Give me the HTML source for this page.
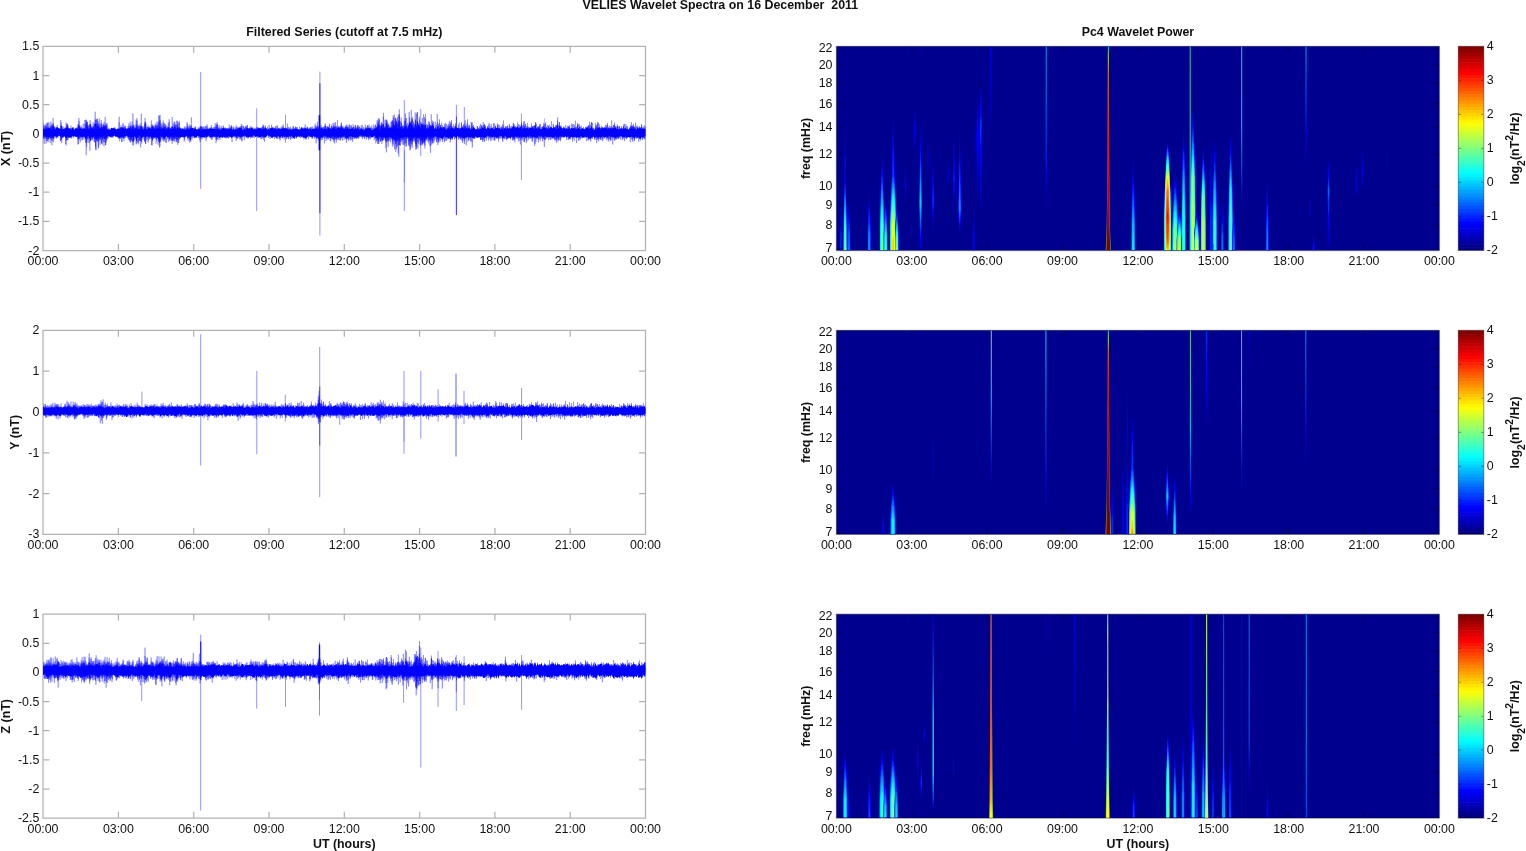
<!DOCTYPE html>
<html lang="en"><head><meta charset="utf-8"><title>VELIES Wavelet Spectra on 16 December 2011</title><style>html,body{margin:0;padding:0;background:#fff;overflow:hidden}svg{display:block}text{white-space:pre}</style></head><body>
<svg width="1526" height="851" viewBox="0 0 1526 851" font-family='"Liberation Sans", Arial, Helvetica, sans-serif' font-size="12.4" fill="#111">
<rect width="1526" height="851" fill="#fff"/>
<defs>
<filter id="bl" x="-5%" y="-5%" width="110%" height="110%"><feGaussianBlur stdDeviation="0.5"/></filter>
<filter id="bl2" x="-5%" y="-5%" width="110%" height="110%"><feGaussianBlur stdDeviation="0.3 0.6"/></filter>
<clipPath id="cs0"><rect x="836.4" y="46.3" width="603" height="204.2"/></clipPath>
<clipPath id="ct0"><rect x="43" y="46.3" width="602.5" height="204.2"/></clipPath>
<clipPath id="cs1"><rect x="836.4" y="330.3" width="603" height="204.1"/></clipPath>
<clipPath id="ct1"><rect x="43" y="330.3" width="602.5" height="204.1"/></clipPath>
<clipPath id="cs2"><rect x="836.4" y="614.2" width="603" height="203.9"/></clipPath>
<clipPath id="ct2"><rect x="43" y="614.2" width="602.5" height="203.9"/></clipPath>
</defs>
<text x="720.3" y="9.2" text-anchor="middle" font-weight="bold">VELIES Wavelet Spectra on 16 December&#160; 2011</text>
<text x="344.3" y="36.3" text-anchor="middle" font-weight="bold">Filtered Series (cutoff at 7.5 mHz)</text>
<text x="1137.9" y="36.3" text-anchor="middle" font-weight="bold">Pc4 Wavelet Power</text>
<path d="M43 46.3H645.5V250.5H43ZM118.4 250.5v-6.4M118.4 46.3v6.4M193.7 250.5v-6.4M193.7 46.3v6.4M269 250.5v-6.4M269 46.3v6.4M344.3 250.5v-6.4M344.3 46.3v6.4M419.6 250.5v-6.4M419.6 46.3v6.4M494.9 250.5v-6.4M494.9 46.3v6.4M570.2 250.5v-6.4M570.2 46.3v6.4M43 75.5h6.4M645.5 75.5h-6.4M43 104.6h6.4M645.5 104.6h-6.4M43 133.8h6.4M645.5 133.8h-6.4M43 163h6.4M645.5 163h-6.4M43 192.2h6.4M645.5 192.2h-6.4M43 221.3h6.4M645.5 221.3h-6.4" fill="none" stroke="#000" stroke-opacity="0.3" stroke-width="1.25"/>
<g clip-path="url(#ct0)">
<polyline points="43,121.7 44.3,144 45,124.3 46,143.5 47.2,123.1 48.1,142.1 49,122.4 50.2,143.1 50.9,121.5 51.9,145.3 53.3,123.1 53.9,139.1 54.8,126.9 55.9,138.1 57.3,125 57.9,137.8 59.1,129 60.2,136.5 60.8,120.1 62,138.2 63.2,126.9 64,135.6 65,128 66.1,145.6 67.2,123.4 68,140.3 68.9,127.8 69.8,138 71,125.7 72.2,136.5 73.3,127 74.1,137.3 74.9,130 76.1,135.8 76.9,127.7 77.9,144.6 78.9,118 80.3,142.1 81.1,125.4 81.8,140.4 83.3,123.4 84,139.7 84.9,120 86.2,155.3 87.1,122.2 88.2,142.9 89.1,127.6 89.9,150.7 90.8,124.3 92.2,140.3 93.1,122 94.1,142.6 95.2,111.7 96.1,150.4 97.3,118.8 98.2,148.7 99.3,118.4 100,144.8 101.2,120.1 102.3,144.9 103.2,123.7 104,146.4 105.2,116.9 106.1,142.6 107,123 108.2,138.2 108.9,127.7 109.9,135.4 111,129.3 111.9,136.8 113.3,128.2 114,136 115.3,127.7 115.9,135.3 116.9,130.2 118.1,138.7 119.2,116.7 120.2,138.6 120.9,126.8 122.1,142.1 123,122.8 124,141 125,125.5 126,136 127.3,128.9 128.3,139.7 128.9,123.4 130.2,142.7 131,124.9 131.9,141.5 132.9,113.3 134.3,140.1 135.2,127.9 136.1,144.6 136.9,118.1 138.3,144.3 139.1,124.4 140.2,141.1 141.3,113.6 142,139.7 143,126.6 143.9,139.5 145.1,118.1 146.3,140.5 147.2,126.8 148,142.7 149,128 150.2,139.2 151.3,120.4 152.1,145.5 152.9,125.9 154.4,138.3 155.3,123.4 156.2,143.6 156.9,121.4 158.1,144.9 159,116.1 159.9,146.3 161.1,122.8 162.2,140.5 163.2,120.4 164,141.9 165,123.8 166.3,143.1 167,126.4 168.2,139.2 169.2,119.2 170,140.9 170.9,127.5 172.2,143.8 173.2,127.7 174,141.5 174.9,122 176.2,142.3 176.9,120.7 178.1,142.5 179.3,121.2 180.3,137.1 181.2,127.8 182.2,137.4 183,129.1 184.2,141.5 185,126.1 186.3,135.6 187.1,122.1 188.2,140.9 189.3,124.3 190.1,140.4 191.4,117.4 192.2,139.2 193.1,127.8 194.4,137.8 195.3,126.3 195.9,135.8 197.1,130 198.3,137.5 199.3,129 200.2,142.2 201.4,126.8 202.1,139.5 203.3,126.1 204.1,137.2 205.1,127 206,141.2 207,124.4 208,137.2 209,127.8 210.1,137.4 211.4,125 212,140.1 213.2,126.9 214,138 215.2,123.1 216,143.2 217.1,122 218.1,140 219.2,125.2 220,139.8 221.2,125.9 222,137.9 223.4,126.5 224.2,137.4 225.3,128.1 226.4,138.5 227.1,128.3 228.4,138.6 229.2,124.5 230.4,136.1 231.4,125 232,142.1 233.3,126.2 234.2,138 235,127.2 236.1,140.9 237.1,126.6 238.2,137.9 239.1,127.1 240.1,137.7 241.4,123.9 242,141.6 243.3,125.8 244.3,140 245.1,126.3 246.3,137.9 247.3,124.9 248.3,138.4 249.5,128.4 250.4,138.4 251.2,126.5 252.1,138.1 253,127.6 254.1,137.9 255.3,128 256.4,136.1 257.1,126.8 258.2,137.8 259.1,128.1 260.4,137.4 261.4,129.2 262,138.3 263,124.3 264.4,141.9 265.2,126.6 266.2,136 267.5,126.7 268.4,138 269.1,125 270.1,139 271.5,124.9 272.5,136.4 273.2,127 274.2,137 275.4,126 276.1,137.9 277.1,125.3 278,139.1 279.1,128.6 280.1,140.7 281.2,129.2 282.4,138.2 283.5,126.8 284.1,139.7 285.1,127.5 286.3,139.2 287.3,123.5 288.4,139.2 289.3,127.6 290.5,139.7 291.1,128.4 292.2,138.8 293.1,126 294.5,138.9 295.5,126.5 296.3,138.6 297.4,129.8 298.3,136.3 299.5,126.4 300.4,138.1 301.3,128.5 302.2,138.1 303.4,128.3 304.1,139.4 305.2,124.4 306.1,139.8 307.2,127 308.5,139.3 309.3,128.1 310.4,137.2 311.1,126.9 312,139.1 313.1,127.8 314.4,138.8 315.1,123.6 316.1,143.4 317.4,121.7 318.3,140.5 319.1,126.3 320.3,140.6 321.1,125 322.2,139.9 323.3,127.1 324.5,143.4 325.2,123.7 326.1,141 327.4,125.8 328.5,139.1 329.4,123.6 330.2,141 331.5,126.1 332.1,138.8 333.1,122.9 334.4,143.5 335.4,122.2 336.3,142.5 337.4,120.2 338.2,140 339.5,127.2 340.2,140.5 341.4,122.4 342.5,140.6 343.3,126.4 344.1,140 345.4,126.9 346.5,142.7 347.2,127.3 348.5,139.6 349.1,125.2 350.4,139.1 351.5,126.5 352.5,141.8 353.1,124.1 354.5,138.9 355.4,124.9 356.5,139.2 357.4,125.3 358.2,138.8 359.4,126.4 360.4,137.1 361.2,125.4 362.3,139.1 363.5,127.1 364.5,139.2 365.3,124.5 366.4,139.7 367.5,125 368.5,140.1 369.1,124.7 370.2,139.4 371.2,127.7 372.3,136.4 373.2,124.2 374.2,140.4 375.5,124.8 376.3,140.6 377.2,119.9 378.2,144.1 379.3,118.6 380.5,141.5 381.4,121.9 382.5,141.1 383.5,112.9 384.6,137.8 385.1,119.7 386.4,152.3 387.2,122.8 388.2,146.8 389.1,124.6 390.5,142.4 391.1,122.1 392.4,146.6 393.2,115.5 394.5,149.4 395.3,119.5 396.1,149.2 397.6,117.1 398.2,153.5 399.3,109.3 400.2,145.9 401.2,117.4 402.3,144.5 403.1,124.7 404.1,145.4 405.4,113.4 406.3,146.3 407.6,122.9 408.6,145.7 409.1,112 410.4,149.5 411.2,109.8 412.1,147.9 413.5,121.5 414.3,141.1 415.2,112.4 416.3,149.1 417.2,112.3 418.4,143.7 419.3,116.7 420.6,145.7 421.4,122.3 422.5,144.6 423.6,114.3 424.2,142.7 425.5,114 426.3,140.1 427.4,124.9 428.4,143.4 429.4,121.7 430.5,152.8 431.2,114.2 432.4,142.7 433.5,121.6 434.3,140.4 435.2,121.6 436.6,142 437.2,113.9 438.4,142.8 439.4,119.4 440.4,141.6 441.6,122.5 442.6,142 443.2,128.8 444.5,142.3 445.5,123.1 446.4,140.4 447.5,127.8 448.1,138.5 449.4,121.1 450.3,142.4 451.5,122.8 452.3,139.7 453.6,124.2 454.5,139.3 455.5,123.3 456.6,136 457.4,128 458.4,139.9 459.2,122.7 460.2,139.5 461.5,123.5 462.5,143 463.5,125.6 464.4,144.1 465.2,120.3 466.2,145.2 467.6,119.3 468.5,139.7 469.2,125.2 470.3,141.5 471.2,121.9 472.3,147.5 473.5,125.1 474.4,138.7 475.6,129.4 476.2,136.1 477.2,126.1 478.6,136.7 479.6,126.2 480.5,139.9 481.3,124.9 482.5,141.8 483.2,122 484.4,142 485.4,126.3 486.2,140.8 487.5,126.1 488.6,140.5 489.2,122.9 490.6,140.8 491.2,123.7 492.5,137.2 493.6,123.3 494.4,140 495.6,126.1 496.6,138.5 497.5,125 498.5,141.6 499.6,127.9 500.3,138.9 501.5,127.6 502.5,140.2 503.5,120.5 504.5,139.4 505.3,126.1 506.6,140.3 507.5,125.5 508.4,137.6 509.3,123.8 510.6,139.7 511.2,129 512.5,140.6 513.3,123.2 514.6,139.2 515.6,126.2 516.4,137.8 517.5,122.5 518.4,141.4 519.2,126.7 520.4,144.5 521.5,122.1 522.5,137.6 523.7,121.4 524.4,142.1 525.5,123.9 526.4,142.9 527.6,122.9 528.7,140.1 529.4,126.9 530.3,138.9 531.4,123.3 532.6,141.6 533.4,125.8 534.7,145.9 535.6,122.1 536.3,138.5 537.5,128.7 538.6,142.3 539.7,124.1 540.3,140.8 541.3,127 542.5,141.5 543.5,126.1 544.3,147 545.7,122.3 546.3,137.4 547.6,124.9 548.6,140.3 549.2,124.8 550.2,140 551.5,121.2 552.3,139.2 553.3,123.8 554.7,139.7 555.5,125 556.4,142.9 557.7,117.4 558.4,140 559.3,122 560.4,141.4 561.5,125.6 562.6,137 563.6,126.6 564.3,137.9 565.5,125.1 566.7,139.9 567.3,125.7 568.3,139.9 569.4,124.9 570.7,139.4 571.4,123.5 572.5,141.7 573.4,128 574.3,140.6 575.4,120.7 576.5,143 577.6,122.8 578.5,140.8 579.6,126.4 580.7,138.9 581.3,125.8 582.6,138 583.4,126.8 584.4,137.4 585.3,127.8 586.6,141.3 587.7,127.2 588.4,139.7 589.6,121.5 590.7,141.6 591.5,122.2 592.4,138.9 593.3,127.9 594.7,139.5 595.4,123.1 596.6,143 597.5,122 598.7,141.4 599.4,124.4 600.7,140.1 601.7,127.3 602.7,141.2 603.4,127.4 604.4,138.4 605.5,124.7 606.7,140.3 607.6,124.8 608.4,141.5 609.5,125.6 610.4,140.5 611.7,120.4 612.7,144.5 613.4,125.2 614.8,141.1 615.5,127.7 616.5,139 617.3,124.5 618.4,138.7 619.7,125.8 620.6,139.8 621.7,126.1 622.3,140.1 623.7,124.2 624.5,141.1 625.8,124.1 626.7,139.3 627.5,126.1 628.6,137 629.8,127.1 630.3,142.4 631.4,122.3 632.5,141.6 633.4,123.9 634.6,140.6 635.6,122.7 636.6,138.8 637.3,125.4 638.7,141.7 639.4,126.1 640.3,140.7 641.7,124.4 642.4,140.1 643.4,126.4 644.5,139.4 645.4,126.6" fill="none" stroke="#00f" stroke-width="0.8" stroke-opacity="0.36" stroke-linejoin="bevel"/>
<polyline points="43,124.2 43.6,137.7 44.1,125.4 44.6,138.4 45.1,125.8 45.6,138.7 46.1,124.5 46.6,141.3 47.1,122.5 47.6,138.8 48.1,122.4 48.6,139.6 49.1,129 49.6,138.1 50.1,128.3 50.6,138 51.1,127.8 51.6,138.2 52.1,123.5 52.6,141.1 53.1,118 53.6,142.1 54.1,126.3 54.6,136.3 55.1,129.4 55.6,135 56.1,126.9 56.6,138.7 57.1,128.9 57.6,137.3 58.1,128.6 58.6,135 59.1,131.5 59.6,136.1 60.1,128.8 60.6,140.2 61.1,122.6 61.6,143.1 62.1,128.3 62.6,137.6 63.1,128.9 63.6,134.4 64.1,131.7 64.6,134.7 65.1,127.4 65.6,144 66.1,122.6 66.6,140.6 67.1,124 67.6,139.9 68.1,125 68.6,138 69.1,128.3 69.6,135.5 70.1,129.9 70.6,136.3 71.1,128 71.6,138.8 72.1,130 72.6,136.7 73.1,127.4 73.6,137.8 74.1,128.2 74.6,135.8 75.1,130.4 75.6,134 76.1,130.5 76.6,135.2 77.1,127.5 77.6,139.2 78.1,124 78.6,144 79.1,121 79.6,139.7 80.1,127 80.6,137.2 81.1,126.6 81.6,136.8 82.1,127.4 82.6,140.1 83.1,127.8 83.6,137.7 84.1,128.6 84.6,137.6 85.1,124.2 85.6,138.8 86.1,119.6 86.6,146.8 87.1,121.6 87.6,137.8 88.1,125.4 88.6,138.8 89.1,125.2 89.6,142.5 90.1,124.7 90.6,140.7 91.1,127.4 91.6,139.5 92.1,126.8 92.6,137.9 93.1,126.5 93.6,138 94.1,124 94.6,142 95.1,119.7 95.6,149.6 96.1,118.9 96.6,140.7 97.1,118.9 97.6,139.5 98.1,123.4 98.6,147.3 99.1,123.6 99.6,140 100.1,126.9 100.6,140.4 101.1,123.6 101.6,143.2 102.1,127.4 102.6,140.6 103.1,126.7 103.6,142.3 104.1,121.8 104.6,142.1 105.1,124.8 105.6,145.2 106.1,123.3 106.6,140.8 107.1,125.7 107.6,139.3 108.1,129 108.6,134.9 109.1,129.6 109.6,135.1 110.1,130.8 110.6,134.9 111.1,130.1 111.6,135.2 112.1,128.2 112.6,137.7 113.1,129.7 113.6,135.9 114.1,130.6 114.6,134.9 115.1,129.4 115.6,135.2 116.1,130.9 116.6,135.1 117.1,130.2 117.6,135 118.1,128.3 118.6,138.4 119.1,122.4 119.6,141.4 120.1,127.1 120.6,138.6 121.1,125.2 121.6,141.9 122.1,127.1 122.6,137.6 123.1,124.5 123.6,138.6 124.1,127.6 124.6,138.4 125.1,126.7 125.6,137.9 126.1,128.1 126.6,136.9 127.1,128.2 127.6,137.8 128.1,127.8 128.6,139.1 129.1,128.5 129.6,140.9 130.1,121.8 130.6,142.1 131.1,125.7 131.6,138.8 132.1,121.5 132.6,145.3 133.1,124.5 133.6,145.4 134.1,125 134.6,137.2 135.1,128.1 135.6,139.2 136.1,119.8 136.6,143.5 137.1,120.6 137.6,142.7 138.1,126.4 138.6,142.4 139.1,126.5 139.6,140.8 140.1,125.1 140.6,147.4 141.1,123.1 141.6,143.5 142.1,126 142.6,137.3 143.1,129.5 143.6,136.8 144.1,126.6 144.6,140.6 145.1,122.3 145.6,144 146.1,123.3 146.6,136.5 147.1,126.7 147.6,139.2 148.1,125.4 148.6,140.8 149.1,126.7 149.6,139.3 150.1,128.1 150.6,136.3 151.1,128.9 151.6,145 152.1,125.7 152.6,139.5 153.1,125.2 153.6,139.2 154.1,127.6 154.6,138.1 155.1,125.1 155.6,139.1 156.1,124.9 156.6,140.8 157.1,124.4 157.6,138.3 158.1,122.2 158.6,140 159.1,114.9 159.6,147.8 160.1,114.9 160.6,141.9 161.1,124.4 161.6,137.6 162.1,125.9 162.6,138.9 163.1,123.2 163.7,140.8 164.2,122.7 164.7,139 165.2,124.3 165.7,142.5 166.2,125.4 166.7,136.3 167.2,128.4 167.7,139.5 168.2,123.1 168.7,142.1 169.2,121.6 169.7,140.5 170.2,129.2 170.7,136.8 171.2,126.7 171.7,140.4 172.2,117 172.7,140.3 173.2,123.1 173.7,140 174.2,121.3 174.7,141.3 175.2,124.3 175.7,138.6 176.2,125.4 176.7,141.9 177.2,120.8 177.7,144.8 178.2,122.4 178.7,143.1 179.2,122.5 179.7,139.6 180.2,129.8 180.7,136.6 181.2,130.1 181.7,135.8 182.2,130.1 182.7,134.9 183.2,130.5 183.7,137.7 184.2,127.1 184.7,140 185.2,128.4 185.7,137.3 186.2,127.7 186.7,137 187.2,123.8 187.7,138.9 188.2,125.8 188.7,138.2 189.2,126.6 189.7,142.5 190.2,126.3 190.7,140.1 191.2,125 191.7,135.7 192.2,129.4 192.7,135.5 193.2,129 193.7,137.9 194.2,127.4 194.7,138.4 195.2,127.1 195.7,135.9 196.2,131.1 196.7,135.6 197.2,130.2 197.7,135.9 198.2,127.3 198.7,138 199.2,128.8 199.7,140.2 200.2,126 200.7,137.1 201.2,125.9 201.7,138.7 202.2,127.2 202.7,137.2 203.2,128.7 203.7,137.2 204.2,127.6 204.7,136 205.2,126 205.7,138.3 206.2,125.8 206.7,138.5 207.2,126.4 207.7,136.9 208.2,128.9 208.7,136.4 209.2,128.4 209.7,137.8 210.2,127.4 210.7,138.6 211.2,127.1 211.7,139.3 212.2,128.2 212.7,136.7 213.2,128.5 213.7,136.8 214.2,126.9 214.7,135.3 215.2,126.9 215.7,138.7 216.2,124.7 216.7,138.5 217.2,124.1 217.7,139 218.2,127.6 218.7,136.7 219.2,127.9 219.7,136.8 220.2,127.5 220.7,135.6 221.2,128 221.7,136.4 222.2,127.9 222.7,137.2 223.2,125.3 223.7,137.6 224.2,128.2 224.7,136.9 225.2,127.3 225.7,138.3 226.2,128 226.7,136.8 227.2,128.4 227.7,135.3 228.2,129.2 228.7,137.8 229.2,128 229.7,137.5 230.2,127.2 230.7,137.1 231.2,125.9 231.7,138.3 232.2,126.8 232.7,136.5 233.2,128.3 233.7,137 234.2,130.9 234.7,135.7 235.2,128.6 235.7,137.4 236.2,125.3 236.7,138.9 237.2,127.4 237.7,139.1 238.2,128.5 238.7,136.6 239.2,127.1 239.7,139.5 240.2,126 240.7,137.5 241.2,128.1 241.7,140.6 242.2,125.3 242.7,137 243.2,126.4 243.7,136.7 244.2,129.6 244.7,137.2 245.2,127.2 245.7,136.3 246.2,126 246.7,137.7 247.2,125.3 247.7,138.6 248.2,129.5 248.7,135.7 249.2,127.9 249.7,137.1 250.2,126.3 250.7,137 251.2,129.5 251.7,137.4 252.2,129.8 252.7,135.6 253.2,129.8 253.7,137.7 254.2,128.1 254.7,136 255.2,130.1 255.7,137 256.2,127.4 256.7,136.5 257.2,129.1 257.7,137.4 258.2,127.3 258.7,137.8 259.2,127.6 259.7,136.7 260.2,127.9 260.7,138.9 261.2,127.3 261.7,139.2 262.2,127.4 262.7,137.8 263.2,125.7 263.7,139.6 264.2,127.4 264.7,137.8 265.2,125.3 265.7,138.1 266.2,128.2 266.7,135.3 267.2,128.9 267.7,135 268.2,129.5 268.7,136.3 269.2,129.1 269.7,137.1 270.2,127.9 270.7,136.6 271.2,128.4 271.7,137.9 272.2,129 272.7,138.2 273.2,129.8 273.7,135.9 274.2,128.8 274.7,139.1 275.2,127.6 275.7,137 276.2,127.8 276.7,139 277.2,125.7 277.7,138.5 278.2,128.2 278.7,136.5 279.2,127.7 279.7,139.3 280.2,128.6 280.7,137.7 281.2,126.8 281.7,137.9 282.2,125.7 282.7,138 283.2,124.3 283.7,137.1 284.3,128 284.8,137.6 285.3,128.3 285.8,136.4 286.3,127.9 286.8,138.6 287.3,127.8 287.8,137.3 288.3,126.7 288.8,139.1 289.3,128.6 289.8,136.9 290.3,126.7 290.8,139.4 291.3,129 291.8,137.9 292.3,128.6 292.8,136.3 293.3,126.4 293.8,136.1 294.3,129.7 294.8,138.2 295.3,127.5 295.8,137.5 296.3,126.9 296.8,137.8 297.3,127 297.8,135.6 298.3,130.2 298.8,136.5 299.3,129.1 299.8,136.6 300.3,129.3 300.8,135.7 301.3,129 301.8,136.4 302.3,127.4 302.8,135.7 303.3,127.8 303.8,136.6 304.3,127 304.8,137.4 305.3,128 305.8,138.4 306.3,127.8 306.8,137.8 307.3,126.5 307.8,137 308.3,129 308.8,136.5 309.3,127.6 309.8,136.9 310.3,127.1 310.8,136.2 311.3,127.8 311.8,137.4 312.3,126.3 312.8,138.6 313.3,129.2 313.8,136.1 314.3,127.8 314.8,137.5 315.3,125.6 315.8,136.1 316.3,126 316.8,139.1 317.3,125 317.8,138.4 318.3,126.8 318.8,138.6 319.3,126.4 319.8,139 320.3,126.9 320.8,137.3 321.3,127.4 321.8,140.1 322.3,126.9 322.8,137.6 323.3,127 323.8,137 324.3,128.3 324.8,139 325.3,124.6 325.8,136.9 326.3,126.2 326.8,138.5 327.3,127.6 327.8,139.9 328.3,126.9 328.8,138.2 329.3,125 329.8,137.9 330.3,128.6 330.8,141.5 331.3,124.5 331.8,138.8 332.3,126.9 332.8,140.1 333.3,125.3 333.8,141.9 334.3,122.8 334.8,139.7 335.3,126.2 335.8,139.4 336.3,125.8 336.8,139.5 337.3,126.5 337.8,139.5 338.3,125.9 338.8,138.2 339.3,126.6 339.8,140.4 340.3,125.7 340.8,139.5 341.3,123.6 341.8,136.8 342.3,125.5 342.8,137.2 343.3,128.8 343.8,137.6 344.3,127.5 344.8,137.5 345.3,125.7 345.8,138.8 346.3,124.5 346.8,140 347.3,125.1 347.8,138 348.3,127.5 348.8,141 349.3,124.2 349.8,139.6 350.3,125.6 350.8,140.4 351.3,125 351.8,139.9 352.3,128.2 352.8,138.8 353.3,127 353.8,138.8 354.3,126.6 354.8,138 355.3,125.3 355.8,138.7 356.3,128.3 356.8,138 357.3,125.8 357.8,137.9 358.3,125 358.8,138.6 359.3,127 359.8,137 360.3,127.9 360.8,135.9 361.3,128.6 361.8,137.2 362.3,124.8 362.8,137.5 363.3,128.6 363.8,136.7 364.3,128.7 364.8,135.6 365.3,127.4 365.8,136.8 366.3,127.3 366.8,137 367.3,126 367.8,138 368.3,125.8 368.8,138 369.3,128.3 369.8,138.9 370.3,127.9 370.8,137 371.3,125.8 371.8,136.8 372.3,128 372.8,136.4 373.3,128.9 373.8,137.2 374.3,126.2 374.8,138.1 375.3,124.5 375.8,143.4 376.3,127.9 376.8,141.7 377.3,122.5 377.8,144 378.3,117.9 378.8,143.6 379.3,119.9 379.8,137.1 380.3,125.3 380.8,140.5 381.3,123.4 381.8,143.9 382.3,124.8 382.8,139.5 383.3,116.6 383.8,139.9 384.3,126.1 384.8,138.4 385.3,127.8 385.8,148.1 386.3,119.5 386.8,142.7 387.3,120.7 387.8,141.4 388.3,123.2 388.8,141.2 389.3,126.5 389.8,140.1 390.3,127.1 390.8,138.9 391.3,121.4 391.8,137.6 392.3,120.5 392.8,143.9 393.3,117.6 393.8,145.4 394.3,114.5 394.8,141.3 395.3,118.3 395.8,152.1 396.3,118.7 396.8,140.4 397.3,123.4 397.8,145.9 398.3,114.5 398.8,156.7 399.3,114 399.8,144.8 400.3,121 400.8,141.2 401.3,123 401.8,141.9 402.3,126.1 402.8,139.3 403.3,126.2 403.8,144.6 404.3,120.8 404.9,143.1 405.4,118.1 405.9,146.7 406.4,118 406.9,139.2 407.4,126.9 407.9,138.5 408.4,124.3 408.9,144.7 409.4,117.3 409.9,150.4 410.4,121.9 410.9,143.6 411.4,118.5 411.9,145.8 412.4,116.9 412.9,142 413.4,123.2 413.9,139.6 414.4,123.9 414.9,142.4 415.4,119.3 415.9,146.3 416.4,113.7 416.9,147.2 417.4,112.1 417.9,148.5 418.4,124.4 418.9,138.7 419.4,119.6 419.9,144.8 420.4,122.1 420.9,142.6 421.4,125.1 421.9,143.7 422.4,118 422.9,142.4 423.4,123 423.9,143.4 424.4,117 424.9,148.4 425.4,118.9 425.9,141.1 426.4,124.2 426.9,139.2 427.4,124.7 427.9,141.5 428.4,121.4 428.9,140.6 429.4,123.6 429.9,146.2 430.4,126.2 430.9,145.3 431.4,125.5 431.9,144.4 432.4,120.6 432.9,143.5 433.4,124.4 433.9,142.8 434.4,127.9 434.9,138.3 435.4,128 435.9,139.9 436.4,124.5 436.9,142.4 437.4,122.1 437.9,145.1 438.4,123.9 438.9,142.1 439.4,123 439.9,138.4 440.4,124.9 440.9,137.5 441.4,127.9 441.9,139.7 442.4,125.3 442.9,139.6 443.4,127.3 443.9,138.7 444.4,123.7 444.9,140.9 445.4,126.5 445.9,140.8 446.4,124.1 446.9,136.9 447.4,125.3 447.9,139.6 448.4,123.9 448.9,137.7 449.4,125.5 449.9,138.7 450.4,121.9 450.9,139.4 451.4,120 451.9,137.8 452.4,126.2 452.9,136.3 453.4,127.7 453.9,137 454.4,126.4 454.9,138.9 455.4,126.6 455.9,136.8 456.4,127.2 456.9,135.8 457.4,127.6 457.9,137.4 458.4,125.2 458.9,137.7 459.4,129.3 459.9,138.6 460.4,128.3 460.9,138.3 461.4,122.1 461.9,140.8 462.4,126.2 462.9,140.5 463.4,124.4 463.9,138.7 464.4,123.5 464.9,138.1 465.4,125.8 465.9,139.5 466.4,124.7 466.9,136.9 467.4,122.8 467.9,141.7 468.4,125.7 468.9,140.3 469.4,125.6 469.9,136.3 470.4,129.5 470.9,140.7 471.4,123 471.9,142.4 472.4,122.4 472.9,138.1 473.4,127 473.9,138.8 474.4,128.2 474.9,139.1 475.4,129.1 475.9,137 476.4,129.2 476.9,137.9 477.4,126 477.9,137.6 478.4,127.6 478.9,135.8 479.4,128.2 479.9,136 480.4,123.7 480.9,139.5 481.4,125.6 481.9,139.7 482.4,125.8 482.9,140 483.4,125 483.9,140.9 484.4,124 484.9,137.9 485.4,125.4 485.9,137.4 486.4,128.6 486.9,138.6 487.4,126.9 487.9,136.5 488.4,124.7 488.9,138.2 489.4,127.6 489.9,138.7 490.4,126.2 490.9,137.3 491.4,127.9 491.9,140.5 492.4,127.4 492.9,137.5 493.4,127 493.9,140.4 494.4,123.2 494.9,140.8 495.4,125.5 495.9,138.5 496.4,129.8 496.9,137.9 497.4,123.2 497.9,137 498.4,124.4 498.9,139 499.4,124.9 499.9,136.4 500.4,127.1 500.9,137.6 501.4,126.2 501.9,138.3 502.4,124.2 502.9,141.9 503.4,125.3 503.9,138 504.4,128.8 504.9,138.2 505.4,127.3 505.9,139.1 506.4,126.3 506.9,139.4 507.4,126.1 507.9,139 508.4,128.7 508.9,137.6 509.4,125.7 509.9,138.3 510.4,126.5 510.9,136.2 511.4,125.8 511.9,137.1 512.4,126.3 512.9,139.6 513.4,123.1 513.9,140.1 514.4,124.2 514.9,142.3 515.4,126.6 515.9,137.1 516.4,127.9 516.9,138.7 517.4,126.1 517.9,138.4 518.4,124 518.9,136.4 519.4,124.6 519.9,140.9 520.4,125.8 520.9,139.8 521.4,124.1 521.9,139.5 522.4,125.4 522.9,140.4 523.4,124.5 523.9,142 524.4,121.2 524.9,140.3 525.5,124.2 526,138.7 526.5,126 527,140.8 527.5,126.5 528,137.4 528.5,126.8 529,138.5 529.5,127.9 530,137.8 530.5,128.3 531,138.6 531.5,125.8 532,141.5 532.5,126 533,137.1 533.5,126 534,138.9 534.5,125.8 535,144 535.5,122.7 536,141.9 536.5,123.8 537,137 537.5,126.8 538,139.9 538.5,126.3 539,136.8 539.5,125.8 540,139.2 540.5,123.9 541,135.8 541.5,129.6 542,138.8 542.5,126.2 543,139.2 543.5,123.3 544,138.8 544.5,123.8 545,140 545.5,124.4 546,139.2 546.5,127.9 547,138.7 547.5,127.8 548,136.2 548.5,125.8 549,136.7 549.5,127.7 550,138.4 550.5,126.4 551,137.4 551.5,127 552,136.5 552.5,128 553,138 553.5,125.3 554,139.1 554.5,127.7 555,140.7 555.5,127.2 556,140.5 556.5,124.9 557,139.6 557.5,121 558,141.6 558.5,125.4 559,140.3 559.5,122.3 560,139.8 560.5,125.6 561,138.8 561.5,127.5 562,136.9 562.5,129.1 563,136.1 563.5,127.1 564,137.1 564.5,127.3 565,136.4 565.5,128.8 566,136.4 566.5,127.7 567,136.7 567.5,127.8 568,136.3 568.5,126.3 569,139.8 569.5,126.6 570,138.3 570.5,128.4 571,137.4 571.5,128 572,136.8 572.5,124.3 573,138.3 573.5,124 574,135.9 574.5,125.2 575,136 575.5,127 576,137.5 576.5,126.8 577,137.8 577.5,124.5 578,136.4 578.5,124.4 579,139.4 579.5,124 580,140.5 580.5,126.9 581,137.7 581.5,129 582,138.1 582.5,129.5 583,135.6 583.5,128.7 584,136.4 584.5,129.3 585,137.7 585.5,128.5 586,137.1 586.5,126.5 587,136.7 587.5,126.4 588,140.6 588.5,125.5 589,138.4 589.5,125.4 590,139.4 590.5,124.5 591,137.9 591.5,122.3 592,137.8 592.5,122.8 593,137.1 593.5,128.2 594,137.2 594.5,129.8 595,139.9 595.5,126.1 596,137.4 596.5,124.6 597,137.7 597.5,123.9 598,140.2 598.5,122.2 599,138.7 599.5,127.1 600,137.9 600.5,127.5 601,139.9 601.5,126.2 602,138.7 602.5,127.4 603,139.5 603.5,128.9 604,137.6 604.5,126.9 605,138.4 605.5,127.2 606,137 606.5,124.9 607,138.6 607.5,123 608,139.5 608.5,127 609,138.6 609.5,129.5 610,140.5 610.5,126.5 611,140.5 611.5,126.3 612,138.3 612.5,127.3 613,137.2 613.5,125.1 614,139.8 614.5,122.6 615,139.4 615.5,126.1 616,139.7 616.5,126.7 617,138.7 617.5,126.8 618,139.2 618.5,126.2 619,138.3 619.5,126.6 620,137.2 620.5,128.4 621,136.3 621.5,127.7 622,136.4 622.5,128.3 623,138.9 623.5,126.2 624,138.7 624.5,123.8 625,137.8 625.5,127.5 626,138.6 626.5,126.1 627,136.5 627.5,128.1 628,136.2 628.5,129.1 629,136.7 629.5,128 630,137.8 630.5,125.3 631,136.8 631.5,126.4 632,139.7 632.5,125.5 633,136.9 633.5,125.8 634,141.6 634.5,126.7 635,136.5 635.5,126.6 636,137.9 636.5,126.5 637,138.1 637.5,128 638,138.1 638.5,127.2 639,138 639.5,127.3 640,138.7 640.5,127.1 641,137.1 641.5,124.7 642,139.2 642.5,127.7 643,136.6 643.5,127.8 644,138.7 644.5,125.4 645,138.3 645.5,127.1" fill="none" stroke="#00f" stroke-width="0.8" stroke-opacity="0.34" stroke-linejoin="bevel"/>
<polyline points="43,125.9 43.6,139 44.1,128.2 44.6,136.8 45.1,129.1 45.6,136.7 46.1,125.8 46.6,139 47.1,127.8 47.6,141 48.1,127.4 48.6,139.1 49.1,127.8 49.6,137.5 50.1,126.2 50.6,139.1 51.1,125.1 51.6,140.6 52.1,126.3 52.6,138.4 53.1,126.8 53.6,137.2 54.1,126.6 54.6,134.6 55.1,131.2 55.6,135.2 56.1,129.5 56.6,136.5 57.1,130.5 57.6,135.5 58.1,130.9 58.6,135.1 59.1,131.1 59.6,135 60.1,128.6 60.6,141.3 61.1,125.4 61.6,139.9 62.1,126 62.6,136.8 63.1,130.1 63.6,135 64.1,131 64.6,134.8 65.1,129.6 65.6,136.1 66.1,127.5 66.6,140.1 67.1,124.7 67.6,136.9 68.1,127.4 68.6,137.5 69.1,128.9 69.6,134.6 70.1,130.7 70.6,135.7 71.1,130 71.6,137.5 72.1,131.3 72.6,135 73.1,129.4 73.6,136.4 74.1,129.3 74.6,133.9 75.1,131.3 75.6,134.3 76.1,130.6 76.6,134.6 77.1,129.1 77.6,136.3 78.1,124.7 78.6,138.4 79.1,125.7 79.6,138 80.1,128.1 80.6,137.6 81.1,128.6 81.6,135.8 82.1,128.9 82.6,137 83.1,129.9 83.6,136.1 84.1,129.4 84.6,136 85.1,128.3 85.6,142.8 86.1,119.9 86.6,142.4 87.1,121.9 87.6,139.4 88.1,125.3 88.6,136.6 89.1,127.9 89.6,138.6 90.1,120.3 90.6,140.2 91.1,126.5 91.6,136.8 92.1,129.2 92.6,139.3 93.1,126.5 93.6,136.7 94.1,126 94.6,139.4 95.1,123 95.6,146.6 96.1,120.1 96.6,140.8 97.1,124.1 97.6,141.8 98.1,121.5 98.6,141.1 99.1,125.7 99.6,138.8 100.1,128.9 100.6,138.8 101.1,123.3 101.6,143.5 102.1,125.3 102.6,137.8 103.1,124.6 103.6,138.6 104.1,126.2 104.6,138.4 105.1,127.7 105.6,144.9 106.1,124.6 106.6,135.9 107.1,129.2 107.6,135 108.1,128.7 108.6,135.2 109.1,130.8 109.6,134.9 110.1,130.3 110.6,134.2 111.1,130.9 111.6,134.7 112.1,129 112.6,136.1 113.1,130.2 113.6,134.3 114.1,130.4 114.6,134.6 115.1,129.8 115.6,135.4 116.1,131.2 116.6,134.3 117.1,130.9 117.6,134.1 118.1,129.9 118.6,137.8 119.1,128.7 119.6,138.1 120.1,127.8 120.6,137.6 121.1,127.4 121.6,136.7 122.1,127.4 122.6,137.7 123.1,127.5 123.6,138.6 124.1,127.6 124.6,137.1 125.1,126.4 125.6,136.8 126.1,129.5 126.6,136 127.1,130.2 127.6,135.8 128.1,126 128.6,135.6 129.1,128.4 129.6,140.3 130.1,127.3 130.6,139.9 131.1,128.5 131.6,140.5 132.1,126.9 132.6,141.7 133.1,126.4 133.6,141.8 134.1,126.8 134.6,135.7 135.1,128.8 135.6,137.5 136.1,124.2 136.6,140.4 137.1,125 137.6,137.9 138.1,125.9 138.6,137.6 139.1,128.7 139.6,140.3 140.1,126.3 140.6,140.9 141.1,126 141.6,141.6 142.1,127.1 142.6,136.3 143.1,129.6 143.6,136.8 144.1,127.9 144.6,141.9 145.1,121.8 145.6,143.7 146.1,128 146.6,136.8 147.1,129.2 147.6,136.7 148.1,127.2 148.6,137.5 149.1,126.8 149.6,135.6 150.1,128.8 150.6,137.2 151.1,126.7 151.6,139.1 152.1,124.2 152.6,140.9 153.1,126.3 153.6,136.7 154.1,128.6 154.6,137.7 155.1,125.9 155.6,137.2 156.1,126.2 156.6,138.4 157.1,126.2 157.6,137.8 158.1,125.5 158.6,141.6 159.1,121.8 159.6,142.6 160.1,120.1 160.6,139.7 161.1,127.1 161.6,137.4 162.1,128.2 162.6,136.3 163.1,125.3 163.7,138.9 164.2,126.9 164.7,139.9 165.2,126.2 165.7,136.3 166.2,128 166.7,135.8 167.2,128.3 167.7,136.2 168.2,127.5 168.7,136.9 169.2,127.9 169.7,138.8 170.2,128.6 170.7,138.1 171.2,128.3 171.7,140.4 172.2,126.7 172.7,141.1 173.2,127.5 173.7,136.6 174.2,125.5 174.7,138.4 175.2,124.9 175.7,138.8 176.2,128.4 176.7,140.2 177.2,124.1 177.7,140 178.2,126.3 178.7,138.4 179.2,127.8 179.7,138.7 180.2,129.3 180.7,135.6 181.2,130.5 181.7,135.1 182.2,129.7 182.7,134.5 183.2,130.7 183.7,136.5 184.2,128.2 184.7,136.6 185.2,130.5 185.7,134.6 186.2,129.5 186.7,135.4 187.2,129.8 187.7,137.7 188.2,128.5 188.7,137.4 189.2,129.9 189.7,139.2 190.2,128 190.7,141.6 191.2,126.1 191.7,135.9 192.2,128.6 192.7,135.2 193.2,130 193.7,135.7 194.2,128 194.7,137.5 195.2,129.5 195.7,135.4 196.2,130.9 196.7,134.7 197.2,130.7 197.7,135.4 198.2,129.2 198.7,135.7 199.2,128.5 199.7,137.4 200.2,126.8 200.7,138.2 201.2,127.4 201.7,136.1 202.2,126.9 202.7,137.1 203.2,129.6 203.7,135.8 204.2,129.3 204.7,135.5 205.2,129.8 205.7,136.5 206.2,128.9 206.7,134.9 207.2,128.5 207.7,134.7 208.2,129.2 208.7,135.6 209.2,129.9 209.7,136.4 210.2,129.9 210.7,135.3 211.2,128.6 211.7,136.8 212.2,129.1 212.7,135.6 213.2,130.1 213.7,135.7 214.2,129.3 214.7,136.8 215.2,128.4 215.7,136.5 216.2,126.4 216.7,140.5 217.2,124.2 217.7,136.7 218.2,127.7 218.7,135.9 219.2,129.7 219.7,135.6 220.2,130.1 220.7,134.9 221.2,128.8 221.7,135.8 222.2,128.9 222.7,136.7 223.2,128.4 223.7,136 224.2,129.3 224.7,135.9 225.2,128.8 225.7,136.4 226.2,128.3 226.7,135.9 227.2,130 227.7,136.4 228.2,127.8 228.7,136.4 229.2,129.3 229.7,134.7 230.2,128.1 230.7,136.7 231.2,126.9 231.7,135.8 232.2,130.2 232.7,136.9 233.2,130.1 233.7,135.3 234.2,130.9 234.7,135.5 235.2,129.9 235.7,136.1 236.2,128.2 236.7,136.3 237.2,128.9 237.7,137.6 238.2,129.3 238.7,136.1 239.2,129.1 239.7,136.5 240.2,127.9 240.7,139.3 241.2,126.3 241.7,136.2 242.2,130.3 242.7,135.8 243.2,130.8 243.7,134.6 244.2,130 244.7,135.4 245.2,128.8 245.7,136.6 246.2,126.8 246.7,136.2 247.2,128.7 247.7,136.9 248.2,128.4 248.7,135.6 249.2,130 249.7,134.7 250.2,128.3 250.7,135.7 251.2,128.7 251.7,136.1 252.2,129 252.7,135.7 253.2,129 253.7,134.8 254.2,129.6 254.7,135.3 255.2,129.3 255.7,135.3 256.2,129.9 256.7,135.3 257.2,127.9 257.7,136.5 258.2,129.7 258.7,136.2 259.2,130.1 259.7,137.1 260.2,127.9 260.7,136.5 261.2,128.8 261.7,135.1 262.2,127.5 262.7,136.8 263.2,126 263.7,136.2 264.2,128.4 264.7,137 265.2,127.7 265.7,136.4 266.2,128.4 266.7,135.6 267.2,130 267.7,134.8 268.2,128.7 268.7,135.9 269.2,128.5 269.7,136.5 270.2,128.5 270.7,135.7 271.2,127.9 271.7,137.4 272.2,128.5 272.7,136.1 273.2,129.1 273.7,135.5 274.2,128 274.7,136.8 275.2,128.9 275.7,135.8 276.2,129.5 276.7,136.9 277.2,128.6 277.7,135.9 278.2,128.8 278.7,136.2 279.2,129.1 279.7,137.8 280.2,128.8 280.7,135.3 281.2,128.9 281.7,135.6 282.2,127.7 282.7,137.4 283.2,128.7 283.7,137 284.3,129.5 284.8,135.6 285.3,130.8 285.8,134.6 286.3,129.7 286.8,137.3 287.3,130 287.8,136.4 288.3,129.5 288.8,136.4 289.3,130 289.8,136.2 290.3,128.6 290.8,135.8 291.3,129.3 291.8,136 292.3,128.6 292.8,136.4 293.3,128.9 293.8,136.1 294.3,130.2 294.8,135.6 295.3,129 295.8,136.5 296.3,127.9 296.8,135.3 297.3,130.4 297.8,134.7 298.3,130.1 298.8,135.1 299.3,129.9 299.8,136.2 300.3,130 300.8,134.8 301.3,129.9 301.8,135.6 302.3,129.1 302.8,136.6 303.3,129.7 303.8,136 304.3,128.8 304.8,137.7 305.3,128.2 305.8,137.4 306.3,129.4 306.8,136.4 307.3,127.8 307.8,135.1 308.3,130.5 308.8,135.9 309.3,129.1 309.8,136.6 310.3,128.3 310.8,136.8 311.3,129.8 311.8,135.7 312.3,129 312.8,135.2 313.3,130.4 313.8,135.2 314.3,129.3 314.8,136.5 315.3,129.8 315.8,136.6 316.3,128.2 316.8,137.8 317.3,127 317.8,137.6 318.3,128.6 318.8,138.6 319.3,125.8 319.8,136.9 320.3,127.8 320.8,137.9 321.3,128 321.8,137.6 322.3,128.2 322.8,137.9 323.3,129.6 323.8,137.3 324.3,126.2 324.8,136.7 325.3,126.1 325.8,138.1 326.3,128.6 326.8,137.2 327.3,127 327.8,136.6 328.3,128.6 328.8,135.2 329.3,130.1 329.8,136.4 330.3,128.3 330.8,137.9 331.3,127.4 331.8,138 332.3,128.1 332.8,139.1 333.3,126.1 333.8,140 334.3,127.9 334.8,138.1 335.3,126.5 335.8,139.1 336.3,127.3 336.8,138.2 337.3,128.9 337.8,138 338.3,128.9 338.8,138 339.3,128.3 339.8,137.3 340.3,127.2 340.8,138.4 341.3,125.8 341.8,137.6 342.3,129.9 342.8,136.8 343.3,130.1 343.8,136.4 344.3,128.3 344.8,137.5 345.3,127.1 345.8,138.6 346.3,126.5 346.8,138.5 347.3,127.2 347.8,138.4 348.3,127.1 348.8,136.9 349.3,128.1 349.8,135.8 350.3,129.2 350.8,135.5 351.3,128.5 351.8,137.4 352.3,127.3 352.8,135.9 353.3,127.5 353.8,135.8 354.3,129 354.8,136.2 355.3,127.7 355.8,136.4 356.3,127.4 356.8,137.4 357.3,128.9 357.8,137.1 358.3,127.1 358.8,136 359.3,129.3 359.8,135.8 360.3,129.9 360.8,135.5 361.3,127.9 361.8,136.9 362.3,128.7 362.8,136.2 363.3,130.4 363.8,136.3 364.3,129.8 364.8,137.9 365.3,128.4 365.8,136.1 366.3,129.8 366.8,136.2 367.3,128.3 367.8,136.2 368.3,128 368.8,137.4 369.3,127.6 369.8,137.3 370.3,128.4 370.8,135.9 371.3,130.1 371.8,134.5 372.3,130.2 372.8,136.1 373.3,128.9 373.8,135.5 374.3,128.7 374.8,135.9 375.3,128.5 375.8,137.6 376.3,127.2 376.8,138 377.3,127.8 377.8,138.3 378.3,121.4 378.8,141.6 379.3,124.5 379.8,139.4 380.3,126.2 380.8,141.5 381.3,125.1 381.8,139.7 382.3,123.3 382.8,140.6 383.3,124.3 383.8,139.6 384.3,128.6 384.8,137.5 385.3,126.8 385.8,141.5 386.3,119.9 386.8,141.2 387.3,125.1 387.8,139.4 388.3,125.4 388.8,140.5 389.3,129.1 389.8,137.4 390.3,127.8 390.8,138.5 391.3,126.6 391.8,139.3 392.3,120.5 392.8,141.5 393.3,121.6 393.8,140 394.3,124.7 394.8,140.3 395.3,117.7 395.8,141.9 396.3,122.2 396.8,147.3 397.3,123.3 397.8,141.8 398.3,120.3 398.8,144.9 399.3,116.2 399.8,145 400.3,126.5 400.8,138.7 401.3,122.8 401.8,139.7 402.3,125.8 402.8,140 403.3,128.4 403.8,139.4 404.3,126.1 404.9,137.2 405.4,120.8 405.9,143.2 406.4,124.6 406.9,138.9 407.4,128.3 407.9,136.3 408.4,125.6 408.9,141.5 409.4,121.8 409.9,146.8 410.4,123.6 410.9,140.1 411.4,120.8 411.9,143.9 412.4,119.3 412.9,140.7 413.4,127.4 413.9,137.3 414.4,126 414.9,138.8 415.4,120.6 415.9,149.8 416.4,124.7 416.9,139.4 417.4,121.7 417.9,142 418.4,123.4 418.9,136.8 419.4,124.6 419.9,140.5 420.4,127.4 420.9,140.2 421.4,123.9 421.9,145.2 422.4,124.5 422.9,143.3 423.4,126.6 423.9,142.2 424.4,124.2 424.9,145.5 425.4,125.1 425.9,138.5 426.4,129 426.9,139.2 427.4,127.5 427.9,136.6 428.4,127.2 428.9,139.7 429.4,125.4 429.9,140.7 430.4,126.5 430.9,141.4 431.4,127.2 431.9,138.5 432.4,123.1 432.9,141.1 433.4,125.9 433.9,136.1 434.4,128.8 434.9,136.4 435.4,126.5 435.9,136.8 436.4,128.7 436.9,137.7 437.4,126.1 437.9,139.8 438.4,125.9 438.9,140.6 439.4,127.9 439.9,135.7 440.4,125.3 440.9,137.7 441.4,127.4 441.9,138 442.4,127.1 442.9,137 443.4,128.3 443.9,137 444.4,127.3 444.9,136.6 445.4,129.3 445.9,136.4 446.4,128.5 446.9,135.8 447.4,129 447.9,138.5 448.4,126.6 448.9,139 449.4,126.2 449.9,138.7 450.4,124.2 450.9,139.9 451.4,126.6 451.9,137.4 452.4,127.7 452.9,136.9 453.4,129 453.9,135.8 454.4,128.9 454.9,136.2 455.4,125.5 455.9,137.3 456.4,130.8 456.9,136.4 457.4,129.9 457.9,136.3 458.4,128.5 458.9,137.5 459.4,128.4 459.9,137.3 460.4,128.1 460.9,139.3 461.4,127.4 461.9,137.2 462.4,128.5 462.9,137.7 463.4,128.3 463.9,137.6 464.4,126.4 464.9,137.2 465.4,126.4 465.9,137.2 466.4,127.9 466.9,137.1 467.4,127.2 467.9,137.2 468.4,128 468.9,137.4 469.4,129.3 469.9,137.8 470.4,128.3 470.9,136.5 471.4,127.2 471.9,137.6 472.4,125.9 472.9,136.6 473.4,127.5 473.9,137.7 474.4,128.2 474.9,137.7 475.4,129.9 475.9,135.8 476.4,129.3 476.9,136.7 477.4,128.8 477.9,137.7 478.4,128.6 478.9,136.5 479.4,129.7 479.9,136.7 480.4,128.6 480.9,139.8 481.4,127.4 481.9,136.4 482.4,127.2 482.9,138.9 483.4,127.8 483.9,138.5 484.4,124.5 484.9,137.8 485.4,128.3 485.9,137.7 486.4,129.3 486.9,135.5 487.4,129.6 487.9,136.7 488.4,127.9 488.9,136.2 489.4,130.1 489.9,137.6 490.4,128.5 490.9,136.4 491.4,129.1 491.9,138.6 492.4,128.3 492.9,135.6 493.4,129.7 493.9,136.4 494.4,129.4 494.9,137 495.4,127 495.9,137.3 496.4,128 496.9,138.1 497.4,127 497.9,138.7 498.4,129.5 498.9,138 499.4,128 499.9,136.6 500.4,128.9 500.9,135.6 501.4,128.9 501.9,135.8 502.4,127.4 502.9,138.5 503.4,127.7 503.9,138.3 504.4,129.6 504.9,136.3 505.4,128.9 505.9,136.6 506.4,127.5 506.9,137.7 507.4,128.3 507.9,138.2 508.4,128.3 508.9,138 509.4,128.5 509.9,136.6 510.4,128.4 510.9,137.7 511.4,129.9 511.9,136.1 512.4,127.8 512.9,138.1 513.4,126.1 513.9,140.1 514.4,126.7 514.9,138.7 515.4,128 515.9,136.2 516.4,129.3 516.9,137.3 517.4,127.7 517.9,138.5 518.4,127.9 518.9,137 519.4,129 519.9,136.8 520.4,126.7 520.9,138.2 521.4,125.6 521.9,136.6 522.4,127.2 522.9,137.6 523.4,129.4 523.9,137 524.4,126.4 524.9,137.3 525.5,128.6 526,138 526.5,128.2 527,137.3 527.5,127.7 528,136 528.5,128.6 529,135.6 529.5,129.9 530,137.4 530.5,127.5 531,137.7 531.5,128.3 532,137.8 532.5,128.4 533,136.3 533.5,128.2 534,136.8 534.5,125.2 535,137.5 535.5,125.5 536,137.7 536.5,128.6 537,138.4 537.5,127.2 538,137.5 538.5,126.6 539,138.8 539.5,127.5 540,135.3 540.5,130.3 541,137.2 541.5,130.4 542,137.9 542.5,127.1 543,137.8 543.5,126.7 544,139.1 544.5,127.4 545,140.2 545.5,128 546,136.1 546.5,126.9 547,136.7 547.5,128.3 548,137.5 548.5,126.7 549,136.6 549.5,128 550,136 550.5,127.3 551,139.3 551.5,128.3 552,136.4 552.5,130 553,135.5 553.5,129.7 554,137.3 554.5,127.2 555,135.6 555.5,127.1 556,139.2 556.5,125.8 557,138.1 557.5,123.9 558,138.5 558.5,127.9 559,136.8 559.5,128.4 560,137.8 560.5,126.7 561,135.3 561.5,130.4 562,137.3 562.5,129.9 563,137.4 563.5,128.9 564,135.1 564.5,128.6 565,136.7 565.5,130.7 566,135.7 566.5,128.8 567,134.8 567.5,129 568,136.7 568.5,126.6 569,138.4 569.5,128.6 570,135.5 570.5,129.1 571,136.3 571.5,129.1 572,136.1 572.5,129.2 573,138.6 573.5,128.4 574,136.2 574.5,127.9 575,137.2 575.5,128 576,137.8 576.5,129 577,137.8 577.5,126.1 578,136.7 578.5,128 579,137.8 579.5,127.5 580,136.9 580.5,130.1 581,135.4 581.5,129.5 582,135.6 582.5,130.1 583,135.1 583.5,130.9 584,136.3 584.5,129.9 585,137.6 585.5,127.2 586,137.1 586.5,127.8 587,137 587.5,128.2 588,137.7 588.5,125.6 589,138.7 589.5,128.5 590,139.5 590.5,127.9 591,138.7 591.5,126.5 592,137.6 592.5,127.9 593,136.7 593.5,130 594,136.4 594.5,129.5 595,138 595.5,129.2 596,136.3 596.5,126.6 597,139.5 597.5,127.4 598,138.8 598.5,128.4 599,136.4 599.5,128.1 600,138.8 600.5,128.3 601,135.9 601.5,129.8 602,137.5 602.5,127.4 603,136.4 603.5,128.7 604,135.8 604.5,127.8 605,136.9 605.5,130 606,136.2 606.5,127 607,137.7 607.5,129.5 608,137.8 608.5,128.3 609,135.2 609.5,128.1 610,138.8 610.5,128 611,136.8 611.5,128.1 612,136.7 612.5,127.8 613,137.9 613.5,129.5 614,137 614.5,124.8 615,137.8 615.5,127.5 616,137.2 616.5,129.2 617,135.7 617.5,126 618,137 618.5,129.1 619,137.9 619.5,128.8 620,135.3 620.5,130.1 621,134.6 621.5,130.4 622,136.6 622.5,128.5 623,136.5 623.5,127.1 624,137.4 624.5,128.7 625,135.7 625.5,128.6 626,137.9 626.5,129.3 627,138 627.5,129.3 628,134.7 628.5,129.9 629,136.8 629.5,129.2 630,136.9 630.5,127.1 631,136.7 631.5,125.9 632,139.1 632.5,126.2 633,136.1 633.5,126.6 634,138.4 634.5,127.5 635,138.3 635.5,128.4 636,136.5 636.5,130.6 637,135.4 637.5,127.7 638,135.7 638.5,128.8 639,135.3 639.5,129 640,135.6 640.5,127.9 641,137.3 641.5,127.1 642,135.7 642.5,128.8 643,137 643.5,130.6 644,136.2 644.5,128.5 645,137.6 645.5,127.8" fill="none" stroke="#00f" stroke-width="0.9" stroke-opacity="0.4" stroke-linejoin="bevel"/>
<polyline points="43,128 43.6,136.5 44.1,129.6 44.6,134.6 45.1,129.2 45.6,136.1 46.1,127.4 46.6,136.2 47.1,128.7 47.6,136.6 48.1,127.9 48.6,135.3 49.1,127.9 49.6,135.4 50.1,128.3 50.6,137.4 51.1,129.9 51.6,137.8 52.1,125.7 52.6,137.1 53.1,124.8 53.6,138.4 54.1,127.8 54.6,134.4 55.1,130.8 55.6,134.2 56.1,130.2 56.6,136.2 57.1,129.9 57.6,135.6 58.1,131.1 58.6,134.7 59.1,131.7 59.6,134.2 60.1,130.3 60.6,136.7 61.1,125.8 61.6,136.1 62.1,128.9 62.6,135.1 63.1,130 63.6,134 64.1,131.8 64.6,134.7 65.1,129.5 65.6,136.5 66.1,127.9 66.6,138 67.1,126.7 67.6,135.9 68.1,128.9 68.6,135.7 69.1,131.3 69.6,134.4 70.1,130.4 70.6,135.4 71.1,130.2 71.6,136.2 72.1,130.7 72.6,134.8 73.1,131.7 73.6,134.8 74.1,131 74.6,134.5 75.1,131.7 75.6,133.7 76.1,131.5 76.6,134.2 77.1,130.5 77.6,135.2 78.1,127.7 78.6,139 79.1,125.6 79.6,136.2 80.1,129.8 80.6,135.9 81.1,129.5 81.6,134.6 82.1,130.2 82.6,136.8 83.1,130.6 83.6,135.2 84.1,131.1 84.6,135.9 85.1,128.8 85.6,138.9 86.1,123.5 86.6,138.5 87.1,126.6 87.6,136.3 88.1,129.4 88.6,136 89.1,129.3 89.6,137.6 90.1,123.9 90.6,140.5 91.1,127.6 91.6,135.1 92.1,129.1 92.6,136.1 93.1,129.9 93.6,135.7 94.1,129.8 94.6,137.2 95.1,124.1 95.6,138.9 96.1,124.3 96.6,138.9 97.1,126.3 97.6,138.3 98.1,126 98.6,138.6 99.1,129.9 99.6,136.3 100.1,128.5 100.6,137.4 101.1,127.4 101.6,136.9 102.1,127 102.6,138.5 103.1,127.8 103.6,135.8 104.1,125.4 104.6,138.5 105.1,126.8 105.6,138.7 106.1,126.2 106.6,138.3 107.1,129.2 107.6,135.8 108.1,130.7 108.6,135.1 109.1,130.8 109.6,134.4 110.1,131.1 110.6,133.9 111.1,131.5 111.6,134.3 112.1,130.1 112.6,135.5 113.1,130.2 113.6,134.4 114.1,131.7 114.6,134 115.1,131.3 115.6,133.7 116.1,131.5 116.6,134.4 117.1,131.7 117.6,134 118.1,130.9 118.6,136.2 119.1,129.1 119.6,138.2 120.1,130.7 120.6,136.7 121.1,128 121.6,136.9 122.1,127.9 122.6,135.4 123.1,127.9 123.6,135.4 124.1,128.9 124.6,136 125.1,129.5 125.6,135.7 126.1,130.9 126.6,134.6 127.1,130.7 127.6,135.2 128.1,129.1 128.6,135.6 129.1,130.2 129.6,135.8 130.1,126.3 130.6,136 131.1,129.5 131.6,135.7 132.1,128.4 132.6,137 133.1,125.6 133.6,140.8 134.1,130.5 134.6,135.9 135.1,130.4 135.6,136.8 136.1,127.2 136.6,140.9 137.1,128.2 137.6,137.7 138.1,129.4 138.6,134.8 139.1,130.9 139.6,135.7 140.1,128.4 140.6,137.7 141.1,126.3 141.6,137.8 142.1,128.3 142.6,135.6 143.1,131.1 143.6,134.7 144.1,129.1 144.6,136.7 145.1,124.2 145.6,138 146.1,130.3 146.6,135.8 147.1,129.7 147.6,135.6 148.1,129.4 148.6,136.9 149.1,128.5 149.6,135.9 150.1,130.8 150.6,134.7 151.1,128.3 151.6,137.6 152.1,126.4 152.6,137.9 153.1,127.1 153.6,136.2 154.1,129.4 154.6,135.6 155.1,130.6 155.6,136.2 156.1,128.8 156.6,136.1 157.1,129.1 157.6,136.5 158.1,128.1 158.6,138.9 159.1,127.1 159.6,141.8 160.1,127.2 160.6,136 161.1,128.8 161.6,136.8 162.1,129.1 162.6,135.5 163.1,128.6 163.7,138 164.2,127.7 164.7,138.1 165.2,127.3 165.7,136.9 166.2,130 166.7,134.7 167.2,129.6 167.7,136.7 168.2,126.8 168.7,136.1 169.2,127.6 169.7,138.9 170.2,129.5 170.7,135.1 171.2,129 171.7,136.5 172.2,126.5 172.7,136.9 173.2,129.1 173.7,138.4 174.2,127.9 174.7,138.3 175.2,127.1 175.7,134.8 176.2,128.9 176.7,136.5 177.2,127.9 177.7,136.9 178.2,128.4 178.7,137.5 179.2,127.4 179.7,136.4 180.2,130 180.7,135.8 181.2,131 181.7,135 182.2,131.5 182.7,133.8 183.2,132 183.7,135 184.2,129.6 184.7,136.8 185.2,130.5 185.7,135.1 186.2,130.9 186.7,135 187.2,127.2 187.7,136.4 188.2,129 188.7,135.1 189.2,130 189.7,136.8 190.2,127.9 190.7,138.6 191.2,127.9 191.7,136.2 192.2,129.6 192.7,135.2 193.2,131 193.7,135.8 194.2,128.9 194.7,136 195.2,130.5 195.7,135.8 196.2,131.2 196.7,134.3 197.2,131.6 197.7,134.8 198.2,129.4 198.7,135.5 199.2,129.3 199.7,134.4 200.2,129.3 200.7,136.1 201.2,130.1 201.7,135.7 202.2,130.3 202.7,135.6 203.2,131.2 203.7,134.9 204.2,130.8 204.7,135.4 205.2,129.9 205.7,136.1 206.2,129.5 206.7,134.9 207.2,130 207.7,134.3 208.2,130.2 208.7,135 209.2,130 209.7,135.2 210.2,129.7 210.7,135.6 211.2,129.2 211.7,135.3 212.2,128.9 212.7,135.4 213.2,130.9 213.7,134.9 214.2,130.5 214.7,134.7 215.2,130.6 215.7,135.7 216.2,130.2 216.7,135.4 217.2,129.1 217.7,136.8 218.2,129.2 218.7,134.9 219.2,130.4 219.7,135.2 220.2,131.4 220.7,135.4 221.2,130.4 221.7,136 222.2,128.8 222.7,135 223.2,129.2 223.7,135.6 224.2,129.4 224.7,136.3 225.2,128.9 225.7,135.1 226.2,130.8 226.7,134.8 227.2,130.6 227.7,135 228.2,128.8 228.7,136.1 229.2,129.3 229.7,134.1 230.2,130.1 230.7,135.7 231.2,128.6 231.7,136 232.2,130.2 232.7,135.4 233.2,130.2 233.7,134.9 234.2,131.4 234.7,134.6 235.2,130.2 235.7,134.6 236.2,129.6 236.7,135.3 237.2,130.7 237.7,135.2 238.2,130.4 238.7,134.6 239.2,130.6 239.7,136 240.2,129.7 240.7,136.3 241.2,127.7 241.7,134.8 242.2,129.9 242.7,136 243.2,130.3 243.7,135.4 244.2,130.9 244.7,135.3 245.2,130.5 245.7,135.7 246.2,129.3 246.7,134.7 247.2,128 247.7,135.1 248.2,130.6 248.7,134.5 249.2,131.3 249.7,135.3 250.2,130.1 250.7,134.8 251.2,130 251.7,133.9 252.2,130.7 252.7,134.8 253.2,130.5 253.7,135.2 254.2,130.5 254.7,134.6 255.2,130.8 255.7,134.9 256.2,130.9 256.7,135.2 257.2,130 257.7,136.2 258.2,130.1 258.7,136 259.2,129.7 259.7,135.1 260.2,129.5 260.7,134.3 261.2,130.5 261.7,135.3 262.2,130 262.7,134.9 263.2,129.4 263.7,136.8 264.2,129.8 264.7,135.1 265.2,129.5 265.7,135.1 266.2,130.5 266.7,134.7 267.2,130.5 267.7,134.9 268.2,129.8 268.7,134.8 269.2,131.2 269.7,135.3 270.2,128.7 270.7,134.8 271.2,130.1 271.7,135 272.2,129.8 272.7,135.1 273.2,131.1 273.7,135.3 274.2,129.9 274.7,136 275.2,129.7 275.7,136.5 276.2,131.2 276.7,135.8 277.2,129.7 277.7,136 278.2,130.5 278.7,135.9 279.2,130.1 279.7,134.7 280.2,130.6 280.7,135.6 281.2,130.1 281.7,134.9 282.2,129.3 282.7,135.8 283.2,128.6 283.7,135.7 284.3,130.7 284.8,134.6 285.3,130.5 285.8,135.3 286.3,130.3 286.8,134.3 287.3,130.8 287.8,135.2 288.3,130.9 288.8,135 289.3,130.8 289.8,135.8 290.3,130.2 290.8,134.7 291.3,130.7 291.8,135 292.3,130.2 292.8,135.8 293.3,130.4 293.8,134.9 294.3,129.9 294.8,135.1 295.3,129.3 295.8,135.2 296.3,129 296.8,135 297.3,130.5 297.8,134.4 298.3,131.3 298.8,135.6 299.3,130.1 299.8,135.5 300.3,130 300.8,135.3 301.3,131.7 301.8,135.3 302.3,129.3 302.8,135.4 303.3,129.5 303.8,134.4 304.3,130.7 304.8,136.2 305.3,129.4 305.8,134.7 306.3,130 306.8,136.3 307.3,129.5 307.8,134.5 308.3,131.2 308.8,134.7 309.3,131.1 309.8,135.4 310.3,130.4 310.8,135.5 311.3,130.5 311.8,134.9 312.3,130.4 312.8,135.2 313.3,131 313.8,134 314.3,131.5 314.8,134.4 315.3,129 315.8,137.1 316.3,127.7 316.8,138 317.3,129.3 317.8,137.7 318.3,128.9 318.8,136.3 319.3,127.1 319.8,136.8 320.3,129.3 320.8,135.7 321.3,130.3 321.8,135.9 322.3,129.5 322.8,136.4 323.3,129.4 323.8,135 324.3,128.9 324.8,135.8 325.3,129 325.8,135.4 326.3,129.1 326.8,135.8 327.3,130 327.8,136.4 328.3,129.8 328.8,135.1 329.3,129.5 329.8,136.5 330.3,129.5 330.8,134.6 331.3,129.7 331.8,134.9 332.3,128.7 332.8,136.2 333.3,128 333.8,136.9 334.3,126.9 334.8,134.9 335.3,129.5 335.8,135.2 336.3,128.9 336.8,136.5 337.3,128.2 337.8,137.3 338.3,127.6 338.8,136.4 339.3,129.3 339.8,135.3 340.3,130.1 340.8,135.5 341.3,130 341.8,137.2 342.3,129.5 342.8,135.7 343.3,130.5 343.8,135.3 344.3,129.9 344.8,135.7 345.3,129 345.8,138.1 346.3,129.5 346.8,137.6 347.3,128.1 347.8,138.2 348.3,129.3 348.8,136.8 349.3,130.1 349.8,136.3 350.3,129.1 350.8,136.2 351.3,129.4 351.8,136 352.3,128.3 352.8,135.8 353.3,129.4 353.8,136.8 354.3,129.1 354.8,136.3 355.3,129.2 355.8,135.3 356.3,130.5 356.8,135.8 357.3,128.7 357.8,135.7 358.3,130.1 358.8,136.5 359.3,130.7 359.8,135 360.3,130.9 360.8,134 361.3,130.5 361.8,134.5 362.3,129.3 362.8,135.4 363.3,130.2 363.8,134.3 364.3,131.1 364.8,135.6 365.3,130.1 365.8,135.4 366.3,128.9 366.8,135.5 367.3,129 367.8,134.7 368.3,130.5 368.8,136.1 369.3,129.3 369.8,135.3 370.3,129.2 370.8,135.3 371.3,130.7 371.8,134.7 372.3,130.9 372.8,135.2 373.3,131.2 373.8,134.9 374.3,129.8 374.8,134.9 375.3,130 375.8,138.3 376.3,128.9 376.8,135.8 377.3,126.2 377.8,140.1 378.3,124.6 378.8,138.3 379.3,127.3 379.8,136.6 380.3,130.1 380.8,136.6 381.3,126.3 381.8,138.2 382.3,127.7 382.8,136.8 383.3,124.5 383.8,137.3 384.3,127.8 384.8,136.5 385.3,127.4 385.8,140.5 386.3,123.3 386.8,137.7 387.3,126 387.8,137.9 388.3,128.6 388.8,137.7 389.3,128.9 389.8,136.2 390.3,127.7 390.8,136 391.3,128.9 391.8,137.5 392.3,126.3 392.8,139.3 393.3,123.8 393.8,138.3 394.3,125.9 394.8,140.2 395.3,125.1 395.8,143.8 396.3,121 396.8,140.4 397.3,128.1 397.8,139.4 398.3,125 398.8,139.6 399.3,121.5 399.8,140.8 400.3,127.1 400.8,137.9 401.3,127.1 401.8,138 402.3,129.5 402.8,137.6 403.3,128.7 403.8,136.7 404.3,127.6 404.9,138.5 405.4,126.3 405.9,136.6 406.4,126.6 406.9,137.4 407.4,130.7 407.9,136.8 408.4,126.5 408.9,137 409.4,124.5 409.9,140.3 410.4,122.7 410.9,141.6 411.4,125 411.9,139.6 412.4,125.5 412.9,138.3 413.4,127.6 413.9,136.9 414.4,129.9 414.9,136.1 415.4,124.6 415.9,143.9 416.4,126.5 416.9,137.6 417.4,121.5 417.9,137.9 418.4,125.4 418.9,137.7 419.4,126.2 419.9,138.3 420.4,127.3 420.9,136 421.4,124.4 421.9,140.7 422.4,124.3 422.9,139.9 423.4,125 423.9,138.6 424.4,126 424.9,140.7 425.4,125.2 425.9,138.5 426.4,128.4 426.9,136.1 427.4,128.4 427.9,136.7 428.4,128.6 428.9,135.5 429.4,126 429.9,138.9 430.4,125 430.9,139.7 431.4,126.1 431.9,137.2 432.4,125.3 432.9,137.8 433.4,126 433.9,135 434.4,129.5 434.9,136.2 435.4,128.8 435.9,135.4 436.4,129.6 436.9,136.8 437.4,127.3 437.9,138.2 438.4,128 438.9,138.3 439.4,129.6 439.9,136.6 440.4,127.3 440.9,137.9 441.4,127.5 441.9,138.1 442.4,129.3 442.9,136.1 443.4,129.9 443.9,135.5 444.4,128.1 444.9,135.4 445.4,129.6 445.9,135.5 446.4,129.8 446.9,136.4 447.4,128.9 447.9,135.7 448.4,128.6 448.9,135.4 449.4,129.8 449.9,136.9 450.4,128.4 450.9,136.5 451.4,127.8 451.9,137.2 452.4,130.3 452.9,135 453.4,129 453.9,136.1 454.4,128.7 454.9,136.2 455.4,127.5 455.9,136.2 456.4,130 456.9,135.2 457.4,131 457.9,135.1 458.4,129.7 458.9,135.8 459.4,131 459.9,136.6 460.4,128.8 460.9,135.7 461.4,129.1 461.9,137.6 462.4,129.5 462.9,135.8 463.4,129.3 463.9,137.5 464.4,128.7 464.9,138 465.4,129.6 465.9,136.5 466.4,129.3 466.9,135.4 467.4,128.9 467.9,137.3 468.4,128.7 468.9,136.1 469.4,129.2 469.9,135.4 470.4,130.3 470.9,135.3 471.4,129.4 471.9,137.6 472.4,129.1 472.9,138 473.4,128.8 473.9,135.9 474.4,127.6 474.9,137.2 475.4,130 475.9,135 476.4,130.1 476.9,134.5 477.4,129.5 477.9,135.3 478.4,130 478.9,134.9 479.4,130.1 479.9,134.6 480.4,129 480.9,137.5 481.4,128.9 481.9,135.5 482.4,130.4 482.9,136.2 483.4,129.4 483.9,136.1 484.4,127.6 484.9,137 485.4,130.1 485.9,135.5 486.4,130.4 486.9,134.6 487.4,130.7 487.9,135.2 488.4,129.5 488.9,136.2 489.4,128.8 489.9,135.5 490.4,129.2 490.9,134.9 491.4,128.3 491.9,136.8 492.4,129.5 492.9,135.3 493.4,129.8 493.9,136.4 494.4,128.7 494.9,137.3 495.4,129.8 495.9,135.2 496.4,130.5 496.9,135.7 497.4,129.5 497.9,136.3 498.4,128.5 498.9,136.5 499.4,129.7 499.9,135.3 500.4,130.5 500.9,135.5 501.4,129.5 501.9,134.7 502.4,129.1 502.9,137.6 503.4,129.9 503.9,136.9 504.4,130.4 504.9,135.7 505.4,129.2 505.9,134.9 506.4,129 506.9,137.5 507.4,129.6 507.9,136.8 508.4,129.6 508.9,136.6 509.4,128.1 509.9,136 510.4,129.5 510.9,134.5 511.4,130.3 511.9,136.4 512.4,127.1 512.9,137.3 513.4,126.2 513.9,137 514.4,127.6 514.9,135.7 515.4,130.1 515.9,136.3 516.4,129.2 516.9,135.7 517.4,130.8 517.9,136.8 518.4,130.2 518.9,137.3 519.4,128.8 519.9,136.2 520.4,127.6 520.9,136.7 521.4,130.4 521.9,136.5 522.4,130.2 522.9,135.5 523.4,129.2 523.9,137.3 524.4,127.7 524.9,136.5 525.5,128.7 526,135.9 526.5,129.1 527,136.2 527.5,130.1 528,134.6 528.5,130.9 529,134.3 529.5,129.5 530,134.5 530.5,130 531,136 531.5,128.5 532,137.6 532.5,127.2 533,136.6 533.5,130.9 534,136.7 534.5,128.8 535,136.9 535.5,126.2 536,138.1 536.5,128.3 537,135.5 537.5,130.6 538,135.6 538.5,128.5 539,135.6 539.5,128.2 540,136.7 540.5,129.1 541,135.9 541.5,129.5 542,135.7 542.5,130.8 543,136.9 543.5,127.9 544,137 544.5,127.6 545,136 545.5,128.3 546,135.7 546.5,129.5 547,135.6 547.5,129.8 548,134.3 548.5,129.7 549,136 549.5,129.3 550,136.5 550.5,128.4 551,135.1 551.5,130 552,137.1 552.5,129.2 553,134.4 553.5,129.7 554,137.4 554.5,127.8 555,136.8 555.5,128.9 556,136.2 556.5,129.4 557,137.2 557.5,126 558,137.3 558.5,128.9 559,136 559.5,126 560,136.9 560.5,127.2 561,136.2 561.5,129.5 562,135 562.5,129.7 563,134.1 563.5,129.9 564,135.5 564.5,130.3 565,135.5 565.5,130.9 566,134.8 566.5,130.2 567,135.3 567.5,129.9 568,135.5 568.5,130 569,135.2 569.5,130.2 570,134.9 570.5,130.6 571,135.8 571.5,131.3 572,135.2 572.5,129.7 573,137 573.5,128.1 574,136.4 574.5,128.7 575,135.9 575.5,129.8 576,136.5 576.5,130.6 577,136.9 577.5,128.6 578,136.4 578.5,130.1 579,134.6 579.5,128.8 580,135.1 580.5,129.5 581,135.4 581.5,130.8 582,134.2 582.5,131.6 583,134.1 583.5,131.4 584,134.6 584.5,130.5 585,136.1 585.5,129.3 586,135.1 586.5,129.4 587,137 587.5,128.5 588,137.1 588.5,128.9 589,138.4 589.5,128.5 590,137.9 590.5,128 591,137.1 591.5,126.7 592,136.7 592.5,129.4 593,135.1 593.5,130.5 594,135.7 594.5,130.5 595,135.8 595.5,128 596,136.8 596.5,129.2 597,137.2 597.5,129.6 598,137.3 598.5,128.6 599,135.7 599.5,129.5 600,136.6 600.5,129.7 601,136.2 601.5,128.7 602,136.1 602.5,130.5 603,135.7 603.5,129 604,135.3 604.5,129.3 605,136.2 605.5,129.1 606,135.5 606.5,129.4 607,135.7 607.5,129.8 608,136.9 608.5,128 609,135.3 609.5,130 610,136.1 610.5,129.5 611,136.2 611.5,130 612,134.9 612.5,128.8 613,136.4 613.5,129.4 614,136.3 614.5,127.7 615,135.8 615.5,127.9 616,135.7 616.5,129.5 617,136.5 617.5,129.4 618,134.5 618.5,129.7 619,134.9 619.5,131 620,135.6 620.5,130.2 621,135.5 621.5,131.1 622,135.6 622.5,129.5 623,135.9 623.5,128.6 624,135.8 624.5,130.1 625,136.9 625.5,128.4 626,136.8 626.5,129.4 627,134.3 627.5,129.8 628,135 628.5,129.8 629,136 629.5,130.4 630,134.4 630.5,128.9 631,136.1 631.5,129.5 632,136.7 632.5,129.5 633,135.4 633.5,128.2 634,136.6 634.5,130.1 635,135.3 635.5,129.3 636,135.7 636.5,130.2 637,134.6 637.5,130.3 638,135.5 638.5,130.2 639,135.2 639.5,129.1 640,136.4 640.5,129 641,135.2 641.5,129.3 642,135.4 642.5,129 643,134.6 643.5,130.4 644,135.6 644.5,129 645,135.8 645.5,129.3" fill="none" stroke="#00f" stroke-width="1.0" stroke-opacity="0.55" stroke-linejoin="bevel"/>
<path d="M43,129 44.1,129.7 45.1,129.7 46.1,127.9 47.1,129 48.1,129.9 49.1,127.7 50.1,128.7 51.1,130.3 52.1,130.2 53.1,128.8 54.1,129.7 55.1,129.5 56.1,127.5 57.1,127.3 58.1,127.5 59.1,128.6 60.1,128.8 61.1,130.1 62.1,130.1 63.1,129 64.1,128.9 65.1,128.2 66.1,128.3 67.1,128.6 68.1,128.5 69.1,128.8 70.1,127.9 71.1,130 72.1,127.3 73.1,128.5 74.1,130.2 75.1,128.8 76.1,127.5 77.1,129.6 78.1,128.6 79.1,129.1 80.1,127.7 81.1,128.8 82.1,129.6 83.1,128.6 84.1,128.6 85.1,128.9 86.1,129.5 87.1,130.3 88.1,129.1 89.1,130.5 90.1,129.8 91.1,129 92.1,128.1 93.1,128.2 94.1,130.5 95.1,128.2 96.1,130.5 97.1,128.9 98.1,129 99.1,128.3 100.1,128.9 101.1,128.1 102.1,129.6 103.1,129.1 104.1,128.3 105.1,129.5 106.1,129.5 107.1,129 108.1,130.4 109.1,129.3 110.1,130 111.1,127.7 112.1,127.9 113.1,128.4 114.1,127.1 115.1,128.9 116.1,129.4 117.1,128.7 118.1,128.8 119.1,129.3 120.1,128.7 121.1,130.1 122.1,129.9 123.1,128.8 124.1,130.1 125.1,128 126.1,128.7 127.1,129.6 128.1,128 129.1,128.8 130.1,127.6 131.1,129.2 132.1,129.5 133.1,128.6 134.1,130 135.1,128.1 136.1,128.7 137.1,130.5 138.1,129.1 139.1,128.9 140.1,130.2 141.1,129.3 142.1,129.4 143.1,130.5 144.1,128.8 145.1,129.1 146.1,129.7 147.1,129.4 148.1,129 149.1,128.1 150.1,128.7 151.1,129.3 152.1,129.4 153.1,129.5 154.1,128.2 155.1,128.7 156.1,129.5 157.1,127.9 158.1,128.3 159.1,129.8 160.1,128.6 161.1,128.9 162.1,128.7 163.1,128.4 164.2,129.4 165.2,129.5 166.2,130 167.2,128.8 168.2,129.1 169.2,130.5 170.2,129 171.2,128.7 172.2,128.9 173.2,129.3 174.2,128.4 175.2,129.6 176.2,130.4 177.2,127.7 178.2,130.3 179.2,128.8 180.2,127.5 181.2,129.5 182.2,128 183.2,129.2 184.2,129.3 185.2,130.5 186.2,128.5 187.2,129.6 188.2,128.4 189.2,129.8 190.2,128.9 191.2,128.9 192.2,127.8 193.2,128.3 194.2,130.1 195.2,128.2 196.2,129.1 197.2,129.6 198.2,129.4 199.2,128.1 200.2,130.4 201.2,129.4 202.2,130 203.2,129 204.2,129.3 205.2,130.1 206.2,129.2 207.2,129.2 208.2,129.3 209.2,128.9 210.2,127.9 211.2,129 212.2,128.9 213.2,128.4 214.2,129.2 215.2,129.2 216.2,129.5 217.2,129.6 218.2,129.6 219.2,128.8 220.2,130.4 221.2,129.4 222.2,128.8 223.2,128 224.2,127.7 225.2,130.4 226.2,129.6 227.2,129.1 228.2,130.4 229.2,129.6 230.2,128.9 231.2,129.2 232.2,130.4 233.2,128.3 234.2,129.8 235.2,129 236.2,130.4 237.2,129.1 238.2,128.2 239.2,128.1 240.2,128.2 241.2,128.5 242.2,129.8 243.2,130.3 244.2,127.7 245.2,130.1 246.2,129.8 247.2,128.3 248.2,128.9 249.2,127.8 250.2,129.4 251.2,128 252.2,126.9 253.2,129.5 254.2,129 255.2,129.5 256.2,129.1 257.2,129.4 258.2,128.3 259.2,128.1 260.2,128.8 261.2,128.2 262.2,129.9 263.2,128.6 264.2,129.5 265.2,128 266.2,128.6 267.2,130.4 268.2,129 269.2,130.2 270.2,129.2 271.2,128 272.2,127.1 273.2,128.5 274.2,128.5 275.2,128.5 276.2,129.2 277.2,130.4 278.2,128.2 279.2,128.7 280.2,128.9 281.2,128.7 282.2,128.5 283.2,128.8 284.3,128 285.3,129 286.3,127.9 287.3,129.2 288.3,129.3 289.3,129.9 290.3,129.7 291.3,130.4 292.3,130.1 293.3,129.2 294.3,128.1 295.3,129.8 296.3,129.3 297.3,129.1 298.3,129 299.3,130.4 300.3,129.4 301.3,127 302.3,128.1 303.3,129.6 304.3,128.8 305.3,128.1 306.3,129.2 307.3,128.4 308.3,128.8 309.3,129.7 310.3,128.9 311.3,130 312.3,129 313.3,128.7 314.3,129.4 315.3,128.5 316.3,128.7 317.3,128.9 318.3,129.4 319.3,129.7 320.3,128.8 321.3,128.8 322.3,128.1 323.3,130.4 324.3,128.7 325.3,129.2 326.3,129.4 327.3,130.1 328.3,126.9 329.3,128.3 330.3,128.9 331.3,128.5 332.3,130.4 333.3,129.1 334.3,128.8 335.3,129 336.3,130.2 337.3,129.3 338.3,127.4 339.3,128.1 340.3,128.6 341.3,128.4 342.3,126.9 343.3,128.5 344.3,129.5 345.3,130.4 346.3,128.8 347.3,129 348.3,130.4 349.3,129.4 350.3,129 351.3,129.3 352.3,130.4 353.3,130.1 354.3,130.1 355.3,127.9 356.3,129.2 357.3,130 358.3,128.4 359.3,130.4 360.3,129.4 361.3,128.5 362.3,129.9 363.3,129.9 364.3,130.4 365.3,129.8 366.3,128.3 367.3,128.7 368.3,128.1 369.3,129.6 370.3,126.9 371.3,130.4 372.3,129.9 373.3,130.4 374.3,128.6 375.3,128.8 376.3,127 377.3,129.4 378.3,129.3 379.3,130.3 380.3,130.3 381.3,128.8 382.3,129.5 383.3,128.3 384.3,129.8 385.3,128.5 386.3,128.7 387.3,130.3 388.3,128.2 389.3,127.7 390.3,128.7 391.3,128.1 392.3,128.2 393.3,129.1 394.3,128.2 395.3,127 396.3,129.8 397.3,128.4 398.3,129.2 399.3,128.8 400.3,129.2 401.3,129.2 402.3,128.7 403.3,129.3 404.3,128.5 405.4,130.3 406.4,128 407.4,129.4 408.4,129.4 409.4,127.7 410.4,128 411.4,128.2 412.4,128.2 413.4,128.6 414.4,129.7 415.4,128.2 416.4,128.4 417.4,128.2 418.4,129 419.4,129 420.4,129.5 421.4,127.4 422.4,129.5 423.4,128.3 424.4,129.2 425.4,129.9 426.4,129 427.4,130.2 428.4,129.1 429.4,128.8 430.4,129.6 431.4,129.1 432.4,128.7 433.4,128.8 434.4,129.9 435.4,128.7 436.4,129.5 437.4,129.7 438.4,129 439.4,129.2 440.4,128 441.4,128.6 442.4,129.3 443.4,126.7 444.4,127.6 445.4,130.3 446.4,130.2 447.4,129.8 448.4,127.7 449.4,129.9 450.4,128.9 451.4,129.1 452.4,127.7 453.4,129.2 454.4,128.4 455.4,128.9 456.4,127.5 457.4,128.3 458.4,128 459.4,129.1 460.4,128.9 461.4,127.8 462.4,126.9 463.4,128.9 464.4,128.3 465.4,129.7 466.4,127.3 467.4,129.8 468.4,128.3 469.4,128.3 470.4,129.5 471.4,129.9 472.4,128.9 473.4,127.8 474.4,130.1 475.4,129.2 476.4,130.3 477.4,128.9 478.4,129.9 479.4,129.3 480.4,128.8 481.4,129.5 482.4,128.1 483.4,127.7 484.4,127.6 485.4,128.9 486.4,129.2 487.4,128.1 488.4,127.8 489.4,129.3 490.4,128.8 491.4,129 492.4,128 493.4,129.3 494.4,130.3 495.4,128.2 496.4,127.9 497.4,128.6 498.4,128 499.4,128.8 500.4,130 501.4,128.4 502.4,129.2 503.4,130 504.4,127.7 505.4,128.8 506.4,130.3 507.4,128.2 508.4,128.7 509.4,129.3 510.4,129.2 511.4,128.3 512.4,128.2 513.4,128.1 514.4,127.7 515.4,129.4 516.4,127.2 517.4,126.6 518.4,128.6 519.4,128.3 520.4,128.3 521.4,127.5 522.4,130 523.4,127.7 524.4,129.3 525.5,128.7 526.5,128.4 527.5,128.1 528.5,128.9 529.5,128.3 530.5,127.7 531.5,128.5 532.5,127.5 533.5,129 534.5,130.3 535.5,128.9 536.5,128.8 537.5,128.8 538.5,130.3 539.5,130.1 540.5,129.2 541.5,128.8 542.5,129 543.5,127.7 544.5,128.3 545.5,128.6 546.5,129.1 547.5,130.3 548.5,128.5 549.5,129.1 550.5,128.5 551.5,127 552.5,128.8 553.5,126.9 554.5,129.4 555.5,129.4 556.5,129.8 557.5,128.7 558.5,130.3 559.5,128.6 560.5,128.4 561.5,128.1 562.5,128.5 563.5,128.1 564.5,128.2 565.5,128.8 566.5,128.5 567.5,129.3 568.5,129 569.5,127.4 570.5,129.9 571.5,127.7 572.5,128.1 573.5,130.3 574.5,130.3 575.5,129.4 576.5,128.5 577.5,129.2 578.5,128.1 579.5,129 580.5,130.1 581.5,128.4 582.5,128.1 583.5,129.1 584.5,129.1 585.5,130.2 586.5,128.1 587.5,127.2 588.5,128.8 589.5,130.2 590.5,130.1 591.5,128.9 592.5,130.1 593.5,129.4 594.5,130 595.5,128.7 596.5,130 597.5,128 598.5,127.4 599.5,127.4 600.5,130.3 601.5,127.7 602.5,128.5 603.5,128.2 604.5,128.3 605.5,128.1 606.5,128.4 607.5,128.6 608.5,128.9 609.5,129.4 610.5,127.8 611.5,128.9 612.5,129.2 613.5,128 614.5,128.4 615.5,128.9 616.5,128.8 617.5,130.4 618.5,129.9 619.5,129.2 620.5,128.6 621.5,128.5 622.5,130 623.5,129.3 624.5,128.7 625.5,128 626.5,129.6 627.5,129.7 628.5,130.1 629.5,128.9 630.5,128.6 631.5,127.9 632.5,129.1 633.5,128 634.5,128.8 635.5,128.7 636.5,130 637.5,127.2 638.5,129.1 639.5,127.7 640.5,128.2 641.5,129.2 642.5,129.4 643.5,128.2 644.5,129.4 645.5,129.6 L645.5,136 644.5,136.2 643.5,137.7 642.5,137.5 641.5,136.9 640.5,138.9 639.5,138.9 638.5,136.7 637.5,138.1 636.5,136.9 635.5,136.4 634.5,138.4 633.5,137.2 632.5,137.2 631.5,136.2 630.5,136.8 629.5,137.8 628.5,137.1 627.5,137.3 626.5,137.3 625.5,135.6 624.5,137.1 623.5,136.7 622.5,138 621.5,136.3 620.5,136 619.5,136.7 618.5,136.6 617.5,137.4 616.5,136.4 615.5,138.6 614.5,137.3 613.5,137 612.5,136.6 611.5,136.8 610.5,136.5 609.5,136.3 608.5,135.4 607.5,137.7 606.5,135.9 605.5,137.2 604.5,137.1 603.5,137 602.5,135.5 601.5,137.2 600.5,137.5 599.5,136.6 598.5,137.1 597.5,137.3 596.5,136.2 595.5,137.1 594.5,137.9 593.5,135.9 592.5,136.7 591.5,137.7 590.5,135.8 589.5,135.3 588.5,137.8 587.5,135.3 586.5,137.6 585.5,136.2 584.5,136.6 583.5,137.7 582.5,137.4 581.5,136.8 580.5,135.7 579.5,137.7 578.5,136.9 577.5,136.9 576.5,137.6 575.5,136.3 574.5,137.3 573.5,136.7 572.5,137.1 571.5,136.8 570.5,136.7 569.5,138.9 568.5,136.1 567.5,136.7 566.5,137.7 565.5,135.9 564.5,136.7 563.5,137.6 562.5,135.3 561.5,136.9 560.5,135.6 559.5,135.6 558.5,137.2 557.5,137 556.5,136 555.5,136 554.5,135.8 553.5,137.7 552.5,137.8 551.5,137 550.5,136.1 549.5,137.3 548.5,136.5 547.5,137.2 546.5,137 545.5,136 544.5,135.9 543.5,136.9 542.5,136.9 541.5,135.3 540.5,136.5 539.5,135.3 538.5,135.3 537.5,138 536.5,136.6 535.5,137.1 534.5,136.1 533.5,137.4 532.5,136.5 531.5,135.5 530.5,136 529.5,135.3 528.5,137.4 527.5,135.8 526.5,137.4 525.5,137 524.4,136.2 523.4,136.8 522.4,136.6 521.4,137.8 520.4,135.4 519.4,138.3 518.4,136.1 517.4,136.3 516.4,137 515.4,136.1 514.4,137 513.4,136.8 512.4,136.7 511.4,136.4 510.4,138.3 509.4,137.4 508.4,136.2 507.4,139 506.4,136.2 505.4,136.1 504.4,135.3 503.4,137.8 502.4,137 501.4,136 500.4,136 499.4,135.3 498.4,136.6 497.4,137.5 496.4,136.8 495.4,136.3 494.4,136.4 493.4,136.6 492.4,136.9 491.4,136.5 490.4,136.8 489.4,136.3 488.4,135.3 487.4,135.4 486.4,136.8 485.4,136.8 484.4,137.6 483.4,137.1 482.4,136.6 481.4,137.1 480.4,136.4 479.4,137.5 478.4,136.9 477.4,137.9 476.4,137.2 475.4,135.4 474.4,136.3 473.4,138.3 472.4,137.5 471.4,135.8 470.4,137.6 469.4,137.6 468.4,135.9 467.4,136 466.4,137.8 465.4,136.5 464.4,138.9 463.4,138.1 462.4,136 461.4,137.3 460.4,136.8 459.4,135.8 458.4,136.7 457.4,135.3 456.4,139 455.4,136.7 454.4,136 453.4,136.3 452.4,139 451.4,137.6 450.4,137.8 449.4,137.1 448.4,137.8 447.4,137.6 446.4,137.2 445.4,137.6 444.4,135.3 443.4,137.7 442.4,139.1 441.4,138.2 440.4,137.4 439.4,137.3 438.4,135.8 437.4,135.7 436.4,136.3 435.4,135.8 434.4,136.7 433.4,138 432.4,135.6 431.4,137.1 430.4,136.7 429.4,136.3 428.4,137.9 427.4,135.6 426.4,137.7 425.4,137.9 424.4,137.8 423.4,136.8 422.4,136.6 421.4,137.9 420.4,135.6 419.4,139.1 418.4,136.5 417.4,137.8 416.4,138 415.4,135.6 414.4,137.4 413.4,137.7 412.4,137.2 411.4,137.8 410.4,136.8 409.4,137.3 408.4,138.3 407.4,136.3 406.4,137.1 405.4,136.4 404.3,136.7 403.3,136.5 402.3,137.3 401.3,136.9 400.3,137 399.3,137.5 398.3,136.4 397.3,136.4 396.3,138 395.3,135.3 394.3,135.6 393.3,138 392.3,138 391.3,137.1 390.3,137.2 389.3,136.2 388.3,136.5 387.3,137.8 386.3,137.3 385.3,138 384.3,136.2 383.3,137.2 382.3,136.9 381.3,137.8 380.3,135.8 379.3,136.6 378.3,136.1 377.3,138.3 376.3,137.3 375.3,135.9 374.3,135.7 373.3,136.5 372.3,137.5 371.3,137.6 370.3,135.8 369.3,135.5 368.3,137.4 367.3,136.4 366.3,136.7 365.3,136.3 364.3,135.2 363.3,136.9 362.3,135.2 361.3,135.2 360.3,135.4 359.3,135.4 358.3,136.5 357.3,137.8 356.3,136.1 355.3,138.2 354.3,136.8 353.3,137.2 352.3,137 351.3,135.6 350.3,136.5 349.3,136.5 348.3,135.2 347.3,135.7 346.3,137.4 345.3,135.8 344.3,135.3 343.3,137.1 342.3,135.7 341.3,137.7 340.3,135.5 339.3,136.8 338.3,137.2 337.3,137.1 336.3,135.7 335.3,137.4 334.3,137.3 333.3,135.2 332.3,135.2 331.3,136.9 330.3,138.1 329.3,137.5 328.3,136.8 327.3,138.2 326.3,135.6 325.3,135.9 324.3,135.2 323.3,135.9 322.3,137.8 321.3,137 320.3,137.7 319.3,136.7 318.3,135.3 317.3,137 316.3,137 315.3,136 314.3,136.7 313.3,135.9 312.3,137.6 311.3,136.4 310.3,136.9 309.3,135.2 308.3,135.5 307.3,136.9 306.3,137.8 305.3,138.7 304.3,136.9 303.3,137.9 302.3,135.9 301.3,137.2 300.3,135.5 299.3,137.4 298.3,136.3 297.3,136.7 296.3,137.1 295.3,135.7 294.3,138.7 293.3,138 292.3,136.8 291.3,135.6 290.3,137.1 289.3,136.1 288.3,136.8 287.3,136.8 286.3,137.2 285.3,136 284.3,137.1 283.2,135.3 282.2,136.2 281.2,136.3 280.2,137.2 279.2,136.7 278.2,135.9 277.2,136.6 276.2,138 275.2,136 274.2,136.5 273.2,136.9 272.2,137.7 271.2,137.2 270.2,135.7 269.2,135.3 268.2,135.4 267.2,135.2 266.2,137.1 265.2,137.2 264.2,136 263.2,137.5 262.2,135.2 261.2,136.8 260.2,137 259.2,137.4 258.2,136.2 257.2,135.9 256.2,136.5 255.2,137.1 254.2,135.2 253.2,135.2 252.2,137.5 251.2,136.4 250.2,136.6 249.2,136.9 248.2,137.2 247.2,136.4 246.2,136.8 245.2,135.2 244.2,135.3 243.2,136.2 242.2,136.8 241.2,136.9 240.2,136.3 239.2,137.1 238.2,136 237.2,136 236.2,137.7 235.2,136.1 234.2,136.6 233.2,136 232.2,137 231.2,138 230.2,136.2 229.2,136.7 228.2,135.7 227.2,138.2 226.2,136.5 225.2,137.7 224.2,137.6 223.2,136.2 222.2,138.2 221.2,136.7 220.2,137.7 219.2,137.9 218.2,136.3 217.2,136.4 216.2,136.9 215.2,136.5 214.2,136.5 213.2,136.6 212.2,137.4 211.2,136.8 210.2,137.4 209.2,135.2 208.2,135.7 207.2,137.1 206.2,136.9 205.2,136.3 204.2,138.2 203.2,137 202.2,137.1 201.2,137 200.2,137.6 199.2,135.6 198.2,136.6 197.2,135.9 196.2,138.2 195.2,136.9 194.2,136.8 193.2,136 192.2,136.6 191.2,136.6 190.2,136.1 189.2,135.1 188.2,137.5 187.2,136.6 186.2,135.4 185.2,136.9 184.2,137.6 183.2,136.7 182.2,137.1 181.2,137.1 180.2,138 179.2,135.4 178.2,135.8 177.2,136.8 176.2,136.5 175.2,135.7 174.2,135.1 173.2,137.1 172.2,135.9 171.2,136.4 170.2,136.7 169.2,136.1 168.2,137.8 167.2,136.8 166.2,136.1 165.2,137.8 164.2,135.9 163.1,137.2 162.1,136.5 161.1,135.7 160.1,136.4 159.1,136.4 158.1,138.5 157.1,136.9 156.1,137.5 155.1,136.3 154.1,137.7 153.1,137.1 152.1,135.2 151.1,137.3 150.1,136.1 149.1,137.8 148.1,135.6 147.1,135.6 146.1,136.1 145.1,136.5 144.1,136.3 143.1,136.4 142.1,137.9 141.1,137.3 140.1,135.4 139.1,135.1 138.1,137.2 137.1,136.7 136.1,137.5 135.1,135.8 134.1,136.8 133.1,136.7 132.1,136.7 131.1,138.4 130.1,136 129.1,137.6 128.1,137.1 127.1,135.7 126.1,135.3 125.1,135.2 124.1,136.3 123.1,136.6 122.1,137.7 121.1,136.1 120.1,136 119.1,136.7 118.1,137.4 117.1,136.4 116.1,137 115.1,136.5 114.1,135.3 113.1,137.6 112.1,136.1 111.1,138 110.1,136.6 109.1,136.8 108.1,136 107.1,136.8 106.1,138.1 105.1,135.1 104.1,135.9 103.1,135.6 102.1,136.6 101.1,136.5 100.1,136.6 99.1,135.3 98.1,137.3 97.1,135.9 96.1,137.3 95.1,137.4 94.1,137.5 93.1,135.8 92.1,138.5 91.1,135.8 90.1,138.2 89.1,137.2 88.1,135.1 87.1,136.6 86.1,137.7 85.1,137.6 84.1,136.2 83.1,136.4 82.1,137.7 81.1,136.5 80.1,135.1 79.1,137 78.1,136.1 77.1,137.1 76.1,137.1 75.1,136.4 74.1,135.7 73.1,136 72.1,135.9 71.1,136.9 70.1,137.9 69.1,137.2 68.1,137 67.1,136.3 66.1,138.3 65.1,137.4 64.1,136.1 63.1,137.9 62.1,136.7 61.1,135.1 60.1,136 59.1,135.4 58.1,136 57.1,137 56.1,136.4 55.1,136.5 54.1,136.5 53.1,136.8 52.1,135.6 51.1,136.2 50.1,136.4 49.1,136.9 48.1,137.5 47.1,136.6 46.1,137.8 45.1,135.9 44.1,135.8 43,135.8Z" fill="#00f"/>
<path d="M200.7 72.1V188.8" stroke="#00f" stroke-width="1.0" stroke-opacity="0.42"/>
<path d="M256.7 108.3V211" stroke="#00f" stroke-width="1.0" stroke-opacity="0.42"/>
<path d="M285.5 114.7V142.7" stroke="#00f" stroke-width="1.0" stroke-opacity="0.42"/>
<path d="M319.9 71.6V235.5" stroke="#00f" stroke-width="1.0" stroke-opacity="0.42"/>
<path d="M319.9 83.2V213.3" stroke="#00f" stroke-width="1.0" stroke-opacity="0.75"/>
<path d="M319.4 115.3V150.3" stroke="#00f" stroke-width="1.6" stroke-opacity="1"/>
<path d="M404.3 100.1V211" stroke="#00f" stroke-width="1.0" stroke-opacity="0.42"/>
<path d="M404.3 150.3V182.4" stroke="#00f" stroke-width="1.0" stroke-opacity="0.3"/>
<path d="M420.7 108.9V156.2" stroke="#00f" stroke-width="1.0" stroke-opacity="0.42"/>
<path d="M456.4 104.8V215.1" stroke="#00f" stroke-width="1.0" stroke-opacity="0.42"/>
<path d="M456.4 116.5V215.1" stroke="#00f" stroke-width="1.0" stroke-opacity="0.6"/>
<path d="M464.3 107.1V141.6" stroke="#00f" stroke-width="1.0" stroke-opacity="0.42"/>
<path d="M521.4 113.6V180.1" stroke="#00f" stroke-width="1.0" stroke-opacity="0.42"/>
<path d="M544.4 118.2V132.8" stroke="#00f" stroke-width="1.0" stroke-opacity="0.3"/>
</g>
<text x="43" y="265.3" text-anchor="middle">00:00</text>
<text x="118.4" y="265.3" text-anchor="middle">03:00</text>
<text x="193.7" y="265.3" text-anchor="middle">06:00</text>
<text x="269" y="265.3" text-anchor="middle">09:00</text>
<text x="344.3" y="265.3" text-anchor="middle">12:00</text>
<text x="419.6" y="265.3" text-anchor="middle">15:00</text>
<text x="494.9" y="265.3" text-anchor="middle">18:00</text>
<text x="570.2" y="265.3" text-anchor="middle">21:00</text>
<text x="645.5" y="265.3" text-anchor="middle">00:00</text>
<text x="39.3" y="50.3" text-anchor="end">1.5</text>
<text x="39.3" y="79.5" text-anchor="end">1</text>
<text x="39.3" y="108.6" text-anchor="end">0.5</text>
<text x="39.3" y="137.8" text-anchor="end">0</text>
<text x="39.3" y="167" text-anchor="end">-0.5</text>
<text x="39.3" y="196.1" text-anchor="end">-1</text>
<text x="39.3" y="225.3" text-anchor="end">-1.5</text>
<text x="39.3" y="254.5" text-anchor="end">-2</text>
<text x="9.8" y="148.4" text-anchor="middle" font-weight="bold" transform="rotate(-90 9.8 148.4)">X (nT)</text>
<path d="M43 330.3H645.5V534.4H43ZM118.4 534.4v-6.4M118.4 330.3v6.4M193.7 534.4v-6.4M193.7 330.3v6.4M269 534.4v-6.4M269 330.3v6.4M344.3 534.4v-6.4M344.3 330.3v6.4M419.6 534.4v-6.4M419.6 330.3v6.4M494.9 534.4v-6.4M494.9 330.3v6.4M570.2 534.4v-6.4M570.2 330.3v6.4M43 371.1h6.4M645.5 371.1h-6.4M43 411.9h6.4M645.5 411.9h-6.4M43 452.8h6.4M645.5 452.8h-6.4M43 493.6h6.4M645.5 493.6h-6.4" fill="none" stroke="#000" stroke-opacity="0.3" stroke-width="1.25"/>
<g clip-path="url(#ct1)">
<polyline points="42.9,403 44.1,415.6 45.1,404.1 46.2,417.8 47.2,405.1 47.9,416.9 49,406.8 50.1,416.6 51.2,404.1 52.1,415.9 52.9,402.9 54.1,416.5 55,402.7 56.2,418.8 57.2,404.5 58.1,419.5 58.9,405.4 60.1,418.4 61.1,403.4 62.2,414.2 63.2,407.2 64.3,416.1 65.2,403.9 66,417.5 67,400.8 68.1,418.4 68.8,403.5 69.9,417.3 70.9,401.5 72.2,416.8 73.2,401.7 74.3,419.1 75.2,401.9 76,419.2 77,403.4 77.9,415.8 79,405.4 79.9,414.9 81.3,405.2 82.2,415.2 83.2,404.3 84.2,419 85,405.2 85.9,417.7 86.9,404 88,417.6 89.2,406.9 90,415.6 91.3,403.7 92.2,415.6 92.9,405.4 94.3,416 95,405 96,416.2 96.9,406.3 98.3,417.3 98.9,404.2 100.3,423.4 100.9,400.3 102.3,423.8 103.1,399.3 104.3,414.5 105.3,402.7 106.3,419.9 107.3,403.6 108,415.4 109,406.1 109.9,415.8 110.9,402.6 112,420.1 112.9,405.8 113.9,414.2 115.2,405.3 116.2,414.9 117.2,405.6 118.2,417.2 119.2,404.6 120,414.4 120.9,405.5 121.9,416.5 123.4,404 124.3,417.2 125.3,403.8 126,415.7 127,404.5 127.9,416.7 129.3,404.7 130.3,417.8 131.1,403.2 132.1,418.3 133,406.9 133.9,417.4 135.1,406.7 136.4,417.4 137.2,402.8 138.3,414.6 138.9,405.4 140.1,415.6 141.3,407.4 142.1,415 143,407.9 144,416 145.1,403.9 146.4,416 147,404.3 147.9,416.3 149.3,404.9 150.2,413.8 151,404.4 152.1,416.8 153.1,405.3 154.2,418.3 155,403.9 156.3,415.8 157.1,404.6 157.9,415.6 159.1,406 160.1,417.5 161.1,403.5 162.1,418.6 163.1,402.8 164.1,417 165,405.7 166.3,416.3 167.2,405.8 168.3,417.8 169.4,403.9 170.2,416.3 171.3,402.6 172,415.9 173,406.2 174.4,417.7 174.9,407.3 175.9,418.1 177.2,404.3 178.2,416.4 179.2,405.2 180.4,416.8 181.4,405.6 182,418.9 183,406.6 183.9,415.4 185.3,405.6 186.2,417 187.3,403.3 188.4,413.9 189.1,405.3 190.4,416.6 191.2,405 192.3,414.9 193.3,406.9 194.2,418 195,403.9 196.1,413.8 197.3,406.1 198.3,416.9 199.1,402.8 200.3,415.1 201,405.9 202.2,416.4 203.4,406 204.1,418.2 205.4,403.7 206.1,416.8 207.4,404.1 207.9,420.3 209.2,404.1 210.4,415.5 211.4,406 211.9,415.6 213.2,406.2 214.4,417.6 215.3,404.4 216.2,418.1 217.2,403.9 218.2,417.2 219,404.4 220.1,414.5 221,407 222.4,417.9 223.4,404.6 224.4,416.3 225.1,404.7 226.2,416.9 227,405.6 228.3,415.1 229.2,407.2 230,416.7 231.1,405.3 232,414.4 233.4,407 234.1,416.3 235.3,406.5 236.1,416 237.1,402.4 238.1,420.7 239.2,404.1 240.1,418.8 241.2,406 242.3,416.4 243.1,402.8 244.1,417.4 245.1,405.5 246.2,413.6 247.2,404.3 248.3,415 249.3,405.9 250,415.7 251.1,404.8 252.1,416.1 253.1,401 254.1,418.4 255,403.8 256.4,419.4 257,404.4 258.3,416.5 259.5,402.6 260.1,418 261.4,402.7 262.2,416.5 263.1,403.5 264.5,415.7 265.3,403 266.2,416.9 267.3,403.7 268.1,417.6 269.1,404.4 270.3,414.9 271.2,404.3 272.1,414.7 273.2,404.5 274.1,417.4 275.2,401.8 276.4,418.7 277,406.6 278.4,414 279.5,407.4 280.3,418.2 281.3,404.3 282.3,417.8 283.2,406.1 284.3,414.1 285.4,402.9 286.2,417.8 287.4,404.7 288.4,415.4 289.1,403 290.4,417.6 291.1,402.3 292.1,415.5 293.5,407.2 294.3,418.1 295.3,405.3 296.4,416.2 297.5,402.8 298.2,417 299.4,402.9 300.1,416 301.2,401.1 302,418.6 303.4,402.6 304.1,415.5 305.2,406.2 306.1,415.7 307.5,405.1 308.3,417.4 309.5,406.7 310.1,416.8 311.4,401.6 312.2,418 313.5,404.8 314.1,417.8 315.4,402.5 316.4,417.5 317.4,403.7 318.4,424.2 319.1,391.1 320.3,422.4 321.4,399.6 322.2,415.6 323.4,401.5 324.3,416.1 325.2,403.6 326.5,416.6 327.3,405.7 328.3,416.9 329.4,401.2 330.4,418 331.1,403.4 332.2,414.7 333.2,406.2 334.2,414.8 335.1,405.5 336.5,418.4 337.2,402.6 338.2,418.2 339.3,404.1 340.5,415.9 341.1,402.9 342.2,419.1 343.5,401.2 344.2,419.6 345.5,405 346.1,415.9 347.2,401.6 348.5,418 349.2,403.1 350.1,418.1 351.2,402.9 352.5,414.2 353.5,405.1 354.3,418.6 355.2,403.4 356.5,415.6 357.4,407.9 358.4,415.1 359.5,403.8 360.5,420 361.2,407.2 362.5,418.9 363.4,405.7 364.5,418.8 365.2,404.1 366.1,414.6 367.2,406.3 368.5,418.4 369.4,404.9 370.4,415.8 371.1,402.4 372.1,415.4 373.3,402.8 374.1,415.8 375.3,404 376.2,418.4 377.3,403.6 378.3,421 379.4,403.7 380.3,423.6 381.6,401.9 382.3,417.5 383.4,400.6 384.3,419.4 385.2,402.8 386.6,417.5 387.2,406 388.5,417.1 389.4,403.7 390.1,417.1 391.3,405.6 392.2,419.3 393.2,404.5 394.4,415.9 395.4,405.7 396.4,418.2 397.6,402.4 398.4,415.9 399.1,405.3 400.5,417 401.4,406.3 402.5,416.8 403.2,401.5 404.3,415.7 405.5,402.9 406.3,416.5 407.1,402.9 408.6,416.5 409.2,404 410.5,416.2 411.3,404.2 412.5,417.1 413.1,402.8 414.3,419.4 415.4,405.1 416.2,416.4 417.3,402.8 418.6,416.9 419.3,407.1 420.4,415.1 421.2,405.4 422.5,415.1 423.2,404.5 424.6,416 425.1,405.4 426.5,418.5 427.4,406.3 428.6,419.6 429.6,404.5 430.5,416.3 431.6,405.2 432.6,416.9 433.2,405.6 434.5,415.6 435.6,405.2 436.5,416.8 437.1,405.2 438.3,417.1 439.3,404.1 440.4,415.7 441.3,406.1 442.3,415.1 443.6,406.1 444.6,415.6 445.6,405.2 446.3,418.6 447.6,405.4 448.2,416.5 449.2,402.8 450.4,414.7 451.4,405.7 452.1,414.7 453.5,404.3 454.2,419 455.4,402.4 456.2,418.2 457.4,403.9 458.4,419 459.6,406.8 460.4,418.2 461.2,405.6 462.2,417.8 463.2,406.8 464.5,415.8 465.2,405.4 466.4,416.1 467.3,403.4 468.4,418.8 469.2,406.8 470.2,417.8 471.5,404.8 472.2,416.9 473.3,401.7 474.2,419.9 475.5,405.3 476.2,416 477.4,404.6 478.4,414.9 479.4,405 480.2,419.8 481.2,402.5 482.2,417.3 483.6,404.9 484.6,414.2 485.6,404.6 486.6,417.9 487.2,403.2 488.3,418.2 489.6,401.9 490.2,418.5 491.2,405.9 492.3,415.6 493.3,404.7 494.5,416.7 495.7,401.1 496.5,418.2 497.3,405.3 498.5,416.4 499.6,402.1 500.3,416.8 501.2,402.5 502.5,418.5 503.2,403.3 504.6,416.8 505.5,403.4 506.7,416.2 507.3,403.1 508.3,416 509.4,405 510.3,415.5 511.5,406.4 512.5,418.5 513.3,403.3 514.6,416.9 515.4,402.5 516.3,415.3 517.3,405.6 518.5,418.2 519.4,404.3 520.3,417.5 521.7,404.6 522.6,417.6 523.6,404.1 524.6,417.2 525.3,406.7 526.6,414.3 527.4,405 528.6,418 529.3,403.7 530.4,415.8 531.4,402.1 532.5,418.7 533.6,405 534.3,418.4 535.6,402.2 536.6,421.9 537.5,401.3 538.3,415.2 539.4,404.8 540.4,415.6 541.5,402.6 542.6,417.6 543.6,406.6 544.6,416.9 545.4,405.2 546.7,417.2 547.2,402.8 548.4,414.7 549.6,405.6 550.6,419.1 551.7,404.4 552.6,415.8 553.4,404.1 554.6,417.7 555.4,402.8 556.5,416.5 557.3,404.7 558.6,417.9 559.7,404.2 560.4,419.2 561.6,406.4 562.6,417.3 563.6,404.9 564.6,419.5 565.5,401.2 566.7,416.8 567.5,404.4 568.6,416.2 569.6,402.3 570.3,416.3 571.5,403.2 572.3,416.6 573.6,401.7 574.5,416.7 575.5,406.2 576.5,415 577.6,402.1 578.4,417.5 579.6,403.5 580.5,418 581.3,404.5 582.7,416.8 583.7,403.1 584.6,415.5 585.5,404.4 586.7,418 587.5,406 588.5,417.7 589.6,405.4 590.6,419.2 591.4,402.9 592.7,418 593.6,404.7 594.4,414.7 595.4,405.2 596.7,415.8 597.7,404.1 598.3,415.5 599.4,406.9 600.3,417.2 601.5,405.2 602.7,415.9 603.6,405.4 604.6,417.8 605.6,404.8 606.4,416.5 607.4,404.2 608.5,417.1 609.6,405.1 610.7,414.5 611.3,404.1 612.7,414.8 613.3,404.9 614.7,416 615.6,406.2 616.3,416.5 617.7,408.3 618.3,416.1 619.5,404.3 620.6,414.6 621.4,405.1 622.4,416.4 623.8,404.1 624.3,416.5 625.7,405.6 626.6,417.6 627.7,403 628.3,416.9 629.4,404.2 630.4,418.9 631.3,403 632.7,415.9 633.4,405.9 634.4,417 635.8,405.9 636.3,416.6 637.6,405.4 638.6,415.2 639.5,405 640.5,417.8 641.4,404.9 642.3,416.4 643.3,403.2 644.6,416.3 645.3,404.3" fill="none" stroke="#00f" stroke-width="0.8" stroke-opacity="0.36" stroke-linejoin="bevel"/>
<polyline points="43,405.2 43.6,415.5 44.1,407.3 44.6,415.2 45.1,403.8 45.6,417.6 46.1,408.1 46.6,416.6 47.1,407.1 47.6,414.2 48.1,405.6 48.6,416.1 49.1,406.2 49.6,413.9 50.1,405 50.6,416 51.1,406.9 51.6,416.3 52.1,405.2 52.6,415.1 53.1,407.4 53.6,415.3 54.1,406.5 54.6,414.4 55.1,405.2 55.6,415.4 56.1,404 56.6,416.6 57.1,404.7 57.6,415 58.1,403.9 58.6,414 59.1,406.6 59.6,415.2 60.1,406.6 60.6,415.6 61.1,406.6 61.6,415.7 62.1,407.2 62.6,415.2 63.1,407.2 63.6,415.2 64.1,408 64.6,414.6 65.1,403.7 65.6,416.6 66.1,405.7 66.6,414.6 67.1,406 67.6,417.3 68.1,402 68.6,415.4 69.1,404.5 69.6,416.1 70.1,406.5 70.6,415.3 71.1,405.9 71.6,414.5 72.1,406.7 72.6,414.4 73.1,405 73.6,416.4 74.1,404.4 74.6,419.4 75.1,403.7 75.6,418 76.1,404.7 76.6,416.5 77.1,405.7 77.6,415.1 78.1,405.5 78.6,414.7 79.1,406.1 79.6,413.3 80.1,405.7 80.6,414.3 81.1,406.9 81.6,414 82.1,405.8 82.6,415.4 83.1,407 83.6,416.6 84.1,404.6 84.6,416.8 85.1,405.1 85.6,415.3 86.1,406.6 86.6,414.6 87.1,406.3 87.6,417.4 88.1,403.9 88.6,416.6 89.1,405.8 89.6,416.1 90.1,404.7 90.6,415.7 91.1,406 91.6,415.7 92.1,407.3 92.6,416.2 93.1,406 93.6,414.5 94.1,408 94.6,416.3 95.1,407.1 95.6,415.9 96.1,404.3 96.6,415.1 97.1,406.2 97.6,414.4 98.1,404.6 98.6,417.7 99.1,403.5 99.6,417.9 100.1,404.7 100.6,415.9 101.1,403.7 101.6,420.5 102.1,401.6 102.6,418.2 103.1,405.7 103.6,418 104.1,404.8 104.6,416.2 105.1,404.9 105.6,414 106.1,405 106.6,418 107.1,405.1 107.6,416.5 108.1,406.7 108.6,415 109.1,405.9 109.6,416.1 110.1,406.6 110.6,414.4 111.1,405.5 111.6,415.3 112.1,407.3 112.6,417.3 113.1,406.2 113.6,417.3 114.1,407.3 114.6,415 115.1,405.7 115.6,416 116.1,406.6 116.6,414.1 117.1,403.5 117.6,414.6 118.1,405.7 118.6,415.2 119.1,405.2 119.6,414.5 120.1,407 120.6,415.8 121.1,408.1 121.6,414.8 122.1,406.8 122.6,417 123.1,405.9 123.6,415 124.1,405.5 124.6,415.5 125.1,408 125.6,415.2 126.1,405.1 126.6,414.9 127.1,406.3 127.6,416.1 128.1,407.3 128.6,415.7 129.1,406.7 129.6,415.4 130.1,406 130.6,416.9 131.1,407.4 131.6,414.9 132.1,406.1 132.6,416.3 133.1,407.5 133.6,415.8 134.1,405.4 134.6,416.1 135.1,404.6 135.6,415.2 136.1,407.9 136.6,416.1 137.1,405.3 137.6,414.3 138.1,405 138.6,413.2 139.1,405.8 139.6,416.6 140.1,406.8 140.6,414 141.1,406.8 141.6,413.4 142.1,407.3 142.6,415.6 143.1,407.4 143.6,414.7 144.1,407.2 144.6,414.5 145.1,406.6 145.6,415.5 146.1,406.1 146.6,415.4 147.1,405.4 147.6,413.8 148.1,406.5 148.6,414.9 149.1,406.5 149.6,415.2 150.1,407.2 150.6,415.3 151.1,406.4 151.6,413.8 152.1,405.6 152.6,413.9 153.1,405.4 153.6,416.8 154.1,404 154.6,413.9 155.1,406.2 155.6,414.9 156.1,406.5 156.6,414.7 157.1,406.1 157.6,415.6 158.1,406.6 158.6,415.3 159.1,406.2 159.6,413.5 160.1,406.4 160.6,414.3 161.1,406.5 161.6,413.8 162.1,404.8 162.6,414.8 163.1,405.3 163.7,413.5 164.2,407.6 164.7,415.7 165.2,405.1 165.7,413.7 166.2,406.2 166.7,416.2 167.2,406.1 167.7,414.3 168.2,404.9 168.7,416.5 169.2,405.2 169.7,415 170.2,405.7 170.7,416 171.2,406.5 171.7,415.5 172.2,408.1 172.7,414.2 173.2,406.5 173.7,415.9 174.2,406.5 174.7,415.3 175.2,406.2 175.7,415 176.2,406 176.7,417.3 177.2,404.4 177.7,416.2 178.2,406.5 178.7,416.3 179.2,406.1 179.7,417.4 180.2,408 180.7,416.3 181.2,404.4 181.7,415.4 182.2,406.4 182.7,414.7 183.2,407.1 183.7,414.3 184.2,406.5 184.7,415.2 185.2,405.8 185.7,416 186.2,405.6 186.7,413.8 187.2,405.3 187.7,416.1 188.2,407.5 188.7,416.3 189.2,405.3 189.7,416.8 190.2,404.9 190.7,416.6 191.2,405.7 191.7,417.3 192.2,405 192.7,413.1 193.2,406.6 193.7,415.9 194.2,405.1 194.7,415 195.2,403.9 195.7,416.2 196.2,406.2 196.7,414.5 197.2,405.6 197.7,413.9 198.2,406.1 198.7,414.8 199.2,404.2 199.7,416.7 200.2,406.6 200.7,414.4 201.2,405.5 201.7,415 202.2,407.5 202.7,415.8 203.2,408.2 203.7,415.7 204.2,404.1 204.7,415.3 205.2,404.6 205.7,415.7 206.2,406.2 206.7,414.7 207.2,404.6 207.7,416.8 208.2,406.5 208.7,416 209.2,403.5 209.7,417.1 210.2,405.3 210.7,415.4 211.2,407.7 211.7,414.7 212.2,407.9 212.7,415.5 213.2,407.7 213.7,415.2 214.2,406.4 214.7,415.3 215.2,408 215.7,416.3 216.2,403.8 216.7,416.7 217.2,406.8 217.7,415 218.2,407.5 218.7,414.4 219.2,405.6 219.7,415.3 220.2,406.4 220.7,413.8 221.2,408.3 221.7,414.3 222.2,406.3 222.7,415.2 223.2,405.4 223.7,414.6 224.2,404.8 224.7,416.3 225.2,404.4 225.7,417.6 226.2,404.8 226.7,414.8 227.2,406.4 227.7,415.7 228.2,406 228.7,415.8 229.2,406.7 229.7,414.7 230.2,408.5 230.7,415.6 231.2,406.4 231.7,414.7 232.2,407.6 232.7,415.5 233.2,403 233.7,415 234.2,405.3 234.7,415.6 235.2,406.6 235.7,415.1 236.2,408.1 236.7,416.9 237.2,404.4 237.7,417.1 238.2,405.1 238.7,415 239.2,407.4 239.7,414.4 240.2,406.3 240.7,417 241.2,405 241.7,414.7 242.2,406.7 242.7,415.3 243.2,404.1 243.7,415.3 244.2,406.8 244.7,416.1 245.2,408.7 245.7,414.8 246.2,405.6 246.7,415.7 247.2,404.6 247.7,416 248.2,405.4 248.7,415.9 249.2,406.7 249.7,413.9 250.2,407.5 250.7,415 251.2,405.4 251.7,415.7 252.2,405.1 252.7,416.4 253.2,403.6 253.7,415.8 254.2,405.1 254.7,415.5 255.2,405.8 255.7,418 256.2,405.2 256.7,416.8 257.2,403.6 257.7,413.6 258.2,406.1 258.7,416.4 259.2,405.9 259.7,415.7 260.2,407.3 260.7,416.2 261.2,405.1 261.7,416.5 262.2,406.4 262.7,416.8 263.2,406.9 263.7,414.4 264.2,405.8 264.7,416.1 265.2,403.3 265.7,415.9 266.2,404.1 266.7,415.9 267.2,405.9 267.7,415 268.2,405.6 268.7,416.6 269.2,405.3 269.7,415.1 270.2,406 270.7,413.9 271.2,406.5 271.7,416.1 272.2,405.7 272.7,415.8 273.2,407.3 273.7,414.4 274.2,406.8 274.7,415.5 275.2,405.1 275.7,415.5 276.2,405.8 276.7,414.8 277.2,406.7 277.7,415.6 278.2,406.7 278.7,414.9 279.2,407.1 279.7,415 280.2,406.6 280.7,415.1 281.2,406.8 281.7,415.1 282.2,404.7 282.7,415 283.2,404.5 283.7,414.5 284.3,406.4 284.8,413.5 285.3,404.4 285.8,417.8 286.3,404.7 286.8,413.8 287.3,405.8 287.8,415.8 288.3,405.1 288.8,416.3 289.3,407.8 289.8,416.1 290.3,404.8 290.8,417.3 291.3,405.4 291.8,416.4 292.3,406.7 292.8,416.3 293.3,406.5 293.8,416.5 294.3,407.2 294.8,414.3 295.3,406.4 295.8,415.2 296.3,406.8 296.8,417.4 297.3,405.8 297.8,416.3 298.3,403.4 298.8,417 299.3,407.3 299.8,414.1 300.3,408 300.8,414.9 301.3,406.8 301.8,416.9 302.3,405.1 302.8,418.5 303.3,406.9 303.8,414.3 304.3,405.1 304.8,416.6 305.3,406.9 305.8,415.6 306.3,406.7 306.8,414.5 307.3,405.9 307.8,415.7 308.3,408 308.8,415.1 309.3,406.1 309.8,415.7 310.3,405.3 310.8,414.8 311.3,404 311.8,415.7 312.3,407.6 312.8,414.6 313.3,407.4 313.8,417.2 314.3,406.6 314.8,415.1 315.3,405.4 315.8,413.5 316.3,405.8 316.8,417.3 317.3,405.1 317.8,419 318.3,395.5 318.8,421.7 319.3,396.8 319.8,421.6 320.3,403.1 320.8,416.8 321.3,402.5 321.8,413.9 322.3,404 322.8,418.6 323.3,402 323.8,416.1 324.3,406.1 324.8,416.6 325.3,405.3 325.8,415.6 326.3,407.8 326.8,415.4 327.3,406.2 327.8,414.1 328.3,405.4 328.8,414.1 329.3,405.9 329.8,417.3 330.3,403.4 330.8,415.8 331.3,405.1 331.8,416.1 332.3,407.3 332.8,416.5 333.3,406 333.8,414.6 334.3,407.9 334.8,416.1 335.3,405 335.8,416.4 336.3,404.7 336.8,416.4 337.3,404.6 337.8,415.8 338.3,404 338.8,413.6 339.3,406.8 339.8,415.2 340.3,402.3 340.8,414.9 341.3,404.9 341.8,415.1 342.3,403.5 342.8,417.1 343.3,402.4 343.8,419.2 344.3,401.9 344.8,415.1 345.3,404.3 345.8,417.3 346.3,402.5 346.8,418.2 347.3,403.8 347.8,416.2 348.3,406 348.8,416.1 349.3,403.6 349.8,416.2 350.3,405.3 350.8,415.9 351.3,404.6 351.8,413.9 352.3,407.5 352.8,416.8 353.3,405.9 353.8,418.1 354.3,405.7 354.8,415.9 355.3,405.1 355.8,415.5 356.3,405.3 356.8,413.9 357.3,406.2 357.8,414.5 358.3,407.9 358.8,415 359.3,407.9 359.8,415.1 360.3,405.1 360.8,416 361.3,405.3 361.8,415.8 362.3,404.1 362.8,415 363.3,406 363.8,415.1 364.3,405 364.8,416.2 365.3,403 365.8,415.7 366.3,407.2 366.8,415 367.3,404.9 367.8,414.6 368.3,405.4 368.8,415.2 369.3,405.5 369.8,415.3 370.3,405.9 370.8,416.2 371.3,407.3 371.8,414.2 372.3,404.1 372.8,415.6 373.3,406.3 373.8,414.9 374.3,405.2 374.8,414.5 375.3,405.5 375.8,414.9 376.3,406 376.8,417.8 377.3,402.4 377.8,419.8 378.3,402.3 378.8,416.2 379.3,404.4 379.8,420 380.3,399.7 380.8,419.4 381.3,405.1 381.8,417.9 382.3,403.2 382.8,418.3 383.3,405.9 383.8,416.1 384.3,404.2 384.8,415.4 385.3,405 385.8,417.8 386.3,406 386.8,415.9 387.3,407.5 387.8,413.2 388.3,407.6 388.8,415.9 389.3,405.4 389.8,415.6 390.3,406.6 390.8,414.7 391.3,407.1 391.8,415.8 392.3,403.2 392.8,415.2 393.3,406 393.8,414.8 394.3,408 394.8,413.5 395.3,406.9 395.8,415.1 396.3,405.7 396.8,417.9 397.3,405.6 397.8,417.7 398.3,407.1 398.8,414.4 399.3,406.7 399.8,415.5 400.3,405.8 400.8,414.8 401.3,406.8 401.8,417 402.3,405.8 402.8,417.3 403.3,405.2 403.8,416.6 404.3,404.2 404.9,415.1 405.4,406.5 405.9,415.3 406.4,407.4 406.9,414.7 407.4,405.8 407.9,416.5 408.4,405 408.9,416.9 409.4,406 409.9,414.5 410.4,406.5 410.9,413.5 411.4,404 411.9,414.1 412.4,406.1 412.9,416.9 413.4,405.1 413.9,416.9 414.4,404.2 414.9,415.1 415.4,407.9 415.9,416.8 416.4,406.1 416.9,415.1 417.4,406.6 417.9,416.5 418.4,403.5 418.9,413.6 419.4,406.8 419.9,416.3 420.4,406.3 420.9,414.3 421.4,405.5 421.9,416 422.4,407.3 422.9,416.8 423.4,404.8 423.9,416.1 424.4,403.1 424.9,414.9 425.4,406.1 425.9,416.9 426.4,406.1 426.9,413.5 427.4,405.3 427.9,416.1 428.4,405.2 428.9,416.6 429.4,406.9 429.9,416.7 430.4,406.2 430.9,415.5 431.4,405.3 431.9,417 432.4,404.9 432.9,415.9 433.4,405.4 433.9,416.5 434.4,406.1 434.9,416.2 435.4,404.6 435.9,415.4 436.4,405.9 436.9,414.9 437.4,406.6 437.9,415.1 438.4,406.5 438.9,414.2 439.4,406.2 439.9,414.8 440.4,405.5 440.9,415.5 441.4,406.3 441.9,416.7 442.4,407.1 442.9,414.8 443.4,407.2 443.9,415.3 444.4,408.4 444.9,414.8 445.4,406.6 445.9,414.2 446.4,406.8 446.9,417.1 447.4,404.8 447.9,417.3 448.4,405.2 448.9,416.7 449.4,407.7 449.9,413.5 450.4,406.5 450.9,414.8 451.4,406.7 451.9,415.1 452.4,404.9 452.9,415.5 453.4,407.5 453.9,416.4 454.4,405 454.9,415.1 455.4,405.2 455.9,415.6 456.4,407.1 456.9,414.7 457.4,405.3 457.9,416.9 458.4,404.8 458.9,415.4 459.4,405.7 459.9,416.1 460.4,405.1 460.9,415.4 461.4,405.9 461.9,416.7 462.4,406.3 462.9,414.7 463.4,406.2 463.9,414.1 464.4,404.3 464.9,415.5 465.4,402.7 465.9,415.5 466.4,405.7 466.9,416 467.4,404.5 467.9,415.7 468.4,405.3 468.9,415.4 469.4,407.3 469.9,415 470.4,404 470.9,414.3 471.4,406.4 471.9,413.6 472.4,406.7 472.9,418.1 473.4,405.8 473.9,417.8 474.4,406.9 474.9,416.3 475.4,406.8 475.9,414.2 476.4,405.4 476.9,416.7 477.4,404.2 477.9,415.4 478.4,405.1 478.9,417.1 479.4,404 479.9,417.8 480.4,405.4 480.9,415.4 481.4,405.5 481.9,416.3 482.4,406.7 482.9,415.1 483.4,405.8 483.9,417.2 484.4,406.8 484.9,415.9 485.4,404.6 485.9,417 486.4,402.4 486.9,417.4 487.4,404.4 487.9,416.3 488.4,406.3 488.9,417 489.4,407.7 489.9,414.5 490.4,406.4 490.9,414.2 491.4,407.9 491.9,414.6 492.4,406.9 492.9,416.2 493.4,406.1 493.9,415.5 494.4,405.8 494.9,415.1 495.4,404.6 495.9,415.6 496.4,402.6 496.9,415.7 497.4,406.5 497.9,414.5 498.4,406.3 498.9,414.5 499.4,405.3 499.9,415.8 500.4,406.1 500.9,416.2 501.4,405.5 501.9,414 502.4,406.2 502.9,414.9 503.4,406.9 503.9,414.3 504.4,407.4 504.9,417.6 505.4,405 505.9,417.2 506.4,403 506.9,416.2 507.4,403.3 507.9,416.4 508.4,406.7 508.9,414.9 509.4,406.3 509.9,415.6 510.4,407.6 510.9,414.8 511.4,403.8 511.9,417.1 512.4,404.1 512.9,417.2 513.4,406.9 513.9,415.9 514.4,405.3 514.9,415.2 515.4,406.7 515.9,416.5 516.4,405.8 516.9,416.7 517.4,406.4 517.9,416.8 518.4,404.4 518.9,416 519.4,404.3 519.9,414.8 520.4,405.1 520.9,416.2 521.4,404.9 521.9,413.7 522.4,405.8 522.9,416.2 523.4,406.3 523.9,415.1 524.4,405.9 524.9,414.5 525.5,407.3 526,414.7 526.5,406.6 527,415.1 527.5,406.9 528,414.6 528.5,407 529,415.1 529.5,405 530,416.1 530.5,404.5 531,416.7 531.5,405.3 532,417 532.5,404.7 533,416.6 533.5,406.4 534,415.8 534.5,407.8 535,415.8 535.5,404.6 536,416.8 536.5,402.9 537,417.1 537.5,405.2 538,415.5 538.5,406 539,415.2 539.5,404.3 540,414 540.5,405.5 541,416.3 541.5,404.2 542,417.6 542.5,404 543,416.2 543.5,403.3 544,415.6 544.5,405.9 545,415.8 545.5,405.9 546,416.1 546.5,405.3 547,416.8 547.5,403.8 548,415.1 548.5,407 549,414.4 549.5,405.7 550,415.4 550.5,403.2 551,416.7 551.5,406.4 552,413.5 552.5,406.2 553,417 553.5,403.2 554,414.7 554.5,405.8 555,414.2 555.5,407.9 556,416.3 556.5,405.7 557,414.6 557.5,408.3 558,416.2 558.5,407.8 559,415.6 559.5,407.4 560,414.4 560.5,406.6 561,415.7 561.5,404.6 562,415.9 562.5,406.4 563,416.3 563.5,408.1 564,415.6 564.5,404.3 565,416.3 565.5,405.7 566,414.8 566.5,407.4 567,416 567.5,404.9 568,415 568.5,406.2 569,413.6 569.5,407.3 570,416.1 570.5,406.6 571,417.2 571.5,406.1 572,416.5 572.5,406.9 573,415.4 573.5,407 574,415.8 574.5,406.8 575,415.8 575.5,406.3 576,415.8 576.5,406.1 577,415 577.5,406 578,416.9 578.5,407.6 579,417.1 579.5,407.4 580,416.1 580.5,405.7 581,417.8 581.5,405.8 582,415.8 582.5,404.3 583,416.3 583.5,404 584,416.3 584.5,404.9 585,414.3 585.5,407.5 586,416.3 586.5,405.7 587,414.3 587.5,407.2 588,414.5 588.5,408.1 589,415.6 589.5,406.7 590,413.9 590.5,403.8 591,415.6 591.5,406.1 592,416.5 592.5,405.9 593,414.6 593.5,406.9 594,414 594.5,406.8 595,414.3 595.5,403.3 596,415.4 596.5,403.5 597,415.2 597.5,404.9 598,414.7 598.5,405.7 599,415.3 599.5,404.1 600,413.4 600.5,406.4 601,416.5 601.5,408.2 602,413.4 602.5,403.6 603,415.5 603.5,405.3 604,413.9 604.5,405.2 605,415.5 605.5,406 606,415.4 606.5,406.7 607,414 607.5,405.7 608,415.6 608.5,407.3 609,416.3 609.5,405 610,416.2 610.5,406.4 611,413.5 611.5,408 612,414.8 612.5,405.8 613,416.2 613.5,405.1 614,414.4 614.5,406.4 615,415 615.5,407.2 616,414.8 616.5,407 617,414.6 617.5,408.5 618,414.9 618.5,407.5 619,413.8 619.5,407.2 620,414.3 620.5,406.4 621,414.7 621.5,406 622,413.2 622.5,406.4 623,416 623.5,403.3 624,416 624.5,404.4 625,415.7 625.5,405.2 626,414 626.5,406 627,413.9 627.5,405.8 628,417 628.5,407 629,416.2 629.5,406.3 630,414.5 630.5,406.3 631,416.9 631.5,404.4 632,416.4 632.5,406.2 633,414.9 633.5,406.1 634,414.9 634.5,405.7 635,414.8 635.5,404 636,414.4 636.5,405.1 637,416.2 637.5,406.8 638,415.4 638.5,405.5 639,414.4 639.5,406.4 640,416.1 640.5,405 641,415 641.5,407.1 642,416.4 642.5,405.8 643,413.8 643.5,406.4 644,415.9 644.5,406.8 645,415.9 645.5,408.1" fill="none" stroke="#00f" stroke-width="0.8" stroke-opacity="0.34" stroke-linejoin="bevel"/>
<polyline points="43,408.2 43.6,413.9 44.1,407.6 44.6,412.6 45.1,406.7 45.6,414.8 46.1,406 46.6,413.8 47.1,407.9 47.6,414.3 48.1,408.5 48.6,414.1 49.1,409 49.6,413.3 50.1,407.6 50.6,413.9 51.1,408.6 51.6,414.2 52.1,407.6 52.6,414.8 53.1,407.7 53.6,414.2 54.1,406.9 54.6,413.4 55.1,406.8 55.6,413.8 56.1,405.5 56.6,413.9 57.1,406.5 57.6,413 58.1,407.4 58.6,414.4 59.1,407.5 59.6,414 60.1,408 60.6,414.7 61.1,407.4 61.6,414 62.1,408.5 62.6,412.8 63.1,407.3 63.6,415.2 64.1,406.1 64.6,414.9 65.1,406.7 65.6,414.3 66.1,407.2 66.6,414.4 67.1,407.7 67.6,413.9 68.1,405.8 68.6,414.2 69.1,404.7 69.6,414.8 70.1,406 70.6,414.7 71.1,407.4 71.6,414.5 72.1,407.1 72.6,414.8 73.1,406.8 73.6,415.8 74.1,406.6 74.6,415.8 75.1,407 75.6,416.5 76.1,406.7 76.6,415 77.1,407.8 77.6,413.1 78.1,409.3 78.6,414.5 79.1,407.4 79.6,413 80.1,408.2 80.6,412.7 81.1,407.3 81.6,414.2 82.1,407 82.6,413.7 83.1,406.9 83.6,414.4 84.1,408.2 84.6,415.5 85.1,407.7 85.6,414.5 86.1,407 86.6,414.9 87.1,406.2 87.6,414.8 88.1,408.4 88.6,414.9 89.1,405.4 89.6,414.2 90.1,406.6 90.6,414.3 91.1,407.5 91.6,414.5 92.1,406 92.6,414.9 93.1,407.5 93.6,414.2 94.1,409.1 94.6,412.8 95.1,409.2 95.6,413.8 96.1,406.4 96.6,415 97.1,408 97.6,414.8 98.1,406.3 98.6,417.1 99.1,407.4 99.6,414.5 100.1,405.2 100.6,415.7 101.1,407 101.6,416.4 102.1,402.3 102.6,416.4 103.1,407.1 103.6,415.7 104.1,408 104.6,414.7 105.1,407.1 105.6,414.9 106.1,406.9 106.6,415 107.1,407.5 107.6,414.6 108.1,406.4 108.6,413.4 109.1,406.8 109.6,414.1 110.1,408.7 110.6,414.4 111.1,407.5 111.6,413.5 112.1,406.5 112.6,413.6 113.1,407.8 113.6,413.6 114.1,406.9 114.6,415.7 115.1,407.3 115.6,414.4 116.1,407.4 116.6,414.4 117.1,406.3 117.6,414.5 118.1,406.5 118.6,414.8 119.1,408.1 119.6,414.2 120.1,406.8 120.6,412.6 121.1,408 121.6,415.1 122.1,406.6 122.6,414.7 123.1,406.7 123.6,413.8 124.1,407.2 124.6,414.2 125.1,407.2 125.6,413.7 126.1,407.2 126.6,413.2 127.1,406.2 127.6,415.7 128.1,408.4 128.6,413.8 129.1,408.9 129.6,414.7 130.1,407.7 130.6,414.3 131.1,407.5 131.6,413.9 132.1,406.5 132.6,414.1 133.1,407.3 133.6,414.2 134.1,408.1 134.6,416 135.1,408.6 135.6,415 136.1,406.8 136.6,415.3 137.1,408.4 137.6,414.5 138.1,408.4 138.6,415.2 139.1,409.1 139.6,414.1 140.1,407.5 140.6,413.1 141.1,408.8 141.6,414.7 142.1,408.3 142.6,413.5 143.1,407.6 143.6,413.7 144.1,409 144.6,412.9 145.1,408.5 145.6,413.4 146.1,407.5 146.6,413.9 147.1,407.5 147.6,414.7 148.1,407.6 148.6,414.4 149.1,407.2 149.6,413.8 150.1,407.9 150.6,414.6 151.1,407 151.6,415.6 152.1,406.8 152.6,414.6 153.1,406.3 153.6,415.2 154.1,405.8 154.6,414.7 155.1,407.5 155.6,413.1 156.1,406.3 156.6,413.2 157.1,406.6 157.6,413.5 158.1,408.3 158.6,413.6 159.1,408 159.6,414.2 160.1,407.9 160.6,413.4 161.1,406 161.6,412.9 162.1,406.5 162.6,415.1 163.1,406.6 163.7,415.7 164.2,407.3 164.7,412.9 165.2,406.6 165.7,413.4 166.2,408.4 166.7,414.3 167.2,408.1 167.7,414.2 168.2,406.7 168.7,413.5 169.2,406.9 169.7,413.2 170.2,407.9 170.7,413.1 171.2,406.4 171.7,415.4 172.2,407.1 172.7,414 173.2,408.4 173.7,415 174.2,408 174.7,413.6 175.2,407.3 175.7,413.8 176.2,407.9 176.7,416.7 177.2,406.7 177.7,414.2 178.2,406.5 178.7,413.7 179.2,408.4 179.7,412.9 180.2,406.8 180.7,415.9 181.2,408.5 181.7,414.4 182.2,408.6 182.7,415 183.2,407.6 183.7,414.7 184.2,407.7 184.7,413.7 185.2,407.6 185.7,414.6 186.2,407.5 186.7,413.2 187.2,406.7 187.7,414 188.2,407.4 188.7,414.1 189.2,407.4 189.7,414.6 190.2,407.7 190.7,416.6 191.2,406.7 191.7,413.7 192.2,406.7 192.7,413.6 193.2,408.3 193.7,412.9 194.2,407.9 194.7,414.2 195.2,408.6 195.7,414 196.2,406.6 196.7,414 197.2,408 197.7,413.1 198.2,406.5 198.7,414.4 199.2,405.1 199.7,413.2 200.2,407.3 200.7,414.4 201.2,407.4 201.7,414.2 202.2,407.3 202.7,412.6 203.2,406.2 203.7,414.7 204.2,405.9 204.7,414.5 205.2,407 205.7,412.9 206.2,406.8 206.7,413.4 207.2,405.8 207.7,413.9 208.2,406.3 208.7,415.5 209.2,406.5 209.7,414.3 210.2,405.2 210.7,413.2 211.2,407.8 211.7,413.5 212.2,406.4 212.7,414.4 213.2,407.8 213.7,413.6 214.2,407.4 214.7,414.9 215.2,405.8 215.7,414.2 216.2,406.7 216.7,416.4 217.2,405.7 217.7,414.4 218.2,407.6 218.7,414.6 219.2,407.7 219.7,414.3 220.2,407.4 220.7,414.3 221.2,407.2 221.7,415 222.2,406.4 222.7,414.2 223.2,407.9 223.7,413.8 224.2,406 224.7,414.6 225.2,405.7 225.7,414 226.2,406.1 226.7,415.5 227.2,408.5 227.7,414.7 228.2,408.1 228.7,413.9 229.2,408.3 229.7,413.4 230.2,408.1 230.7,413 231.2,407.3 231.7,413.8 232.2,407.9 232.7,416.1 233.2,406.2 233.7,413.8 234.2,407.5 234.7,413.6 235.2,408.9 235.7,414.7 236.2,408.5 236.7,414.3 237.2,408.4 237.7,415.9 238.2,406.6 238.7,414.9 239.2,407.2 239.7,414.3 240.2,407.5 240.7,413.6 241.2,409.1 241.7,415.2 242.2,408 242.7,415.3 243.2,406.6 243.7,414.1 244.2,407.9 244.7,414.3 245.2,407.6 245.7,413.6 246.2,408 246.7,414.3 247.2,407.5 247.7,413.7 248.2,406.5 248.7,413.7 249.2,407.3 249.7,413.6 250.2,408.7 250.7,412.9 251.2,408.5 251.7,413.8 252.2,407.2 252.7,415.6 253.2,406.8 253.7,414.6 254.2,407.6 254.7,415.3 255.2,407.4 255.7,415 256.2,405.4 256.7,416.1 257.2,405.9 257.7,415 258.2,406.9 258.7,414.4 259.2,406.1 259.7,414.2 260.2,408.5 260.7,414.7 261.2,407.2 261.7,415.5 262.2,406.8 262.7,413.9 263.2,407 263.7,414.1 264.2,407.9 264.7,413.5 265.2,407.5 265.7,416 266.2,404.9 266.7,415.4 267.2,407.9 267.7,414.1 268.2,406.9 268.7,415.1 269.2,407.8 269.7,414.7 270.2,407 270.7,413.5 271.2,408.1 271.7,414.5 272.2,406.9 272.7,414.3 273.2,408.3 273.7,413.1 274.2,406.7 274.7,415.6 275.2,405.9 275.7,413.8 276.2,406.9 276.7,414.4 277.2,408.2 277.7,413 278.2,406.6 278.7,413.7 279.2,407.9 279.7,414.6 280.2,407.3 280.7,413.6 281.2,407.7 281.7,415.1 282.2,407.1 282.7,414 283.2,405.9 283.7,414.2 284.3,407.2 284.8,415.1 285.3,408.2 285.8,414.5 286.3,406.7 286.8,414 287.3,406.9 287.8,413.4 288.3,408 288.8,414.6 289.3,406.8 289.8,413.7 290.3,406.5 290.8,415.9 291.3,407.3 291.8,413.7 292.3,405.7 292.8,416 293.3,407.2 293.8,415.3 294.3,407.8 294.8,413.9 295.3,408.7 295.8,414 296.3,405.9 296.8,414.6 297.3,406.3 297.8,413.3 298.3,406.1 298.8,415 299.3,405.9 299.8,413.9 300.3,407.2 300.8,413.1 301.3,407.5 301.8,416.2 302.3,406.2 302.8,414.1 303.3,405.7 303.8,414.8 304.3,407.3 304.8,414.6 305.3,407.4 305.8,414.6 306.3,406.2 306.8,412.7 307.3,407.4 307.8,412.6 308.3,407.5 308.8,413.5 309.3,406.9 309.8,414.4 310.3,406.2 310.8,415.1 311.3,405.3 311.8,413.6 312.3,408.2 312.8,412.8 313.3,407.7 313.8,413.8 314.3,405.8 314.8,415.4 315.3,407 315.8,414.3 316.3,406.4 316.8,414.5 317.3,403.9 317.8,416.7 318.3,399.9 318.8,418.8 319.3,401.8 319.8,416.6 320.3,403.9 320.8,416.8 321.3,404.4 321.8,414.6 322.3,406.6 322.8,414.6 323.3,405.5 323.8,415.8 324.3,406.6 324.8,414.6 325.3,405.2 325.8,415.4 326.3,407.3 326.8,414 327.3,407.1 327.8,413.4 328.3,407.4 328.8,414.1 329.3,407.4 329.8,413.1 330.3,405.2 330.8,415.9 331.3,408.2 331.8,415.4 332.3,407.5 332.8,414.7 333.3,405.7 333.8,415.9 334.3,406.2 334.8,415.4 335.3,407.2 335.8,415.1 336.3,406.5 336.8,415.3 337.3,407 337.8,414.2 338.3,405.9 338.8,415.2 339.3,407.3 339.8,414.3 340.3,408.4 340.8,414.1 341.3,405.5 341.8,416.3 342.3,407.2 342.8,415.5 343.3,406.1 343.8,415.5 344.3,403.5 344.8,417.1 345.3,408.1 345.8,416.3 346.3,405.3 346.8,415.9 347.3,403.9 347.8,415.8 348.3,405.7 348.8,414.6 349.3,407.6 349.8,414.2 350.3,405 350.8,413.3 351.3,406.2 351.8,416.3 352.3,406.6 352.8,414.6 353.3,407.6 353.8,413.3 354.3,406.8 354.8,416.2 355.3,408.3 355.8,414 356.3,407.3 356.8,413.9 357.3,408.8 357.8,414.2 358.3,408.8 358.8,413.8 359.3,408.8 359.8,414.6 360.3,407.4 360.8,413.2 361.3,407.3 361.8,415.1 362.3,406.6 362.8,414.8 363.3,408.1 363.8,415.5 364.3,406.7 364.8,415.2 365.3,406 365.8,413.2 366.3,406.8 366.8,413.1 367.3,406.9 367.8,414.1 368.3,406.4 368.8,414 369.3,407.8 369.8,414.7 370.3,407.4 370.8,415.5 371.3,407.5 371.8,415.4 372.3,408.1 372.8,415.9 373.3,406.2 373.8,415.8 374.3,407.5 374.8,414.4 375.3,406.8 375.8,413.9 376.3,406.3 376.8,415.1 377.3,406.9 377.8,417.2 378.3,405.5 378.8,414.1 379.3,404.8 379.8,415.9 380.3,404.5 380.8,416.7 381.3,404.5 381.8,415 382.3,406.7 382.8,416.3 383.3,406.9 383.8,415 384.3,408.4 384.8,415.4 385.3,406.7 385.8,414.9 386.3,406.5 386.8,414 387.3,408 387.8,414.7 388.3,406.7 388.8,414.9 389.3,407 389.8,414.6 390.3,406.1 390.8,413.7 391.3,407.8 391.8,414.2 392.3,407.8 392.8,414.1 393.3,406.7 393.8,415.5 394.3,406.8 394.8,414.7 395.3,406.9 395.8,415.6 396.3,407.3 396.8,414.6 397.3,407.1 397.8,414.5 398.3,408.8 398.8,414.7 399.3,406.1 399.8,413.2 400.3,407.5 400.8,415 401.3,406.7 401.8,415.4 402.3,407.6 402.8,415 403.3,406.9 403.8,414.3 404.3,407.9 404.9,413.5 405.4,408.5 405.9,413.4 406.4,407.6 406.9,413.9 407.4,407.8 407.9,414.4 408.4,406.2 408.9,413.3 409.4,406.8 409.9,413.6 410.4,405.7 410.9,414.3 411.4,407.1 411.9,414.5 412.4,406.1 412.9,413.4 413.4,406.9 413.9,413.8 414.4,405.3 414.9,413.7 415.4,406.3 415.9,414.2 416.4,405.7 416.9,414.5 417.4,407.2 417.9,415.9 418.4,407.5 418.9,414 419.4,405.9 419.9,415.5 420.4,408 420.9,414 421.4,406 421.9,414.5 422.4,407.5 422.9,414.3 423.4,406.8 423.9,414.6 424.4,407.2 424.9,414.4 425.4,405.9 425.9,415.1 426.4,407 426.9,414.9 427.4,406.2 427.9,414.4 428.4,408.5 428.9,414.9 429.4,405.5 429.9,413.2 430.4,406.8 430.9,413.8 431.4,405.9 431.9,413.1 432.4,407.7 432.9,414.4 433.4,407.6 433.9,414.8 434.4,406.1 434.9,413.8 435.4,408.1 435.9,415.6 436.4,406.9 436.9,413.3 437.4,408.9 437.9,414.4 438.4,407.9 438.9,414.7 439.4,407.7 439.9,414.8 440.4,406.5 440.9,413.3 441.4,407.9 441.9,414.1 442.4,407.5 442.9,414 443.4,406.4 443.9,414.7 444.4,406.7 444.9,413.3 445.4,409.2 445.9,413.6 446.4,407.8 446.9,414.7 447.4,407.1 447.9,414.2 448.4,406.3 448.9,414.7 449.4,407.4 449.9,414.4 450.4,408.4 450.9,414.7 451.4,407.1 451.9,413.2 452.4,408.7 452.9,414.5 453.4,407.5 453.9,413.8 454.4,408.2 454.9,413.6 455.4,405.4 455.9,414.9 456.4,407.4 456.9,413.5 457.4,407.8 457.9,414.2 458.4,406.5 458.9,413.5 459.4,407.4 459.9,414.9 460.4,407.6 460.9,413.2 461.4,406.4 461.9,413.4 462.4,407.8 462.9,414.5 463.4,407.5 463.9,413.7 464.4,407.6 464.9,413.5 465.4,406.9 465.9,415.2 466.4,405.6 466.9,413.8 467.4,406.8 467.9,415.1 468.4,406.8 468.9,415.3 469.4,407.5 469.9,414.2 470.4,405.7 470.9,415.1 471.4,407.7 471.9,413.4 472.4,406.8 472.9,414 473.4,406.6 473.9,417.1 474.4,405.2 474.9,415.7 475.4,406.9 475.9,412.9 476.4,406.6 476.9,414.2 477.4,406.6 477.9,413.4 478.4,406.6 478.9,415.7 479.4,405.3 479.9,414.4 480.4,408.1 480.9,414.7 481.4,407.1 481.9,414.5 482.4,407.4 482.9,414.8 483.4,407 483.9,413.7 484.4,406.8 484.9,414 485.4,407.1 485.9,415.8 486.4,405.3 486.9,415.4 487.4,405.5 487.9,416 488.4,406.9 488.9,413.3 489.4,406.9 489.9,414.4 490.4,407.3 490.9,412.5 491.4,409.3 491.9,412.9 492.4,408.1 492.9,413.6 493.4,407.9 493.9,413.8 494.4,407.7 494.9,413.6 495.4,407.9 495.9,414.8 496.4,406.4 496.9,414 497.4,408.4 497.9,413.5 498.4,406.4 498.9,414.1 499.4,408 499.9,414.5 500.4,408 500.9,413.9 501.4,406.2 501.9,415.1 502.4,407.8 502.9,413.3 503.4,407 503.9,413.9 504.4,406.5 504.9,413.4 505.4,407.5 505.9,414.1 506.4,408.2 506.9,413.5 507.4,405.4 507.9,414.8 508.4,406.9 508.9,414.5 509.4,407.3 509.9,414.2 510.4,408.2 510.9,415.1 511.4,407.2 511.9,414 512.4,408 512.9,414.8 513.4,406.1 513.9,414.1 514.4,407 514.9,413.7 515.4,408.3 515.9,415.9 516.4,407.7 516.9,414.3 517.4,406.2 517.9,414.7 518.4,405.8 518.9,413.5 519.4,404.9 519.9,414.8 520.4,406.1 520.9,414 521.4,407.3 521.9,415.1 522.4,406.6 522.9,414.7 523.4,406.4 523.9,414.1 524.4,407.4 524.9,414.2 525.5,408.1 526,413.5 526.5,407.2 527,413.3 527.5,407.9 528,413.8 528.5,407.8 529,413.8 529.5,406.2 530,415.3 530.5,408 531,415.2 531.5,406 532,415.8 532.5,406.5 533,415.7 533.5,405.9 534,412.7 534.5,406 535,414.7 535.5,406 536,417 536.5,404.8 537,414.9 537.5,405.2 538,415.7 538.5,407.2 539,414.5 539.5,408.7 540,414.7 540.5,406.8 541,413.8 541.5,407.3 542,415 542.5,407.7 543,415.6 543.5,407.7 544,415.5 544.5,407.7 545,414.9 545.5,407.8 546,415 546.5,406.2 547,413.7 547.5,406.6 548,414.2 548.5,408 549,413.3 549.5,407.2 550,414 550.5,406.6 551,414.5 551.5,407.6 552,413.8 552.5,406.9 553,414.4 553.5,407.1 554,414.3 554.5,407.1 555,412.7 555.5,408.3 556,413.8 556.5,407.2 557,413.7 557.5,408.2 558,414.3 558.5,407 559,416.4 559.5,406.7 560,415.7 560.5,406.9 561,412.8 561.5,407.4 562,414.4 562.5,407.1 563,415.4 563.5,407.6 564,414.4 564.5,407.4 565,415.4 565.5,407.3 566,414.1 566.5,407.7 567,414.4 567.5,408.2 568,415.4 568.5,408.1 569,413.3 569.5,407 570,415.6 570.5,408 571,415 571.5,407.1 572,413 572.5,408.4 573,414.9 573.5,407.4 574,414.2 574.5,407.9 575,413.9 575.5,408.4 576,414.5 576.5,407.5 577,414.5 577.5,407.3 578,413.3 578.5,405.4 579,413.8 579.5,407.4 580,413.4 580.5,407.3 581,413.7 581.5,406.5 582,415.5 582.5,407.7 583,414.2 583.5,406.6 584,414.5 584.5,406.4 585,415.5 585.5,408.5 586,415.9 586.5,407.5 587,413.9 587.5,408.5 588,415.3 588.5,407.3 589,414.9 589.5,407.2 590,414.8 590.5,405.8 591,416.9 591.5,403.7 592,414.9 592.5,407.7 593,415.2 593.5,407 594,413.9 594.5,406.3 595,413.5 595.5,408.5 596,415.1 596.5,407 597,413.4 597.5,408.6 598,413.5 598.5,407 599,414.2 599.5,407.3 600,413.8 600.5,406.7 601,414.1 601.5,407.7 602,413.2 602.5,406.3 603,414 603.5,408.2 604,415.4 604.5,408 605,414.6 605.5,407.6 606,413.3 606.5,407.4 607,413.6 607.5,405.6 608,413.4 608.5,407.5 609,413.1 609.5,406.2 610,413.6 610.5,407.4 611,414.6 611.5,409 612,413.7 612.5,407.5 613,414.5 613.5,407.4 614,414.3 614.5,408.9 615,413.5 615.5,407.9 616,414.5 616.5,408.8 617,413.3 617.5,409.3 618,413.5 618.5,407.2 619,414 619.5,407.7 620,412.8 620.5,408.7 621,414 621.5,407.8 622,415.3 622.5,406.4 623,415 623.5,406.4 624,415.1 624.5,406.7 625,413.6 625.5,406.9 626,414.4 626.5,408.3 627,413.9 627.5,407.7 628,414.3 628.5,406.9 629,413.6 629.5,407.1 630,413.1 630.5,406.6 631,414.3 631.5,406.8 632,414.1 632.5,407 633,412.6 633.5,408 634,413.8 634.5,407.7 635,413.6 635.5,405.7 636,414.5 636.5,407.5 637,413.7 637.5,405.5 638,414.7 638.5,408.1 639,414.7 639.5,406.6 640,413.2 640.5,405.9 641,414.5 641.5,406.1 642,413.8 642.5,406.4 643,413.2 643.5,408.4 644,413.6 644.5,408.2 645,413.1 645.5,407.8" fill="none" stroke="#00f" stroke-width="0.9" stroke-opacity="0.4" stroke-linejoin="bevel"/>
<polyline points="43,408.8 43.6,412.6 44.1,408.4 44.6,412.8 45.1,407.8 45.6,413.2 46.1,408.5 46.6,413 47.1,408.1 47.6,413.1 48.1,408.5 48.6,413.2 49.1,407.6 49.6,412.9 50.1,409 50.6,413.2 51.1,408.8 51.6,413.4 52.1,409.4 52.6,414 53.1,408.2 53.6,412.9 54.1,408.3 54.6,413.5 55.1,409 55.6,412.9 56.1,409 56.6,413.8 57.1,406.8 57.6,413.3 58.1,408.4 58.6,412.3 59.1,408.1 59.6,414.2 60.1,407.7 60.6,413.2 61.1,408.5 61.6,413.6 62.1,408.9 62.6,412.9 63.1,408.3 63.6,412.3 64.1,408 64.6,414.1 65.1,407.8 65.6,413.2 66.1,408.4 66.6,414.1 67.1,408.6 67.6,413.7 68.1,407.3 68.6,413.7 69.1,407.6 69.6,412.8 70.1,407.6 70.6,413.7 71.1,407.6 71.6,413.7 72.1,407 72.6,413 73.1,408 73.6,412.9 74.1,408.8 74.6,414.1 75.1,408 75.6,413 76.1,408.3 76.6,414.4 77.1,409 77.6,414 78.1,409.2 78.6,412.2 79.1,409 79.6,412.8 80.1,408.4 80.6,412.6 81.1,408.3 81.6,413.2 82.1,408 82.6,413.4 83.1,409 83.6,414.6 84.1,408.1 84.6,413 85.1,408.4 85.6,413.5 86.1,408.3 86.6,413.2 87.1,408.3 87.6,414 88.1,408.1 88.6,413.7 89.1,408.2 89.6,413.4 90.1,408.6 90.6,414.1 91.1,408.2 91.6,414.1 92.1,409 92.6,414.2 93.1,407.9 93.6,413.2 94.1,408.5 94.6,412.7 95.1,409.1 95.6,413.2 96.1,408.6 96.6,413 97.1,408.2 97.6,413 98.1,408.9 98.6,414.2 99.1,406.7 99.6,414.9 100.1,406.4 100.6,413.4 101.1,406.2 101.6,416.4 102.1,406.9 102.6,414.8 103.1,407.7 103.6,414.1 104.1,408.1 104.6,414.1 105.1,408.4 105.6,413.1 106.1,409.3 106.6,413.3 107.1,408 107.6,413.7 108.1,407.8 108.6,413.1 109.1,408.8 109.6,413.4 110.1,408.5 110.6,414 111.1,409.6 111.6,413.7 112.1,407.6 112.6,414.2 113.1,407.7 113.6,414.4 114.1,408.6 114.6,414.2 115.1,408.2 115.6,413.4 116.1,408.5 116.6,413.8 117.1,408.4 117.6,413.2 118.1,408.6 118.6,413.7 119.1,409.4 119.6,412.8 120.1,407.9 120.6,413.4 121.1,408.9 121.6,413 122.1,408.6 122.6,413.1 123.1,408.3 123.6,413.3 124.1,408.7 124.6,412.4 125.1,408.6 125.6,414.1 126.1,408.5 126.6,413.8 127.1,408.1 127.6,413.7 128.1,409 128.6,412.8 129.1,407.7 129.6,414.1 130.1,408.1 130.6,412.7 131.1,408.7 131.6,413.9 132.1,407.8 132.6,412.8 133.1,409.3 133.6,412.8 134.1,409 134.6,414.2 135.1,408 135.6,412.6 136.1,408.1 136.6,412.9 137.1,407.9 137.6,413.3 138.1,407.4 138.6,412.7 139.1,408.7 139.6,412.9 140.1,408.4 140.6,413.6 141.1,408.3 141.6,412.1 142.1,408.6 142.6,413.2 143.1,408.9 143.6,412.7 144.1,408.7 144.6,413.4 145.1,408.5 145.6,413.7 146.1,408.8 146.6,413.5 147.1,408.1 147.6,414.3 148.1,407.9 148.6,412.8 149.1,408 149.6,413 150.1,408.8 150.6,413.8 151.1,408.4 151.6,413.8 152.1,408.8 152.6,414.5 153.1,407.2 153.6,413.9 154.1,407.3 154.6,415 155.1,408.6 155.6,414.1 156.1,408 156.6,412.8 157.1,407.7 157.6,412.9 158.1,407.8 158.6,413.8 159.1,408.5 159.6,413.2 160.1,408.4 160.6,413.1 161.1,408.3 161.6,414 162.1,406.6 162.6,414.5 163.1,408 163.7,413.1 164.2,408.4 164.7,413.6 165.2,408.4 165.7,413 166.2,407.9 166.7,413.7 167.2,407.8 167.7,413.8 168.2,407.7 168.7,413.4 169.2,409.5 169.7,413.7 170.2,407.3 170.7,414.3 171.2,407.5 171.7,413.6 172.2,408.9 172.7,413.8 173.2,408.5 173.7,413.9 174.2,409 174.7,413.2 175.2,408.8 175.7,413 176.2,409.2 176.7,414.2 177.2,408.9 177.7,414.8 178.2,407.4 178.7,413.8 179.2,407.2 179.7,414.1 180.2,408.1 180.7,412.7 181.2,408.1 181.7,414.3 182.2,408.7 182.7,413.3 183.2,407.7 183.7,413.4 184.2,408.4 184.7,412.7 185.2,408.3 185.7,413.4 186.2,408.3 186.7,412.9 187.2,408.2 187.7,412.6 188.2,408.8 188.7,414.2 189.2,409.1 189.7,413.3 190.2,408.7 190.7,413.8 191.2,407.9 191.7,413.3 192.2,407.7 192.7,412.3 193.2,408.3 193.7,413.2 194.2,408.6 194.7,413.1 195.2,408.6 195.7,412.6 196.2,408.4 196.7,412.8 197.2,407.7 197.7,413.2 198.2,408.2 198.7,413.2 199.2,407.9 199.7,413.5 200.2,408 200.7,414.1 201.2,408.7 201.7,412.4 202.2,408.8 202.7,413.6 203.2,408 203.7,412.8 204.2,409.4 204.7,413.1 205.2,407 205.7,413.4 206.2,408.2 206.7,413.6 207.2,408.1 207.7,413.9 208.2,408.5 208.7,413.8 209.2,407 209.7,413.8 210.2,408.1 210.7,413.1 211.2,408 211.7,413.4 212.2,408.6 212.7,412.5 213.2,408 213.7,413.2 214.2,407.8 214.7,413.7 215.2,407.7 215.7,413.8 216.2,407.1 216.7,413.6 217.2,408.5 217.7,413 218.2,408.8 218.7,413.2 219.2,407.7 219.7,412.3 220.2,408.9 220.7,412.9 221.2,408.6 221.7,412.9 222.2,408.2 222.7,413.4 223.2,409.5 223.7,413.6 224.2,408.8 224.7,413.4 225.2,408.2 225.7,413.3 226.2,408.5 226.7,412.7 227.2,409.1 227.7,412.5 228.2,407.7 228.7,413.4 229.2,408.4 229.7,413.6 230.2,409 230.7,412.5 231.2,409 231.7,413.6 232.2,407.7 232.7,414.1 233.2,407.8 233.7,413.7 234.2,408.8 234.7,413 235.2,408.5 235.7,414.2 236.2,408.7 236.7,413.3 237.2,407.8 237.7,414.8 238.2,407.5 238.7,413.2 239.2,408.6 239.7,413.6 240.2,408.8 240.7,413.4 241.2,408.5 241.7,413.1 242.2,408.2 242.7,413.5 243.2,408.8 243.7,412.9 244.2,408.3 244.7,413.2 245.2,409 245.7,413 246.2,409 246.7,413.1 247.2,409 247.7,413.2 248.2,407.3 248.7,414.2 249.2,409 249.7,412.1 250.2,408.4 250.7,412.4 251.2,408.3 251.7,412.2 252.2,407.5 252.7,413.6 253.2,408 253.7,415 254.2,408.6 254.7,414.1 255.2,406.6 255.7,415.2 256.2,408.9 256.7,414.5 257.2,407.6 257.7,412.7 258.2,408.1 258.7,413.4 259.2,408.6 259.7,413.6 260.2,407.6 260.7,413.7 261.2,407.5 261.7,414.1 262.2,409.2 262.7,412.4 263.2,409.3 263.7,413.6 264.2,408.4 264.7,413.2 265.2,406.5 265.7,414.9 266.2,406.7 266.7,414.5 267.2,408.4 267.7,413.9 268.2,407.5 268.7,413.5 269.2,409.1 269.7,413.3 270.2,408.2 270.7,413.1 271.2,407.5 271.7,412.7 272.2,408.8 272.7,413.3 273.2,408.7 273.7,412.5 274.2,408.4 274.7,413.5 275.2,407.9 275.7,412.9 276.2,408.5 276.7,413.7 277.2,408.8 277.7,413.4 278.2,408.9 278.7,413.3 279.2,408.6 279.7,412.4 280.2,408.8 280.7,413 281.2,408.9 281.7,413 282.2,407.6 282.7,413.5 283.2,408.9 283.7,413.6 284.3,407.4 284.8,413.3 285.3,407.9 285.8,413.1 286.3,407 286.8,412.8 287.3,407.8 287.8,412.6 288.3,407.6 288.8,413.2 289.3,408 289.8,414.1 290.3,408.7 290.8,413.9 291.3,407.5 291.8,412.6 292.3,408.9 292.8,413 293.3,407.9 293.8,413.9 294.3,408.6 294.8,413.7 295.3,408.7 295.8,413.7 296.3,408.8 296.8,412.9 297.3,407.1 297.8,413.1 298.3,407.2 298.8,412.6 299.3,407.5 299.8,412.8 300.3,407.8 300.8,412.5 301.3,407.7 301.8,414.5 302.3,407.6 302.8,414.4 303.3,407.4 303.8,413.7 304.3,408.4 304.8,414 305.3,407.7 305.8,414 306.3,409.3 306.8,412.5 307.3,408.8 307.8,413.9 308.3,407.7 308.8,413.6 309.3,407.8 309.8,413.1 310.3,408.6 310.8,413.1 311.3,408.3 311.8,414.3 312.3,408.7 312.8,413.4 313.3,409.1 313.8,414 314.3,408.3 314.8,413.9 315.3,407.8 315.8,413.6 316.3,408.6 316.8,413.4 317.3,406.9 317.8,416.7 318.3,403.4 318.8,418.1 319.3,403.2 319.8,415.7 320.3,408.2 320.8,414.8 321.3,406.4 321.8,414.5 322.3,407.8 322.8,413.6 323.3,407.3 323.8,414.1 324.3,406 324.8,414.2 325.3,407.1 325.8,413.3 326.3,408.2 326.8,413.5 327.3,408.7 327.8,412.7 328.3,408.8 328.8,413.7 329.3,407.9 329.8,414.2 330.3,407.2 330.8,414.1 331.3,408 331.8,413.8 332.3,408.3 332.8,413.7 333.3,408.5 333.8,413.7 334.3,407.9 334.8,414.4 335.3,408.5 335.8,413.6 336.3,407.8 336.8,413.1 337.3,407.5 337.8,414.2 338.3,408.1 338.8,413.6 339.3,407.8 339.8,414.2 340.3,408 340.8,413.5 341.3,406.4 341.8,414.1 342.3,406.1 342.8,414.4 343.3,407.5 343.8,413.6 344.3,406.9 344.8,415.2 345.3,407.7 345.8,413.7 346.3,407.6 346.8,415 347.3,405.8 347.8,414.1 348.3,407.9 348.8,413.1 349.3,408.6 349.8,414.1 350.3,407.7 350.8,413.6 351.3,408.4 351.8,413.8 352.3,408 352.8,413.3 353.3,408.3 353.8,412.7 354.3,407.5 354.8,412.6 355.3,407.3 355.8,414.3 356.3,407.5 356.8,413.2 357.3,409.4 357.8,412.9 358.3,408.6 358.8,413.3 359.3,408.3 359.8,413.7 360.3,407.9 360.8,414.7 361.3,408.7 361.8,412.9 362.3,408.2 362.8,413.9 363.3,408.7 363.8,413.8 364.3,408.4 364.8,413.6 365.3,408.8 365.8,413.6 366.3,408.8 366.8,413.6 367.3,407.8 367.8,413.6 368.3,408.7 368.8,413.1 369.3,408.8 369.8,413.6 370.3,408.7 370.8,413.5 371.3,408.4 371.8,414 372.3,408.7 372.8,413.2 373.3,407.7 373.8,413 374.3,408.3 374.8,413.1 375.3,407.6 375.8,413.7 376.3,407 376.8,414 377.3,406.9 377.8,415.1 378.3,406.5 378.8,416 379.3,407.8 379.8,414.5 380.3,407.9 380.8,414.8 381.3,405.8 381.8,414.4 382.3,407.9 382.8,414 383.3,407.8 383.8,414.8 384.3,407.7 384.8,413.1 385.3,407.2 385.8,413.3 386.3,409.4 386.8,412.1 387.3,408.9 387.8,413.8 388.3,407.6 388.8,412.7 389.3,409.2 389.8,414.5 390.3,407.9 390.8,414.2 391.3,408.4 391.8,414.1 392.3,407.8 392.8,412.4 393.3,408.5 393.8,414 394.3,409.2 394.8,413.7 395.3,408.3 395.8,412.7 396.3,408.8 396.8,413.3 397.3,408.3 397.8,413 398.3,409.1 398.8,413.9 399.3,408.1 399.8,412.6 400.3,408.4 400.8,413.2 401.3,408.8 401.8,413.2 402.3,407.7 402.8,414.5 403.3,409.1 403.8,414.4 404.3,407.9 404.9,413.8 405.4,407.4 405.9,413 406.4,408.5 406.9,413.7 407.4,408.1 407.9,413.5 408.4,406.9 408.9,413.3 409.4,408.4 409.9,413.3 410.4,408.6 410.9,413.8 411.4,407.6 411.9,413.6 412.4,407.8 412.9,414.2 413.4,407.6 413.9,413 414.4,408 414.9,413.7 415.4,408.5 415.9,413.7 416.4,408.3 416.9,414.1 417.4,407.3 417.9,414.2 418.4,408.4 418.9,413.3 419.4,408.6 419.9,412.2 420.4,407.5 420.9,413.6 421.4,409 421.9,412.2 422.4,408.3 422.9,414.3 423.4,407.2 423.9,413.8 424.4,406.9 424.9,412.7 425.4,406.4 425.9,414.4 426.4,407.3 426.9,413.1 427.4,407.1 427.9,413.9 428.4,409 428.9,413.8 429.4,407.8 429.9,412.8 430.4,407.7 430.9,413.7 431.4,408.3 431.9,414.2 432.4,407.8 432.9,412.6 433.4,408.7 433.9,413.9 434.4,409.5 434.9,412.3 435.4,408.2 435.9,412.9 436.4,408.6 436.9,413.3 437.4,407.5 437.9,413.1 438.4,408.4 438.9,413.5 439.4,408 439.9,413 440.4,408.9 440.9,414.2 441.4,408.7 441.9,412.4 442.4,408.2 442.9,413.3 443.4,409.5 443.9,413.7 444.4,409.6 444.9,412.9 445.4,408.2 445.9,412.9 446.4,407.3 446.9,414.4 447.4,407.4 447.9,414.2 448.4,407.1 448.9,413.1 449.4,407.9 449.9,412.9 450.4,409.3 450.9,412.1 451.4,408.5 451.9,413.8 452.4,407.7 452.9,413.9 453.4,408.1 453.9,413.9 454.4,408.6 454.9,412.7 455.4,407.5 455.9,412.4 456.4,408 456.9,413.1 457.4,408.2 457.9,414.5 458.4,407.7 458.9,413.6 459.4,408.5 459.9,412.6 460.4,407.7 460.9,413.6 461.4,409.4 461.9,413.5 462.4,408.7 462.9,412.7 463.4,409.2 463.9,413.3 464.4,408.3 464.9,412.4 465.4,406.6 465.9,414.4 466.4,407.3 466.9,413.5 467.4,408.3 467.9,413.2 468.4,408.3 468.9,413.9 469.4,407.4 469.9,413.2 470.4,407.9 470.9,413.1 471.4,408.2 471.9,412.9 472.4,408.3 472.9,413.5 473.4,407.3 473.9,412.7 474.4,407.1 474.9,412.7 475.4,407.8 475.9,413.7 476.4,408.1 476.9,413.3 477.4,407.7 477.9,413.3 478.4,406.6 478.9,415.3 479.4,407.4 479.9,412.6 480.4,408.5 480.9,414.4 481.4,408.1 481.9,413.8 482.4,408.1 482.9,413.3 483.4,406.8 483.9,414.6 484.4,408.1 484.9,413.4 485.4,408 485.9,413.1 486.4,407.7 486.9,415.3 487.4,408 487.9,414.9 488.4,407.5 488.9,413.4 489.4,408.4 489.9,413.2 490.4,407.8 490.9,413.5 491.4,408.9 491.9,412.8 492.4,408.7 492.9,413.6 493.4,409.3 493.9,412.7 494.4,408.1 494.9,413.6 495.4,407.5 495.9,414 496.4,406.4 496.9,414.1 497.4,409.2 497.9,413.5 498.4,408.6 498.9,412.8 499.4,407.3 499.9,413.4 500.4,408.5 500.9,413.8 501.4,409.4 501.9,412.9 502.4,408.4 502.9,412.9 503.4,408.8 503.9,413.5 504.4,409.1 504.9,412.4 505.4,407.5 505.9,413.4 506.4,408 506.9,414.5 507.4,407.7 507.9,413.1 508.4,408.5 508.9,413.2 509.4,407.6 509.9,413 510.4,408.2 510.9,413.5 511.4,408.7 511.9,414.5 512.4,409.2 512.9,413 513.4,408.7 513.9,414.3 514.4,407.6 514.9,414.4 515.4,408.4 515.9,413.3 516.4,408.7 516.9,413.7 517.4,409.1 517.9,414.7 518.4,408.6 518.9,413 519.4,408.2 519.9,413.9 520.4,408.7 520.9,413.2 521.4,407.9 521.9,414.3 522.4,408.4 522.9,414 523.4,408.4 523.9,413.5 524.4,409.6 524.9,412.2 525.5,408.8 526,412.7 526.5,408.4 527,413.1 527.5,409.7 528,413.1 528.5,408.4 529,412.4 529.5,407.4 530,413.2 530.5,408.3 531,414.8 531.5,408.2 532,414.5 532.5,407.8 533,413.4 533.5,408.2 534,413.8 534.5,408.4 535,413.6 535.5,407.8 536,414.2 536.5,406.8 537,414.1 537.5,407.5 538,413.3 538.5,407.3 539,413.9 539.5,407.7 540,413.9 540.5,409.2 541,414.3 541.5,408.5 542,413.8 542.5,407.2 543,414.4 543.5,409.1 544,413.1 544.5,408.7 545,413.5 545.5,408.2 546,413.1 546.5,407.3 547,413.8 547.5,408.3 548,414 548.5,409.1 549,412.3 549.5,408.5 550,412.8 550.5,408.3 551,413.8 551.5,407.7 552,412.3 552.5,407.7 553,412.7 553.5,408.5 554,413 554.5,409.1 555,413.2 555.5,408.4 556,413.3 556.5,407.9 557,413.4 557.5,409.3 558,413.7 558.5,408.2 559,414 559.5,407.2 560,413.6 560.5,408.9 561,413.2 561.5,408.7 562,413.3 562.5,407.6 563,414.3 563.5,408.4 564,413.5 564.5,408.3 565,413.2 565.5,407.6 566,414.8 566.5,407.9 567,414.5 567.5,408 568,412.8 568.5,409.2 569,413.6 569.5,407.8 570,413.9 570.5,408.1 571,413.5 571.5,407.2 572,413.2 572.5,408.3 573,414.1 573.5,407.8 574,413.5 574.5,407.9 575,412.9 575.5,409.4 576,413.4 576.5,408.2 577,413.3 577.5,409.4 578,413.4 578.5,407.9 579,413.4 579.5,408.2 580,413.8 580.5,409.4 581,413.5 581.5,407.7 582,414 582.5,407.7 583,413.8 583.5,407.4 584,414.8 584.5,407.1 585,413 585.5,408.4 586,413 586.5,408 587,413.9 587.5,409.2 588,412.9 588.5,408 589,413.6 589.5,408.2 590,412.8 590.5,408.1 591,414.3 591.5,406.9 592,413.8 592.5,409.1 593,413 593.5,409.1 594,413.8 594.5,408.3 595,414.3 595.5,409.1 596,412.7 596.5,408.4 597,414.1 597.5,409 598,413.6 598.5,408 599,413.8 599.5,408.7 600,413.5 600.5,407.5 601,412.9 601.5,408.1 602,412.7 602.5,407.6 603,413.4 603.5,406.4 604,412.9 604.5,409 605,412.9 605.5,408.4 606,413.3 606.5,409.5 607,412.5 607.5,408.7 608,414.4 608.5,408 609,412.6 609.5,408 610,413.3 610.5,408.6 611,414.2 611.5,408.4 612,413 612.5,409.3 613,412.3 613.5,408.4 614,413.6 614.5,408.7 615,413.4 615.5,409 616,412.6 616.5,407.7 617,412.8 617.5,409 618,413.3 618.5,408.8 619,412.9 619.5,408.9 620,413 620.5,408.5 621,412.2 621.5,408.6 622,413.6 622.5,408.7 623,413.3 623.5,409.2 624,413.6 624.5,407.8 625,414.3 625.5,409.2 626,412.8 626.5,408.6 627,413.2 627.5,407.9 628,414.4 628.5,408.2 629,414 629.5,408.6 630,413.7 630.5,407.3 631,413.4 631.5,408.5 632,413.9 632.5,408.9 633,414.1 633.5,408.7 634,412.6 634.5,407.9 635,412.9 635.5,408.4 636,413.9 636.5,408.9 637,413.9 637.5,409.2 638,413.1 638.5,408.9 639,413.5 639.5,408.1 640,413.3 640.5,407.3 641,412.9 641.5,408.1 642,413 642.5,409.2 643,412.7 643.5,407.9 644,413.5 644.5,408.7 645,413.5 645.5,407.7" fill="none" stroke="#00f" stroke-width="1.0" stroke-opacity="0.55" stroke-linejoin="bevel"/>
<path d="M43,406.5 44.1,407.5 45.1,408.6 46.1,407.1 47.1,408.4 48.1,407.2 49.1,408.6 50.1,408.1 51.1,407 52.1,406.7 53.1,408.4 54.1,407 55.1,408.4 56.1,406.8 57.1,407 58.1,406.9 59.1,407.9 60.1,406.7 61.1,407.2 62.1,408.2 63.1,407.2 64.1,407.5 65.1,406.2 66.1,408 67.1,406.9 68.1,406.3 69.1,407.3 70.1,407.8 71.1,408 72.1,408.6 73.1,406.5 74.1,405 75.1,406.8 76.1,407.3 77.1,407 78.1,408.5 79.1,407.9 80.1,406.5 81.1,407 82.1,406.4 83.1,408.1 84.1,405.9 85.1,407.5 86.1,406.9 87.1,407.7 88.1,406.2 89.1,407 90.1,407.3 91.1,408 92.1,407.9 93.1,407.4 94.1,405.2 95.1,408.1 96.1,406.1 97.1,408.5 98.1,405 99.1,408 100.1,406.3 101.1,407.8 102.1,407.5 103.1,407.2 104.1,408 105.1,408.2 106.1,407.8 107.1,406.8 108.1,408.1 109.1,406.2 110.1,407.3 111.1,408.6 112.1,405.6 113.1,406.8 114.1,407.1 115.1,408.6 116.1,408.1 117.1,408.6 118.1,408.3 119.1,407.1 120.1,406.7 121.1,405.8 122.1,407.2 123.1,407.3 124.1,407.3 125.1,406.5 126.1,405.9 127.1,408.3 128.1,408.4 129.1,408.5 130.1,407.1 131.1,405.7 132.1,406.8 133.1,406.5 134.1,407.7 135.1,406.8 136.1,407.6 137.1,406.8 138.1,407.4 139.1,407 140.1,405.9 141.1,408.1 142.1,406.8 143.1,407.3 144.1,408.3 145.1,406.2 146.1,406 147.1,406.7 148.1,407.1 149.1,406.9 150.1,406.4 151.1,405.6 152.1,407.5 153.1,406.3 154.1,406.9 155.1,407.9 156.1,406.7 157.1,407.4 158.1,406.6 159.1,407.4 160.1,407.7 161.1,407.7 162.1,407.3 163.1,406.4 164.2,406.8 165.2,406.9 166.2,407.7 167.2,408 168.2,406.4 169.2,407.1 170.2,407.3 171.2,408.1 172.2,405.4 173.2,407.1 174.2,407.3 175.2,406.1 176.2,407.4 177.2,406.7 178.2,406.2 179.2,407 180.2,406.6 181.2,407 182.2,407.5 183.2,406.5 184.2,406.2 185.2,406.2 186.2,407.6 187.2,406.1 188.2,408 189.2,407.9 190.2,408.4 191.2,407.1 192.2,407.1 193.2,408.1 194.2,407.4 195.2,407.4 196.2,406.1 197.2,406.7 198.2,407.6 199.2,408.3 200.2,408.3 201.2,405.3 202.2,407.1 203.2,406.2 204.2,406.6 205.2,406.5 206.2,407.2 207.2,407.9 208.2,408.2 209.2,406.2 210.2,408.6 211.2,408.2 212.2,406.4 213.2,407.5 214.2,406.6 215.2,407.1 216.2,406.4 217.2,406.9 218.2,408.4 219.2,405.9 220.2,407.7 221.2,406.6 222.2,407 223.2,406.8 224.2,408.6 225.2,407.4 226.2,405.3 227.2,406.1 228.2,407.8 229.2,405.7 230.2,406 231.2,406.6 232.2,407.2 233.2,406.7 234.2,407.2 235.2,405.8 236.2,407 237.2,406.5 238.2,407.7 239.2,405.3 240.2,405.9 241.2,407.6 242.2,405 243.2,407.4 244.2,408.5 245.2,408.1 246.2,406.8 247.2,406.8 248.2,407.4 249.2,406.9 250.2,407.9 251.2,407.2 252.2,407.2 253.2,407.2 254.2,408.1 255.2,407.9 256.2,407.4 257.2,408.3 258.2,407.5 259.2,406 260.2,405.8 261.2,407.4 262.2,407 263.2,405.9 264.2,406.3 265.2,407 266.2,407.4 267.2,405 268.2,406.4 269.2,408.3 270.2,408.6 271.2,406.5 272.2,407.4 273.2,405.7 274.2,408.6 275.2,408.3 276.2,406.9 277.2,408.1 278.2,405.9 279.2,406.5 280.2,405.8 281.2,408.6 282.2,408.6 283.2,406.3 284.3,408.3 285.3,406.1 286.3,408.1 287.3,405 288.3,407.3 289.3,407.1 290.3,406.2 291.3,406.6 292.3,407.2 293.3,405 294.3,407.5 295.3,408.3 296.3,406 297.3,406.8 298.3,407.6 299.3,407.5 300.3,406.8 301.3,406 302.3,406.2 303.3,408.6 304.3,407.1 305.3,407.4 306.3,406.4 307.3,408.1 308.3,407.2 309.3,406.6 310.3,407.1 311.3,406.8 312.3,405.4 313.3,406.1 314.3,408.5 315.3,405.8 316.3,406.1 317.3,408 318.3,407.1 319.3,407.4 320.3,406.2 321.3,407.8 322.3,407.2 323.3,406.2 324.3,407.6 325.3,407.5 326.3,406 327.3,407.6 328.3,405 329.3,407.4 330.3,408.6 331.3,406.1 332.3,406.9 333.3,406.6 334.3,406.3 335.3,405.2 336.3,405.9 337.3,407.7 338.3,406 339.3,406.8 340.3,408.1 341.3,407.6 342.3,405.3 343.3,407.7 344.3,406.2 345.3,407.2 346.3,406.5 347.3,408 348.3,407.3 349.3,408.6 350.3,405.3 351.3,406.7 352.3,408.2 353.3,407.3 354.3,406.4 355.3,407.3 356.3,408.2 357.3,408.4 358.3,406.6 359.3,406.4 360.3,408.6 361.3,407.8 362.3,407.7 363.3,407.1 364.3,406.5 365.3,406 366.3,407.6 367.3,408 368.3,407.8 369.3,405.8 370.3,407.2 371.3,406.3 372.3,406.7 373.3,405 374.3,408.5 375.3,407.5 376.3,407.5 377.3,405.8 378.3,407.3 379.3,406.5 380.3,408.6 381.3,407.4 382.3,406.2 383.3,406.1 384.3,407.5 385.3,408 386.3,407.5 387.3,407.2 388.3,405.5 389.3,407.6 390.3,406.6 391.3,405.9 392.3,407.3 393.3,408.1 394.3,407.6 395.3,406.9 396.3,406.9 397.3,407.4 398.3,406.2 399.3,408.3 400.3,407.5 401.3,407.2 402.3,407.1 403.3,408 404.3,407 405.4,407.2 406.4,407.5 407.4,407 408.4,406.5 409.4,406.4 410.4,407.4 411.4,406.7 412.4,405 413.4,406.3 414.4,405.6 415.4,407.5 416.4,406.1 417.4,406.3 418.4,407.9 419.4,407.1 420.4,407.3 421.4,407.4 422.4,407.8 423.4,406.5 424.4,407 425.4,406.2 426.4,408.6 427.4,406.4 428.4,407.6 429.4,406.1 430.4,406.9 431.4,407.1 432.4,408.1 433.4,407.2 434.4,408.6 435.4,407.3 436.4,407.2 437.4,407.5 438.4,407 439.4,407.1 440.4,406.4 441.4,406.9 442.4,405.7 443.4,407.6 444.4,406.7 445.4,406.3 446.4,407 447.4,406.8 448.4,405.7 449.4,406.6 450.4,407 451.4,406.4 452.4,408.1 453.4,407.1 454.4,407.7 455.4,406.4 456.4,407.4 457.4,406.5 458.4,407.2 459.4,406.6 460.4,406.1 461.4,408.6 462.4,406 463.4,408.1 464.4,406.9 465.4,406.3 466.4,406.5 467.4,405 468.4,407.6 469.4,406.9 470.4,407.3 471.4,408.3 472.4,406.7 473.4,408.6 474.4,406.4 475.4,407.9 476.4,406.1 477.4,408.1 478.4,406.7 479.4,406.3 480.4,405.2 481.4,407 482.4,408.6 483.4,405.8 484.4,405.4 485.4,408 486.4,406.2 487.4,407.3 488.4,408.2 489.4,406.2 490.4,406.4 491.4,405.5 492.4,407.3 493.4,408 494.4,407.5 495.4,408.6 496.4,407.1 497.4,407.5 498.4,406.6 499.4,406 500.4,406.4 501.4,406.4 502.4,406 503.4,405 504.4,406.4 505.4,408.1 506.4,407.3 507.4,406.8 508.4,407.8 509.4,408.6 510.4,408.4 511.4,406.6 512.4,406.8 513.4,407.6 514.4,405.9 515.4,408.6 516.4,406.9 517.4,406.6 518.4,405.9 519.4,406 520.4,407.2 521.4,408.5 522.4,408.2 523.4,406.5 524.4,407.1 525.5,407.1 526.5,405.7 527.5,407.8 528.5,406.5 529.5,408 530.5,406.1 531.5,405 532.5,405 533.5,405.8 534.5,406.6 535.5,407 536.5,407 537.5,406.6 538.5,405 539.5,408.2 540.5,407.4 541.5,408.3 542.5,407.2 543.5,407.6 544.5,407 545.5,408 546.5,407.3 547.5,407.6 548.5,408.2 549.5,407 550.5,405.6 551.5,408.5 552.5,408.6 553.5,406.8 554.5,407.4 555.5,407.2 556.5,407 557.5,407.9 558.5,407.8 559.5,407 560.5,408.5 561.5,407.9 562.5,407.6 563.5,406.7 564.5,405.7 565.5,407.3 566.5,407.7 567.5,406.7 568.5,408.3 569.5,408 570.5,407.4 571.5,407.1 572.5,407.2 573.5,408.6 574.5,406.9 575.5,406.8 576.5,407.8 577.5,405.8 578.5,407.6 579.5,407.1 580.5,407.1 581.5,406.8 582.5,408 583.5,407 584.5,407.8 585.5,408 586.5,406 587.5,408.4 588.5,407.4 589.5,408.6 590.5,407.8 591.5,407.9 592.5,405.7 593.5,407.8 594.5,408.3 595.5,408.6 596.5,407.3 597.5,407.5 598.5,407 599.5,407.7 600.5,407.7 601.5,407.8 602.5,408.6 603.5,405.4 604.5,407.4 605.5,406.9 606.5,406.5 607.5,405.7 608.5,407.2 609.5,408.6 610.5,405.9 611.5,407.4 612.5,408 613.5,406.5 614.5,408.6 615.5,407.3 616.5,407.2 617.5,406.6 618.5,407.7 619.5,408.2 620.5,408.1 621.5,407 622.5,408.2 623.5,407 624.5,406 625.5,407.3 626.5,407.7 627.5,408.3 628.5,405.7 629.5,405 630.5,406.2 631.5,405.2 632.5,408 633.5,407.2 634.5,407.7 635.5,405.8 636.5,408.6 637.5,406.5 638.5,408.4 639.5,407.5 640.5,406.9 641.5,407.3 642.5,407.1 643.5,406.8 644.5,406.1 645.5,407.4 L645.5,414.2 644.5,413.9 643.5,415 642.5,414.8 641.5,414.5 640.5,415.7 639.5,414.7 638.5,415.7 637.5,413.7 636.5,414.4 635.5,414.2 634.5,415.6 633.5,415.8 632.5,415.2 631.5,414.5 630.5,414.4 629.5,414.8 628.5,415 627.5,414.4 626.5,415 625.5,415.8 624.5,414.9 623.5,414.9 622.5,414.6 621.5,415.4 620.5,413.4 619.5,414.1 618.5,415.2 617.5,415.8 616.5,415 615.5,416.2 614.5,414.8 613.5,415.7 612.5,416.1 611.5,414.1 610.5,415.7 609.5,416.5 608.5,413.5 607.5,414.8 606.5,414 605.5,414.9 604.5,415.5 603.5,415.2 602.5,415.6 601.5,415.8 600.5,414.9 599.5,413.4 598.5,415.8 597.5,413.5 596.5,414.5 595.5,414.5 594.5,415.6 593.5,414.2 592.5,413.7 591.5,414.7 590.5,413.3 589.5,413.8 588.5,415.3 587.5,413.7 586.5,414.4 585.5,415.2 584.5,415.7 583.5,415.4 582.5,414.7 581.5,413.7 580.5,415.6 579.5,416.1 578.5,415.1 577.5,414.2 576.5,414.7 575.5,415.4 574.5,414.3 573.5,413.3 572.5,416.3 571.5,415.6 570.5,415.7 569.5,414.8 568.5,415 567.5,415.8 566.5,413.3 565.5,416.3 564.5,415.3 563.5,414.9 562.5,414.6 561.5,413.6 560.5,413.6 559.5,414.2 558.5,413.3 557.5,413.3 556.5,414.6 555.5,413.7 554.5,415.3 553.5,414.6 552.5,414 551.5,414.9 550.5,414.9 549.5,415.2 548.5,416.3 547.5,413.6 546.5,413.3 545.5,414.6 544.5,413.3 543.5,416.8 542.5,414.3 541.5,415.6 540.5,413.8 539.5,413.3 538.5,415.3 537.5,414.4 536.5,414.4 535.5,415.2 534.5,414.3 533.5,415.3 532.5,416.3 531.5,414.5 530.5,416.6 529.5,415.1 528.5,414.4 527.5,415.9 526.5,414.6 525.5,414.7 524.4,415.8 523.4,414.2 522.4,414.9 521.4,415.9 520.4,414 519.4,416.3 518.4,414.1 517.4,415.4 516.4,416 515.4,415 514.4,414.4 513.4,414.7 512.4,416 511.4,414.6 510.4,413.3 509.4,413.3 508.4,415.7 507.4,413.8 506.4,415.7 505.4,415.2 504.4,413.3 503.4,414.5 502.4,413.3 501.4,416.9 500.4,413.3 499.4,413.3 498.4,415.7 497.4,416 496.4,413.3 495.4,415.1 494.4,415.8 493.4,416 492.4,413.8 491.4,414.9 490.4,413.3 489.4,415.6 488.4,415.6 487.4,415.3 486.4,415.8 485.4,413.5 484.4,415 483.4,414.7 482.4,415.6 481.4,415.2 480.4,413.3 479.4,416 478.4,414.1 477.4,415.7 476.4,414.5 475.4,415.2 474.4,415.3 473.4,414.2 472.4,416.4 471.4,415.3 470.4,413.5 469.4,414.7 468.4,415.4 467.4,414.1 466.4,414.6 465.4,414.8 464.4,414.8 463.4,415.3 462.4,413.3 461.4,413.3 460.4,414.6 459.4,414.4 458.4,415.1 457.4,414.8 456.4,414.9 455.4,414.8 454.4,414.6 453.4,415.5 452.4,413.3 451.4,414.7 450.4,414 449.4,413.8 448.4,413.9 447.4,415.1 446.4,413.3 445.4,415.2 444.4,415 443.4,415.1 442.4,413.5 441.4,414.2 440.4,414.5 439.4,414.5 438.4,415.1 437.4,414.6 436.4,415.6 435.4,414.7 434.4,415.5 433.4,414.7 432.4,415.1 431.4,413.5 430.4,413.8 429.4,414.9 428.4,416.1 427.4,415.6 426.4,415.4 425.4,413.3 424.4,415.6 423.4,416.6 422.4,414.4 421.4,414.3 420.4,415.2 419.4,415.2 418.4,414.9 417.4,414.8 416.4,415.9 415.4,415.4 414.4,415.8 413.4,416.1 412.4,414 411.4,414.8 410.4,414.7 409.4,413.4 408.4,415.4 407.4,413.4 406.4,414 405.4,416 404.3,415.6 403.3,415.3 402.3,413.8 401.3,416.1 400.3,415.2 399.3,414 398.3,414.9 397.3,414.3 396.3,415.4 395.3,413.4 394.3,413.7 393.3,416 392.3,414.8 391.3,414.2 390.3,415.1 389.3,414.7 388.3,415.5 387.3,413.3 386.3,414 385.3,414.1 384.3,413.6 383.3,415.6 382.3,414 381.3,413.6 380.3,414.5 379.3,416 378.3,415.3 377.3,414.7 376.3,415.6 375.3,414.3 374.3,415.6 373.3,415.8 372.3,415.3 371.3,413.8 370.3,415.2 369.3,415.2 368.3,414.6 367.3,416.2 366.3,415.1 365.3,413.6 364.3,414.8 363.3,413.8 362.3,415.2 361.3,416.1 360.3,413.6 359.3,413.9 358.3,414.8 357.3,415.9 356.3,414.9 355.3,415 354.3,416.8 353.3,413.8 352.3,414.5 351.3,415 350.3,414.8 349.3,413.8 348.3,416.3 347.3,414.9 346.3,413.3 345.3,415.3 344.3,414.7 343.3,415.5 342.3,414.5 341.3,415.2 340.3,414.6 339.3,413.8 338.3,413.4 337.3,415.3 336.3,415.2 335.3,414.2 334.3,415.2 333.3,415.2 332.3,415.1 331.3,413.4 330.3,415.3 329.3,415.1 328.3,415.7 327.3,413.3 326.3,415.6 325.3,413.8 324.3,415.2 323.3,416.9 322.3,414.5 321.3,414.9 320.3,414 319.3,413.6 318.3,414.6 317.3,416.6 316.3,415.4 315.3,414.5 314.3,413.7 313.3,413.3 312.3,413.3 311.3,415.1 310.3,414.9 309.3,414.2 308.3,414.6 307.3,416.1 306.3,413.7 305.3,414 304.3,415.6 303.3,416.7 302.3,414 301.3,414.8 300.3,415.8 299.3,415.5 298.3,416 297.3,415.1 296.3,413.8 295.3,415.7 294.3,416 293.3,414.2 292.3,415.8 291.3,413.5 290.3,415.1 289.3,415.4 288.3,415 287.3,414.7 286.3,415.2 285.3,415.7 284.3,414.6 283.2,413.8 282.2,415 281.2,415.4 280.2,415.2 279.2,415.3 278.2,415.1 277.2,413.3 276.2,414.1 275.2,413.7 274.2,414.2 273.2,415.3 272.2,415.6 271.2,415.8 270.2,415.4 269.2,414.7 268.2,413.4 267.2,416.4 266.2,415.3 265.2,414.3 264.2,415.2 263.2,414.3 262.2,413.3 261.2,414 260.2,414.9 259.2,414 258.2,414.7 257.2,413.3 256.2,415.5 255.2,414.4 254.2,414.1 253.2,415.1 252.2,413.9 251.2,415.2 250.2,415.3 249.2,415.6 248.2,414.6 247.2,413.8 246.2,414.2 245.2,415.8 244.2,415.4 243.2,414.2 242.2,414.7 241.2,414.2 240.2,413.6 239.2,416.6 238.2,415 237.2,416.9 236.2,413.3 235.2,414.7 234.2,415.1 233.2,413.6 232.2,416.6 231.2,413.3 230.2,416.4 229.2,415 228.2,414.4 227.2,415.4 226.2,415.8 225.2,415.1 224.2,414.2 223.2,413.8 222.2,415.4 221.2,415.6 220.2,414.4 219.2,415.2 218.2,416.3 217.2,414.3 216.2,415.3 215.2,415.1 214.2,415 213.2,415.7 212.2,415.7 211.2,414.4 210.2,413.7 209.2,416.4 208.2,415.4 207.2,414.7 206.2,413.7 205.2,413.9 204.2,414.9 203.2,414.6 202.2,416.7 201.2,414.9 200.2,415.8 199.2,415.6 198.2,415.1 197.2,414.8 196.2,416.8 195.2,415.3 194.2,414.9 193.2,414.4 192.2,415.6 191.2,415.7 190.2,414.5 189.2,414.5 188.2,416 187.2,415.1 186.2,414.3 185.2,414.9 184.2,414.6 183.2,413.3 182.2,414.2 181.2,415.9 180.2,413.3 179.2,413.8 178.2,414.5 177.2,414.6 176.2,416.5 175.2,415.8 174.2,416.1 173.2,414.6 172.2,415.6 171.2,415.7 170.2,413.7 169.2,414.6 168.2,415.5 167.2,416.1 166.2,414.8 165.2,415.1 164.2,415.5 163.1,415.2 162.1,414.5 161.1,416 160.1,416.4 159.1,413.7 158.1,416.1 157.1,413.3 156.1,414.5 155.1,415.3 154.1,413.3 153.1,416.1 152.1,415.5 151.1,414.6 150.1,414.3 149.1,415.9 148.1,415.4 147.1,414.2 146.1,414.3 145.1,414.3 144.1,415.2 143.1,415.1 142.1,414.8 141.1,414.6 140.1,416.9 139.1,415.7 138.1,413.4 137.1,414.7 136.1,414.6 135.1,413.7 134.1,415.3 133.1,413.5 132.1,414.8 131.1,414.9 130.1,415.1 129.1,414.6 128.1,413.9 127.1,416.9 126.1,416.9 125.1,414.9 124.1,416 123.1,414.4 122.1,414.3 121.1,414.6 120.1,414.8 119.1,414 118.1,415.2 117.1,414 116.1,413.7 115.1,414.4 114.1,414.1 113.1,415.1 112.1,413.5 111.1,415.4 110.1,415.2 109.1,413.5 108.1,415 107.1,414.5 106.1,415.4 105.1,413.3 104.1,415.6 103.1,415.2 102.1,414.2 101.1,415 100.1,414.6 99.1,414 98.1,415.6 97.1,415.6 96.1,416.6 95.1,414.6 94.1,414 93.1,414.1 92.1,413.6 91.1,415.1 90.1,414.3 89.1,413.7 88.1,414.5 87.1,413.9 86.1,414.8 85.1,415.5 84.1,413.7 83.1,413.8 82.1,413.4 81.1,414 80.1,414.3 79.1,415.2 78.1,413.4 77.1,416.9 76.1,413.7 75.1,415.4 74.1,413.9 73.1,413.3 72.1,415 71.1,414.4 70.1,415.9 69.1,414.6 68.1,416 67.1,414.2 66.1,414.5 65.1,413.3 64.1,414.7 63.1,414.9 62.1,413.7 61.1,414.8 60.1,416.4 59.1,415.8 58.1,414.3 57.1,416.1 56.1,414.9 55.1,416.3 54.1,414.8 53.1,414 52.1,414.9 51.1,415.2 50.1,415.7 49.1,415.2 48.1,414.7 47.1,414.7 46.1,414.6 45.1,416.3 44.1,414.5 43,415.3Z" fill="#00f"/>
<path d="M141.9 391.6V410.9" stroke="#00f" stroke-width="1.0" stroke-opacity="0.42"/>
<path d="M200.7 334.2V465.6" stroke="#00f" stroke-width="1.0" stroke-opacity="0.42"/>
<path d="M256.8 370.9V454.2" stroke="#00f" stroke-width="1.0" stroke-opacity="0.42"/>
<path d="M285.3 394.6V421.6" stroke="#00f" stroke-width="1.0" stroke-opacity="0.42"/>
<path d="M319.7 346.9V497.1" stroke="#00f" stroke-width="1.0" stroke-opacity="0.42"/>
<path d="M319.7 386.4V445.6" stroke="#00f" stroke-width="1.3" stroke-opacity="0.45"/>
<path d="M339.7 410.9V424.8" stroke="#00f" stroke-width="1.0" stroke-opacity="0.42"/>
<path d="M404 370.9V453.8" stroke="#00f" stroke-width="1.0" stroke-opacity="0.42"/>
<path d="M404 415V441.6" stroke="#00f" stroke-width="1.0" stroke-opacity="0.25"/>
<path d="M420.8 370.9V438.7" stroke="#00f" stroke-width="1.0" stroke-opacity="0.42"/>
<path d="M438.1 389.3V421.6" stroke="#00f" stroke-width="1.0" stroke-opacity="0.42"/>
<path d="M456 373.4V456.7" stroke="#00f" stroke-width="1.0" stroke-opacity="0.42"/>
<path d="M456 374.2V455.8" stroke="#00f" stroke-width="1.0" stroke-opacity="0.25"/>
<path d="M464 390.9V424" stroke="#00f" stroke-width="1.0" stroke-opacity="0.42"/>
<path d="M521.6 388.1V439.9" stroke="#00f" stroke-width="1.0" stroke-opacity="0.42"/>
</g>
<text x="43" y="549.2" text-anchor="middle">00:00</text>
<text x="118.4" y="549.2" text-anchor="middle">03:00</text>
<text x="193.7" y="549.2" text-anchor="middle">06:00</text>
<text x="269" y="549.2" text-anchor="middle">09:00</text>
<text x="344.3" y="549.2" text-anchor="middle">12:00</text>
<text x="419.6" y="549.2" text-anchor="middle">15:00</text>
<text x="494.9" y="549.2" text-anchor="middle">18:00</text>
<text x="570.2" y="549.2" text-anchor="middle">21:00</text>
<text x="645.5" y="549.2" text-anchor="middle">00:00</text>
<text x="39.3" y="334.3" text-anchor="end">2</text>
<text x="39.3" y="375.1" text-anchor="end">1</text>
<text x="39.3" y="415.9" text-anchor="end">0</text>
<text x="39.3" y="456.7" text-anchor="end">-1</text>
<text x="39.3" y="497.6" text-anchor="end">-2</text>
<text x="39.3" y="538.4" text-anchor="end">-3</text>
<text x="19.4" y="432.4" text-anchor="middle" font-weight="bold" transform="rotate(-90 19.4 432.4)">Y (nT)</text>
<path d="M43 614.2H645.5V818.1H43ZM118.4 818.1v-6.4M118.4 614.2v6.4M193.7 818.1v-6.4M193.7 614.2v6.4M269 818.1v-6.4M269 614.2v6.4M344.3 818.1v-6.4M344.3 614.2v6.4M419.6 818.1v-6.4M419.6 614.2v6.4M494.9 818.1v-6.4M494.9 614.2v6.4M570.2 818.1v-6.4M570.2 614.2v6.4M43 643.3h6.4M645.5 643.3h-6.4M43 672.5h6.4M645.5 672.5h-6.4M43 701.6h6.4M645.5 701.6h-6.4M43 730.7h6.4M645.5 730.7h-6.4M43 759.8h6.4M645.5 759.8h-6.4M43 789h6.4M645.5 789h-6.4" fill="none" stroke="#000" stroke-opacity="0.3" stroke-width="1.25"/>
<g clip-path="url(#ct2)">
<polyline points="43.2,662.5 44.2,678.3 45.1,664.9 45.8,678.4 46.9,659.8 48.2,679 49,660.6 50,679.5 50.9,657.1 52,681.6 53.2,658.3 54.3,682.8 55.3,656.5 56.2,678.3 56.9,659 58.2,687.6 58.9,662.6 60.1,679.6 61.1,660 62.2,675.8 63.1,660.8 64.2,678.8 64.8,661.5 66.1,681 67,662.4 67.9,675.5 69,662.4 70.2,679.5 71,659.9 72.2,682.4 72.9,661.9 74.3,682 75.1,662.4 76,677.2 76.9,657.5 78.2,681.1 78.9,663.2 80.3,677.1 81.2,660 82.1,679.3 83.3,660.6 84,682.6 85.2,657 85.9,680.5 87.1,663.8 87.9,679.1 89.3,653.3 89.8,681.5 91.1,657.1 92,677.8 93,660.9 94.2,675.6 95.3,658.2 95.9,684.9 97.2,658.4 98.2,681 99,659.4 99.9,682.5 101,659.6 102.2,681.7 103.1,660.8 104.2,683.5 105,656.9 106.1,687.7 107.1,657.4 107.9,679.3 109.2,657.8 110.2,681.1 111.3,660.1 112,682.1 113,663.1 114.3,675.8 114.9,662.5 116.2,680.4 117.2,657.9 118.1,677 119,661.8 120.1,676.3 121.3,664.2 122.3,677.1 123.1,659.6 124.3,677.5 125.1,664.2 126.2,678.4 127.2,660.9 128.1,679.1 129.1,659.8 130.2,679.3 130.9,665.6 132.3,681.1 132.9,659.8 134.3,677.4 135.4,664.1 136,677 136.9,660.9 138,678.1 139.3,658.6 140.4,685.4 141.3,660.8 142.1,682.1 143.2,665.9 143.9,682.3 145,647.6 145.9,682.4 147.2,657.4 148.3,681.7 149.3,665.5 150.3,677.3 151.1,657.5 152.4,679.9 152.9,661.8 154.3,679.7 155.4,662.5 156.1,684.9 157.2,656.1 158,678.6 159,656.4 160.2,681.7 161.1,661.4 161.9,686.4 163.1,658.6 164,679.7 165.4,661.2 166.2,679 167.2,659.8 168.3,679.9 169.1,662.7 170,681.3 171,662.9 172.2,681.4 173.4,660.4 174.2,680.9 175.2,661.4 176.1,685.4 177.2,658 178.3,678.3 179,663.7 180.4,680.4 181.3,658.3 182.3,681 183.4,661.2 184.2,676.7 185,663.8 186.3,678.2 187.3,662.2 188.1,676.3 189.3,662.6 190,679.3 191,663.9 192.2,679.5 193.3,652.9 194,680.6 195.2,664.8 196.1,680.7 197.4,662.9 198,675.6 199.4,653.7 200,683.5 201.3,661.8 202,675.2 203.3,663.9 204,677.1 205,665.3 206.3,680.7 207,662.3 208.4,679.4 209.3,662.3 210.1,678.5 211,665.2 212.2,682.6 213.1,660.8 214.3,675.8 215.3,663 216.2,677.9 217.1,661.2 218,674.8 219.3,665 220.3,676 221.1,665.2 222.1,680.1 223.3,664.7 224,679.5 225,662.5 226,679.6 227.4,662.7 228.3,675.5 229.2,663.4 230.2,677.1 231.2,662.8 232,677.8 233.4,662.3 234.3,675.3 235.3,663.9 236.2,680.7 237,659.4 238.1,677.7 239.3,662 240.3,679.4 241.3,664.4 242.2,677.6 243.3,664.6 244.1,677.5 245,664 246.2,680.2 247,662.5 248.3,676.1 249.1,664.6 250.3,675.7 251.1,659.6 252,676 253,661.5 254.2,677.7 255,662.4 256.4,680.6 257.4,661.7 258.2,676.5 259.1,661.5 260.2,678.3 261.2,664 262.3,679.5 263.3,662.9 264,677.4 265.1,660.2 266.1,680.5 267,663.6 268,678.7 269.4,664.1 270.2,676.6 271.2,664.6 272.4,680.1 273.4,663.7 274,678.2 275.4,663.2 276.2,679.1 277.5,662.8 278,677.7 279.1,662.7 280.1,679.8 281.3,663.6 282.1,678.6 283.1,659.6 284.2,678.4 285.4,664.7 286.3,679.7 287.1,661.5 288.3,676.2 289.1,662.8 290,679.4 291.2,661.5 292.2,676.2 293.4,658.9 294.1,682.8 295.4,662.5 296,677.5 297.3,662.8 298.2,678.4 299.5,660.9 300.4,678 301,661.9 302.4,676.7 303.4,665 304.3,679.5 305.3,661.3 306.5,680.6 307.4,664.1 308,674.9 309.4,664.5 310.4,679.5 311.5,664.5 312.4,678.3 313.1,658.7 314.5,675.9 315.1,664.1 316.2,678.8 317.5,663.3 318.2,683.6 319.5,645.7 320.2,679.5 321.2,662.3 322.4,678.8 323.5,660.3 324.5,678 325.1,665 326.2,676.9 327.1,663.3 328.2,680 329.3,664 330.5,679.9 331.3,665.7 332.5,678.6 333.1,664.1 334.2,679.3 335.2,660.8 336.4,676.1 337.5,663.4 338.4,681 339.4,660.2 340.1,678 341.3,663.4 342.2,676.4 343.3,658.6 344.5,679.4 345.5,665 346.3,681 347.4,657.2 348.2,684.1 349.2,665.6 350.2,679.2 351.2,663.4 352.4,677.1 353.5,662.7 354.5,677 355.2,659.3 356.3,677.6 357.4,662.9 358.5,677.7 359.5,660.8 360.5,682.5 361.5,660 362.3,680.2 363.5,661.3 364.2,680.2 365.5,661.5 366.3,677.9 367.3,663.5 368.2,680.5 369.1,663.8 370.3,676.3 371.5,663.4 372.3,679.9 373.3,664.5 374.4,677.2 375.5,664.3 376.1,678.4 377.2,660.3 378.5,680 379.2,660.9 380.2,683.4 381.6,659.3 382.3,683 383.5,658.3 384.6,676.2 385.4,664.9 386.1,689.3 387.2,661.8 388.2,677.9 389.5,661.1 390.3,678 391.2,655.1 392.2,685 393.4,659.2 394.5,680.1 395.5,662.3 396.3,681.3 397.6,661.9 398.4,684.5 399.6,663.4 400.2,682.3 401.5,658.4 402.4,679.6 403.3,653.9 404.4,680.4 405.4,649.6 406.5,689.3 407.2,660.8 408.6,686.5 409.3,656.7 410.2,680.1 411.2,660.4 412.2,679.6 413.4,661.9 414.2,682.3 415.6,654.2 416.2,695.3 417.1,656.5 418.3,684.5 419.6,641 420.3,684.4 421.6,657 422.3,683 423.4,655 424.5,681.8 425.3,657.8 426.1,682.1 427.4,660.5 428.4,675.6 429.4,665.1 430.3,683.2 431.4,655.6 432.1,689.2 433.6,660.6 434.5,675.9 435.2,661.3 436.4,677.3 437.6,658.6 438.1,688.3 439.2,658.9 440.5,679.1 441.5,657.4 442.3,688.6 443.5,660.9 444.5,680.5 445.2,662.4 446.2,680.6 447.3,660.4 448.6,681.5 449.1,663.2 450.3,679.5 451.4,661.9 452.6,680.2 453.6,660.5 454.6,675.1 455.5,657.4 456.5,680.3 457.2,661 458.6,678.6 459.4,660.4 460.2,678.6 461.5,662.1 462.6,676.9 463.3,665.2 464.3,680.8 465.5,665.4 466.6,676.8 467.5,664.8 468.4,678.7 469.4,665.1 470.3,679.6 471.6,664.2 472.5,678.5 473.5,662.5 474.5,678.4 475.5,663.6 476.4,678.7 477.6,664.8 478.3,675.8 479.6,665.2 480.3,675.5 481.2,664.1 482.4,676.5 483.4,665.2 484.4,675.3 485.2,661.1 486.2,681.1 487.5,664.2 488.6,677.8 489.3,664.5 490.6,679.6 491.6,663.7 492.3,677.1 493.2,662.2 494.6,678.4 495.5,663.1 496.5,677.1 497.2,664.5 498.2,676 499.2,664.1 500.4,676.3 501.4,663.2 502.3,675.9 503.4,664 504.2,676.7 505.4,656.8 506.6,678.3 507.6,666.3 508.5,675.9 509.2,664.4 510.3,674.9 511.3,663.6 512.5,677.4 513.6,663.4 514.5,675.6 515.6,659.8 516.6,681.5 517.7,663.3 518.4,676 519.2,664.4 520.4,676.2 521.4,661.9 522.5,675.9 523.2,661.3 524.5,675.4 525.5,663.6 526.4,679 527.3,662.7 528.7,679.3 529.5,662.4 530.4,677.9 531.3,659.5 532.5,678 533.4,664.3 534.2,678.5 535.2,663.7 536.4,678.3 537.7,667.1 538.3,676.1 539.7,664.4 540.4,675.7 541.7,664.9 542.4,677.6 543.4,665.4 544.2,682 545.3,665.4 546.5,676.7 547.5,664.6 548.3,676.4 549.4,660.1 550.6,678.4 551.6,662.2 552.5,676.1 553.6,663.8 554.7,678.4 555.4,662.3 556.7,680.1 557.6,662.4 558.4,676.1 559.2,664.6 560.3,675.1 561.3,665.6 562.5,677.1 563.6,664 564.7,678.1 565.5,662.8 566.7,680 567.6,664 568.6,678.4 569.6,666.1 570.3,675.7 571.7,663.8 572.7,677.6 573.3,663.4 574.6,680.3 575.4,660.4 576.5,677.6 577.3,664.2 578.7,679.6 579.3,663.5 580.5,677 581.3,662.8 582.5,676.9 583.3,664 584.7,677.3 585.5,660.3 586.5,680.6 587.5,661.3 588.6,678.3 589.6,664.1 590.6,676.3 591.3,662.1 592.3,678 593.4,662.8 594.6,677.1 595.5,663.3 596.6,680.1 597.7,666.2 598.7,675.7 599.3,666.7 600.4,679 601.5,662.2 602.5,682.3 603.5,662.6 604.7,678 605.8,663.8 606.3,677 607.5,663.9 608.3,674.8 609.6,664 610.6,677.9 611.5,664.3 612.6,676.5 613.6,660 614.7,679.1 615.5,662.8 616.6,677.2 617.5,664.6 618.5,676.5 619.3,666.6 620.7,677.5 621.8,666.7 622.5,680.6 623.5,663.2 624.3,676.5 625.4,663.5 626.7,678.1 627.3,660 628.4,677.4 629.8,662.1 630.4,676.6 631.5,662.9 632.8,677 633.7,662.2 634.6,676.7 635.7,664.8 636.5,677 637.5,665.2 638.5,676.7 639.4,660.4 640.4,676.5 641.7,662.1 642.5,677.7 643.5,666.5 644.5,676.9 645.6,662.7" fill="none" stroke="#00f" stroke-width="0.8" stroke-opacity="0.36" stroke-linejoin="bevel"/>
<polyline points="43,662.2 43.6,675 44.1,662.1 44.6,678.9 45.1,664 45.6,678.8 46.1,662.4 46.6,678.7 47.1,663.1 47.6,679.1 48.1,660.3 48.6,682.9 49.1,659.3 49.6,679.7 50.1,664.7 50.6,682.6 51.1,658.4 51.6,678.2 52.1,662.5 52.6,675.6 53.1,663.7 53.6,675.2 54.1,662.3 54.6,678.1 55.1,661.3 55.6,678.2 56.1,664.3 56.6,677.5 57.1,657.5 57.6,678 58.1,660.9 58.6,680.3 59.1,662 59.6,677.3 60.1,663.9 60.6,676.8 61.1,663.7 61.6,678.3 62.1,662.6 62.6,676 63.1,662.6 63.6,678.7 64.1,664.6 64.6,676 65.1,662.3 65.6,677.8 66.1,662.1 66.6,676.4 67.1,663.9 67.6,678.2 68.1,665.2 68.6,676 69.1,666.6 69.6,676.5 70.1,662.9 70.6,679.9 71.1,663.3 71.6,680.1 72.1,659.1 72.6,679.9 73.1,663.5 73.6,679.6 74.1,662.4 74.6,675.9 75.1,664 75.6,678 76.1,663.8 76.6,677.7 77.1,661.9 77.6,678.7 78.1,661.7 78.6,678.8 79.1,662.4 79.6,676.4 80.1,666.6 80.6,677.7 81.1,663.7 81.6,682.5 82.1,657.1 82.6,680.1 83.1,661.3 83.6,681.1 84.1,656.5 84.6,682.4 85.1,660.8 85.6,678.7 86.1,661.7 86.6,679.2 87.1,664.6 87.6,678 88.1,664.6 88.6,678.8 89.1,657.7 89.6,683.8 90.1,660.6 90.6,679 91.1,659.1 91.6,678.3 92.1,665.4 92.6,680.2 93.1,662.6 93.6,680.3 94.1,664.1 94.6,679.8 95.1,660.7 95.6,681 96.1,655.3 96.6,677.9 97.1,660.7 97.6,679.1 98.1,663.6 98.6,678.4 99.1,660.1 99.6,681.7 100.1,662.5 100.6,676.1 101.1,662.6 101.6,678.7 102.1,665.2 102.6,678.6 103.1,665 103.6,677.1 104.1,659.8 104.6,681 105.1,661.9 105.6,680.9 106.1,663.3 106.6,682.3 107.1,664.2 107.6,682.9 108.1,662.6 108.6,679.9 109.1,661.4 109.6,679 110.1,664.5 110.6,679.7 111.1,663.5 111.6,678 112.1,664.2 112.6,679.3 113.1,665 113.6,674.3 114.1,667.3 114.6,674.7 115.1,664.5 115.6,677.5 116.1,661.3 116.6,680.5 117.1,662 117.6,678.7 118.1,662.5 118.6,677.4 119.1,663.6 119.6,678.3 120.1,664.7 120.6,675.5 121.1,664.7 121.6,675.9 122.1,663 122.6,676.9 123.1,660.8 123.6,678.8 124.1,664.8 124.6,674.8 125.1,665.9 125.6,677.7 126.1,665.1 126.6,677.3 127.1,663.4 127.6,676.6 128.1,661.5 128.6,678.5 129.1,661.8 129.6,675.4 130.1,662.2 130.6,678.4 131.1,665.5 131.6,675.7 132.1,662.2 132.6,677.2 133.1,661.3 133.6,678.9 134.1,666.8 134.6,675.5 135.1,666 135.6,675.7 136.1,665 136.6,676.6 137.1,663.2 137.6,679.7 138.1,660.3 138.6,681.8 139.1,657.1 139.6,679.8 140.1,661.5 140.6,677.8 141.1,662.5 141.6,677.2 142.1,662.7 142.6,674.9 143.1,663.2 143.6,678.5 144.1,663.8 144.6,683.7 145.1,656 145.6,680.1 146.1,660.5 146.6,681.5 147.1,658.1 147.6,679.5 148.1,663.5 148.6,675.4 149.1,664.7 149.6,675.8 150.1,664.2 150.6,679.1 151.1,661.4 151.6,676.8 152.1,661.8 152.6,677.8 153.1,664.6 153.6,679.3 154.1,663.6 154.6,677.2 155.1,666.5 155.6,684.5 156.1,659.4 156.6,680.1 157.1,663.7 157.6,678.8 158.1,663.7 158.6,675.9 159.1,662.7 159.6,678.8 160.1,661.4 160.6,679.8 161.1,656.5 161.6,681.3 162.1,659.1 162.6,678.4 163.1,661.4 163.7,676 164.2,656.5 164.7,681.9 165.2,666.6 165.7,677.3 166.2,661.5 166.7,679.1 167.2,663.6 167.7,677.8 168.2,665.5 168.7,677.8 169.2,664.2 169.7,685.3 170.2,661.5 170.7,681.7 171.2,663.3 171.7,676.8 172.2,662.7 172.7,679.9 173.2,663.3 173.7,677.6 174.2,663.5 174.7,676.8 175.2,661.9 175.7,682.9 176.2,661.7 176.7,681.7 177.2,658.3 177.7,681.3 178.2,661.7 178.7,677.6 179.2,663.6 179.7,677.8 180.2,662.3 180.7,679.6 181.2,658.4 181.7,677.7 182.2,663.4 182.7,674.7 183.2,664 183.7,674.5 184.2,664.1 184.7,675.7 185.2,662.4 185.7,675.8 186.2,666.5 186.7,677.1 187.2,663.3 187.7,675.2 188.2,663.9 188.7,675.6 189.2,661 189.7,676.9 190.2,666.2 190.7,676.2 191.2,662 191.7,675.8 192.2,660.6 192.7,679.7 193.2,661.6 193.7,679 194.2,663.7 194.7,677.6 195.2,663.7 195.7,679.1 196.2,664.1 196.7,679 197.2,666 197.7,676.5 198.2,664 198.7,679.2 199.2,661.1 199.7,679.2 200.2,660.7 200.7,674.7 201.2,664.4 201.7,675.7 202.2,665.6 202.7,673.4 203.2,665.5 203.7,674.8 204.2,664.6 204.7,676.3 205.2,665.4 205.7,680 206.2,665.3 206.7,676.6 207.2,661.9 207.7,679.5 208.2,661.5 208.7,677.7 209.2,662.8 209.7,678.5 210.2,663.5 210.7,678.9 211.2,662.1 211.7,677.2 212.2,662.1 212.7,674.9 213.2,661.8 213.7,678.4 214.2,662.7 214.7,675.1 215.2,663.5 215.7,677.1 216.2,665.9 216.7,675.6 217.2,664.9 217.7,675.7 218.2,665.6 218.7,676.8 219.2,666.3 219.7,674 220.2,665.6 220.7,677.4 221.2,665.3 221.7,676.3 222.2,666.6 222.7,675.3 223.2,662.4 223.7,676.3 224.2,663.6 224.7,676.3 225.2,664 225.7,675 226.2,664.8 226.7,674.5 227.2,665.9 227.7,678.7 228.2,662.6 228.7,676.9 229.2,664.3 229.7,677.4 230.2,661.9 230.7,676.8 231.2,665.4 231.7,676.2 232.2,666.4 232.7,674.2 233.2,667.1 233.7,675.2 234.2,663.8 234.7,678.7 235.2,664.7 235.7,675.3 236.2,664.4 236.7,676.4 237.2,663.3 237.7,678.8 238.2,663.5 238.7,677.3 239.2,664.8 239.7,676.6 240.2,667.5 240.7,675.7 241.2,662 241.7,677.1 242.2,664.1 242.7,677.6 243.2,666.8 243.7,674.3 244.2,666.5 244.7,673.8 245.2,665 245.7,677.4 246.2,662.7 246.7,676.8 247.2,666.3 247.7,677 248.2,665.6 248.7,676.5 249.2,665.9 249.7,676 250.2,661.6 250.7,680 251.2,665.2 251.7,676 252.2,663.6 252.7,679 253.2,661.7 253.7,676.5 254.2,665.8 254.7,676.7 255.2,660.9 255.7,680.2 256.2,663.7 256.7,680.8 257.2,663.9 257.7,675.3 258.2,665.2 258.7,677.4 259.2,662.4 259.7,674.4 260.2,664.5 260.7,676.5 261.2,665.4 261.7,676.2 262.2,662 262.7,674.2 263.2,664.8 263.7,676.1 264.2,662.4 264.7,677.8 265.2,660.4 265.7,677.3 266.2,658.8 266.7,680.1 267.2,664.2 267.7,677.6 268.2,663.9 268.7,677.1 269.2,667.5 269.7,675.2 270.2,666.8 270.7,675.5 271.2,665.9 271.7,675.9 272.2,665.5 272.7,678.3 273.2,665.5 273.7,675.4 274.2,665.2 274.7,677.1 275.2,666.4 275.7,679.1 276.2,664.5 276.7,677.5 277.2,665.6 277.7,674.8 278.2,664.9 278.7,675.4 279.2,666.5 279.7,674 280.2,663.5 280.7,678.2 281.2,666.2 281.7,676.2 282.2,666.2 282.7,678.9 283.2,665.3 283.7,677.3 284.3,665.3 284.8,675.9 285.3,664 285.8,673.7 286.3,664.1 286.8,676.5 287.3,662.7 287.8,674.5 288.3,665.2 288.8,676.4 289.3,665.3 289.8,676.4 290.3,666 290.8,676.7 291.3,665.8 291.8,674.7 292.3,665.8 292.8,676.3 293.3,660.3 293.8,678.2 294.3,662.2 294.8,679.4 295.3,666.6 295.8,676.8 296.3,663.8 296.8,676.3 297.3,664.2 297.8,677.5 298.3,664.4 298.8,675.9 299.3,663.6 299.8,677.6 300.3,666.6 300.8,678 301.3,665.4 301.8,675.7 302.3,663.9 302.8,675.7 303.3,663.3 303.8,675.8 304.3,664.5 304.8,679.7 305.3,666.2 305.8,678.6 306.3,663.5 306.8,675.8 307.3,666.1 307.8,673.9 308.3,665.8 308.8,675.6 309.3,664.6 309.8,681.5 310.3,662.9 310.8,676.8 311.3,666 311.8,674.8 312.3,666.8 312.8,678.2 313.3,663.2 313.8,676.6 314.3,665.3 314.8,675.6 315.3,665.9 315.8,674.5 316.3,665.5 316.8,677.6 317.3,662.2 317.8,678.5 318.3,660.3 318.8,684.7 319.3,657.2 319.8,679.5 320.3,658.8 320.8,680.8 321.3,665.8 321.8,677.6 322.3,666.7 322.8,676.5 323.3,666 323.8,677.7 324.3,663.8 324.8,677.1 325.3,665.9 325.8,675.4 326.3,666.4 326.8,679.1 327.3,663.4 327.8,676.4 328.3,665.2 328.8,678.7 329.3,666.5 329.8,677.5 330.3,664.5 330.8,675.3 331.3,664.6 331.8,676.8 332.3,665.2 332.8,674.5 333.3,663.2 333.8,676.3 334.3,666.4 334.8,673.9 335.3,665.8 335.8,677.4 336.3,664 336.8,679.5 337.3,661.4 337.8,678.3 338.3,662.5 338.8,678.4 339.3,662.7 339.8,675.4 340.3,665.7 340.8,675.3 341.3,665.2 341.8,677.7 342.3,661.2 342.8,675.9 343.3,661.8 343.8,677.3 344.3,664.6 344.8,675.4 345.3,667 345.8,677.7 346.3,663.6 346.8,679.5 347.3,661.2 347.8,680.1 348.3,661.6 348.8,678.5 349.3,662.4 349.8,675.6 350.3,666 350.8,675.8 351.3,662.9 351.8,676.5 352.3,664 352.8,674.1 353.3,667 353.8,676.6 354.3,665.4 354.8,676.2 355.3,665.8 355.8,675.1 356.3,666.3 356.8,677.8 357.3,663.6 357.8,677.1 358.3,661.5 358.8,679.8 359.3,660.9 359.8,677.5 360.3,664.5 360.8,675.8 361.3,665.2 361.8,677.6 362.3,661.2 362.8,680.1 363.3,664.2 363.8,677.3 364.3,666.3 364.8,676.7 365.3,665.3 365.8,678.1 366.3,662.3 366.8,676.4 367.3,659.5 367.8,675.9 368.3,664.9 368.8,677.8 369.3,664.8 369.8,675.8 370.3,664.9 370.8,676.7 371.3,662.9 371.8,676.4 372.3,663.4 372.8,679.3 373.3,666.3 373.8,673.9 374.3,664.4 374.8,676.3 375.3,662.5 375.8,680.4 376.3,663.5 376.8,677.5 377.3,662.6 377.8,680.2 378.3,662.5 378.8,677.3 379.3,659.1 379.8,680 380.3,658.8 380.8,679.4 381.3,663.6 381.8,678.8 382.3,660 382.8,677.8 383.3,659.7 383.8,680.4 384.3,666.2 384.8,677.5 385.3,661.3 385.8,683 386.3,657.2 386.8,688.1 387.3,658.3 387.8,682.6 388.3,663.6 388.8,676.6 389.3,664.7 389.8,677.4 390.3,664.2 390.8,681.1 391.3,657.7 391.8,683 392.3,663 392.8,680.8 393.3,662.5 393.8,676.4 394.3,665.4 394.8,674.4 395.3,665.4 395.8,679.1 396.3,663.7 396.8,677.9 397.3,662.5 397.8,679.3 398.3,654.6 398.8,675.8 399.3,665.6 399.8,677.3 400.3,661.7 400.8,676 401.3,661.9 401.8,678.4 402.3,660 402.8,685.5 403.3,661.3 403.8,680.8 404.3,664.8 404.9,677.3 405.4,658.4 405.9,681.1 406.4,651.3 406.9,680.5 407.4,662.2 407.9,683.2 408.4,661.1 408.9,678.8 409.4,662.6 409.9,677.5 410.4,661.9 410.9,677.2 411.4,663.7 411.9,676.9 412.4,665.8 412.9,677.9 413.4,663 413.9,681.3 414.4,654 414.9,680.3 415.4,656.3 415.9,687.5 416.4,651 416.9,689.7 417.4,655.8 417.9,685.4 418.4,656.9 418.9,685.9 419.4,646 419.9,684.2 420.4,658.2 420.9,675.6 421.4,660 421.9,679.1 422.4,659.2 422.9,679.3 423.4,663.2 423.9,680.3 424.4,662.1 424.9,680.6 425.4,658.2 425.9,680.4 426.4,660.5 426.9,677 427.4,664.1 427.9,675 428.4,664.8 428.9,676.9 429.4,666.1 429.9,674.9 430.4,663.8 430.9,675.9 431.4,658.5 431.9,680.4 432.4,660 432.9,679.6 433.4,664.4 433.9,678.4 434.4,662.9 434.9,677.9 435.4,664.3 435.9,677.4 436.4,664.1 436.9,679.3 437.4,658.7 437.9,681.6 438.4,660.6 438.9,680.4 439.4,662.3 439.9,679 440.4,666.3 440.9,679.4 441.4,660.5 441.9,676.6 442.4,659.3 442.9,678.8 443.4,662.1 443.9,675.8 444.4,662.9 444.9,678.2 445.4,661.4 445.9,680 446.4,662.2 446.9,678.1 447.4,664.4 447.9,678.3 448.4,661.8 448.9,675.4 449.4,662.5 449.9,678.5 450.4,663.7 450.9,675.8 451.4,664.9 451.9,676.3 452.4,660.9 452.9,678.5 453.4,664.4 453.9,677.5 454.4,663.9 454.9,678.2 455.4,663.2 455.9,676.9 456.4,664.7 456.9,675.5 457.4,664.1 457.9,676.9 458.4,666 458.9,676.4 459.4,664.2 459.9,677.7 460.4,663.3 460.9,677.9 461.4,665.6 461.9,676.5 462.4,665 462.9,677.3 463.4,663.2 463.9,676.8 464.4,662.9 464.9,678.2 465.4,665.6 465.9,673.9 466.4,665.1 466.9,673.4 467.4,665.6 467.9,676.1 468.4,665.9 468.9,674.2 469.4,663.4 469.9,675.6 470.4,665.4 470.9,676.8 471.4,666.6 471.9,675.9 472.4,664.7 472.9,676.3 473.4,666.5 473.9,676.7 474.4,666.5 474.9,678.5 475.4,664 475.9,676.5 476.4,664.6 476.9,677.2 477.4,663.1 477.9,674.9 478.4,665.1 478.9,675.5 479.4,665.5 479.9,677.3 480.4,666.9 480.9,674.8 481.4,664.3 481.9,675.7 482.4,665.6 482.9,677.5 483.4,666 483.9,677.7 484.4,664.2 484.9,676.4 485.4,662.5 485.9,677.2 486.4,666.5 486.9,676.1 487.4,665.5 487.9,678 488.4,664.6 488.9,675.3 489.4,664 489.9,676.6 490.4,664.7 490.9,677.2 491.4,664.8 491.9,677.2 492.4,664.3 492.9,675.7 493.4,665.8 493.9,676.2 494.4,664.1 494.9,677.9 495.4,663.7 495.9,675.5 496.4,665.4 496.9,676.6 497.4,666.6 497.9,675.9 498.4,664.7 498.9,675.2 499.4,665.9 499.9,673.8 500.4,663.8 500.9,675.9 501.4,664.2 501.9,677.2 502.4,663.7 502.9,674.6 503.4,664.5 503.9,675.5 504.4,664.9 504.9,676 505.4,659.9 505.9,681.4 506.4,662.6 506.9,675.5 507.4,666.6 507.9,674.9 508.4,666.1 508.9,674.8 509.4,664.8 509.9,675.6 510.4,666.2 510.9,675.7 511.4,664.7 511.9,673.8 512.4,663.4 512.9,676.7 513.4,663.3 513.9,677.1 514.4,665.2 514.9,674.8 515.4,664.7 515.9,676 516.4,664.7 516.9,675.5 517.4,662.3 517.9,676.4 518.4,665.7 518.9,674.3 519.4,666 519.9,677.5 520.4,666.8 520.9,677.2 521.4,665 521.9,675.6 522.4,660.5 522.9,674.2 523.4,664.1 523.9,674.3 524.4,665.2 524.9,675.7 525.5,666.9 526,676.5 526.5,663.6 527,676.8 527.5,665.1 528,676.6 528.5,666.5 529,675.1 529.5,664.9 530,677.8 530.5,662.9 531,676.7 531.5,665.6 532,677 532.5,665.8 533,674.7 533.5,665.9 534,679.5 534.5,664.2 535,678.5 535.5,666.4 536,674.5 536.5,665.1 537,674.4 537.5,666.5 538,674.9 538.5,665.4 539,677 539.5,664.7 540,677.4 540.5,664 541,678.2 541.5,665.1 542,673.5 542.5,665.8 543,675.5 543.5,665.5 544,676.4 544.5,663.1 545,680 545.5,664.2 546,675.4 546.5,666.9 547,675.2 547.5,665.9 548,674.1 548.5,665.7 549,676.8 549.5,665.3 550,679.1 550.5,664.9 551,676.3 551.5,663.9 552,678.6 552.5,661.6 553,674.2 553.5,663.1 554,679 554.5,664 555,674.4 555.5,664.5 556,674.4 556.5,664.9 557,675.3 557.5,665 558,677.3 558.5,665.7 559,677.6 559.5,665.5 560,675.4 560.5,665 561,675.3 561.5,665.3 562,676.3 562.5,666.7 563,677.1 563.5,665.5 564,677 564.5,664.6 565,675.3 565.5,667.1 566,677.4 566.5,665.3 567,674.2 567.5,663.2 568,675.7 568.5,663.8 569,676.3 569.5,663.6 570,674.7 570.5,666.1 571,675.9 571.5,664.7 572,678.7 572.5,666.2 573,675.3 573.5,664.4 574,677.6 574.5,664.6 575,677.4 575.5,663.2 576,675.9 576.5,665.1 577,675.9 577.5,664.5 578,675.9 578.5,667.4 579,676.2 579.5,665.4 580,678 580.5,661.8 581,676.4 581.5,666.3 582,675 582.5,666.2 583,675.6 583.5,665.9 584,674.7 584.5,664.6 585,679 585.5,661.2 586,679 586.5,662.1 587,674 587.5,664.7 588,674.7 588.5,663.5 589,678.6 589.5,664.1 590,674.3 590.5,666.2 591,673.2 591.5,664.1 592,676.1 592.5,665 593,677.9 593.5,664.8 594,675.8 594.5,662.1 595,678.4 595.5,664 596,678.8 596.5,665.2 597,677.8 597.5,664.2 598,675.3 598.5,664.4 599,674.5 599.5,664.4 600,674 600.5,666.6 601,675.9 601.5,663.8 602,678.1 602.5,663.6 603,675.2 603.5,664.4 604,677.1 604.5,664.3 605,677.7 605.5,663.9 606,676.9 606.5,664.4 607,675.6 607.5,663 608,676.8 608.5,666.8 609,675.1 609.5,665.4 610,675.9 610.5,664.4 611,673.7 611.5,664.6 612,675.9 612.5,664.4 613,675.7 613.5,666.2 614,678 614.5,667.2 615,676.2 615.5,664.7 616,677 616.5,665.3 617,674.3 617.5,663.3 618,678.4 618.5,664.3 619,676.2 619.5,665 620,678.6 620.5,662.8 621,674.4 621.5,663.9 622,678.9 622.5,662.1 623,675.2 623.5,665.1 624,675.8 624.5,663.9 625,675 625.5,667.8 626,674.8 626.5,665.8 627,677.5 627.5,664.6 628,677.1 628.5,663.3 629,675.2 629.5,663.7 630,675.1 630.5,666.7 631,677.4 631.5,666.7 632,674.2 632.5,664 633,677.2 633.5,662.4 634,676.8 634.5,665.3 635,675.3 635.5,666.4 636,676.6 636.5,664.3 637,676.1 637.5,666.3 638,675.3 638.5,662.6 639,674.4 639.5,664.1 640,676.5 640.5,666.6 641,675.5 641.5,666 642,676.4 642.5,663.8 643,676.3 643.5,667 644,675.4 644.5,663.5 645,676.4 645.5,665.2" fill="none" stroke="#00f" stroke-width="0.8" stroke-opacity="0.34" stroke-linejoin="bevel"/>
<polyline points="43,665.8 43.6,674.1 44.1,668.2 44.6,673.8 45.1,664.5 45.6,675.2 46.1,666.8 46.6,677.2 47.1,663.9 47.6,678.9 48.1,665.2 48.6,677.8 49.1,663.4 49.6,676.5 50.1,662.3 50.6,676.7 51.1,664.3 51.6,674.8 52.1,665.2 52.6,674.4 53.1,664.3 53.6,677.4 54.1,664.9 54.6,678.5 55.1,665.4 55.6,677.2 56.1,666.3 56.6,676 57.1,663.4 57.6,680.8 58.1,661 58.6,679.3 59.1,663.6 59.6,675.9 60.1,666.6 60.6,674.4 61.1,666.5 61.6,675.7 62.1,666 62.6,677.6 63.1,664.6 63.6,676.9 64.1,666.1 64.6,675.7 65.1,663 65.6,675.8 66.1,665.4 66.6,673.5 67.1,664.9 67.6,674.5 68.1,665.9 68.6,675.5 69.1,664.7 69.6,674.4 70.1,664.1 70.6,677.1 71.1,664.9 71.6,676.5 72.1,665.2 72.6,679.2 73.1,664.4 73.6,675.4 74.1,666.9 74.6,675.6 75.1,667.3 75.6,676.5 76.1,664.5 76.6,676.3 77.1,664.9 77.6,677.3 78.1,666.4 78.6,675.6 79.1,666 79.6,673.2 80.1,668.5 80.6,675.6 81.1,662.8 81.6,677.7 82.1,662.5 82.6,677.9 83.1,663.2 83.6,677.4 84.1,663.1 84.6,679.5 85.1,664.8 85.6,677 86.1,664.8 86.6,676.5 87.1,665 87.6,677.8 88.1,666.1 88.6,676.2 89.1,662.1 89.6,677.3 90.1,663.5 90.6,679.7 91.1,663.7 91.6,674.7 92.1,662.3 92.6,677.7 93.1,661 93.6,673.8 94.1,665.4 94.6,675.2 95.1,663.5 95.6,679.4 96.1,665 96.6,675.8 97.1,663.9 97.6,675.5 98.1,663.6 98.6,676.8 99.1,661.8 99.6,678 100.1,665.9 100.6,676.5 101.1,665 101.6,675.3 102.1,662.7 102.6,677.2 103.1,665.9 103.6,675.3 104.1,662.2 104.6,676.9 105.1,664.7 105.6,674.5 106.1,663.5 106.6,678.4 107.1,661.5 107.6,677 108.1,662.2 108.6,676.6 109.1,662.6 109.6,678 110.1,665.3 110.6,677.4 111.1,662.8 111.6,676.1 112.1,666.7 112.6,674.1 113.1,667.2 113.6,673.2 114.1,668 114.6,675.1 115.1,665.6 115.6,676.6 116.1,664.9 116.6,676.1 117.1,663.3 117.6,675.6 118.1,667.2 118.6,674.7 119.1,666.7 119.6,674.5 120.1,666.1 120.6,675.8 121.1,665.2 121.6,676.2 122.1,664.9 122.6,675.8 123.1,664 123.6,676.7 124.1,666.6 124.6,673.7 125.1,668.1 125.6,673.6 126.1,666.4 126.6,675.9 127.1,667.1 127.6,675.7 128.1,665.8 128.6,677.8 129.1,663.9 129.6,675.9 130.1,665.2 130.6,676.1 131.1,667.7 131.6,675 132.1,663.9 132.6,675.7 133.1,666 133.6,675.6 134.1,667.6 134.6,676.3 135.1,666.8 135.6,676.9 136.1,666.5 136.6,675 137.1,663.7 137.6,677.3 138.1,664 138.6,675.6 139.1,663.1 139.6,679 140.1,664.5 140.6,676 141.1,663.4 141.6,678.7 142.1,666.3 142.6,674.7 143.1,665.5 143.6,675.8 144.1,664.1 144.6,679.1 145.1,662.3 145.6,680.1 146.1,664.7 146.6,678.1 147.1,662.1 147.6,675.9 148.1,665.2 148.6,673.6 149.1,665.4 149.6,675.2 150.1,663.9 150.6,677.3 151.1,665.5 151.6,677.1 152.1,662.6 152.6,675.9 153.1,662.9 153.6,676.8 154.1,665.2 154.6,673.1 155.1,667.4 155.6,677.5 156.1,665.6 156.6,678.3 157.1,661 157.6,675.9 158.1,665.5 158.6,673.7 159.1,663.4 159.6,675.7 160.1,662.4 160.6,678.7 161.1,663.1 161.6,679.7 162.1,660.6 162.6,676.2 163.1,663.7 163.7,676.1 164.2,664.2 164.7,680.6 165.2,665.1 165.7,674.7 166.2,666.4 166.7,677.3 167.2,663.9 167.7,677.7 168.2,665.4 168.7,676.6 169.2,662.4 169.7,676.6 170.2,662.3 170.7,677.6 171.2,667.4 171.7,676.1 172.2,666.8 172.7,674.2 173.2,666 173.7,675.5 174.2,664.3 174.7,675.2 175.2,663.6 175.7,678.3 176.2,661.4 176.7,680.3 177.2,662.9 177.7,679.7 178.2,662.4 178.7,675.3 179.2,663.5 179.7,674 180.2,664.6 180.7,677.9 181.2,663.8 181.7,675.8 182.2,667.4 182.7,675.7 183.2,665.3 183.7,676 184.2,667.3 184.7,675.8 185.2,667.2 185.7,674.8 186.2,666 186.7,675.4 187.2,664.5 187.7,675 188.2,665.8 188.7,674.2 189.2,665.9 189.7,675.7 190.2,666.7 190.7,675.5 191.2,666 191.7,676.5 192.2,664.1 192.7,675.1 193.2,663.3 193.7,674.9 194.2,663.4 194.7,676.4 195.2,666.1 195.7,674 196.2,661.9 196.7,677.1 197.2,667.6 197.7,673.6 198.2,668 198.7,677.4 199.2,663 199.7,676.5 200.2,667 200.7,676.2 201.2,666.7 201.7,673.6 202.2,667.3 202.7,674 203.2,667.3 203.7,673.8 204.2,665.8 204.7,675.6 205.2,665.4 205.7,677.6 206.2,665.5 206.7,677.8 207.2,665.8 207.7,674.5 208.2,665.7 208.7,674.2 209.2,666.1 209.7,674.8 210.2,664.9 210.7,675.2 211.2,664.6 211.7,677.3 212.2,667 212.7,677.4 213.2,665.4 213.7,674.6 214.2,664.5 214.7,675.2 215.2,667.4 215.7,675.2 216.2,668.2 216.7,676.1 217.2,665.2 217.7,673.4 218.2,666.3 218.7,674.4 219.2,664.3 219.7,676.4 220.2,666.3 220.7,676.5 221.2,667.7 221.7,673.8 222.2,667.1 222.7,673.2 223.2,664.6 223.7,673.9 224.2,667.2 224.7,675.5 225.2,666.7 225.7,675.5 226.2,665.4 226.7,676.1 227.2,667.5 227.7,674.4 228.2,666.7 228.7,674.4 229.2,667.2 229.7,675.6 230.2,665.8 230.7,676.9 231.2,667.8 231.7,674.9 232.2,668.3 232.7,675.1 233.2,665.2 233.7,673.3 234.2,666.3 234.7,673.9 235.2,664.6 235.7,675.5 236.2,664.9 236.7,675.7 237.2,665 237.7,675.8 238.2,667.1 238.7,674.7 239.2,664.7 239.7,676.1 240.2,667.1 240.7,675 241.2,665.4 241.7,673.5 242.2,667 242.7,673.9 243.2,665.3 243.7,674.4 244.2,667.8 244.7,674.2 245.2,665.8 245.7,676.4 246.2,665.2 246.7,678.2 247.2,665.8 247.7,675.7 248.2,667.1 248.7,673.7 249.2,666.5 249.7,675.5 250.2,664.6 250.7,676.4 251.2,662.2 251.7,675.5 252.2,664.3 252.7,675.3 253.2,666.2 253.7,675.6 254.2,666.3 254.7,674.4 255.2,664.7 255.7,674.8 256.2,661.5 256.7,677.6 257.2,665.4 257.7,674.3 258.2,666.7 258.7,674.8 259.2,665.5 259.7,675.5 260.2,664.9 260.7,674.8 261.2,665.7 261.7,674.2 262.2,666.5 262.7,676.8 263.2,666.4 263.7,676.1 264.2,663.9 264.7,673.9 265.2,664.1 265.7,678.5 266.2,661.4 266.7,676 267.2,665.4 267.7,675.2 268.2,666.9 268.7,675.7 269.2,666.7 269.7,673 270.2,666 270.7,674.1 271.2,666.3 271.7,674.8 272.2,664.7 272.7,674.9 273.2,668.4 273.7,675 274.2,668.4 274.7,675.4 275.2,665.4 275.7,674.7 276.2,664.3 276.7,674.6 277.2,666.8 277.7,675.9 278.2,666.4 278.7,675.3 279.2,667.7 279.7,673.4 280.2,665.5 280.7,676.1 281.2,665.6 281.7,675.8 282.2,664.6 282.7,675.1 283.2,665.6 283.7,673.4 284.3,666 284.8,674.3 285.3,666.8 285.8,674.5 286.3,664 286.8,674.3 287.3,665.7 287.8,675.5 288.3,667.6 288.8,674.2 289.3,668.5 289.8,675.4 290.3,665.4 290.8,677.3 291.3,667.7 291.8,674.6 292.3,666.4 292.8,677.3 293.3,665.6 293.8,677.8 294.3,666.8 294.8,678.1 295.3,666.1 295.8,674.4 296.3,665.7 296.8,674.5 297.3,666.3 297.8,675.5 298.3,664.5 298.8,676.9 299.3,666 299.8,674.2 300.3,667.2 300.8,675 301.3,665.8 301.8,675.7 302.3,666.2 302.8,672.9 303.3,665.8 303.8,673.2 304.3,664.8 304.8,677.3 305.3,664.7 305.8,675.1 306.3,666 306.8,674.9 307.3,667.4 307.8,673.6 308.3,667.7 308.8,673.9 309.3,666.2 309.8,679.2 310.3,665.1 310.8,676.1 311.3,665.8 311.8,675.1 312.3,666.4 312.8,676.7 313.3,664.7 313.8,674.9 314.3,665.2 314.8,675.5 315.3,667 315.8,675.6 316.3,664.8 316.8,677.4 317.3,665 317.8,674.6 318.3,659.4 318.8,680.9 319.3,661.3 319.8,676.7 320.3,662.9 320.8,674.1 321.3,665.8 321.8,676 322.3,666.5 322.8,675.1 323.3,666.7 323.8,674.3 324.3,665.7 324.8,675.2 325.3,667.2 325.8,674.5 326.3,665.6 326.8,675.4 327.3,665.1 327.8,674 328.3,665.9 328.8,675.4 329.3,665.9 329.8,673.2 330.3,666.4 330.8,673.8 331.3,666.3 331.8,675.3 332.3,667.6 332.8,676.2 333.3,665.9 333.8,675.8 334.3,665.7 334.8,675.4 335.3,665.5 335.8,674.8 336.3,664.2 336.8,677 337.3,665.4 337.8,677.5 338.3,663.4 338.8,676.5 339.3,665.5 339.8,676 340.3,664.8 340.8,675.4 341.3,667.8 341.8,674.2 342.3,665.9 342.8,677.3 343.3,664 343.8,674.5 344.3,666.4 344.8,673.9 345.3,667.6 345.8,675.3 346.3,665.4 346.8,676.9 347.3,659.6 347.8,674.6 348.3,663 348.8,676.3 349.3,664.9 349.8,676.1 350.3,665 350.8,674.6 351.3,665.3 351.8,674.6 352.3,665.8 352.8,674.1 353.3,666.1 353.8,674.7 354.3,667.1 354.8,675.8 355.3,664.9 355.8,675.6 356.3,667.1 356.8,676.3 357.3,664.3 357.8,677.3 358.3,664.2 358.8,677.2 359.3,665.8 359.8,677.3 360.3,665.8 360.8,676.5 361.3,667.1 361.8,676.8 362.3,667.6 362.8,677.2 363.3,665.9 363.8,676.2 364.3,665.1 364.8,674.6 365.3,666.5 365.8,675.2 366.3,666.2 366.8,677.1 367.3,665.3 367.8,675.7 368.3,666.7 368.8,675 369.3,666.5 369.8,675.3 370.3,664.7 370.8,674.9 371.3,664.5 371.8,675.8 372.3,665.7 372.8,675.9 373.3,666 373.8,674 374.3,668.3 374.8,674.6 375.3,662.7 375.8,676.6 376.3,664.4 376.8,674.3 377.3,666.2 377.8,673.5 378.3,665.3 378.8,677 379.3,661.9 379.8,678.7 380.3,662.3 380.8,678.2 381.3,664 381.8,677.8 382.3,665.3 382.8,677 383.3,662.1 383.8,675.8 384.3,667 384.8,676 385.3,666.3 385.8,678.7 386.3,657 386.8,679 387.3,662.6 387.8,675.3 388.3,661.9 388.8,675.9 389.3,667.4 389.8,673.9 390.3,666.2 390.8,678.9 391.3,662 391.8,677.1 392.3,665.5 392.8,677.9 393.3,666.3 393.8,674.3 394.3,666.3 394.8,674.8 395.3,664.5 395.8,675.9 396.3,665.7 396.8,676.8 397.3,663.4 397.8,676.1 398.3,661.7 398.8,678 399.3,662.5 399.8,673.9 400.3,664.4 400.8,675.6 401.3,666.8 401.8,677.3 402.3,660.9 402.8,679.4 403.3,662.2 403.8,675.9 404.3,665.8 404.9,677.7 405.4,661.3 405.9,676.4 406.4,661.7 406.9,680 407.4,662.8 407.9,678.9 408.4,663.9 408.9,678.3 409.4,662.6 409.9,677.1 410.4,666.5 410.9,678 411.4,666.1 411.9,676.4 412.4,664.7 412.9,676.4 413.4,665.4 413.9,675.4 414.4,662 414.9,676.9 415.4,659.7 415.9,687.2 416.4,656.9 416.9,687.9 417.4,655.9 417.9,676.9 418.4,658.9 418.9,677.6 419.4,653.9 419.9,678.9 420.4,661.6 420.9,677 421.4,664.2 421.9,676.7 422.4,664 422.9,675.9 423.4,665.7 423.9,676.3 424.4,666.1 424.9,679.3 425.4,664.6 425.9,675.9 426.4,665.8 426.9,676.3 427.4,666.7 427.9,675.4 428.4,668.9 428.9,673.9 429.4,667.1 429.9,675.7 430.4,666 430.9,675.7 431.4,658.6 431.9,679.4 432.4,665.1 432.9,675.9 433.4,665.4 433.9,674.2 434.4,665.7 434.9,674.4 435.4,663.3 435.9,674.7 436.4,665.7 436.9,675.7 437.4,663.3 437.9,678.9 438.4,663.7 438.9,677.8 439.4,663.2 439.9,675.3 440.4,664.1 440.9,675.1 441.4,663.6 441.9,680.2 442.4,665 442.9,678.9 443.4,666 443.9,676.7 444.4,664.6 444.9,675.9 445.4,667 445.9,673.4 446.4,663.9 446.9,675.6 447.4,663.1 447.9,676.3 448.4,665.1 448.9,675.4 449.4,662.9 449.9,676.4 450.4,666.3 450.9,674.6 451.4,666 451.9,673.1 452.4,663.2 452.9,676 453.4,663.7 453.9,674.5 454.4,667.7 454.9,673.4 455.4,666.1 455.9,676 456.4,664.9 456.9,676.2 457.4,665.5 457.9,677.5 458.4,663.5 458.9,675.1 459.4,662.8 459.9,675.6 460.4,664.9 460.9,676.2 461.4,666.2 461.9,674.3 462.4,667.7 462.9,676.1 463.4,666.8 463.9,675.8 464.4,666.5 464.9,676.2 465.4,665.8 465.9,673.9 466.4,666.6 466.9,672.7 467.4,666.3 467.9,675.9 468.4,666 468.9,675.1 469.4,664.5 469.9,674 470.4,666.8 470.9,675.7 471.4,666.9 471.9,673.1 472.4,665.2 472.9,674.5 473.4,667 473.9,676.8 474.4,665.7 474.9,676.6 475.4,665.9 475.9,674.4 476.4,664.4 476.9,673.3 477.4,664.9 477.9,674.7 478.4,665.8 478.9,673.7 479.4,667.6 479.9,674.2 480.4,665.4 480.9,675.2 481.4,667.2 481.9,673.9 482.4,665.1 482.9,675.3 483.4,667.1 483.9,674.6 484.4,664.3 484.9,673.4 485.4,664.4 485.9,674.2 486.4,665.9 486.9,675.5 487.4,668.3 487.9,675.9 488.4,664.3 488.9,674.2 489.4,666.2 489.9,675.4 490.4,664.9 490.9,676 491.4,666.6 491.9,674.9 492.4,667.1 492.9,674.8 493.4,667.9 493.9,675.1 494.4,664.4 494.9,675.9 495.4,664.7 495.9,674.7 496.4,666.6 496.9,675.2 497.4,666.9 497.9,673.4 498.4,665.8 498.9,674.5 499.4,667.5 499.9,674.7 500.4,664.9 500.9,674.6 501.4,666.3 501.9,676.1 502.4,668 502.9,674.5 503.4,667.3 503.9,672.8 504.4,665.4 504.9,675.5 505.4,663 505.9,677.9 506.4,664.4 506.9,674.7 507.4,666.3 507.9,674.6 508.4,666.4 508.9,674.3 509.4,666.3 509.9,674.2 510.4,665.7 510.9,674.3 511.4,668 511.9,674.5 512.4,666.1 512.9,675.2 513.4,667.9 513.9,674.8 514.4,666.8 514.9,674.3 515.4,665.6 515.9,675.2 516.4,667.2 516.9,673.8 517.4,665.5 517.9,672.8 518.4,665.7 518.9,673.6 519.4,667.4 519.9,674.9 520.4,667.5 520.9,673.4 521.4,666.6 521.9,674.6 522.4,665 522.9,674.1 523.4,666.6 523.9,673.9 524.4,667.8 524.9,674 525.5,665.2 526,674.5 526.5,667.8 527,673.8 527.5,666.1 528,675.2 528.5,666.1 529,674.5 529.5,665.8 530,674.6 530.5,664.6 531,675.5 531.5,665.8 532,675.6 532.5,666.8 533,675.2 533.5,666.7 534,677.4 534.5,665.6 535,674.7 535.5,665.3 536,674.3 536.5,666.2 537,674.3 537.5,667.3 538,674.5 538.5,667.1 539,673.1 539.5,666.6 540,674.3 540.5,666 541,675 541.5,666.5 542,675.9 542.5,667.4 543,674.5 543.5,667.3 544,675.1 544.5,666.4 545,675.4 545.5,667 546,673.9 546.5,665.4 547,674.1 547.5,665.7 548,674 548.5,667.7 549,674.4 549.5,663.7 550,674.7 550.5,663.9 551,674 551.5,666.3 552,673.9 552.5,665.8 553,675.8 553.5,663.5 554,677.2 554.5,665.4 555,674.3 555.5,665.5 556,675.3 556.5,665.2 557,674.8 557.5,668.4 558,674.6 558.5,667.7 559,674.3 559.5,667 560,674.4 560.5,666.7 561,674 561.5,666.9 562,675.5 562.5,666.7 563,675.6 563.5,665.7 564,676 564.5,664.8 565,675.3 565.5,666.8 566,675 566.5,667 567,675.1 567.5,664.9 568,676.7 568.5,665.1 569,675.1 569.5,665.6 570,673.4 570.5,665.8 571,673.9 571.5,666.7 572,674.6 572.5,666.8 573,676.2 573.5,665.3 574,674.5 574.5,664.8 575,677.7 575.5,668.1 576,673 576.5,666.3 577,674.5 577.5,665.5 578,675.9 578.5,667.4 579,674.6 579.5,665.8 580,674.2 580.5,665.3 581,674.8 581.5,667.1 582,674.1 582.5,667.8 583,675.1 583.5,665.9 584,676.2 584.5,665.8 585,675.4 585.5,663.7 586,677.2 586.5,664.9 587,673.2 587.5,665.7 588,675.6 588.5,664.4 589,673.2 589.5,665 590,673.4 590.5,666.9 591,674.2 591.5,666.6 592,674.1 592.5,666.7 593,674.7 593.5,664.1 594,674.5 594.5,665.7 595,675.2 595.5,664.2 596,675.6 596.5,666.9 597,673.7 597.5,666.9 598,673 598.5,666.8 599,674.5 599.5,666.5 600,676.1 600.5,666.9 601,675.4 601.5,664.3 602,675.2 602.5,666 603,675.3 603.5,665.4 604,677 604.5,666.3 605,674 605.5,666.9 606,674.5 606.5,667.3 607,676.1 607.5,665.5 608,675.6 608.5,667.1 609,674.5 609.5,666.6 610,674.2 610.5,666 611,673.7 611.5,665.9 612,674.7 612.5,666.4 613,676.5 613.5,667.5 614,674.3 614.5,665.1 615,673.6 615.5,665.1 616,675.4 616.5,664.8 617,675.5 617.5,666.5 618,675.9 618.5,667.5 619,674.4 619.5,665.4 620,674.9 620.5,668.4 621,675.5 621.5,666.8 622,675.7 622.5,663.3 623,675.6 623.5,665.6 624,674.3 624.5,668.3 625,675.1 625.5,666.5 626,675.6 626.5,666.6 627,674.7 627.5,664.7 628,673.5 628.5,663.5 629,673.9 629.5,665.6 630,675.1 630.5,666.2 631,675.8 631.5,667.1 632,675.7 632.5,665.7 633,675.9 633.5,663.9 634,674.8 634.5,667.3 635,673.6 635.5,667 636,673.6 636.5,667.6 637,674.7 637.5,666.6 638,674.2 638.5,666.7 639,673.8 639.5,666.3 640,674.3 640.5,665.6 641,675.2 641.5,667.1 642,673.8 642.5,667.1 643,674.6 643.5,668.1 644,674.7 644.5,668.2 645,672.9 645.5,667" fill="none" stroke="#00f" stroke-width="0.9" stroke-opacity="0.4" stroke-linejoin="bevel"/>
<polyline points="43,668 43.6,673.9 44.1,668.2 44.6,673.5 45.1,667.4 45.6,674.3 46.1,664.9 46.6,676.4 47.1,665.6 47.6,675.9 48.1,667.3 48.6,677.4 49.1,664.9 49.6,675.5 50.1,665.8 50.6,674.3 51.1,666.6 51.6,675.2 52.1,665.9 52.6,674.1 53.1,665.8 53.6,675.1 54.1,664.6 54.6,676.5 55.1,667 55.6,673.5 56.1,666.4 56.6,675 57.1,664.6 57.6,678 58.1,662 58.6,675.4 59.1,667.4 59.6,674 60.1,667.4 60.6,672.7 61.1,666.1 61.6,673.7 62.1,667.4 62.6,674.7 63.1,667 63.6,675 64.1,666.6 64.6,673.6 65.1,665.3 65.6,674.4 66.1,666.4 66.6,674.8 67.1,666.1 67.6,675 68.1,667.1 68.6,673.5 69.1,665.7 69.6,673.4 70.1,668.1 70.6,675.5 71.1,667.1 71.6,673.9 72.1,664.8 72.6,674.6 73.1,665.6 73.6,675.5 74.1,666.5 74.6,674.2 75.1,666.9 75.6,674.1 76.1,666.6 76.6,675 77.1,666 77.6,675.5 78.1,665.4 78.6,675.2 79.1,667.6 79.6,673.4 80.1,667 80.6,674.3 81.1,664.6 81.6,674.2 82.1,664.4 82.6,677 83.1,666.7 83.6,676.5 84.1,663.1 84.6,675.6 85.1,665.1 85.6,676.8 86.1,666.4 86.6,675.3 87.1,666.7 87.6,674.8 88.1,666.4 88.6,674.9 89.1,663 89.6,678.2 90.1,665 90.6,674.5 91.1,664.7 91.6,674.6 92.1,665.6 92.6,674.5 93.1,667.2 93.6,673.3 94.1,666 94.6,675.6 95.1,665.6 95.6,675.4 96.1,664 96.6,676 97.1,665.2 97.6,675.9 98.1,666 98.6,676.1 99.1,663.2 99.6,674.2 100.1,666 100.6,674.2 101.1,668.5 101.6,675.4 102.1,664.9 102.6,674.2 103.1,666.5 103.6,674 104.1,666.2 104.6,673.4 105.1,665.2 105.6,675.6 106.1,663.9 106.6,675.7 107.1,664.9 107.6,673.7 108.1,665.6 108.6,674.1 109.1,666.1 109.6,675.6 110.1,667.3 110.6,675 111.1,667.1 111.6,674.3 112.1,667.2 112.6,673.8 113.1,668.1 113.6,673.9 114.1,669.1 114.6,673.9 115.1,666.6 115.6,674.6 116.1,665.7 116.6,676.6 117.1,665 117.6,674.3 118.1,666.5 118.6,674.1 119.1,666.1 119.6,675 120.1,667.6 120.6,673.5 121.1,666.5 121.6,673.1 122.1,665.7 122.6,673.2 123.1,666.3 123.6,673.7 124.1,666.8 124.6,673.2 125.1,668.4 125.6,673.4 126.1,665.1 126.6,674.6 127.1,667.2 127.6,673.8 128.1,668 128.6,673.7 129.1,667.3 129.6,675.1 130.1,666.3 130.6,672.7 131.1,665.2 131.6,674 132.1,667.1 132.6,674 133.1,666.6 133.6,674 134.1,666.7 134.6,674 135.1,666.6 135.6,674.3 136.1,667.6 136.6,674.6 137.1,667.6 137.6,674.7 138.1,664.9 138.6,676.1 139.1,665.2 139.6,675.7 140.1,666.7 140.6,673.5 141.1,665.7 141.6,673.7 142.1,666.5 142.6,674.4 143.1,666.5 143.6,675.7 144.1,665 144.6,676.4 145.1,665 145.6,676.9 146.1,662.5 146.6,678.3 147.1,665.9 147.6,674.4 148.1,666.3 148.6,672.9 149.1,668.1 149.6,672.9 150.1,666.7 150.6,674.6 151.1,666.5 151.6,675.5 152.1,665.9 152.6,674.9 153.1,666.7 153.6,676.1 154.1,668.1 154.6,673.7 155.1,666.5 155.6,677.7 156.1,664 156.6,677.9 157.1,666.1 157.6,674.2 158.1,665.6 158.6,674.3 159.1,668.4 159.6,674.8 160.1,662.8 160.6,676.1 161.1,664.4 161.6,678.1 162.1,663.9 162.6,676.5 163.1,663.5 163.7,676.2 164.2,665.4 164.7,677.1 165.2,667.1 165.7,674.6 166.2,666.5 166.7,674.9 167.2,667.5 167.7,674.2 168.2,666.1 168.7,674.8 169.2,667 169.7,677.6 170.2,662.6 170.7,676 171.2,668 171.7,673.1 172.2,667.1 172.7,673.8 173.2,666.6 173.7,673.6 174.2,667.5 174.7,674.4 175.2,666 175.7,674.6 176.2,663.8 176.7,679 177.2,663.9 177.7,677.4 178.2,665.2 178.7,675.3 179.2,667.8 179.7,673.8 180.2,666.4 180.7,674.2 181.2,665.6 181.7,674.5 182.2,667.6 182.7,674.3 183.2,666.7 183.7,672.8 184.2,668.6 184.7,674.1 185.2,668.3 185.7,673.3 186.2,667.1 186.7,673.5 187.2,668.1 187.7,673.8 188.2,667.6 188.7,673.5 189.2,666.4 189.7,673.9 190.2,668.5 190.7,675.2 191.2,667 191.7,674.4 192.2,665.7 192.7,676 193.2,666.7 193.7,675.2 194.2,667.9 194.7,674.6 195.2,667.1 195.7,675 196.2,666.5 196.7,675 197.2,668.1 197.7,673.6 198.2,667.3 198.7,675 199.2,665.9 199.7,673.3 200.2,666.9 200.7,675 201.2,667.2 201.7,675 202.2,667.7 202.7,673 203.2,668.7 203.7,672.5 204.2,667.9 204.7,672.8 205.2,666.5 205.7,674.7 206.2,667.6 206.7,675.3 207.2,666.2 207.7,674.2 208.2,666.3 208.7,673.9 209.2,667.3 209.7,674.8 210.2,665.5 210.7,675.3 211.2,666.7 211.7,675 212.2,668.4 212.7,674.7 213.2,666.5 213.7,672.8 214.2,667.3 214.7,672.9 215.2,667.8 215.7,673.8 216.2,668.7 216.7,673.5 217.2,667.6 217.7,674.7 218.2,669 218.7,673.8 219.2,667.7 219.7,673.4 220.2,667.8 220.7,672.6 221.2,666 221.7,672.7 222.2,666.8 222.7,674.6 223.2,667.5 223.7,673.4 224.2,667.8 224.7,672.6 225.2,667 225.7,673.2 226.2,667.2 226.7,673.6 227.2,667.9 227.7,672.4 228.2,667.2 228.7,674 229.2,666.6 229.7,674.2 230.2,667.4 230.7,673.5 231.2,667.8 231.7,672.2 232.2,667.6 232.7,673.9 233.2,667.5 233.7,674.4 234.2,667.2 234.7,674.7 235.2,666.8 235.7,673.7 236.2,667.3 236.7,673.2 237.2,666.1 237.7,675.4 238.2,666.9 238.7,673.4 239.2,667.3 239.7,673.3 240.2,667.5 240.7,674.1 241.2,667.7 241.7,673.7 242.2,667.2 242.7,674.3 243.2,668.4 243.7,673.2 244.2,668.2 244.7,673.6 245.2,666 245.7,675 246.2,666.8 246.7,675.4 247.2,667.9 247.7,674.6 248.2,666.8 248.7,672.3 249.2,667.5 249.7,674.1 250.2,666 250.7,675.5 251.2,666.7 251.7,674.6 252.2,667.4 252.7,675.5 253.2,666.6 253.7,674.7 254.2,668 254.7,673.4 255.2,666 255.7,675.1 256.2,667.2 256.7,674.5 257.2,666.8 257.7,674.8 258.2,667.3 258.7,673.8 259.2,668 259.7,673.1 260.2,667.1 260.7,674.6 261.2,667 261.7,674.1 262.2,666.3 262.7,674.3 263.2,666.5 263.7,674.3 264.2,665.8 264.7,674.1 265.2,666.1 265.7,677.2 266.2,664.2 266.7,675.7 267.2,668.2 267.7,673.3 268.2,667.6 268.7,673.7 269.2,667.8 269.7,672.6 270.2,668.1 270.7,673.5 271.2,668.7 271.7,674.5 272.2,667.7 272.7,674.1 273.2,667.1 273.7,673.8 274.2,667.7 274.7,673.5 275.2,665.7 275.7,674.3 276.2,666.8 276.7,674.7 277.2,667 277.7,673.2 278.2,667.2 278.7,674.3 279.2,667.5 279.7,674.5 280.2,667.5 280.7,674.2 281.2,667.3 281.7,673.4 282.2,666.9 282.7,673.8 283.2,666.9 283.7,673.7 284.3,667.4 284.8,672.7 285.3,667.4 285.8,674.4 286.3,667.3 286.8,674.2 287.3,666.1 287.8,675 288.3,667.7 288.8,673.5 289.3,667.6 289.8,673.8 290.3,665.8 290.8,674.9 291.3,667.2 291.8,674.6 292.3,668 292.8,674.4 293.3,666.5 293.8,675.2 294.3,665.7 294.8,675.3 295.3,666.4 295.8,673.8 296.3,667.9 296.8,673.4 297.3,666.6 297.8,675.4 298.3,665.2 298.8,673.8 299.3,667.3 299.8,673.7 300.3,666.5 300.8,673.6 301.3,667 301.8,673.4 302.3,668.5 302.8,674.2 303.3,669 303.8,674 304.3,665.5 304.8,673.3 305.3,667.9 305.8,674.1 306.3,667.5 306.8,673.7 307.3,667.8 307.8,673.4 308.3,667.7 308.8,674.3 309.3,665.6 309.8,673.6 310.3,664.8 310.8,673.8 311.3,666.9 311.8,674.4 312.3,665.7 312.8,673.9 313.3,667.1 313.8,675.2 314.3,667.4 314.8,674.5 315.3,666.7 315.8,674 316.3,666.1 316.8,673.2 317.3,666.5 317.8,675.5 318.3,664.3 318.8,677.8 319.3,661.5 319.8,679.2 320.3,666.2 320.8,676.6 321.3,667.6 321.8,674.2 322.3,667.2 322.8,672.5 323.3,668.5 323.8,675.2 324.3,666.5 324.8,673.3 325.3,668.2 325.8,674.5 326.3,668.1 326.8,674.3 327.3,667.3 327.8,673.8 328.3,667.2 328.8,674.4 329.3,666.3 329.8,674.2 330.3,667.7 330.8,674.8 331.3,666.9 331.8,674.1 332.3,668.6 332.8,673.4 333.3,669 333.8,674.4 334.3,667.3 334.8,673 335.3,668.1 335.8,674.9 336.3,666.7 336.8,674.4 337.3,667.8 337.8,673.8 338.3,665.8 338.8,674.8 339.3,666.2 339.8,673.6 340.3,669.1 340.8,672.9 341.3,668.4 341.8,673.6 342.3,665.4 342.8,676.3 343.3,665.7 343.8,674.1 344.3,668.1 344.8,673.6 345.3,668.8 345.8,674.8 346.3,666 346.8,674.1 347.3,665.5 347.8,674.3 348.3,665.5 348.8,673 349.3,666.1 349.8,673.6 350.3,666.8 350.8,674 351.3,667.6 351.8,673.8 352.3,666.7 352.8,674.2 353.3,666.9 353.8,672.6 354.3,666.1 354.8,674.8 355.3,667 355.8,675.3 356.3,666.7 356.8,673.3 357.3,666.7 357.8,672.9 358.3,667.2 358.8,673.7 359.3,666 359.8,675.1 360.3,666.8 360.8,674.1 361.3,666.7 361.8,674 362.3,665.9 362.8,674.7 363.3,665.9 363.8,675.2 364.3,666.3 364.8,673.6 365.3,666.9 365.8,675.1 366.3,666.5 366.8,674.2 367.3,665.7 367.8,673.6 368.3,665.7 368.8,674.2 369.3,668.2 369.8,673.3 370.3,668 370.8,672.7 371.3,666.8 371.8,672.9 372.3,666.6 372.8,673.7 373.3,667.1 373.8,672.7 374.3,668.7 374.8,673.6 375.3,666.3 375.8,675.4 376.3,665.2 376.8,675 377.3,666.2 377.8,672.8 378.3,664.8 378.8,675.6 379.3,667.1 379.8,675.4 380.3,667 380.8,675.3 381.3,666.8 381.8,674 382.3,664.3 382.8,673.8 383.3,666.2 383.8,674.3 384.3,667.2 384.8,673.4 385.3,666.7 385.8,675.3 386.3,664.2 386.8,678.1 387.3,665.3 387.8,675.8 388.3,666.8 388.8,673.8 389.3,666.7 389.8,673 390.3,665.8 390.8,674.9 391.3,665 391.8,677.8 392.3,665.3 392.8,674.6 393.3,668 393.8,673.6 394.3,666.4 394.8,674.9 395.3,668.2 395.8,676.4 396.3,668 396.8,673.5 397.3,666.9 397.8,675.4 398.3,664.9 398.8,674.8 399.3,665.2 399.8,674.8 400.3,666.7 400.8,673.2 401.3,665.5 401.8,674.2 402.3,663.2 402.8,678.5 403.3,666 403.8,675.5 404.3,665.9 404.9,674.1 405.4,664.9 405.9,675.4 406.4,660.8 406.9,676.7 407.4,664.4 407.9,676.2 408.4,666.6 408.9,676.9 409.4,666.4 409.9,676.6 410.4,666.8 410.9,674.3 411.4,667.3 411.9,673.2 412.4,668.1 412.9,674.9 413.4,664.3 413.9,676.5 414.4,663.5 414.9,676.3 415.4,661.9 415.9,678.9 416.4,657.9 416.9,681.6 417.4,665.4 417.9,677.4 418.4,663.2 418.9,675.7 419.4,658 419.9,681 420.4,663.1 420.9,674 421.4,667.2 421.9,673 422.4,666.1 422.9,674.7 423.4,667 423.9,675.2 424.4,664.4 424.9,675.9 425.4,664.2 425.9,674.9 426.4,665.9 426.9,674.5 427.4,666.1 427.9,673 428.4,668.7 428.9,673.1 429.4,668 429.9,675.6 430.4,667.3 430.9,675.2 431.4,663.9 431.9,677.5 432.4,664.2 432.9,675.5 433.4,666.8 433.9,672.6 434.4,667.7 434.9,674.4 435.4,666.5 435.9,673.8 436.4,667.6 436.9,675.2 437.4,662.4 437.9,676.6 438.4,663.4 438.9,675.7 439.4,664.7 439.9,675.3 440.4,665.6 440.9,675.6 441.4,665.9 441.9,676.8 442.4,663.8 442.9,676.1 443.4,668.5 443.9,673.2 444.4,666.4 444.9,673.3 445.4,666.7 445.9,674.5 446.4,667.2 446.9,674.3 447.4,666.7 447.9,675.4 448.4,664.5 448.9,676.1 449.4,666.3 449.9,674.9 450.4,667.1 450.9,672.8 451.4,668.1 451.9,672.8 452.4,666.6 452.9,674.8 453.4,667.1 453.9,674.6 454.4,668.7 454.9,673 455.4,665.1 455.9,675 456.4,666.5 456.9,674.3 457.4,667.5 457.9,673.3 458.4,667.8 458.9,674.8 459.4,666.2 459.9,674.5 460.4,666.9 460.9,674.6 461.4,666.1 461.9,674.7 462.4,667.3 462.9,674.3 463.4,667.6 463.9,674.3 464.4,668.4 464.9,673.2 465.4,668.1 465.9,674.6 466.4,668.5 466.9,673.4 467.4,668.4 467.9,673.4 468.4,668.2 468.9,673.5 469.4,667.5 469.9,674.7 470.4,667.4 470.9,674.3 471.4,665.5 471.9,672.7 472.4,667.4 472.9,673.5 473.4,666.9 473.9,674.1 474.4,666.6 474.9,673.4 475.4,668 475.9,672.9 476.4,667.4 476.9,673.7 477.4,667.6 477.9,674.2 478.4,667.2 478.9,673.1 479.4,667.9 479.9,673.5 480.4,668.7 480.9,673.1 481.4,667.7 481.9,674.7 482.4,668.2 482.9,673.6 483.4,668.1 483.9,673.8 484.4,667.3 484.9,674.4 485.4,667.4 485.9,674.9 486.4,668.2 486.9,674 487.4,667.3 487.9,674.1 488.4,667.6 488.9,673.9 489.4,667.6 489.9,673.1 490.4,667.3 490.9,674 491.4,666.8 491.9,673.5 492.4,667.8 492.9,672.2 493.4,668.1 493.9,672.4 494.4,668 494.9,673.2 495.4,666.4 495.9,675.4 496.4,666.2 496.9,674.4 497.4,667.7 497.9,673.8 498.4,667.5 498.9,674.2 499.4,668.1 499.9,674 500.4,666.7 500.9,673.8 501.4,667.4 501.9,673.3 502.4,668.2 502.9,673.1 503.4,667.6 503.9,673.3 504.4,667 504.9,674.9 505.4,663.7 505.9,676.3 506.4,667.4 506.9,673.2 507.4,667.6 507.9,673.3 508.4,667.5 508.9,673.5 509.4,667.6 509.9,673.4 510.4,666.8 510.9,674.6 511.4,668.3 511.9,674.1 512.4,666.9 512.9,672.5 513.4,666.9 513.9,672.7 514.4,668.6 514.9,673.4 515.4,666.2 515.9,673.8 516.4,667.2 516.9,674.6 517.4,667.8 517.9,673.8 518.4,667.6 518.9,673.5 519.4,667.8 519.9,672.3 520.4,667.8 520.9,673.1 521.4,667.5 521.9,674.8 522.4,666.6 522.9,674.8 523.4,666.1 523.9,673.8 524.4,667.4 524.9,672.4 525.5,667.1 526,673.5 526.5,668.6 527,672.9 527.5,667.6 528,673 528.5,666.9 529,673.6 529.5,667.1 530,673.9 530.5,666.9 531,674.3 531.5,668.2 532,674.1 532.5,667.2 533,673.7 533.5,667.6 534,673.9 534.5,667.3 535,672.7 535.5,667.9 536,672.8 536.5,667.4 537,673 537.5,668 538,673.5 538.5,668.8 539,673.2 539.5,667.2 540,675.3 540.5,666.9 541,674.1 541.5,667.7 542,673.2 542.5,667.5 543,672.9 543.5,668.2 544,673.8 544.5,668.4 545,674.2 545.5,666.5 546,674.7 546.5,667.9 547,674.4 547.5,667.1 548,673.3 548.5,667.5 549,675 549.5,667.5 550,673.3 550.5,667.3 551,674.4 551.5,668 552,673.3 552.5,666.9 553,672.9 553.5,667 554,673.4 554.5,666.6 555,673.7 555.5,666.8 556,674.7 556.5,668.5 557,673.8 557.5,667.4 558,673.8 558.5,667.5 559,674.1 559.5,668.2 560,673.8 560.5,667.6 561,673.5 561.5,667.3 562,674 562.5,669 563,672.6 563.5,667.4 564,674.2 564.5,666.6 565,674.5 565.5,667.5 566,674.2 566.5,666.2 567,673.9 567.5,667.4 568,674.1 568.5,667.2 569,673.9 569.5,667.8 570,674.1 570.5,667.6 571,673 571.5,668.1 572,674.3 572.5,667.7 573,672.7 573.5,668.1 574,673.5 574.5,667.1 575,675.2 575.5,666.2 576,673.5 576.5,668.3 577,673.2 577.5,667.4 578,672.3 578.5,667.9 579,673.4 579.5,666.2 580,674.3 580.5,665.9 581,673.8 581.5,668.6 582,673.7 582.5,668.7 583,673 583.5,667.3 584,674.3 584.5,667.2 585,672.9 585.5,667 586,674.4 586.5,666.1 587,674.3 587.5,667.3 588,673.2 588.5,668.7 589,674.1 589.5,668.5 590,673.4 590.5,667.7 591,672.3 591.5,667.9 592,673.3 592.5,667.5 593,674.6 593.5,666.5 594,675.1 594.5,667.5 595,675.5 595.5,667 596,674 596.5,666.6 597,672.7 597.5,666.7 598,674.3 598.5,668.3 599,673.8 599.5,668.7 600,674.3 600.5,667.7 601,675.5 601.5,667.2 602,674.1 602.5,666.6 603,674 603.5,668.8 604,672.9 604.5,667.6 605,673 605.5,668.2 606,673.7 606.5,667.8 607,673 607.5,668.8 608,673.5 608.5,667.4 609,673.7 609.5,667.7 610,673.3 610.5,666.4 611,672.3 611.5,667.6 612,672.7 612.5,668.7 613,674.6 613.5,667.5 614,673.3 614.5,667.1 615,673.3 615.5,668 616,673.7 616.5,667.9 617,674.4 617.5,668.5 618,673.4 618.5,666.8 619,673.5 619.5,667.6 620,673.7 620.5,668.3 621,673.3 621.5,667.4 622,673.1 622.5,665.7 623,673.6 623.5,668.3 624,673.1 624.5,667.6 625,672.9 625.5,668 626,673.3 626.5,667.4 627,673.5 627.5,668.4 628,672.7 628.5,668 629,674.5 629.5,668.5 630,673.8 630.5,667.3 631,673.1 631.5,667.1 632,674.7 632.5,667.8 633,673.3 633.5,667.6 634,673.9 634.5,668.5 635,672.3 635.5,668.3 636,674 636.5,668.9 637,673.5 637.5,669 638,673.3 638.5,667 639,672.4 639.5,667.7 640,673 640.5,667.3 641,673.2 641.5,668.7 642,674 642.5,667.8 643,673.5 643.5,668.6 644,673.6 644.5,667.7 645,673.3 645.5,666.5" fill="none" stroke="#00f" stroke-width="1.0" stroke-opacity="0.55" stroke-linejoin="bevel"/>
<path d="M43,665.4 44.1,666.3 45.1,666.3 46.1,666.3 47.1,665.7 48.1,666.1 49.1,667 50.1,666.4 51.1,666.5 52.1,665.8 53.1,666.8 54.1,664.4 55.1,664.5 56.1,664.9 57.1,665.1 58.1,666.8 59.1,666.7 60.1,667.3 61.1,667 62.1,665.6 63.1,666.2 64.1,667.1 65.1,665.4 66.1,665.7 67.1,666.4 68.1,665.7 69.1,665.6 70.1,667.7 71.1,667 72.1,666.3 73.1,666.2 74.1,666.6 75.1,663.8 76.1,666.3 77.1,667.2 78.1,664.6 79.1,666 80.1,667.9 81.1,665.6 82.1,666.8 83.1,666.6 84.1,664.6 85.1,666.7 86.1,666.7 87.1,666.6 88.1,664.8 89.1,666.1 90.1,666.5 91.1,665 92.1,665.6 93.1,665.8 94.1,665.7 95.1,667.3 96.1,664.2 97.1,664.2 98.1,666.8 99.1,665.5 100.1,665.2 101.1,668 102.1,667.4 103.1,663.8 104.1,666.1 105.1,666.5 106.1,667.9 107.1,666.5 108.1,666.4 109.1,665.7 110.1,665 111.1,666.3 112.1,666.9 113.1,667 114.1,665.6 115.1,667.3 116.1,665.9 117.1,664.4 118.1,666.9 119.1,667.4 120.1,666.3 121.1,667.6 122.1,665.9 123.1,666.9 124.1,664.8 125.1,665.3 126.1,667.7 127.1,666.1 128.1,665.9 129.1,666.4 130.1,666.8 131.1,667.1 132.1,665.4 133.1,666.8 134.1,667.7 135.1,667 136.1,667.4 137.1,668 138.1,665.4 139.1,666.6 140.1,667.6 141.1,667.3 142.1,667.5 143.1,667.6 144.1,665.3 145.1,664.2 146.1,667.1 147.1,665 148.1,665.4 149.1,664.8 150.1,666.5 151.1,665.6 152.1,666.7 153.1,665.7 154.1,666.4 155.1,666.8 156.1,666.3 157.1,665.7 158.1,665 159.1,663.9 160.1,664.9 161.1,666.5 162.1,666.4 163.1,667.7 164.2,667.5 165.2,666.5 166.2,665.5 167.2,666.3 168.2,666.7 169.2,667.5 170.2,667.8 171.2,664.3 172.2,668 173.2,667 174.2,667.1 175.2,668 176.2,665.2 177.2,667.1 178.2,666 179.2,666.1 180.2,665.4 181.2,666.1 182.2,666 183.2,666.5 184.2,666 185.2,664.9 186.2,668 187.2,666.4 188.2,666.5 189.2,667.3 190.2,667 191.2,665.4 192.2,667 193.2,667.6 194.2,664.4 195.2,667.9 196.2,665.4 197.2,665.4 198.2,666.2 199.2,667.5 200.2,666.4 201.2,666.5 202.2,663.9 203.2,666.9 204.2,666.1 205.2,665.3 206.2,665.3 207.2,666.9 208.2,664.3 209.2,665.7 210.2,666.8 211.2,664.5 212.2,664.2 213.2,664.8 214.2,663.3 215.2,665.2 216.2,665.1 217.2,666.4 218.2,665.2 219.2,663.8 220.2,666.9 221.2,665 222.2,665.3 223.2,666 224.2,665.2 225.2,666.2 226.2,665 227.2,664.7 228.2,665.9 229.2,663.8 230.2,666.6 231.2,665.2 232.2,666.8 233.2,666.1 234.2,664.8 235.2,667 236.2,663.6 237.2,667 238.2,667 239.2,667.3 240.2,666 241.2,666.6 242.2,663.7 243.2,664.3 244.2,667.7 245.2,665.1 246.2,665.4 247.2,665 248.2,665.2 249.2,664.7 250.2,665.1 251.2,665.7 252.2,664.2 253.2,664.4 254.2,666.8 255.2,665.5 256.2,665.4 257.2,665.2 258.2,666.9 259.2,666.3 260.2,667.1 261.2,666.3 262.2,664.9 263.2,665.7 264.2,667.1 265.2,664.3 266.2,664.4 267.2,666.3 268.2,666.8 269.2,665.3 270.2,663.8 271.2,666.9 272.2,665.6 273.2,665.4 274.2,665.5 275.2,666.8 276.2,663.3 277.2,667.1 278.2,664 279.2,665.6 280.2,665.9 281.2,666.8 282.2,667.4 283.2,666.4 284.3,663.1 285.3,664.3 286.3,665.4 287.3,666.6 288.3,665.6 289.3,665.9 290.3,666.3 291.3,663.5 292.3,665.4 293.3,665 294.3,665 295.3,666.6 296.3,666.4 297.3,665 298.3,667.7 299.3,664.4 300.3,665.5 301.3,664.1 302.3,666.5 303.3,666.3 304.3,666.8 305.3,665.9 306.3,666.3 307.3,663.7 308.3,666.1 309.3,664.7 310.3,663.9 311.3,666.2 312.3,665.1 313.3,666.1 314.3,665.3 315.3,665.8 316.3,665.7 317.3,667.2 318.3,665.2 319.3,667.7 320.3,667.1 321.3,666.8 322.3,665.9 323.3,664.6 324.3,664.9 325.3,666 326.3,665.9 327.3,667.4 328.3,665.3 329.3,665.8 330.3,665.4 331.3,664.2 332.3,665.6 333.3,667.7 334.3,664.7 335.3,665.6 336.3,664.3 337.3,667.4 338.3,666.1 339.3,665.5 340.3,665.1 341.3,664.4 342.3,667.7 343.3,664.1 344.3,665.7 345.3,663.8 346.3,664.7 347.3,666.4 348.3,664.5 349.3,667 350.3,665.7 351.3,666.2 352.3,665.2 353.3,666.6 354.3,665.8 355.3,666.6 356.3,665.9 357.3,664.2 358.3,665.3 359.3,663.6 360.3,664.9 361.3,667.4 362.3,665 363.3,665.3 364.3,666.4 365.3,665.6 366.3,667.4 367.3,666.8 368.3,665.2 369.3,666 370.3,665.3 371.3,663.9 372.3,665.8 373.3,665.8 374.3,666.4 375.3,665 376.3,667.8 377.3,667.8 378.3,666.4 379.3,665.1 380.3,666.5 381.3,666.8 382.3,666.8 383.3,666.1 384.3,664.4 385.3,666.3 386.3,665.8 387.3,667.4 388.3,665.6 389.3,667.9 390.3,665.7 391.3,666.6 392.3,665.8 393.3,665.4 394.3,667.9 395.3,664.6 396.3,666.4 397.3,667.7 398.3,665.4 399.3,667.7 400.3,665.1 401.3,666.1 402.3,666.2 403.3,665.2 404.3,664.5 405.4,667.9 406.4,663.7 407.4,667.6 408.4,667.6 409.4,667.9 410.4,667.5 411.4,666.5 412.4,666.6 413.4,666.7 414.4,667.1 415.4,665.7 416.4,665.1 417.4,665.5 418.4,665.7 419.4,666.2 420.4,665.2 421.4,664.4 422.4,667.7 423.4,666.4 424.4,666.6 425.4,666 426.4,667.7 427.4,666.1 428.4,667 429.4,665 430.4,665.4 431.4,667.9 432.4,667.3 433.4,663.6 434.4,666.2 435.4,666.7 436.4,666.7 437.4,664.5 438.4,664.9 439.4,666.3 440.4,664.8 441.4,667.4 442.4,665.9 443.4,667.7 444.4,664.9 445.4,665.6 446.4,667.8 447.4,665.7 448.4,664.9 449.4,664.8 450.4,665.8 451.4,665 452.4,663 453.4,665.1 454.4,664.6 455.4,665.5 456.4,663.3 457.4,665.1 458.4,667.4 459.4,665.2 460.4,663.7 461.4,664.8 462.4,666.2 463.4,665.3 464.4,665.9 465.4,665.2 466.4,667.2 467.4,665 468.4,664 469.4,664.9 470.4,667.4 471.4,667.4 472.4,666.1 473.4,664.4 474.4,666.2 475.4,666.2 476.4,664 477.4,666.2 478.4,666.1 479.4,665.2 480.4,666.1 481.4,663.2 482.4,664.5 483.4,665.2 484.4,667.4 485.4,663.3 486.4,662.4 487.4,665.8 488.4,665.6 489.4,664.6 490.4,664 491.4,665.5 492.4,664.6 493.4,665.3 494.4,665.5 495.4,666.3 496.4,665.3 497.4,666.9 498.4,665.2 499.4,667 500.4,663.4 501.4,664.8 502.4,665.9 503.4,664.4 504.4,665.6 505.4,666 506.4,664.1 507.4,665.3 508.4,665.5 509.4,665 510.4,665 511.4,665.9 512.4,665.1 513.4,667.2 514.4,664.4 515.4,663.2 516.4,664.4 517.4,663.4 518.4,667.4 519.4,662.7 520.4,666.5 521.4,664.2 522.4,664.4 523.4,667.4 524.4,665.7 525.5,664.3 526.5,666.8 527.5,664.2 528.5,664.6 529.5,665 530.5,663 531.5,664.1 532.5,663.1 533.5,667.4 534.5,662.3 535.5,663.1 536.5,667.4 537.5,662.3 538.5,665.4 539.5,664.2 540.5,665.5 541.5,662.5 542.5,666.1 543.5,666.5 544.5,664.3 545.5,664.4 546.5,665.7 547.5,666.2 548.5,664.6 549.5,666.9 550.5,665.2 551.5,664 552.5,663.8 553.5,663.5 554.5,665.5 555.5,663.7 556.5,666.6 557.5,663.6 558.5,664.4 559.5,664.3 560.5,666.2 561.5,664.6 562.5,665.6 563.5,664.1 564.5,664.6 565.5,665 566.5,663.9 567.5,663.9 568.5,665.7 569.5,665.6 570.5,665.7 571.5,663.9 572.5,665.3 573.5,666.5 574.5,664.5 575.5,664 576.5,665.9 577.5,664.4 578.5,664.1 579.5,665 580.5,667 581.5,663.4 582.5,664.1 583.5,667.3 584.5,666.5 585.5,664.2 586.5,665.3 587.5,663 588.5,666.1 589.5,665 590.5,665.4 591.5,666.8 592.5,667.1 593.5,666.2 594.5,666.9 595.5,663.5 596.5,665.9 597.5,666.8 598.5,664.5 599.5,664.7 600.5,663.5 601.5,664.5 602.5,666.5 603.5,665.2 604.5,665 605.5,664.7 606.5,662.5 607.5,665.2 608.5,662.5 609.5,666 610.5,665.2 611.5,666.4 612.5,665.6 613.5,665.5 614.5,663.1 615.5,665.8 616.5,664.5 617.5,667.3 618.5,664.7 619.5,667.3 620.5,666.6 621.5,663.2 622.5,666.2 623.5,663.5 624.5,665.7 625.5,664 626.5,666.4 627.5,666.3 628.5,664.5 629.5,665.5 630.5,667.3 631.5,664.8 632.5,665.4 633.5,663.5 634.5,664.2 635.5,664.5 636.5,666.4 637.5,666.1 638.5,665.2 639.5,663.3 640.5,666 641.5,665.3 642.5,665.5 643.5,664.3 644.5,662.2 645.5,662.2 L645.5,675.9 644.5,675.7 643.5,674.2 642.5,675.7 641.5,678.9 640.5,676.2 639.5,677.5 638.5,677.9 637.5,674.2 636.5,677.2 635.5,676.1 634.5,676.3 633.5,679.3 632.5,675.5 631.5,676.6 630.5,676.5 629.5,676.8 628.5,675.3 627.5,677.4 626.5,676 625.5,675.9 624.5,676.9 623.5,676.2 622.5,674.2 621.5,676.9 620.5,675.4 619.5,678 618.5,676.4 617.5,677.7 616.5,677.4 615.5,677.1 614.5,675.7 613.5,679 612.5,676 611.5,674.4 610.5,676.2 609.5,675.4 608.5,677.1 607.5,675.5 606.5,676 605.5,674.6 604.5,676.8 603.5,676.1 602.5,674.2 601.5,676.3 600.5,674.5 599.5,677.3 598.5,674.5 597.5,675.2 596.5,677.8 595.5,678.2 594.5,676.4 593.5,678.2 592.5,675 591.5,676.9 590.5,674.2 589.5,675.1 588.5,677.6 587.5,674.8 586.5,677.8 585.5,674.4 584.5,676.4 583.5,674.7 582.5,677.1 581.5,674.8 580.5,675.8 579.5,675 578.5,676.3 577.5,676.8 576.5,678.6 575.5,675.2 574.5,676.8 573.5,674.2 572.5,675.7 571.5,674.5 570.5,674.2 569.5,677.2 568.5,674.6 567.5,674.2 566.5,675.5 565.5,677.5 564.5,675.5 563.5,674.2 562.5,674.2 561.5,677.1 560.5,675.1 559.5,675.2 558.5,676.5 557.5,676.4 556.5,676.4 555.5,676 554.5,676.1 553.5,674.2 552.5,677.6 551.5,678 550.5,675.4 549.5,677.8 548.5,676.7 547.5,677.6 546.5,676.6 545.5,675.7 544.5,677.2 543.5,674.7 542.5,677.6 541.5,674.9 540.5,678.1 539.5,677.5 538.5,674.4 537.5,674.2 536.5,674.7 535.5,675.1 534.5,676 533.5,675.2 532.5,674.2 531.5,676.8 530.5,676.8 529.5,675.5 528.5,675.4 527.5,676.8 526.5,678.1 525.5,676 524.4,675.3 523.4,676.5 522.4,674.5 521.4,675.6 520.4,676 519.4,678.1 518.4,677.6 517.4,676.2 516.4,676.7 515.4,675.7 514.4,677.7 513.4,675.4 512.4,677.1 511.4,677.5 510.4,676.8 509.4,675 508.4,677.4 507.4,676 506.4,677.2 505.4,676.8 504.4,674.9 503.4,675.9 502.4,675 501.4,676.3 500.4,674.7 499.4,675.5 498.4,678.8 497.4,674.6 496.4,678.9 495.4,675 494.4,676.5 493.4,677.4 492.4,676 491.4,677.5 490.4,678.5 489.4,676 488.4,674.1 487.4,674.1 486.4,675.6 485.4,677 484.4,677.8 483.4,678.2 482.4,675.4 481.4,676.7 480.4,676.5 479.4,675.8 478.4,676.8 477.4,675.6 476.4,676.8 475.4,675.4 474.4,676.2 473.4,675.2 472.4,676.1 471.4,675.4 470.4,675.5 469.4,677.4 468.4,676.1 467.4,678.1 466.4,675.1 465.4,675 464.4,677.6 463.4,675.4 462.4,675.8 461.4,674.2 460.4,677.2 459.4,678.1 458.4,677.5 457.4,677.3 456.4,674 455.4,675.9 454.4,676.3 453.4,676.8 452.4,675.3 451.4,676.1 450.4,674.1 449.4,676.8 448.4,675.2 447.4,676 446.4,675.2 445.4,677.6 444.4,675 443.4,673.6 442.4,676.6 441.4,674.6 440.4,675.6 439.4,675.7 438.4,673.9 437.4,673.6 436.4,674.9 435.4,677.5 434.4,674.8 433.4,675.5 432.4,675.1 431.4,676.3 430.4,674.8 429.4,675.3 428.4,675.7 427.4,673.6 426.4,675.4 425.4,675.5 424.4,674.5 423.4,676.8 422.4,675.4 421.4,676.6 420.4,675.1 419.4,675.2 418.4,676 417.4,675.5 416.4,676.3 415.4,673.6 414.4,676.5 413.4,676.9 412.4,674.7 411.4,676 410.4,675.6 409.4,676.4 408.4,675.4 407.4,676 406.4,676.4 405.4,675.3 404.3,676.9 403.3,676.2 402.3,676.7 401.3,674.2 400.3,675 399.3,677.3 398.3,674.2 397.3,675.9 396.3,676.9 395.3,676.7 394.3,677.5 393.3,676 392.3,675.9 391.3,675.2 390.3,675.7 389.3,675.5 388.3,673.6 387.3,677.9 386.3,673.6 385.3,676.5 384.3,676.4 383.3,674.9 382.3,673.6 381.3,675.6 380.3,674.2 379.3,675.3 378.3,678 377.3,676 376.3,674.9 375.3,676.6 374.3,676.2 373.3,675 372.3,676.4 371.3,675.5 370.3,674.1 369.3,676.8 368.3,674.9 367.3,675.6 366.3,676 365.3,675.8 364.3,675.2 363.3,676 362.3,675.7 361.3,673.8 360.3,676.9 359.3,676.2 358.3,674.6 357.3,674.4 356.3,675.6 355.3,673.8 354.3,677.2 353.3,675 352.3,674.4 351.3,675.1 350.3,677.7 349.3,673.8 348.3,673.8 347.3,676 346.3,676.5 345.3,674.7 344.3,676.6 343.3,675.4 342.3,675.6 341.3,678 340.3,675.5 339.3,677.6 338.3,678.3 337.3,674.6 336.3,675.4 335.3,675.8 334.3,676 333.3,676.2 332.3,676.6 331.3,675.9 330.3,673.8 329.3,675.4 328.3,674.8 327.3,675.5 326.3,675.4 325.3,673.8 324.3,676.7 323.3,676.3 322.3,678.3 321.3,676.5 320.3,676.4 319.3,675.1 318.3,675.1 317.3,674.5 316.3,673.9 315.3,678 314.3,677.6 313.3,677.3 312.3,673.8 311.3,676.7 310.3,675.4 309.3,674.9 308.3,676 307.3,675.6 306.3,675.8 305.3,674.4 304.3,675.6 303.3,676.1 302.3,675.4 301.3,677.9 300.3,675.6 299.3,675.3 298.3,676.7 297.3,674.9 296.3,675.9 295.3,676.2 294.3,675.6 293.3,675.8 292.3,677.8 291.3,676.3 290.3,676 289.3,677.1 288.3,675.2 287.3,675.6 286.3,677.5 285.3,677.3 284.3,674.5 283.2,676.5 282.2,677.9 281.2,675.9 280.2,675.4 279.2,674.4 278.2,673.8 277.2,676.3 276.2,675.2 275.2,675.9 274.2,676.6 273.2,675.8 272.2,676.6 271.2,676.6 270.2,675.9 269.2,677.8 268.2,675.2 267.2,676.2 266.2,673.8 265.2,675.5 264.2,674.3 263.2,674.5 262.2,675.4 261.2,677.4 260.2,677.3 259.2,675.8 258.2,677.3 257.2,675.8 256.2,676.8 255.2,675.2 254.2,678.4 253.2,676.9 252.2,677 251.2,675.4 250.2,675.4 249.2,675.2 248.2,676 247.2,674.8 246.2,675.5 245.2,673.8 244.2,677 243.2,676.3 242.2,677.1 241.2,677.2 240.2,675.1 239.2,674.2 238.2,675.6 237.2,674.4 236.2,675.7 235.2,675.9 234.2,675.6 233.2,676.6 232.2,676.2 231.2,675.6 230.2,675.7 229.2,675 228.2,674.3 227.2,674.1 226.2,676.7 225.2,676.3 224.2,675.7 223.2,673.8 222.2,675.3 221.2,676.8 220.2,674.2 219.2,675.1 218.2,676 217.2,675.2 216.2,673.8 215.2,675.1 214.2,676.1 213.2,677.5 212.2,677.7 211.2,676.3 210.2,676 209.2,674.1 208.2,676.2 207.2,676.2 206.2,675.3 205.2,678 204.2,676.3 203.2,677 202.2,675.4 201.2,677.9 200.2,676.7 199.2,674.6 198.2,675.4 197.2,676.4 196.2,674.6 195.2,675 194.2,675.8 193.2,676.7 192.2,673.9 191.2,675.6 190.2,675.2 189.2,675.5 188.2,676.4 187.2,674.8 186.2,676.9 185.2,675.6 184.2,675.6 183.2,677.3 182.2,676.8 181.2,674.4 180.2,675.5 179.2,675.1 178.2,673.6 177.2,675.7 176.2,673.9 175.2,674.1 174.2,674.7 173.2,674.2 172.2,674.6 171.2,676.4 170.2,677.7 169.2,677.7 168.2,675.4 167.2,675.2 166.2,677 165.2,674.9 164.2,677 163.1,674.1 162.1,674 161.1,675.4 160.1,673.7 159.1,674.9 158.1,675.1 157.1,673.9 156.1,675.9 155.1,674.9 154.1,673.6 153.1,675.1 152.1,677.6 151.1,674.3 150.1,675 149.1,675.4 148.1,675.4 147.1,677.4 146.1,674.1 145.1,676.1 144.1,675.7 143.1,675.6 142.1,675 141.1,674.2 140.1,675.1 139.1,676.2 138.1,675.4 137.1,676.1 136.1,675.2 135.1,676 134.1,674.6 133.1,674.9 132.1,673.6 131.1,674.3 130.1,675.2 129.1,677 128.1,676.1 127.1,674.3 126.1,676.6 125.1,675.3 124.1,676 123.1,676.2 122.1,675.6 121.1,674.8 120.1,675.2 119.1,675 118.1,677.5 117.1,677.3 116.1,675.1 115.1,676.4 114.1,674.9 113.1,675 112.1,674.7 111.1,675.7 110.1,675.3 109.1,674.8 108.1,675.3 107.1,676.5 106.1,674.4 105.1,674.9 104.1,673.9 103.1,675 102.1,673.8 101.1,674.3 100.1,675.2 99.1,675.5 98.1,677.7 97.1,676.8 96.1,675.1 95.1,675.7 94.1,673.6 93.1,675.9 92.1,675.1 91.1,674.3 90.1,673.6 89.1,676.1 88.1,673.9 87.1,676 86.1,674.8 85.1,676.6 84.1,676.1 83.1,674.7 82.1,675.3 81.1,677.4 80.1,677.4 79.1,676 78.1,675.9 77.1,675.8 76.1,673.6 75.1,674.1 74.1,674.1 73.1,676.6 72.1,674.6 71.1,676.4 70.1,675.9 69.1,675.7 68.1,675.5 67.1,675.2 66.1,677.2 65.1,676.5 64.1,674.5 63.1,675.6 62.1,674.2 61.1,674.7 60.1,675.1 59.1,675.3 58.1,675 57.1,674.8 56.1,674.9 55.1,674.4 54.1,675.1 53.1,674.3 52.1,674.6 51.1,675.8 50.1,674.3 49.1,674.2 48.1,676.2 47.1,676.8 46.1,674.8 45.1,674 44.1,674.8 43,674.7Z" fill="#00f"/>
<path d="M141.7 670.8V701.1" stroke="#00f" stroke-width="1.0" stroke-opacity="0.42"/>
<path d="M200.7 634.6V810.6" stroke="#00f" stroke-width="1.0" stroke-opacity="0.42"/>
<path d="M200.7 641.6V680.1" stroke="#00f" stroke-width="1.3" stroke-opacity="0.8"/>
<path d="M256.7 670.8V708.6" stroke="#00f" stroke-width="1.0" stroke-opacity="0.42"/>
<path d="M285.5 670.8V706.9" stroke="#00f" stroke-width="1.0" stroke-opacity="0.42"/>
<path d="M319.5 642.2V715.6" stroke="#00f" stroke-width="1.0" stroke-opacity="0.42"/>
<path d="M319.5 644.5V683" stroke="#00f" stroke-width="1.4" stroke-opacity="0.9"/>
<path d="M319.5 682.4V699.9" stroke="#00f" stroke-width="1.0" stroke-opacity="0.3"/>
<path d="M403.6 670.8V702.8" stroke="#00f" stroke-width="1.0" stroke-opacity="0.42"/>
<path d="M420.8 647.5V767.5" stroke="#00f" stroke-width="1.0" stroke-opacity="0.42"/>
<path d="M438 650.9V706.9" stroke="#00f" stroke-width="1.0" stroke-opacity="0.42"/>
<path d="M456.3 655V711" stroke="#00f" stroke-width="1.0" stroke-opacity="0.42"/>
<path d="M456.3 670.8V692.3" stroke="#00f" stroke-width="1.0" stroke-opacity="0.4"/>
<path d="M464.1 656.2V705.1" stroke="#00f" stroke-width="1.0" stroke-opacity="0.42"/>
<path d="M521.6 655V709.8" stroke="#00f" stroke-width="1.0" stroke-opacity="0.42"/>
</g>
<text x="43" y="832.9" text-anchor="middle">00:00</text>
<text x="118.4" y="832.9" text-anchor="middle">03:00</text>
<text x="193.7" y="832.9" text-anchor="middle">06:00</text>
<text x="269" y="832.9" text-anchor="middle">09:00</text>
<text x="344.3" y="832.9" text-anchor="middle">12:00</text>
<text x="419.6" y="832.9" text-anchor="middle">15:00</text>
<text x="494.9" y="832.9" text-anchor="middle">18:00</text>
<text x="570.2" y="832.9" text-anchor="middle">21:00</text>
<text x="645.5" y="832.9" text-anchor="middle">00:00</text>
<text x="39.3" y="618.2" text-anchor="end">1</text>
<text x="39.3" y="647.3" text-anchor="end">0.5</text>
<text x="39.3" y="676.4" text-anchor="end">0</text>
<text x="39.3" y="705.6" text-anchor="end">-0.5</text>
<text x="39.3" y="734.7" text-anchor="end">-1</text>
<text x="39.3" y="763.8" text-anchor="end">-1.5</text>
<text x="39.3" y="793" text-anchor="end">-2</text>
<text x="39.3" y="822.1" text-anchor="end">-2.5</text>
<text x="9.7" y="716.2" text-anchor="middle" font-weight="bold" transform="rotate(-90 9.7 716.2)">Z (nT)</text>
<text x="344.3" y="847.6" text-anchor="middle" font-weight="bold">UT (hours)</text>
<rect x="836.4" y="46.3" width="603" height="204.2" fill="#00008f"/>
<g clip-path="url(#cs0)">
<g filter="url(#bl)">
<path d="M840.9,203.3 840.3,219.3 840,250.3 842,250.3 841.7,219.3 841.1,203.3Z" fill="#0000cc"/>
<path d="M840.8,217.3 840.2,234.3 840.2,250.3 841.8,250.3 841.8,234.3 841.2,217.3Z" fill="#0000ff"/>
<path d="M840.9,231.3 840.6,235.3 840.5,250.3 841.5,250.3 841.4,235.3 841.1,231.3Z" fill="#0033ff"/>
<path d="M845.1,116.3 844.4,182.3 843.5,227.3 843.5,250.3 846.7,250.3 846.7,227.3 845.8,182.3 845.1,116.3Z" fill="#0000cc"/>
<path d="M845,137.3 844.6,182.3 843.9,205.3 843.5,227.3 843.5,250.3 846.7,250.3 846.7,227.3 846.3,205.3 845.6,182.3 845.2,137.3Z" fill="#0000ff"/>
<path d="M845,157.3 845,169.3 845.2,169.3 845.2,157.3ZM845,184.3 844.5,190.3 844,205.3 843.6,228.3 843.6,250.3 846.6,250.3 846.6,228.3 846.2,205.3 845.7,190.3 845.2,184.3Z" fill="#0033ff"/>
<path d="M845,191.3 844.4,198.3 844,212.3 843.7,228.3 843.6,250.3 846.6,250.3 846.5,228.3 846.2,212.3 845.8,198.3 845.2,191.3Z" fill="#0066ff"/>
<path d="M844.9,198.3 844.4,205.3 843.9,221.3 843.7,250.3 846.5,250.3 846.3,221.3 845.8,205.3 845.3,198.3Z" fill="#0099ff"/>
<path d="M844.9,205.3 844.4,212.3 844,227.3 843.8,250.3 846.4,250.3 846.2,227.3 845.8,212.3 845.3,205.3Z" fill="#00ccff"/>
<path d="M845,212.3 844.5,217.3 844.1,227.3 844,250.3 846.2,250.3 846.1,227.3 845.7,217.3 845.2,212.3Z" fill="#00ffff"/>
<path d="M844.9,220.3 844.4,228.3 844.1,250.3 846.1,250.3 845.8,228.3 845.3,220.3Z" fill="#33ffcc"/>
<path d="M844.9,227.3 844.4,250.3 845.8,250.3 845.3,227.3Z" fill="#66ff99"/>
<path d="M845,244.3 844.7,250.3 845.5,250.3 845.2,244.3Z" fill="#99ff66"/>
<path d="M848.9,202.3 848.5,208.3 848,221.3 847.7,236.3 847.7,250.3 850.3,250.3 850.3,236.3 850,221.3 849.5,208.3 849.1,202.3Z" fill="#0000cc"/>
<path d="M848.8,212.3 848.3,219.3 848,229.3 847.8,250.3 850.2,250.3 850,229.3 849.7,219.3 849.2,212.3Z" fill="#0000ff"/>
<path d="M848.8,220.3 848.4,225.3 848,235.3 847.9,250.3 850.1,250.3 850,235.3 849.6,225.3 849.2,220.3Z" fill="#0033ff"/>
<path d="M848.9,229.3 848.4,235.3 848.2,250.3 849.8,250.3 849.6,235.3 849.1,229.3Z" fill="#0066ff"/>
<path d="M848.9,243.3 848.6,250.3 849.4,250.3 849.1,243.3Z" fill="#0099ff"/>
<path d="M869,193.3 868.6,200.3 868,216.3 867.7,233.3 867.7,250.3 870.7,250.3 870.7,233.3 870.4,216.3 869.8,200.3 869.4,193.3Z" fill="#0000cc"/>
<path d="M868.9,203.3 868.5,210.3 868,222.3 867.8,233.3 867.8,250.3 870.6,250.3 870.6,233.3 870.4,222.3 869.9,210.3 869.5,203.3Z" fill="#0000ff"/>
<path d="M868.9,212.3 868.5,218.3 868,233.3 867.9,250.3 870.5,250.3 870.4,233.3 869.9,218.3 869.5,212.3Z" fill="#0033ff"/>
<path d="M869,221.3 868.2,233.3 868.1,250.3 870.3,250.3 870.2,233.3 869.4,221.3Z" fill="#0066ff"/>
<path d="M869.1,230.3 868.7,233.3 868.4,250.3 870,250.3 869.7,233.3 869.3,230.3Z" fill="#0099ff"/>
<path d="M881.8,158.3 881,173.3 880.3,199.3 879.8,225.3 879.8,250.3 884.2,250.3 884.2,225.3 883.7,199.3 883,173.3 882.2,158.3Z" fill="#0000cc"/>
<path d="M881.8,167.3 881.1,177.3 880.3,200.3 879.8,225.3 879.8,250.3 884.2,250.3 884.2,225.3 883.7,200.3 882.9,177.3 882.2,167.3Z" fill="#0000ff"/>
<path d="M881.9,175.3 881.5,177.3 881.2,182.3 880.5,200.3 879.9,225.3 879.9,250.3 884.1,250.3 884.1,225.3 883.5,200.3 882.8,182.3 882.5,177.3 882.1,175.3Z" fill="#0033ff"/>
<path d="M881.7,183.3 881,192.3 880.4,209.3 880,225.3 880,250.3 884,250.3 884,225.3 883.6,209.3 883,192.3 882.3,183.3Z" fill="#0066ff"/>
<path d="M881.8,190.3 881.4,193.3 881.1,198.3 880.5,214.3 880.2,225.3 880.1,250.3 883.9,250.3 883.8,225.3 883.5,214.3 882.9,198.3 882.6,193.3 882.2,190.3Z" fill="#0099ff"/>
<path d="M881.7,198.3 881,206.3 880.4,224.3 880.2,250.3 883.8,250.3 883.6,224.3 883,206.3 882.3,198.3Z" fill="#00ccff"/>
<path d="M881.7,206.3 881.1,212.3 880.6,225.3 880.4,250.3 883.6,250.3 883.4,225.3 882.9,212.3 882.3,206.3Z" fill="#00ffff"/>
<path d="M881.7,214.3 881.3,218.3 880.9,225.3 880.6,250.3 883.4,250.3 883.1,225.3 882.7,218.3 882.3,214.3Z" fill="#33ffcc"/>
<path d="M881.7,222.3 881.3,226.3 880.9,250.3 883.1,250.3 882.7,226.3 882.3,222.3Z" fill="#66ff99"/>
<path d="M881.8,237.3 881.3,250.3 882.7,250.3 882.2,237.3Z" fill="#99ff66"/>
<path d="M885.4,197.3 884.8,205.3 884.2,220.3 883.8,235.3 883.8,250.3 887.4,250.3 887.4,235.3 887,220.3 886.4,205.3 885.8,197.3Z" fill="#0000cc"/>
<path d="M885.4,203.3 884.9,208.3 884.3,220.3 883.9,235.3 883.9,250.3 887.3,250.3 887.3,235.3 886.9,220.3 886.3,208.3 885.8,203.3Z" fill="#0000ff"/>
<path d="M885.5,208.3 884.9,212.3 884.4,221.3 884,235.3 884,250.3 887.2,250.3 887.2,235.3 886.8,221.3 886.3,212.3 885.7,208.3Z" fill="#0033ff"/>
<path d="M885.3,214.3 884.7,220.3 884.2,232.3 884.1,250.3 887.1,250.3 887,232.3 886.5,220.3 885.9,214.3Z" fill="#0066ff"/>
<path d="M885.3,219.3 884.8,224.3 884.3,235.3 884.2,250.3 887,250.3 886.9,235.3 886.4,224.3 885.9,219.3Z" fill="#0099ff"/>
<path d="M885.5,224.3 885,227.3 884.5,235.3 884.3,250.3 886.9,250.3 886.7,235.3 886.2,227.3 885.7,224.3Z" fill="#00ccff"/>
<path d="M885.4,230.3 884.8,235.3 884.5,250.3 886.7,250.3 886.4,235.3 885.8,230.3Z" fill="#00ffff"/>
<path d="M885.4,236.3 884.8,250.3 886.4,250.3 885.8,236.3Z" fill="#33ffcc"/>
<path d="M893.1,118.3 892.7,126.3 891.6,175.3 890.5,200.3 889.9,225.3 889.9,250.3 896.5,250.3 896.5,225.3 895.9,200.3 894.8,175.3 893.7,126.3 893.3,118.3Z" fill="#0000cc"/>
<path d="M893.1,133.3 892.7,141.3 891.8,175.3 890.6,200.3 889.9,225.3 889.9,250.3 896.5,250.3 896.5,225.3 895.8,200.3 894.6,175.3 893.7,141.3 893.3,133.3Z" fill="#0000ff"/>
<path d="M893,148.3 892.2,175.3 891,194.3 890.3,215.3 890,225.3 890,250.3 896.4,250.3 896.4,225.3 896.1,215.3 895.4,194.3 894.2,175.3 893.4,148.3Z" fill="#0033ff"/>
<path d="M892.8,177.3 892.3,180.3 891.8,185.3 890.9,202.3 890.1,225.3 890,250.3 896.4,250.3 896.3,225.3 895.5,202.3 894.6,185.3 894.1,180.3 893.6,177.3Z" fill="#0066ff"/>
<path d="M893,182.3 892.5,184.3 891.9,189.3 890.9,205.3 890.2,225.3 890.1,250.3 896.3,250.3 896.2,225.3 895.5,205.3 894.5,189.3 893.9,184.3 893.4,182.3Z" fill="#0099ff"/>
<path d="M892.8,188.3 892.3,191.3 891.7,197.3 890.8,214.3 890.4,225.3 890.3,250.3 896.1,250.3 896,225.3 895.6,214.3 894.7,197.3 894.1,191.3 893.6,188.3Z" fill="#00ccff"/>
<path d="M893.2,193.3 892.7,194.3 892.5,195.3 892,199.3 891.1,213.3 890.6,225.3 890.4,250.3 896,250.3 895.8,225.3 895.3,213.3 894.4,199.3 893.9,195.3 893.7,194.3 893.2,193.3Z" fill="#00ffff"/>
<path d="M892.9,199.3 892.4,201.3 891.9,206.3 890.8,224.3 890.6,250.3 895.8,250.3 895.6,224.3 894.5,206.3 894,201.3 893.5,199.3Z" fill="#33ffcc"/>
<path d="M892.9,205.3 892.4,207.3 892,211.3 891,225.3 890.8,250.3 895.6,250.3 895.4,225.3 894.4,211.3 894,207.3 893.5,205.3Z" fill="#66ff99"/>
<path d="M892.9,211.3 892.1,216.3 891.3,225.3 891,250.3 895.4,250.3 895.1,225.3 894.3,216.3 893.5,211.3Z" fill="#99ff66"/>
<path d="M892.9,217.3 892.3,220.3 891.8,225.3 891.3,250.3 895.1,250.3 894.6,225.3 894.1,220.3 893.5,217.3Z" fill="#ccff33"/>
<path d="M892.9,223.3 892.4,225.3 892.3,228.3 891.6,250.3 894.8,250.3 894.1,228.3 894,225.3 893.5,223.3Z" fill="#ffff00"/>
<path d="M893,235.3 892.5,240.3 892.1,250.3 894.3,250.3 893.9,240.3 893.4,235.3Z" fill="#ffcc00"/>
<path d="M896.6,205.3 896.1,212.3 895.5,225.3 895.1,238.3 895.1,250.3 898.5,250.3 898.5,238.3 898.1,225.3 897.5,212.3 897,205.3Z" fill="#0000cc"/>
<path d="M896.6,209.3 896.1,214.3 895.6,225.3 895.2,238.3 895.2,250.3 898.4,250.3 898.4,238.3 898,225.3 897.5,214.3 897,209.3Z" fill="#0000ff"/>
<path d="M896.7,213.3 896.2,216.3 895.7,225.3 895.2,238.3 895.2,250.3 898.4,250.3 898.4,238.3 897.9,225.3 897.4,216.3 896.9,213.3Z" fill="#0033ff"/>
<path d="M896.6,217.3 896,222.3 895.6,230.3 895.3,238.3 895.3,250.3 898.3,250.3 898.3,238.3 898,230.3 897.6,222.3 897,217.3Z" fill="#0066ff"/>
<path d="M896.5,221.3 896,225.3 895.5,236.3 895.4,250.3 898.2,250.3 898.1,236.3 897.6,225.3 897.1,221.3Z" fill="#0099ff"/>
<path d="M896.7,224.3 896.4,225.3 896.2,227.3 895.7,235.3 895.5,250.3 898.1,250.3 897.9,235.3 897.4,227.3 897.2,225.3 896.9,224.3Z" fill="#00ccff"/>
<path d="M896.7,228.3 896.2,231.3 895.8,237.3 895.6,250.3 898,250.3 897.8,237.3 897.4,231.3 896.9,228.3Z" fill="#00ffff"/>
<path d="M896.7,232.3 896.3,234.3 896,238.3 895.8,250.3 897.8,250.3 897.6,238.3 897.3,234.3 896.9,232.3Z" fill="#33ffcc"/>
<path d="M896.6,236.3 896.3,238.3 896,250.3 897.6,250.3 897.3,238.3 897,236.3Z" fill="#66ff99"/>
<path d="M896.6,244.3 896.3,250.3 897.3,250.3 897,244.3Z" fill="#99ff66"/>
<path d="M905.2,160.3 904.9,167.3 904.4,185.3 904.8,200.3 905.2,206.3 905.4,206.3 905.8,200.3 906.2,185.3 905.7,167.3 905.4,160.3Z" fill="#0000cc"/>
<path d="M905.1,180.3 904.8,185.3 905.1,190.3 905.5,190.3 905.8,185.3 905.5,180.3Z" fill="#0000ff"/>
<path d="M911.2,222.3 910.6,231.3 911.3,238.3 911.5,238.3 912.2,231.3 911.6,222.3Z" fill="#0000cc"/>
<path d="M914.6,111.3 913.8,131.3 914.2,143.3 914.5,148.3 914.9,148.3 915.2,143.3 915.6,131.3 914.8,111.3Z" fill="#0000cc"/>
<path d="M914.6,123.3 914.1,131.3 914.6,138.3 914.8,138.3 915.3,131.3 914.8,123.3Z" fill="#0000ff"/>
<path d="M920.4,126.3 919.9,146.3 919.2,202.3 919.7,238.3 920,250.3 921,250.3 921.3,238.3 921.8,202.3 921.1,146.3 920.6,126.3Z" fill="#0000cc"/>
<path d="M920.4,139.3 919.9,159.3 919.3,202.3 919.8,233.3 920.3,244.3 920.7,244.3 921.2,233.3 921.7,202.3 921.1,159.3 920.6,139.3Z" fill="#0000ff"/>
<path d="M920.4,152.3 919.9,167.3 919.4,202.3 919.8,227.3 920.4,236.3 920.6,236.3 921.2,227.3 921.6,202.3 921.1,167.3 920.6,152.3Z" fill="#0033ff"/>
<path d="M920.4,164.3 920,174.3 919.5,202.3 919.9,219.3 920.3,227.3 920.7,227.3 921.1,219.3 921.5,202.3 921,174.3 920.6,164.3Z" fill="#0066ff"/>
<path d="M920.4,177.3 920,184.3 919.6,202.3 920,214.3 920.4,219.3 920.6,219.3 921,214.3 921.4,202.3 921,184.3 920.6,177.3Z" fill="#0099ff"/>
<path d="M920.4,190.3 919.9,202.3 920.3,210.3 920.7,210.3 921.1,202.3 920.6,190.3Z" fill="#00ccff"/>
<path d="M927.9,143.3 927.2,157.3 927.8,169.3 928.2,169.3 928.8,157.3 928.1,143.3Z" fill="#0000cc"/>
<path d="M933,156.3 932.5,169.3 932,200.3 932.5,221.3 932.9,229.3 933.3,229.3 933.7,221.3 934.2,200.3 933.7,169.3 933.2,156.3Z" fill="#0000cc"/>
<path d="M933,171.3 932.6,179.3 932.1,200.3 932.6,215.3 933,220.3 933.2,220.3 933.6,215.3 934.1,200.3 933.6,179.3 933.2,171.3Z" fill="#0000ff"/>
<path d="M933,186.3 932.4,200.3 932.7,207.3 933,210.3 933.2,210.3 933.5,207.3 933.8,200.3 933.2,186.3Z" fill="#0033ff"/>
<path d="M948.2,165.3 947.5,175.3 948.1,183.3 948.5,183.3 949.1,175.3 948.4,165.3Z" fill="#0000cc"/>
<path d="M953.8,136.3 953.4,149.3 952.9,178.3 953.4,204.3 953.8,212.3 954,212.3 954.4,204.3 954.9,178.3 954.4,149.3 954,136.3Z" fill="#0000cc"/>
<path d="M953.8,154.3 953.5,161.3 953.1,178.3 953.4,191.3 953.8,197.3 954,197.3 954.4,191.3 954.7,178.3 954.3,161.3 954,154.3Z" fill="#0000ff"/>
<path d="M953.8,172.3 953.5,178.3 953.7,182.3 954.1,182.3 954.3,178.3 954,172.3Z" fill="#0033ff"/>
<path d="M959.6,129.3 959.1,149.3 958.3,208.3 959,228.3 959.5,234.3 959.9,234.3 960.4,228.3 961.1,208.3 960.3,149.3 959.8,129.3Z" fill="#0000cc"/>
<path d="M959.6,145.3 959,164.3 958.4,208.3 959,223.3 959.5,229.3 959.9,229.3 960.4,223.3 961,208.3 960.4,164.3 959.8,145.3Z" fill="#0000ff"/>
<path d="M959.6,161.3 959.1,174.3 958.5,208.3 959,218.3 959.4,223.3 960,223.3 960.4,218.3 960.9,208.3 960.3,174.3 959.8,161.3Z" fill="#0033ff"/>
<path d="M959.6,177.3 959.2,186.3 958.7,208.3 959.4,218.3 960,218.3 960.7,208.3 960.2,186.3 959.8,177.3Z" fill="#0066ff"/>
<path d="M959.5,193.3 959,208.3 959.5,213.3 959.9,213.3 960.4,208.3 959.9,193.3Z" fill="#0099ff"/>
<path d="M973.5,204.3 973.2,208.3 972.9,219.3 972.6,233.3 972.6,250.3 974.6,250.3 974.6,233.3 974.3,219.3 974,208.3 973.7,204.3Z" fill="#0000cc"/>
<path d="M973.5,225.3 973,233.3 972.9,250.3 974.3,250.3 974.2,233.3 973.7,225.3Z" fill="#0000ff"/>
<path d="M977.4,99.3 976.8,112.3 976.2,136.3 976.9,189.3 977.2,200.3 977.5,205.3 977.7,205.3 978,200.3 978.3,189.3 979,136.3 978.4,112.3 977.8,99.3Z" fill="#0000cc"/>
<path d="M977.4,118.3 977,124.3 976.5,136.3 977,160.3 977.5,170.3 977.7,170.3 978.2,160.3 978.7,136.3 978.2,124.3 977.8,118.3Z" fill="#0000ff"/>
<path d="M980.6,89.3 980,101.3 979.4,125.3 980.1,188.3 980.6,209.3 981,209.3 981.5,188.3 982.2,125.3 981.6,101.3 981,89.3Z" fill="#0000cc"/>
<path d="M980.6,103.3 980.1,110.3 979.6,125.3 980.2,164.3 980.5,174.3 980.8,178.3 980.8,178.3 981.1,174.3 981.4,164.3 982,125.3 981.5,110.3 981,103.3Z" fill="#0000ff"/>
<path d="M980.7,116.3 980.3,119.3 980,125.3 980.4,140.3 980.7,146.3 980.9,146.3 981.2,140.3 981.6,125.3 981.3,119.3 980.9,116.3Z" fill="#0033ff"/>
<path d="M1133.1,162.3 1132.8,165.3 1132.5,173.3 1131.7,200.3 1131.3,225.3 1131.3,250.3 1135.1,250.3 1135.1,225.3 1134.7,200.3 1133.9,173.3 1133.6,165.3 1133.3,162.3Z" fill="#0000cc"/>
<path d="M1133,175.3 1132.4,183.3 1131.9,200.3 1131.4,225.3 1131.4,250.3 1135,250.3 1135,225.3 1134.5,200.3 1134,183.3 1133.4,175.3Z" fill="#0000ff"/>
<path d="M1133,185.3 1132.4,194.3 1131.9,210.3 1131.6,225.3 1131.5,250.3 1134.9,250.3 1134.8,225.3 1134.5,210.3 1134,194.3 1133.4,185.3Z" fill="#0033ff"/>
<path d="M1133,195.3 1132.4,202.3 1131.9,219.3 1131.6,250.3 1134.8,250.3 1134.5,219.3 1134,202.3 1133.4,195.3Z" fill="#0066ff"/>
<path d="M1133,206.3 1132.5,212.3 1132,225.3 1131.8,250.3 1134.6,250.3 1134.4,225.3 1133.9,212.3 1133.4,206.3Z" fill="#0099ff"/>
<path d="M1133,217.3 1132.4,225.3 1132.1,250.3 1134.3,250.3 1134,225.3 1133.4,217.3Z" fill="#00ccff"/>
<path d="M1133,232.3 1132.5,250.3 1133.9,250.3 1133.4,232.3Z" fill="#00ffff"/>
<path d="M1167.2,142.3 1166.7,149.3 1165.5,173.3 1164.7,192.3 1164.2,217.3 1163.9,250.3 1171.3,250.3 1171,217.3 1170.5,192.3 1169.7,173.3 1168.5,149.3 1168,142.3Z" fill="#0000cc"/>
<path d="M1167.4,144.3 1167,147.3 1166.4,156.3 1164.7,192.3 1164.2,217.3 1164,250.3 1171.2,250.3 1171,217.3 1170.5,192.3 1168.8,156.3 1168.2,147.3 1167.8,144.3Z" fill="#0000ff"/>
<path d="M1167.3,147.3 1166.8,151.3 1166.2,161.3 1164.8,192.3 1164.3,217.3 1164,250.3 1171.2,250.3 1170.9,217.3 1170.4,192.3 1169,161.3 1168.4,151.3 1167.9,147.3Z" fill="#0033ff"/>
<path d="M1167.4,149.3 1166.9,152.3 1166.3,160.3 1165.6,174.3 1164.8,192.3 1164.3,217.3 1164.1,250.3 1171.1,250.3 1170.9,217.3 1170.4,192.3 1169.6,174.3 1168.9,160.3 1168.3,152.3 1167.8,149.3Z" fill="#0066ff"/>
<path d="M1167.3,152.3 1166.8,156.3 1166.1,166.3 1164.9,192.3 1164.4,217.3 1164.3,250.3 1170.9,250.3 1170.8,217.3 1170.3,192.3 1169.1,166.3 1168.4,156.3 1167.9,152.3Z" fill="#0099ff"/>
<path d="M1167.2,155.3 1166.7,160.3 1165.9,172.3 1165,192.3 1164.5,217.3 1164.4,250.3 1170.8,250.3 1170.7,217.3 1170.2,192.3 1169.3,172.3 1168.5,160.3 1168,155.3Z" fill="#00ccff"/>
<path d="M1167.5,157.3 1166.9,160.3 1166.2,169.3 1165.1,192.3 1164.6,217.3 1164.5,250.3 1170.7,250.3 1170.6,217.3 1170.1,192.3 1169,169.3 1168.3,160.3 1167.7,157.3Z" fill="#00ffff"/>
<path d="M1167.2,161.3 1166.7,165.3 1166.1,173.3 1165.2,192.3 1164.7,217.3 1164.7,250.3 1170.5,250.3 1170.5,217.3 1170,192.3 1169.1,173.3 1168.5,165.3 1168,161.3Z" fill="#33ffcc"/>
<path d="M1167.2,164.3 1166.7,168.3 1166.2,174.3 1165.3,192.3 1164.8,217.3 1164.8,240.3 1165,250.3 1170.2,250.3 1170.4,240.3 1170.4,217.3 1169.9,192.3 1169,174.3 1168.5,168.3 1168,164.3Z" fill="#66ff99"/>
<path d="M1167.3,167.3 1166.4,174.3 1165.5,192.3 1164.9,217.3 1164.9,240.3 1165.2,250.3 1170,250.3 1170.3,240.3 1170.3,217.3 1169.7,192.3 1168.8,174.3 1167.9,167.3Z" fill="#99ff66"/>
<path d="M1167.3,170.3 1166.7,174.3 1165.7,190.3 1165.2,212.3 1165.1,240.3 1165.5,250.3 1169.7,250.3 1170.1,240.3 1170,212.3 1169.5,190.3 1168.5,174.3 1167.9,170.3Z" fill="#ccff33"/>
<path d="M1167.4,173.3 1167.1,174.3 1166.7,178.3 1165.8,192.3 1165.3,217.3 1165.4,240.3 1165.9,250.3 1169.3,250.3 1169.8,240.3 1169.9,217.3 1169.4,192.3 1168.5,178.3 1168.1,174.3 1167.8,173.3Z" fill="#ffff00"/>
<path d="M1167.3,178.3 1166.7,183.3 1166.1,192.3 1165.5,217.3 1165.6,240.3 1166.5,250.3 1168.7,250.3 1169.6,240.3 1169.7,217.3 1169.1,192.3 1168.5,183.3 1167.9,178.3Z" fill="#ffcc00"/>
<path d="M1167.4,183.3 1166.9,186.3 1166.4,192.3 1165.7,217.3 1166,240.3 1166.5,245.3 1167.1,248.3 1168.1,248.3 1168.7,245.3 1169.2,240.3 1169.5,217.3 1168.8,192.3 1168.3,186.3 1167.8,183.3Z" fill="#ff9900"/>
<path d="M1167.2,189.3 1166.8,192.3 1166,217.3 1166.5,240.3 1166.9,243.3 1167.3,244.3 1167.9,244.3 1168.3,243.3 1168.7,240.3 1169.2,217.3 1168.4,192.3 1168,189.3Z" fill="#ff6600"/>
<path d="M1167.4,197.3 1166.9,203.3 1166.3,217.3 1166.7,231.3 1167.3,239.3 1167.9,239.3 1168.5,231.3 1168.9,217.3 1168.3,203.3 1167.8,197.3Z" fill="#ff3300"/>
<path d="M1167.3,211.3 1166.9,217.3 1167.4,224.3 1167.8,224.3 1168.3,217.3 1167.9,211.3Z" fill="#ff0000"/>
<path d="M1175,173.3 1174.5,176.3 1173.9,184.3 1172.7,208.3 1172.1,229.3 1172.1,250.3 1178.3,250.3 1178.3,229.3 1177.7,208.3 1176.5,184.3 1175.9,176.3 1175.4,173.3Z" fill="#0000cc"/>
<path d="M1174.9,180.3 1174.4,183.3 1174,188.3 1172.9,208.3 1172.2,229.3 1172.1,250.3 1178.3,250.3 1178.2,229.3 1177.5,208.3 1176.4,188.3 1176,183.3 1175.5,180.3Z" fill="#0000ff"/>
<path d="M1174.9,187.3 1174.5,189.3 1174,193.3 1173,208.3 1172.3,229.3 1172.2,250.3 1178.2,250.3 1178.1,229.3 1177.4,208.3 1176.4,193.3 1175.9,189.3 1175.5,187.3Z" fill="#0033ff"/>
<path d="M1174.8,193.3 1174.3,196.3 1173.9,200.3 1173,214.3 1172.4,229.3 1172.3,250.3 1178.1,250.3 1178,229.3 1177.4,214.3 1176.5,200.3 1176.1,196.3 1175.6,193.3Z" fill="#0066ff"/>
<path d="M1174.8,199.3 1174.2,202.3 1173.6,208.3 1172.9,222.3 1172.6,229.3 1172.5,250.3 1177.9,250.3 1177.8,229.3 1177.5,222.3 1176.8,208.3 1176.2,202.3 1175.6,199.3Z" fill="#0099ff"/>
<path d="M1174.7,205.3 1174.2,208.3 1173.8,212.3 1172.8,229.3 1172.7,250.3 1177.7,250.3 1177.6,229.3 1176.6,212.3 1176.2,208.3 1175.7,205.3Z" fill="#00ccff"/>
<path d="M1174.7,211.3 1173.9,217.3 1173.1,229.3 1172.9,250.3 1177.5,250.3 1177.3,229.3 1176.5,217.3 1175.7,211.3Z" fill="#00ffff"/>
<path d="M1174.8,217.3 1174.1,221.3 1173.4,229.3 1173.1,250.3 1177.3,250.3 1177,229.3 1176.3,221.3 1175.6,217.3Z" fill="#33ffcc"/>
<path d="M1174.9,223.3 1174.4,225.3 1173.9,229.3 1173.4,250.3 1177,250.3 1176.5,229.3 1176,225.3 1175.5,223.3Z" fill="#66ff99"/>
<path d="M1175,229.3 1174.3,236.3 1173.8,250.3 1176.6,250.3 1176.1,236.3 1175.4,229.3Z" fill="#99ff66"/>
<path d="M1175,245.3 1174.5,250.3 1175.9,250.3 1175.4,245.3Z" fill="#ccff33"/>
<path d="M1179.1,209.3 1178.3,216.3 1177.4,228.3 1176.8,239.3 1176.8,250.3 1182.2,250.3 1182.2,239.3 1181.6,228.3 1180.7,216.3 1179.9,209.3Z" fill="#0000cc"/>
<path d="M1179.2,212.3 1178.4,217.3 1177.4,228.3 1176.9,239.3 1176.9,250.3 1182.1,250.3 1182.1,239.3 1181.6,228.3 1180.6,217.3 1179.8,212.3Z" fill="#0000ff"/>
<path d="M1179,216.3 1178.3,220.3 1177.6,228.3 1177,239.3 1176.9,250.3 1182.1,250.3 1182,239.3 1181.4,228.3 1180.7,220.3 1180,216.3Z" fill="#0033ff"/>
<path d="M1179,219.3 1178,225.3 1177.4,233.3 1177.1,239.3 1177,250.3 1182,250.3 1181.9,239.3 1181.6,233.3 1181,225.3 1180,219.3Z" fill="#0066ff"/>
<path d="M1178.9,222.3 1178.1,227.3 1177.3,237.3 1177.1,250.3 1181.9,250.3 1181.7,237.3 1180.9,227.3 1180.1,222.3Z" fill="#0099ff"/>
<path d="M1179.3,224.3 1178.9,225.3 1178.5,227.3 1177.6,235.3 1177.3,239.3 1177.2,250.3 1181.8,250.3 1181.7,239.3 1181.4,235.3 1180.5,227.3 1180.1,225.3 1179.7,224.3Z" fill="#00ccff"/>
<path d="M1179.2,227.3 1178.5,230.3 1177.6,238.3 1177.4,250.3 1181.6,250.3 1181.4,238.3 1180.5,230.3 1179.8,227.3Z" fill="#00ffff"/>
<path d="M1179.2,230.3 1178.5,233.3 1177.8,239.3 1177.6,250.3 1181.4,250.3 1181.2,239.3 1180.5,233.3 1179.8,230.3Z" fill="#33ffcc"/>
<path d="M1179.3,233.3 1178.6,235.3 1178.1,239.3 1177.8,250.3 1181.2,250.3 1180.9,239.3 1180.4,235.3 1179.7,233.3Z" fill="#66ff99"/>
<path d="M1179.4,236.3 1178.9,237.3 1178.5,239.3 1178,250.3 1181,250.3 1180.5,239.3 1180.1,237.3 1179.6,236.3Z" fill="#99ff66"/>
<path d="M1179.2,240.3 1178.7,244.3 1178.4,250.3 1180.6,250.3 1180.3,244.3 1179.8,240.3Z" fill="#ccff33"/>
<path d="M1179.3,248.3 1178.9,250.3 1180.1,250.3 1179.7,248.3Z" fill="#ffff00"/>
<path d="M1183.4,128.3 1182.6,149.3 1181.9,183.3 1181.5,217.3 1181.5,250.3 1185.7,250.3 1185.7,217.3 1185.3,183.3 1184.6,149.3 1183.8,128.3Z" fill="#0000cc"/>
<path d="M1183.4,139.3 1182.8,152.3 1182,183.3 1181.6,217.3 1181.6,250.3 1185.6,250.3 1185.6,217.3 1185.2,183.3 1184.4,152.3 1183.8,139.3Z" fill="#0000ff"/>
<path d="M1183.4,150.3 1182.8,159.3 1182.1,183.3 1181.7,217.3 1181.6,250.3 1185.6,250.3 1185.5,217.3 1185.1,183.3 1184.4,159.3 1183.8,150.3Z" fill="#0033ff"/>
<path d="M1183.4,160.3 1182.9,167.3 1182.3,183.3 1181.8,217.3 1181.8,250.3 1185.4,250.3 1185.4,217.3 1184.9,183.3 1184.3,167.3 1183.8,160.3Z" fill="#0066ff"/>
<path d="M1183.5,169.3 1183.1,172.3 1182.8,178.3 1182.4,194.3 1182,217.3 1181.9,250.3 1185.3,250.3 1185.2,217.3 1184.8,194.3 1184.4,178.3 1184.1,172.3 1183.7,169.3Z" fill="#0099ff"/>
<path d="M1183.4,179.3 1182.9,187.3 1182.2,216.3 1182.1,250.3 1185.1,250.3 1185,216.3 1184.3,187.3 1183.8,179.3Z" fill="#00ccff"/>
<path d="M1183.4,192.3 1183,199.3 1182.5,216.3 1182.3,250.3 1184.9,250.3 1184.7,216.3 1184.2,199.3 1183.8,192.3Z" fill="#00ffff"/>
<path d="M1183.5,208.3 1182.9,217.3 1182.7,250.3 1184.5,250.3 1184.3,217.3 1183.7,208.3Z" fill="#33ffcc"/>
<path d="M1192.7,111.3 1192.3,116.3 1191.8,131.3 1190.7,177.3 1190.1,213.3 1190.1,250.3 1195.7,250.3 1195.7,213.3 1195.1,177.3 1194,131.3 1193.5,116.3 1193.1,111.3Z" fill="#0000cc"/>
<path d="M1192.7,119.3 1192.2,125.3 1191.7,138.3 1190.7,176.3 1190.2,213.3 1190.2,250.3 1195.6,250.3 1195.6,213.3 1195.1,176.3 1194.1,138.3 1193.6,125.3 1193.1,119.3Z" fill="#0000ff"/>
<path d="M1192.7,127.3 1192.2,132.3 1191.8,141.3 1190.8,176.3 1190.2,213.3 1190.2,250.3 1195.6,250.3 1195.6,213.3 1195,176.3 1194,141.3 1193.6,132.3 1193.1,127.3Z" fill="#0033ff"/>
<path d="M1192.6,135.3 1191.8,147.3 1190.9,177.3 1190.3,213.3 1190.3,250.3 1195.5,250.3 1195.5,213.3 1194.9,177.3 1194,147.3 1193.2,135.3Z" fill="#0066ff"/>
<path d="M1192.7,142.3 1192.3,145.3 1191.9,152.3 1191,177.3 1190.5,213.3 1190.4,250.3 1195.4,250.3 1195.3,213.3 1194.8,177.3 1193.9,152.3 1193.5,145.3 1193.1,142.3Z" fill="#0099ff"/>
<path d="M1192.6,149.3 1191.9,158.3 1191.2,177.3 1190.6,213.3 1190.5,250.3 1195.3,250.3 1195.2,213.3 1194.6,177.3 1193.9,158.3 1193.2,149.3Z" fill="#00ccff"/>
<path d="M1192.6,156.3 1192,163.3 1191.3,177.3 1190.8,213.3 1190.7,250.3 1195.1,250.3 1195,213.3 1194.5,177.3 1193.8,163.3 1193.2,156.3Z" fill="#00ffff"/>
<path d="M1192.7,162.3 1192.1,167.3 1191.6,177.3 1191,213.3 1190.9,250.3 1194.9,250.3 1194.8,213.3 1194.2,177.3 1193.7,167.3 1193.1,162.3Z" fill="#33ffcc"/>
<path d="M1192.6,169.3 1191.9,176.3 1191.6,194.3 1191.2,214.3 1191.1,250.3 1194.7,250.3 1194.6,214.3 1194.2,194.3 1193.9,176.3 1193.2,169.3Z" fill="#66ff99"/>
<path d="M1192.8,175.3 1192.5,176.3 1192.4,179.3 1191.5,213.3 1191.4,250.3 1194.4,250.3 1194.3,213.3 1193.4,179.3 1193.3,176.3 1193,175.3Z" fill="#99ff66"/>
<path d="M1192.8,196.3 1192.4,201.3 1192,213.3 1191.7,250.3 1194.1,250.3 1193.8,213.3 1193.4,201.3 1193,196.3Z" fill="#ccff33"/>
<path d="M1192.8,231.3 1192.3,250.3 1193.5,250.3 1193,231.3Z" fill="#ffff00"/>
<path d="M1196.5,211.3 1196,213.3 1195.6,217.3 1194.7,229.3 1194.2,240.3 1194.2,250.3 1199,250.3 1199,240.3 1198.5,229.3 1197.6,217.3 1197.2,213.3 1196.7,211.3Z" fill="#0000cc"/>
<path d="M1196.5,214.3 1196.1,215.3 1195.7,218.3 1194.7,229.3 1194.2,240.3 1194.2,250.3 1199,250.3 1199,240.3 1198.5,229.3 1197.5,218.3 1197.1,215.3 1196.7,214.3Z" fill="#0000ff"/>
<path d="M1196.5,217.3 1195.7,220.3 1194.8,229.3 1194.3,240.3 1194.2,250.3 1199,250.3 1198.9,240.3 1198.4,229.3 1197.5,220.3 1196.7,217.3Z" fill="#0033ff"/>
<path d="M1196.3,220.3 1195.6,223.3 1194.9,230.3 1194.3,240.3 1194.3,250.3 1198.9,250.3 1198.9,240.3 1198.3,230.3 1197.6,223.3 1196.9,220.3Z" fill="#0066ff"/>
<path d="M1196.1,223.3 1195.3,228.3 1194.7,236.3 1194.5,240.3 1194.4,250.3 1198.8,250.3 1198.7,240.3 1198.5,236.3 1197.9,228.3 1197.1,223.3Z" fill="#0099ff"/>
<path d="M1196.3,225.3 1196,226.3 1195.5,229.3 1194.9,235.3 1194.6,240.3 1194.5,250.3 1198.7,250.3 1198.6,240.3 1198.3,235.3 1197.7,229.3 1197.2,226.3 1196.9,225.3Z" fill="#00ccff"/>
<path d="M1196.1,228.3 1195.4,232.3 1194.8,239.3 1194.6,250.3 1198.6,250.3 1198.4,239.3 1197.8,232.3 1197.1,228.3Z" fill="#00ffff"/>
<path d="M1196.5,230.3 1196,231.3 1195.6,233.3 1195,239.3 1194.8,250.3 1198.4,250.3 1198.2,239.3 1197.6,233.3 1197.2,231.3 1196.7,230.3Z" fill="#33ffcc"/>
<path d="M1196.3,233.3 1195.8,235.3 1195.2,239.3 1194.9,250.3 1198.3,250.3 1198,239.3 1197.4,235.3 1196.9,233.3Z" fill="#66ff99"/>
<path d="M1196.2,236.3 1195.4,240.3 1195.1,250.3 1198.1,250.3 1197.8,240.3 1197,236.3Z" fill="#99ff66"/>
<path d="M1196.1,239.3 1195.7,242.3 1195.4,250.3 1197.8,250.3 1197.5,242.3 1197.1,239.3Z" fill="#ccff33"/>
<path d="M1196.3,244.3 1195.7,250.3 1197.5,250.3 1196.9,244.3Z" fill="#ffff00"/>
<path d="M1203.1,147.3 1202.7,152.3 1202.2,165.3 1201.2,196.3 1200.7,223.3 1200.7,250.3 1205.9,250.3 1205.9,223.3 1205.4,196.3 1204.4,165.3 1203.9,152.3 1203.5,147.3Z" fill="#0000cc"/>
<path d="M1203.1,153.3 1202.2,168.3 1201.3,196.3 1200.8,223.3 1200.8,250.3 1205.8,250.3 1205.8,223.3 1205.3,196.3 1204.4,168.3 1203.5,153.3Z" fill="#0000ff"/>
<path d="M1203.2,158.3 1202.8,161.3 1202.4,168.3 1201.4,195.3 1200.9,223.3 1200.8,250.3 1205.8,250.3 1205.7,223.3 1205.2,195.3 1204.2,168.3 1203.8,161.3 1203.4,158.3Z" fill="#0033ff"/>
<path d="M1203.1,164.3 1202.3,173.3 1201.5,196.3 1201,223.3 1200.9,250.3 1205.7,250.3 1205.6,223.3 1205.1,196.3 1204.3,173.3 1203.5,164.3Z" fill="#0066ff"/>
<path d="M1203,170.3 1202.3,178.3 1201.6,196.3 1201.1,223.3 1201,250.3 1205.6,250.3 1205.5,223.3 1205,196.3 1204.3,178.3 1203.6,170.3Z" fill="#0099ff"/>
<path d="M1203,175.3 1202.3,182.3 1201.7,196.3 1201.2,223.3 1201.2,250.3 1205.4,250.3 1205.4,223.3 1204.9,196.3 1204.3,182.3 1203.6,175.3Z" fill="#00ccff"/>
<path d="M1203,180.3 1202.5,185.3 1201.9,196.3 1201.4,223.3 1201.3,250.3 1205.3,250.3 1205.2,223.3 1204.7,196.3 1204.1,185.3 1203.6,180.3Z" fill="#00ffff"/>
<path d="M1203,185.3 1202.5,189.3 1202.1,196.3 1201.6,223.3 1201.5,250.3 1205.1,250.3 1205,223.3 1204.5,196.3 1204.1,189.3 1203.6,185.3Z" fill="#33ffcc"/>
<path d="M1203,190.3 1202.4,196.3 1201.8,223.3 1201.7,250.3 1204.9,250.3 1204.8,223.3 1204.2,196.3 1203.6,190.3Z" fill="#66ff99"/>
<path d="M1203,195.3 1202.1,223.3 1202,250.3 1204.6,250.3 1204.5,223.3 1203.6,195.3Z" fill="#99ff66"/>
<path d="M1203.2,214.3 1202.7,223.3 1202.3,250.3 1204.3,250.3 1203.9,223.3 1203.4,214.3Z" fill="#ccff33"/>
<path d="M1210.8,144.3 1210.1,181.3 1209.8,215.3 1209.8,250.3 1212,250.3 1212,215.3 1211.7,181.3 1211,144.3Z" fill="#0000cc"/>
<path d="M1210.8,171.3 1210.5,180.3 1210.1,203.3 1210,250.3 1211.8,250.3 1211.7,203.3 1211.3,180.3 1211,171.3Z" fill="#0000ff"/>
<path d="M1210.8,200.3 1210.3,215.3 1210.2,250.3 1211.6,250.3 1211.5,215.3 1211,200.3Z" fill="#0033ff"/>
<path d="M1214.5,142.3 1213.6,160.3 1212.9,191.3 1212.4,220.3 1212.4,250.3 1217,250.3 1217,220.3 1216.5,191.3 1215.8,160.3 1214.9,142.3Z" fill="#0000cc"/>
<path d="M1214.5,152.3 1214.2,155.3 1213.8,163.3 1213,191.3 1212.5,220.3 1212.4,250.3 1217,250.3 1216.9,220.3 1216.4,191.3 1215.6,163.3 1215.2,155.3 1214.9,152.3Z" fill="#0000ff"/>
<path d="M1214.6,162.3 1214.3,164.3 1213.9,170.3 1213.1,191.3 1212.6,220.3 1212.6,250.3 1216.8,250.3 1216.8,220.3 1216.3,191.3 1215.5,170.3 1215.1,164.3 1214.8,162.3Z" fill="#0033ff"/>
<path d="M1214.5,171.3 1213.9,177.3 1213.3,191.3 1212.7,220.3 1212.7,250.3 1216.7,250.3 1216.7,220.3 1216.1,191.3 1215.5,177.3 1214.9,171.3Z" fill="#0066ff"/>
<path d="M1214.5,180.3 1214.1,183.3 1213.7,190.3 1213.2,208.3 1212.9,221.3 1212.9,250.3 1216.5,250.3 1216.5,221.3 1216.2,208.3 1215.7,190.3 1215.3,183.3 1214.9,180.3Z" fill="#0099ff"/>
<path d="M1214.4,189.3 1213.9,197.3 1213.2,220.3 1213.1,250.3 1216.3,250.3 1216.2,220.3 1215.5,197.3 1215,189.3Z" fill="#00ccff"/>
<path d="M1214.6,202.3 1214.1,207.3 1213.6,220.3 1213.4,250.3 1216,250.3 1215.8,220.3 1215.3,207.3 1214.8,202.3Z" fill="#00ffff"/>
<path d="M1214.6,217.3 1214.2,221.3 1213.9,250.3 1215.5,250.3 1215.2,221.3 1214.8,217.3Z" fill="#33ffcc"/>
<path d="M1222.1,203.3 1221.7,209.3 1221.2,221.3 1220.9,236.3 1220.9,250.3 1223.7,250.3 1223.7,236.3 1223.4,221.3 1222.9,209.3 1222.5,203.3Z" fill="#0000cc"/>
<path d="M1222.1,213.3 1221.5,220.3 1221.2,230.3 1221,250.3 1223.6,250.3 1223.4,230.3 1223.1,220.3 1222.5,213.3Z" fill="#0000ff"/>
<path d="M1222.1,222.3 1221.7,226.3 1221.3,235.3 1221.2,250.3 1223.4,250.3 1223.3,235.3 1222.9,226.3 1222.5,222.3Z" fill="#0033ff"/>
<path d="M1222.1,232.3 1221.7,236.3 1221.5,250.3 1223.1,250.3 1222.9,236.3 1222.5,232.3Z" fill="#0066ff"/>
<path d="M1230.5,137.3 1230.1,141.3 1229.7,151.3 1228.8,189.3 1228.3,220.3 1228.3,250.3 1232.9,250.3 1232.9,220.3 1232.4,189.3 1231.5,151.3 1231.1,141.3 1230.7,137.3Z" fill="#0000cc"/>
<path d="M1230.4,146.3 1229.7,159.3 1228.8,189.3 1228.3,220.3 1228.3,250.3 1232.9,250.3 1232.9,220.3 1232.4,189.3 1231.5,159.3 1230.8,146.3Z" fill="#0000ff"/>
<path d="M1230.3,155.3 1229.7,165.3 1228.9,189.3 1228.4,220.3 1228.4,250.3 1232.8,250.3 1232.8,220.3 1232.3,189.3 1231.5,165.3 1230.9,155.3Z" fill="#0033ff"/>
<path d="M1230.3,163.3 1229.7,171.3 1229.1,189.3 1228.6,220.3 1228.5,250.3 1232.7,250.3 1232.6,220.3 1232.1,189.3 1231.5,171.3 1230.9,163.3Z" fill="#0066ff"/>
<path d="M1230.3,170.3 1229.8,177.3 1229.2,190.3 1228.7,220.3 1228.7,250.3 1232.5,250.3 1232.5,220.3 1232,190.3 1231.4,177.3 1230.9,170.3Z" fill="#0099ff"/>
<path d="M1230.4,177.3 1229.9,181.3 1229.5,190.3 1229,220.3 1228.9,250.3 1232.3,250.3 1232.2,220.3 1231.7,190.3 1231.3,181.3 1230.8,177.3Z" fill="#00ccff"/>
<path d="M1230.5,184.3 1229.9,189.3 1229.6,199.3 1229.2,220.3 1229.1,250.3 1232.1,250.3 1232,220.3 1231.6,199.3 1231.3,189.3 1230.7,184.3Z" fill="#00ffff"/>
<path d="M1230.5,197.3 1229.7,220.3 1229.5,250.3 1231.7,250.3 1231.5,220.3 1230.7,197.3Z" fill="#33ffcc"/>
<path d="M1230.5,229.3 1230,250.3 1231.2,250.3 1230.7,229.3Z" fill="#66ff99"/>
<path d="M1233.7,209.3 1233.3,214.3 1232.8,225.3 1232.5,238.3 1232.5,250.3 1235.1,250.3 1235.1,238.3 1234.8,225.3 1234.3,214.3 1233.9,209.3Z" fill="#0000cc"/>
<path d="M1233.6,217.3 1233.2,222.3 1232.8,230.3 1232.6,250.3 1235,250.3 1234.8,230.3 1234.4,222.3 1234,217.3Z" fill="#0000ff"/>
<path d="M1233.8,224.3 1233.3,227.3 1232.9,235.3 1232.7,250.3 1234.9,250.3 1234.7,235.3 1234.3,227.3 1233.8,224.3Z" fill="#0033ff"/>
<path d="M1233.7,232.3 1233.1,238.3 1233,250.3 1234.6,250.3 1234.5,238.3 1233.9,232.3Z" fill="#0066ff"/>
<path d="M1233.7,244.3 1233.4,250.3 1234.2,250.3 1233.9,244.3Z" fill="#0099ff"/>
<path d="M1267.3,180.3 1266.8,188.3 1266.3,208.3 1266,229.3 1266,250.3 1268.6,250.3 1268.6,229.3 1268.3,208.3 1267.8,188.3 1267.3,180.3Z" fill="#0000cc"/>
<path d="M1267.2,193.3 1266.8,199.3 1266.4,213.3 1266.1,229.3 1266.1,250.3 1268.5,250.3 1268.5,229.3 1268.2,213.3 1267.8,199.3 1267.4,193.3Z" fill="#0000ff"/>
<path d="M1267.1,205.3 1266.7,212.3 1266.3,228.3 1266.2,250.3 1268.4,250.3 1268.3,228.3 1267.9,212.3 1267.5,205.3Z" fill="#0033ff"/>
<path d="M1267.1,217.3 1266.5,229.3 1266.4,250.3 1268.2,250.3 1268.1,229.3 1267.5,217.3Z" fill="#0066ff"/>
<path d="M1267.2,229.3 1267,235.3 1266.7,250.3 1267.9,250.3 1267.6,235.3 1267.4,229.3Z" fill="#0099ff"/>
<path d="M1309.6,197.3 1309,209.3 1309.6,219.3 1310,219.3 1310.6,209.3 1310,197.3Z" fill="#0000cc"/>
<path d="M1313.3,236.3 1312.7,242.3 1312.6,250.3 1314.6,250.3 1314.5,242.3 1313.9,236.3Z" fill="#0000cc"/>
<path d="M1313.3,241.3 1312.8,245.3 1312.7,250.3 1314.5,250.3 1314.4,245.3 1313.9,241.3Z" fill="#0000ff"/>
<path d="M1313.5,246.3 1313.2,250.3 1314,250.3 1313.7,246.3Z" fill="#0033ff"/>
<path d="M1328.3,161.3 1327.8,174.3 1327.4,191.3 1327.8,233.3 1328,242.3 1328.3,246.3 1328.7,246.3 1329,242.3 1329.2,233.3 1329.6,191.3 1329.2,174.3 1328.7,161.3Z" fill="#0000cc"/>
<path d="M1328.3,169.3 1327.9,176.3 1327.5,191.3 1327.9,220.3 1328.4,231.3 1328.6,231.3 1329.1,220.3 1329.5,191.3 1329.1,176.3 1328.7,169.3Z" fill="#0000ff"/>
<path d="M1328.4,177.3 1328,182.3 1327.6,191.3 1328,207.3 1328.3,215.3 1328.7,215.3 1329,207.3 1329.4,191.3 1329,182.3 1328.6,177.3Z" fill="#0033ff"/>
<path d="M1328.4,185.3 1327.9,190.3 1328.4,200.3 1328.6,200.3 1329.1,190.3 1328.6,185.3Z" fill="#0066ff"/>
<path d="M1356.1,166.3 1355.5,182.3 1355.8,191.3 1356.2,195.3 1356.4,195.3 1356.8,191.3 1357.1,182.3 1356.5,166.3Z" fill="#0000cc"/>
<path d="M1362,150.3 1361.3,171.3 1362,188.3 1362.4,188.3 1363.1,171.3 1362.4,150.3Z" fill="#0000cc"/>
<path d="M1362,166.3 1361.7,171.3 1362.1,175.3 1362.3,175.3 1362.7,171.3 1362.4,166.3Z" fill="#0000ff"/>
<path d="M1387.2,153.3 1386.8,160.3 1387.2,166.3 1387.6,166.3 1388,160.3 1387.6,153.3Z" fill="#0000cc"/>
</g><g>
<linearGradient id="g0_20_1" gradientUnits="userSpaceOnUse" x1="0" x2="0" y1="46.3" y2="160.1"><stop offset="0.000" stop-color="#0000f6" stop-opacity="0.80"/><stop offset="0.560" stop-color="#0000c3" stop-opacity="0.81"/><stop offset="0.912" stop-color="#000080" stop-opacity="0"/><stop offset="1.000" stop-color="#000080" stop-opacity="0"/></linearGradient>
<path d="M990.04,46.3 989.96,110.1 989.96,160.1 991.24,160.1 991.24,110.1 991.16,46.3Z" fill="url(#g0_20_1)"/>
<linearGradient id="g0_21_1" gradientUnits="userSpaceOnUse" x1="0" x2="0" y1="46.3" y2="229.2"><stop offset="0.000" stop-color="#00d4ff" stop-opacity="0.80"/><stop offset="0.294" stop-color="#0090ff" stop-opacity="0.80"/><stop offset="0.622" stop-color="#002aff" stop-opacity="0.80"/><stop offset="0.708" stop-color="#0000ff" stop-opacity="0.80"/><stop offset="0.966" stop-color="#000080" stop-opacity="0"/><stop offset="1.000" stop-color="#000080" stop-opacity="0"/></linearGradient>
<path d="M1045.72,46.3 1045.68,100.1 1045.64,160.1 1045.56,229.2 1046.84,229.2 1046.76,160.1 1046.72,100.1 1046.68,46.3Z" fill="url(#g0_21_1)"/>
<linearGradient id="g0_22_0" gradientUnits="userSpaceOnUse" x1="0" x2="0" y1="46.3" y2="250.5"><stop offset="0.000" stop-color="#0074ff"/><stop offset="0.051" stop-color="#00dfff"/><stop offset="0.057" stop-color="#00edff"/><stop offset="0.141" stop-color="#39ffc6"/><stop offset="0.312" stop-color="#5effa1"/><stop offset="0.459" stop-color="#6cff93"/><stop offset="0.508" stop-color="#71ff8e"/><stop offset="0.704" stop-color="#84ff7b"/><stop offset="0.876" stop-color="#a0ff5f"/><stop offset="0.959" stop-color="#b3ff4c"/><stop offset="1.000" stop-color="#bcff43"/></linearGradient>
<path d="M1107.90,46.3 1107.86,58 1107.80,75 1107.70,110.1 1107.56,150.1 1107.20,190.1 1106.66,225.2 1105.74,250.5 1110.86,250.5 1109.93,225.2 1109.40,190.1 1109.04,150.1 1108.90,110.1 1108.80,75 1108.74,58 1108.70,46.3Z" fill="url(#g0_22_0)" fill-opacity="0.6"/>
<linearGradient id="g0_22_1" gradientUnits="userSpaceOnUse" x1="0" x2="0" y1="46.3" y2="250.5"><stop offset="0.000" stop-color="#3cffc3" stop-opacity="0.80"/><stop offset="0.051" stop-color="#ffff00" stop-opacity="0.80"/><stop offset="0.057" stop-color="#ffe500" stop-opacity="0.80"/><stop offset="0.141" stop-color="#ff5e00" stop-opacity="0.80"/><stop offset="0.312" stop-color="#ff1a00" stop-opacity="0.80"/><stop offset="0.459" stop-color="#ff0000" stop-opacity="0.84"/><stop offset="0.508" stop-color="#f70000" stop-opacity="0.86"/><stop offset="0.704" stop-color="#d50000"/><stop offset="0.876" stop-color="#a20000"/><stop offset="0.959" stop-color="#800000"/><stop offset="1.000" stop-color="#800000"/></linearGradient>
<path d="M1107.90,46.3 1107.86,58 1107.80,75 1107.70,110.1 1107.56,150.1 1107.29,190.1 1106.98,225.2 1106.45,250.5 1110.15,250.5 1109.62,225.2 1109.31,190.1 1109.04,150.1 1108.90,110.1 1108.80,75 1108.74,58 1108.70,46.3Z" fill="url(#g0_22_1)"/>
<linearGradient id="g0_23_1" gradientUnits="userSpaceOnUse" x1="0" x2="0" y1="46.3" y2="250.5"><stop offset="0.000" stop-color="#5dffa2" stop-opacity="0.80"/><stop offset="0.508" stop-color="#3cffc3" stop-opacity="0.80"/><stop offset="1.000" stop-color="#19ffe6" stop-opacity="0.80"/></linearGradient>
<path d="M1189.72,46.3 1189.68,150.1 1189.64,250.5 1190.76,250.5 1190.72,150.1 1190.68,46.3Z" fill="url(#g0_23_1)"/>
<linearGradient id="g0_24_1" gradientUnits="userSpaceOnUse" x1="0" x2="0" y1="46.3" y2="225.2"><stop offset="0.000" stop-color="#4dffb2" stop-opacity="0.80"/><stop offset="0.351" stop-color="#00ffff" stop-opacity="0.80"/><stop offset="0.468" stop-color="#00e6ff" stop-opacity="0.80"/><stop offset="0.748" stop-color="#003cff" stop-opacity="0.80"/><stop offset="0.822" stop-color="#0000ff" stop-opacity="0.80"/><stop offset="0.979" stop-color="#000080" stop-opacity="0"/><stop offset="1.000" stop-color="#000080" stop-opacity="0"/></linearGradient>
<path d="M1241.22,46.3 1241.18,130.1 1241.14,180.1 1241.06,225.2 1242.34,225.2 1242.26,180.1 1242.22,130.1 1242.18,46.3Z" fill="url(#g0_24_1)"/>
<linearGradient id="g0_25_1" gradientUnits="userSpaceOnUse" x1="0" x2="0" y1="46.3" y2="190.1"><stop offset="0.000" stop-color="#00b2ff" stop-opacity="0.80"/><stop offset="0.443" stop-color="#003cff" stop-opacity="0.80"/><stop offset="0.606" stop-color="#0000ff" stop-opacity="0.80"/><stop offset="0.954" stop-color="#000080" stop-opacity="0"/><stop offset="1.000" stop-color="#000080" stop-opacity="0"/></linearGradient>
<path d="M1305.44,46.3 1305.40,110.1 1305.36,190.1 1306.64,190.1 1306.60,110.1 1306.56,46.3Z" fill="url(#g0_25_1)"/>
</g></g>
<path d="M836.4 46.3H1439.4V250.5H836.4ZM911.8 250.5v-6.4M911.8 46.3v6.4M987.1 250.5v-6.4M987.1 46.3v6.4M1062.5 250.5v-6.4M1062.5 46.3v6.4M1137.9 250.5v-6.4M1137.9 46.3v6.4M1213.3 250.5v-6.4M1213.3 46.3v6.4M1288.7 250.5v-6.4M1288.7 46.3v6.4M1364 250.5v-6.4M1364 46.3v6.4M836.4 48.1h6.4M1439.4 48.1h-6.4M836.4 64.8h6.4M1439.4 64.8h-6.4M836.4 83.2h6.4M1439.4 83.2h-6.4M836.4 103.8h6.4M1439.4 103.8h-6.4M836.4 127.2h6.4M1439.4 127.2h-6.4M836.4 154.2h6.4M1439.4 154.2h-6.4M836.4 186.1h6.4M1439.4 186.1h-6.4M836.4 204.5h6.4M1439.4 204.5h-6.4M836.4 225.1h6.4M1439.4 225.1h-6.4M836.4 248.5h6.4M1439.4 248.5h-6.4" fill="none" stroke="#000" stroke-opacity="0.3" stroke-width="1.25"/>
<text x="836.4" y="265.3" text-anchor="middle">00:00</text>
<text x="911.8" y="265.3" text-anchor="middle">03:00</text>
<text x="987.1" y="265.3" text-anchor="middle">06:00</text>
<text x="1062.5" y="265.3" text-anchor="middle">09:00</text>
<text x="1137.9" y="265.3" text-anchor="middle">12:00</text>
<text x="1213.3" y="265.3" text-anchor="middle">15:00</text>
<text x="1288.7" y="265.3" text-anchor="middle">18:00</text>
<text x="1364" y="265.3" text-anchor="middle">21:00</text>
<text x="1439.4" y="265.3" text-anchor="middle">00:00</text>
<text x="832.5" y="52" text-anchor="end">22</text>
<text x="832.5" y="68.7" text-anchor="end">20</text>
<text x="832.5" y="87.2" text-anchor="end">18</text>
<text x="832.5" y="107.8" text-anchor="end">16</text>
<text x="832.5" y="131.1" text-anchor="end">14</text>
<text x="832.5" y="158.1" text-anchor="end">12</text>
<text x="832.5" y="190" text-anchor="end">10</text>
<text x="832.5" y="208.5" text-anchor="end">9</text>
<text x="832.5" y="229.1" text-anchor="end">8</text>
<text x="832.5" y="252.4" text-anchor="end">7</text>
<text x="810.2" y="148.4" text-anchor="middle" font-weight="bold" transform="rotate(-90 810.2 148.4)">freq (mHz)</text>
<g><path d="M1458.3 46.30h25.5v3.79h-25.5z" fill="#800000"/><path d="M1458.3 49.49h25.5v3.79h-25.5z" fill="#900000"/><path d="M1458.3 52.68h25.5v3.79h-25.5z" fill="#a00000"/><path d="M1458.3 55.87h25.5v3.79h-25.5z" fill="#b00000"/><path d="M1458.3 59.06h25.5v3.79h-25.5z" fill="#c00000"/><path d="M1458.3 62.25h25.5v3.79h-25.5z" fill="#d00000"/><path d="M1458.3 65.44h25.5v3.79h-25.5z" fill="#e10000"/><path d="M1458.3 68.63h25.5v3.79h-25.5z" fill="#f10000"/><path d="M1458.3 71.82h25.5v3.79h-25.5z" fill="#ff0200"/><path d="M1458.3 75.02h25.5v3.79h-25.5z" fill="#ff1200"/><path d="M1458.3 78.21h25.5v3.79h-25.5z" fill="#ff2200"/><path d="M1458.3 81.40h25.5v3.79h-25.5z" fill="#ff3300"/><path d="M1458.3 84.59h25.5v3.79h-25.5z" fill="#ff4300"/><path d="M1458.3 87.78h25.5v3.79h-25.5z" fill="#ff5300"/><path d="M1458.3 90.97h25.5v3.79h-25.5z" fill="#ff6300"/><path d="M1458.3 94.16h25.5v3.79h-25.5z" fill="#ff7300"/><path d="M1458.3 97.35h25.5v3.79h-25.5z" fill="#ff8400"/><path d="M1458.3 100.54h25.5v3.79h-25.5z" fill="#ff9400"/><path d="M1458.3 103.73h25.5v3.79h-25.5z" fill="#ffa400"/><path d="M1458.3 106.92h25.5v3.79h-25.5z" fill="#ffb400"/><path d="M1458.3 110.11h25.5v3.79h-25.5z" fill="#ffc400"/><path d="M1458.3 113.30h25.5v3.79h-25.5z" fill="#ffd500"/><path d="M1458.3 116.49h25.5v3.79h-25.5z" fill="#ffe500"/><path d="M1458.3 119.68h25.5v3.79h-25.5z" fill="#fff500"/><path d="M1458.3 122.87h25.5v3.79h-25.5z" fill="#f9ff06"/><path d="M1458.3 126.07h25.5v3.79h-25.5z" fill="#e9ff16"/><path d="M1458.3 129.26h25.5v3.79h-25.5z" fill="#d9ff26"/><path d="M1458.3 132.45h25.5v3.79h-25.5z" fill="#c8ff37"/><path d="M1458.3 135.64h25.5v3.79h-25.5z" fill="#b8ff47"/><path d="M1458.3 138.83h25.5v3.79h-25.5z" fill="#a8ff57"/><path d="M1458.3 142.02h25.5v3.79h-25.5z" fill="#98ff67"/><path d="M1458.3 145.21h25.5v3.79h-25.5z" fill="#88ff77"/><path d="M1458.3 148.40h25.5v3.79h-25.5z" fill="#77ff88"/><path d="M1458.3 151.59h25.5v3.79h-25.5z" fill="#67ff98"/><path d="M1458.3 154.78h25.5v3.79h-25.5z" fill="#57ffa8"/><path d="M1458.3 157.97h25.5v3.79h-25.5z" fill="#47ffb8"/><path d="M1458.3 161.16h25.5v3.79h-25.5z" fill="#37ffc8"/><path d="M1458.3 164.35h25.5v3.79h-25.5z" fill="#26ffd9"/><path d="M1458.3 167.54h25.5v3.79h-25.5z" fill="#16ffe9"/><path d="M1458.3 170.73h25.5v3.79h-25.5z" fill="#06fff9"/><path d="M1458.3 173.93h25.5v3.79h-25.5z" fill="#00f5ff"/><path d="M1458.3 177.12h25.5v3.79h-25.5z" fill="#00e5ff"/><path d="M1458.3 180.31h25.5v3.79h-25.5z" fill="#00d4ff"/><path d="M1458.3 183.50h25.5v3.79h-25.5z" fill="#00c4ff"/><path d="M1458.3 186.69h25.5v3.79h-25.5z" fill="#00b4ff"/><path d="M1458.3 189.88h25.5v3.79h-25.5z" fill="#00a4ff"/><path d="M1458.3 193.07h25.5v3.79h-25.5z" fill="#0094ff"/><path d="M1458.3 196.26h25.5v3.79h-25.5z" fill="#0084ff"/><path d="M1458.3 199.45h25.5v3.79h-25.5z" fill="#0073ff"/><path d="M1458.3 202.64h25.5v3.79h-25.5z" fill="#0063ff"/><path d="M1458.3 205.83h25.5v3.79h-25.5z" fill="#0053ff"/><path d="M1458.3 209.02h25.5v3.79h-25.5z" fill="#0043ff"/><path d="M1458.3 212.21h25.5v3.79h-25.5z" fill="#0033ff"/><path d="M1458.3 215.40h25.5v3.79h-25.5z" fill="#0022ff"/><path d="M1458.3 218.59h25.5v3.79h-25.5z" fill="#0012ff"/><path d="M1458.3 221.78h25.5v3.79h-25.5z" fill="#0002ff"/><path d="M1458.3 224.97h25.5v3.79h-25.5z" fill="#0000f1"/><path d="M1458.3 228.17h25.5v3.79h-25.5z" fill="#0000e1"/><path d="M1458.3 231.36h25.5v3.79h-25.5z" fill="#0000d0"/><path d="M1458.3 234.55h25.5v3.79h-25.5z" fill="#0000c0"/><path d="M1458.3 237.74h25.5v3.79h-25.5z" fill="#0000b0"/><path d="M1458.3 240.93h25.5v3.79h-25.5z" fill="#0000a0"/><path d="M1458.3 244.12h25.5v3.79h-25.5z" fill="#000090"/><path d="M1458.3 247.31h25.5v3.19h-25.5z" fill="#000080"/></g>
<path d="M1458.3 46.3H1483.8V250.5H1458.3ZM1458.3 80.3h2.5M1483.8 80.3h-2.5M1458.3 114.4h2.5M1483.8 114.4h-2.5M1458.3 148.4h2.5M1483.8 148.4h-2.5M1458.3 182.4h2.5M1483.8 182.4h-2.5M1458.3 216.5h2.5M1483.8 216.5h-2.5" fill="none" stroke="#000" stroke-opacity="0.35" stroke-width="1.1"/>
<text x="1486.8" y="50.2">4</text>
<text x="1486.8" y="84.3">3</text>
<text x="1486.8" y="118.3">2</text>
<text x="1486.8" y="152.3">1</text>
<text x="1486.8" y="186.4">0</text>
<text x="1486.8" y="220.4">-1</text>
<text x="1486.8" y="254.4">-2</text>
<text x="1519.4" y="148.4" text-anchor="middle" font-weight="bold" transform="rotate(-90 1519.4 148.4)">log<tspan dy="5.6" font-size="10.4">2</tspan><tspan dy="-5.6">(nT</tspan><tspan dy="-6.5" font-size="10.4">2</tspan><tspan dy="6.5">/Hz)</tspan></text>
<rect x="836.4" y="330.3" width="603" height="204.1" fill="#00008f"/>
<g clip-path="url(#cs1)">
<g filter="url(#bl)">
<path d="M883.1,515.3 882.6,519.3 882.3,524.3 882.1,534.3 884.5,534.3 884.3,524.3 884,519.3 883.5,515.3Z" fill="#0000cc"/>
<path d="M883,524.3 882.6,527.3 882.5,534.3 884.1,534.3 884,527.3 883.6,524.3Z" fill="#0000ff"/>
<path d="M892.7,484.3 892.3,486.3 891.7,492.3 890.8,506.3 890.3,520.3 890.3,534.3 895.5,534.3 895.5,520.3 895,506.3 894.1,492.3 893.5,486.3 893.1,484.3Z" fill="#0000cc"/>
<path d="M892.6,490.3 891.8,495.3 891,506.3 890.4,520.3 890.3,534.3 895.5,534.3 895.4,520.3 894.8,506.3 894,495.3 893.2,490.3Z" fill="#0000ff"/>
<path d="M892.7,495.3 892,498.3 891.2,506.3 890.5,520.3 890.5,534.3 895.3,534.3 895.3,520.3 894.6,506.3 893.8,498.3 893.1,495.3Z" fill="#0033ff"/>
<path d="M892.7,500.3 892.1,502.3 891.7,505.3 891.1,514.3 890.7,520.3 890.7,534.3 895.1,534.3 895.1,520.3 894.7,514.3 894.1,505.3 893.7,502.3 893.1,500.3Z" fill="#0066ff"/>
<path d="M892.6,505.3 892.3,506.3 891.9,509.3 891,520.3 890.9,534.3 894.9,534.3 894.8,520.3 893.9,509.3 893.5,506.3 893.2,505.3Z" fill="#0099ff"/>
<path d="M892.6,511.3 892,514.3 891.4,520.3 891.2,534.3 894.6,534.3 894.4,520.3 893.8,514.3 893.2,511.3Z" fill="#00ccff"/>
<path d="M892.4,518.3 892,520.3 891.7,534.3 894.1,534.3 893.8,520.3 893.4,518.3Z" fill="#00ffff"/>
<path d="M933.1,426.3 932.6,465.3 933.1,481.3 933.3,481.3 933.8,465.3 933.3,426.3Z" fill="#0000cc"/>
<path d="M1112.1,487.3 1111.7,492.3 1111.3,503.3 1111,518.3 1110.9,534.3 1113.5,534.3 1113.4,518.3 1113.1,503.3 1112.7,492.3 1112.3,487.3Z" fill="#0000cc"/>
<path d="M1112,501.3 1111.6,506.3 1111.2,518.3 1111.1,534.3 1113.3,534.3 1113.2,518.3 1112.8,506.3 1112.4,501.3Z" fill="#0000ff"/>
<path d="M1112,515.3 1111.7,519.3 1111.5,534.3 1112.9,534.3 1112.7,519.3 1112.4,515.3Z" fill="#0033ff"/>
<path d="M1122.8,466.3 1122.4,475.3 1122.1,492.3 1121.9,534.3 1123.9,534.3 1123.7,492.3 1123.4,475.3 1123,466.3Z" fill="#0000cc"/>
<path d="M1122.7,505.3 1122.4,534.3 1123.4,534.3 1123.1,505.3Z" fill="#0000ff"/>
<path d="M1127.2,377.3 1126.7,443.3 1126.8,451.3 1127,455.3 1127.4,455.3 1127.6,451.3 1127.7,443.3 1127.2,377.3ZM1127,457.3 1126.7,465.3 1126.3,483.3 1126,508.3 1125.9,534.3 1128.5,534.3 1128.4,508.3 1128.1,483.3 1127.7,465.3 1127.4,457.3Z" fill="#0000cc"/>
<path d="M1127.2,401.3 1126.9,430.3 1127.1,443.3 1127.3,443.3 1127.5,430.3 1127.2,401.3ZM1127,479.3 1126.6,487.3 1126.2,506.3 1126.1,534.3 1128.3,534.3 1128.2,506.3 1127.8,487.3 1127.4,479.3Z" fill="#0000ff"/>
<path d="M1127.2,426.3 1127.1,431.3 1127.3,431.3 1127.2,426.3ZM1127,503.3 1126.7,508.3 1126.5,534.3 1127.9,534.3 1127.7,508.3 1127.4,503.3Z" fill="#0033ff"/>
<path d="M1132.1,418.3 1131.8,425.3 1130.7,467.3 1129.7,489.3 1129,511.3 1129,534.3 1135.6,534.3 1135.6,511.3 1134.9,489.3 1133.9,467.3 1132.8,425.3 1132.5,418.3Z" fill="#0000cc"/>
<path d="M1132.1,431.3 1131.7,439.3 1131,467.3 1129.8,489.3 1129,511.3 1129,534.3 1135.6,534.3 1135.6,511.3 1134.8,489.3 1133.6,467.3 1132.9,439.3 1132.5,431.3Z" fill="#0000ff"/>
<path d="M1132.2,443.3 1132,445.3 1131.5,467.3 1130.9,473.3 1130.3,483.3 1129.3,505.3 1129.1,512.3 1129.1,534.3 1135.5,534.3 1135.5,512.3 1135.3,505.3 1134.3,483.3 1133.7,473.3 1133.1,467.3 1132.6,445.3 1132.4,443.3Z" fill="#0033ff"/>
<path d="M1132,470.3 1131.5,472.3 1131,477.3 1129.9,493.3 1129.2,512.3 1129.1,534.3 1135.5,534.3 1135.4,512.3 1134.7,493.3 1133.6,477.3 1133.1,472.3 1132.6,470.3Z" fill="#0066ff"/>
<path d="M1131.8,476.3 1131.3,479.3 1130.7,485.3 1129.8,501.3 1129.3,512.3 1129.2,534.3 1135.4,534.3 1135.3,512.3 1134.8,501.3 1133.9,485.3 1133.3,479.3 1132.8,476.3Z" fill="#0099ff"/>
<path d="M1131.9,481.3 1131.3,484.3 1130.8,489.3 1129.8,504.3 1129.5,512.3 1129.3,534.3 1135.3,534.3 1135.1,512.3 1134.8,504.3 1133.8,489.3 1133.3,484.3 1132.7,481.3Z" fill="#00ccff"/>
<path d="M1132,486.3 1131.5,488.3 1131,492.3 1130,506.3 1129.7,512.3 1129.5,534.3 1135.1,534.3 1134.9,512.3 1134.6,506.3 1133.6,492.3 1133.1,488.3 1132.6,486.3Z" fill="#00ffff"/>
<path d="M1132.2,491.3 1131.7,492.3 1131.2,495.3 1130.2,507.3 1129.9,512.3 1129.6,534.3 1135,534.3 1134.7,512.3 1134.4,507.3 1133.4,495.3 1132.9,492.3 1132.4,491.3Z" fill="#33ffcc"/>
<path d="M1132.1,496.3 1131.7,497.3 1131.2,500.3 1130.2,511.3 1129.8,534.3 1134.8,534.3 1134.4,511.3 1133.4,500.3 1132.9,497.3 1132.5,496.3Z" fill="#66ff99"/>
<path d="M1132,501.3 1131.7,502.3 1131.2,505.3 1130.5,512.3 1130,534.3 1134.6,534.3 1134.1,512.3 1133.4,505.3 1132.9,502.3 1132.6,501.3Z" fill="#99ff66"/>
<path d="M1132,506.3 1131.4,508.3 1130.9,512.3 1130.2,534.3 1134.4,534.3 1133.7,512.3 1133.2,508.3 1132.6,506.3Z" fill="#ccff33"/>
<path d="M1131.9,511.3 1131.5,513.3 1131.1,518.3 1130.5,534.3 1134.1,534.3 1133.5,518.3 1133.1,513.3 1132.7,511.3Z" fill="#ffff00"/>
<path d="M1132.1,519.3 1131.4,524.3 1130.9,534.3 1133.7,534.3 1133.2,524.3 1132.5,519.3Z" fill="#ffcc00"/>
<path d="M1132.2,528.3 1131.8,530.3 1131.4,534.3 1133.2,534.3 1132.8,530.3 1132.4,528.3Z" fill="#ff9900"/>
<path d="M1167.2,461.3 1166.6,471.3 1165.8,496.3 1166.5,517.3 1167,524.3 1167.6,524.3 1168.1,517.3 1168.8,496.3 1168,471.3 1167.4,461.3Z" fill="#0000cc"/>
<path d="M1167.1,467.3 1166.5,477.3 1165.9,496.3 1166.6,514.3 1166.9,518.3 1167.2,520.3 1167.4,520.3 1167.7,518.3 1168,514.3 1168.7,496.3 1168.1,477.3 1167.5,467.3Z" fill="#0000ff"/>
<path d="M1167.1,473.3 1166.6,480.3 1166,496.3 1166.6,510.3 1167.1,515.3 1167.5,515.3 1168,510.3 1168.6,496.3 1168,480.3 1167.5,473.3Z" fill="#0033ff"/>
<path d="M1167.1,479.3 1166.7,484.3 1166.1,496.3 1166.6,506.3 1167.1,510.3 1167.5,510.3 1168,506.3 1168.5,496.3 1167.9,484.3 1167.5,479.3Z" fill="#0066ff"/>
<path d="M1167.1,485.3 1166.3,496.3 1167,505.3 1167.6,505.3 1168.3,496.3 1167.5,485.3Z" fill="#0099ff"/>
<path d="M1167,491.3 1166.6,496.3 1167,500.3 1167.6,500.3 1168,496.3 1167.6,491.3Z" fill="#00ccff"/>
<path d="M1174.6,476.3 1174,484.3 1173.4,501.3 1173.1,518.3 1173,534.3 1176.4,534.3 1176.3,518.3 1176,501.3 1175.4,484.3 1174.8,476.3Z" fill="#0000cc"/>
<path d="M1174.6,484.3 1174.1,489.3 1173.5,501.3 1173.1,517.3 1173.1,534.3 1176.3,534.3 1176.3,517.3 1175.9,501.3 1175.3,489.3 1174.8,484.3Z" fill="#0000ff"/>
<path d="M1174.5,491.3 1174,496.3 1173.5,507.3 1173.2,518.3 1173.2,534.3 1176.2,534.3 1176.2,518.3 1175.9,507.3 1175.4,496.3 1174.9,491.3Z" fill="#0033ff"/>
<path d="M1174.5,498.3 1174,503.3 1173.5,516.3 1173.3,534.3 1176.1,534.3 1175.9,516.3 1175.4,503.3 1174.9,498.3Z" fill="#0066ff"/>
<path d="M1174.5,505.3 1174.1,509.3 1173.6,517.3 1173.5,534.3 1175.9,534.3 1175.8,517.3 1175.3,509.3 1174.9,505.3Z" fill="#0099ff"/>
<path d="M1174.5,512.3 1174,518.3 1173.7,534.3 1175.7,534.3 1175.4,518.3 1174.9,512.3Z" fill="#00ccff"/>
<path d="M1174.6,522.3 1174.1,534.3 1175.3,534.3 1174.8,522.3Z" fill="#00ffff"/>
</g><g>
<linearGradient id="g1_3_1" gradientUnits="userSpaceOnUse" x1="0" x2="0" y1="330.3" y2="492.1"><stop offset="0.000" stop-color="#d5ff2a" stop-opacity="0.80"/><stop offset="0.246" stop-color="#5dffa2" stop-opacity="0.80"/><stop offset="0.403" stop-color="#00ffff" stop-opacity="0.80"/><stop offset="0.431" stop-color="#00eeff" stop-opacity="0.80"/><stop offset="0.666" stop-color="#005eff" stop-opacity="0.80"/><stop offset="0.847" stop-color="#0000ff" stop-opacity="0.80"/><stop offset="0.864" stop-color="#0000f6" stop-opacity="0.80"/><stop offset="0.983" stop-color="#000080" stop-opacity="0.80"/><stop offset="1.000" stop-color="#000080" stop-opacity="0"/></linearGradient>
<path d="M990.80,330.3 990.80,370 990.78,400 990.74,438.1 990.74,470.1 990.74,492.1 991.86,492.1 991.86,470.1 991.86,438.1 991.82,400 991.80,370 991.80,330.3Z" fill="url(#g1_3_1)"/>
<linearGradient id="g1_4_1" gradientUnits="userSpaceOnUse" x1="0" x2="0" y1="330.3" y2="522.1"><stop offset="0.000" stop-color="#19ffe6" stop-opacity="0.80"/><stop offset="0.065" stop-color="#00ffff" stop-opacity="0.80"/><stop offset="0.259" stop-color="#00b2ff" stop-opacity="0.80"/><stop offset="0.494" stop-color="#005eff" stop-opacity="0.80"/><stop offset="0.807" stop-color="#0000ff" stop-opacity="0.80"/><stop offset="0.977" stop-color="#000080" stop-opacity="0.80"/><stop offset="1.000" stop-color="#000080" stop-opacity="0"/></linearGradient>
<path d="M1045.40,330.3 1045.38,380 1045.34,425 1045.34,485.1 1045.34,522.1 1046.46,522.1 1046.46,485.1 1046.46,425 1046.42,380 1046.40,330.3Z" fill="url(#g1_4_1)"/>
<linearGradient id="g1_5_0" gradientUnits="userSpaceOnUse" x1="0" x2="0" y1="330.3" y2="534.4"><stop offset="0.000" stop-color="#0074ff"/><stop offset="0.042" stop-color="#00dfff"/><stop offset="0.048" stop-color="#00edff"/><stop offset="0.106" stop-color="#42ffbd"/><stop offset="0.204" stop-color="#6cff93"/><stop offset="0.317" stop-color="#84ff7b"/><stop offset="0.636" stop-color="#a0ff5f"/><stop offset="0.856" stop-color="#b3ff4c"/><stop offset="1.000" stop-color="#c5ff3a"/></linearGradient>
<path d="M1107.90,330.3 1107.86,340 1107.80,352 1107.72,372 1107.62,395 1107.13,460.1 1106.51,505.1 1105.43,534.4 1111.17,534.4 1110.09,505.1 1109.47,460.1 1108.98,395 1108.88,372 1108.80,352 1108.74,340 1108.70,330.3Z" fill="url(#g1_5_0)" fill-opacity="0.6"/>
<linearGradient id="g1_5_1" gradientUnits="userSpaceOnUse" x1="0" x2="0" y1="330.3" y2="534.4"><stop offset="0.000" stop-color="#3cffc3" stop-opacity="0.80"/><stop offset="0.042" stop-color="#ffff00" stop-opacity="0.80"/><stop offset="0.048" stop-color="#ffe500" stop-opacity="0.80"/><stop offset="0.106" stop-color="#ff4d00" stop-opacity="0.80"/><stop offset="0.204" stop-color="#ff0000" stop-opacity="0.80"/><stop offset="0.317" stop-color="#d50000" stop-opacity="0.83"/><stop offset="0.636" stop-color="#a20000"/><stop offset="0.856" stop-color="#800000"/><stop offset="1.000" stop-color="#800000"/></linearGradient>
<path d="M1107.90,330.3 1107.86,340 1107.80,352 1107.72,372 1107.62,395 1107.24,460.1 1106.89,505.1 1106.28,534.4 1110.32,534.4 1109.71,505.1 1109.36,460.1 1108.98,395 1108.88,372 1108.80,352 1108.74,340 1108.70,330.3Z" fill="url(#g1_5_1)"/>
<linearGradient id="g1_12_1" gradientUnits="userSpaceOnUse" x1="0" x2="0" y1="330.3" y2="520.1"><stop offset="0.000" stop-color="#6eff90" stop-opacity="0.80"/><stop offset="0.262" stop-color="#4dffb2" stop-opacity="0.80"/><stop offset="0.499" stop-color="#08fff7" stop-opacity="0.80"/><stop offset="0.510" stop-color="#00ffff" stop-opacity="0.80"/><stop offset="0.700" stop-color="#006eff" stop-opacity="0.80"/><stop offset="0.881" stop-color="#0000ff" stop-opacity="0.80"/><stop offset="0.895" stop-color="#0000f6" stop-opacity="0.80"/><stop offset="0.987" stop-color="#000080" stop-opacity="0.80"/><stop offset="1.000" stop-color="#000080" stop-opacity="0"/></linearGradient>
<path d="M1189.92,330.3 1189.90,380 1189.88,425 1189.84,463.1 1189.84,500.1 1189.84,520.1 1190.96,520.1 1190.96,500.1 1190.96,463.1 1190.92,425 1190.90,380 1190.88,330.3Z" fill="url(#g1_12_1)"/>
<linearGradient id="g1_13_1" gradientUnits="userSpaceOnUse" x1="0" x2="0" y1="330.3" y2="445.1"><stop offset="0.000" stop-color="#003cff" stop-opacity="0.81"/><stop offset="0.425" stop-color="#0000ff" stop-opacity="0.81"/><stop offset="0.608" stop-color="#0000e5" stop-opacity="0.81"/><stop offset="0.944" stop-color="#000080" stop-opacity="0"/><stop offset="1.000" stop-color="#000080" stop-opacity="0"/></linearGradient>
<path d="M1205.96,330.3 1205.96,400 1205.96,445.1 1207.24,445.1 1207.24,400 1207.24,330.3Z" fill="url(#g1_13_1)"/>
<linearGradient id="g1_14_1" gradientUnits="userSpaceOnUse" x1="0" x2="0" y1="330.3" y2="505.1"><stop offset="0.000" stop-color="#55ffaa" stop-opacity="0.80"/><stop offset="0.363" stop-color="#00ffff" stop-opacity="0.80"/><stop offset="0.399" stop-color="#00f7ff" stop-opacity="0.80"/><stop offset="0.616" stop-color="#005eff" stop-opacity="0.80"/><stop offset="0.805" stop-color="#0000ff" stop-opacity="0.80"/><stop offset="0.857" stop-color="#0000e5" stop-opacity="0.80"/><stop offset="0.980" stop-color="#000080" stop-opacity="0"/><stop offset="1.000" stop-color="#000080" stop-opacity="0"/></linearGradient>
<path d="M1241.12,330.3 1241.10,400 1241.04,438.1 1241.04,480.1 1241.04,505.1 1242.16,505.1 1242.16,480.1 1242.16,438.1 1242.10,400 1242.08,330.3Z" fill="url(#g1_14_1)"/>
<linearGradient id="g1_15_1" gradientUnits="userSpaceOnUse" x1="0" x2="0" y1="330.3" y2="415"><stop offset="0.000" stop-color="#0000e5" stop-opacity="0.80"/><stop offset="0.857" stop-color="#000080" stop-opacity="0"/><stop offset="1.000" stop-color="#000080" stop-opacity="0"/></linearGradient>
<path d="M1248.44,330.3 1248.44,415 1249.56,415 1249.56,330.3Z" fill="url(#g1_15_1)"/>
<linearGradient id="g1_16_1" gradientUnits="userSpaceOnUse" x1="0" x2="0" y1="330.3" y2="400"><stop offset="0.000" stop-color="#0000b2" stop-opacity="0.80"/><stop offset="0.750" stop-color="#000080" stop-opacity="0"/><stop offset="1.000" stop-color="#000080" stop-opacity="0"/></linearGradient>
<path d="M1223.04,330.3 1223.04,400 1224.16,400 1224.16,330.3Z" fill="url(#g1_16_1)"/>
<linearGradient id="g1_17_1" gradientUnits="userSpaceOnUse" x1="0" x2="0" y1="330.3" y2="500.1"><stop offset="0.000" stop-color="#00b2ff" stop-opacity="0.80"/><stop offset="0.411" stop-color="#003cff" stop-opacity="0.80"/><stop offset="0.583" stop-color="#0000ff" stop-opacity="0.80"/><stop offset="0.951" stop-color="#000080" stop-opacity="0"/><stop offset="1.000" stop-color="#000080" stop-opacity="0"/></linearGradient>
<path d="M1305.28,330.3 1305.24,400 1305.24,500.1 1306.36,500.1 1306.36,400 1306.32,330.3Z" fill="url(#g1_17_1)"/>
</g></g>
<path d="M836.4 330.3H1439.4V534.4H836.4ZM911.8 534.4v-6.4M911.8 330.3v6.4M987.1 534.4v-6.4M987.1 330.3v6.4M1062.5 534.4v-6.4M1062.5 330.3v6.4M1137.9 534.4v-6.4M1137.9 330.3v6.4M1213.3 534.4v-6.4M1213.3 330.3v6.4M1288.7 534.4v-6.4M1288.7 330.3v6.4M1364 534.4v-6.4M1364 330.3v6.4M836.4 332.1h6.4M1439.4 332.1h-6.4M836.4 348.8h6.4M1439.4 348.8h-6.4M836.4 367.2h6.4M1439.4 367.2h-6.4M836.4 387.8h6.4M1439.4 387.8h-6.4M836.4 411.2h6.4M1439.4 411.2h-6.4M836.4 438.2h6.4M1439.4 438.2h-6.4M836.4 470.1h6.4M1439.4 470.1h-6.4M836.4 488.5h6.4M1439.4 488.5h-6.4M836.4 509.1h6.4M1439.4 509.1h-6.4M836.4 532.5h6.4M1439.4 532.5h-6.4" fill="none" stroke="#000" stroke-opacity="0.3" stroke-width="1.25"/>
<text x="836.4" y="549.2" text-anchor="middle">00:00</text>
<text x="911.8" y="549.2" text-anchor="middle">03:00</text>
<text x="987.1" y="549.2" text-anchor="middle">06:00</text>
<text x="1062.5" y="549.2" text-anchor="middle">09:00</text>
<text x="1137.9" y="549.2" text-anchor="middle">12:00</text>
<text x="1213.3" y="549.2" text-anchor="middle">15:00</text>
<text x="1288.7" y="549.2" text-anchor="middle">18:00</text>
<text x="1364" y="549.2" text-anchor="middle">21:00</text>
<text x="1439.4" y="549.2" text-anchor="middle">00:00</text>
<text x="832.5" y="336" text-anchor="end">22</text>
<text x="832.5" y="352.7" text-anchor="end">20</text>
<text x="832.5" y="371.2" text-anchor="end">18</text>
<text x="832.5" y="391.8" text-anchor="end">16</text>
<text x="832.5" y="415.1" text-anchor="end">14</text>
<text x="832.5" y="442.1" text-anchor="end">12</text>
<text x="832.5" y="474" text-anchor="end">10</text>
<text x="832.5" y="492.5" text-anchor="end">9</text>
<text x="832.5" y="513.1" text-anchor="end">8</text>
<text x="832.5" y="536.4" text-anchor="end">7</text>
<text x="810.2" y="432.4" text-anchor="middle" font-weight="bold" transform="rotate(-90 810.2 432.4)">freq (mHz)</text>
<g><path d="M1458.3 330.30h25.5v3.79h-25.5z" fill="#800000"/><path d="M1458.3 333.49h25.5v3.79h-25.5z" fill="#900000"/><path d="M1458.3 336.68h25.5v3.79h-25.5z" fill="#a00000"/><path d="M1458.3 339.87h25.5v3.79h-25.5z" fill="#b00000"/><path d="M1458.3 343.06h25.5v3.79h-25.5z" fill="#c00000"/><path d="M1458.3 346.25h25.5v3.79h-25.5z" fill="#d00000"/><path d="M1458.3 349.43h25.5v3.79h-25.5z" fill="#e10000"/><path d="M1458.3 352.62h25.5v3.79h-25.5z" fill="#f10000"/><path d="M1458.3 355.81h25.5v3.79h-25.5z" fill="#ff0200"/><path d="M1458.3 359.00h25.5v3.79h-25.5z" fill="#ff1200"/><path d="M1458.3 362.19h25.5v3.79h-25.5z" fill="#ff2200"/><path d="M1458.3 365.38h25.5v3.79h-25.5z" fill="#ff3300"/><path d="M1458.3 368.57h25.5v3.79h-25.5z" fill="#ff4300"/><path d="M1458.3 371.76h25.5v3.79h-25.5z" fill="#ff5300"/><path d="M1458.3 374.95h25.5v3.79h-25.5z" fill="#ff6300"/><path d="M1458.3 378.14h25.5v3.79h-25.5z" fill="#ff7300"/><path d="M1458.3 381.32h25.5v3.79h-25.5z" fill="#ff8400"/><path d="M1458.3 384.51h25.5v3.79h-25.5z" fill="#ff9400"/><path d="M1458.3 387.70h25.5v3.79h-25.5z" fill="#ffa400"/><path d="M1458.3 390.89h25.5v3.79h-25.5z" fill="#ffb400"/><path d="M1458.3 394.08h25.5v3.79h-25.5z" fill="#ffc400"/><path d="M1458.3 397.27h25.5v3.79h-25.5z" fill="#ffd500"/><path d="M1458.3 400.46h25.5v3.79h-25.5z" fill="#ffe500"/><path d="M1458.3 403.65h25.5v3.79h-25.5z" fill="#fff500"/><path d="M1458.3 406.84h25.5v3.79h-25.5z" fill="#f9ff06"/><path d="M1458.3 410.03h25.5v3.79h-25.5z" fill="#e9ff16"/><path d="M1458.3 413.22h25.5v3.79h-25.5z" fill="#d9ff26"/><path d="M1458.3 416.40h25.5v3.79h-25.5z" fill="#c8ff37"/><path d="M1458.3 419.59h25.5v3.79h-25.5z" fill="#b8ff47"/><path d="M1458.3 422.78h25.5v3.79h-25.5z" fill="#a8ff57"/><path d="M1458.3 425.97h25.5v3.79h-25.5z" fill="#98ff67"/><path d="M1458.3 429.16h25.5v3.79h-25.5z" fill="#88ff77"/><path d="M1458.3 432.35h25.5v3.79h-25.5z" fill="#77ff88"/><path d="M1458.3 435.54h25.5v3.79h-25.5z" fill="#67ff98"/><path d="M1458.3 438.73h25.5v3.79h-25.5z" fill="#57ffa8"/><path d="M1458.3 441.92h25.5v3.79h-25.5z" fill="#47ffb8"/><path d="M1458.3 445.11h25.5v3.79h-25.5z" fill="#37ffc8"/><path d="M1458.3 448.30h25.5v3.79h-25.5z" fill="#26ffd9"/><path d="M1458.3 451.48h25.5v3.79h-25.5z" fill="#16ffe9"/><path d="M1458.3 454.67h25.5v3.79h-25.5z" fill="#06fff9"/><path d="M1458.3 457.86h25.5v3.79h-25.5z" fill="#00f5ff"/><path d="M1458.3 461.05h25.5v3.79h-25.5z" fill="#00e5ff"/><path d="M1458.3 464.24h25.5v3.79h-25.5z" fill="#00d4ff"/><path d="M1458.3 467.43h25.5v3.79h-25.5z" fill="#00c4ff"/><path d="M1458.3 470.62h25.5v3.79h-25.5z" fill="#00b4ff"/><path d="M1458.3 473.81h25.5v3.79h-25.5z" fill="#00a4ff"/><path d="M1458.3 477.00h25.5v3.79h-25.5z" fill="#0094ff"/><path d="M1458.3 480.19h25.5v3.79h-25.5z" fill="#0084ff"/><path d="M1458.3 483.38h25.5v3.79h-25.5z" fill="#0073ff"/><path d="M1458.3 486.56h25.5v3.79h-25.5z" fill="#0063ff"/><path d="M1458.3 489.75h25.5v3.79h-25.5z" fill="#0053ff"/><path d="M1458.3 492.94h25.5v3.79h-25.5z" fill="#0043ff"/><path d="M1458.3 496.13h25.5v3.79h-25.5z" fill="#0033ff"/><path d="M1458.3 499.32h25.5v3.79h-25.5z" fill="#0022ff"/><path d="M1458.3 502.51h25.5v3.79h-25.5z" fill="#0012ff"/><path d="M1458.3 505.70h25.5v3.79h-25.5z" fill="#0002ff"/><path d="M1458.3 508.89h25.5v3.79h-25.5z" fill="#0000f1"/><path d="M1458.3 512.08h25.5v3.79h-25.5z" fill="#0000e1"/><path d="M1458.3 515.27h25.5v3.79h-25.5z" fill="#0000d0"/><path d="M1458.3 518.45h25.5v3.79h-25.5z" fill="#0000c0"/><path d="M1458.3 521.64h25.5v3.79h-25.5z" fill="#0000b0"/><path d="M1458.3 524.83h25.5v3.79h-25.5z" fill="#0000a0"/><path d="M1458.3 528.02h25.5v3.79h-25.5z" fill="#000090"/><path d="M1458.3 531.21h25.5v3.19h-25.5z" fill="#000080"/></g>
<path d="M1458.3 330.3H1483.8V534.4H1458.3ZM1458.3 364.3h2.5M1483.8 364.3h-2.5M1458.3 398.3h2.5M1483.8 398.3h-2.5M1458.3 432.4h2.5M1483.8 432.4h-2.5M1458.3 466.4h2.5M1483.8 466.4h-2.5M1458.3 500.4h2.5M1483.8 500.4h-2.5" fill="none" stroke="#000" stroke-opacity="0.35" stroke-width="1.1"/>
<text x="1486.8" y="334.2">4</text>
<text x="1486.8" y="368.3">3</text>
<text x="1486.8" y="402.3">2</text>
<text x="1486.8" y="436.3">1</text>
<text x="1486.8" y="470.3">0</text>
<text x="1486.8" y="504.3">-1</text>
<text x="1486.8" y="538.3">-2</text>
<text x="1519.4" y="432.4" text-anchor="middle" font-weight="bold" transform="rotate(-90 1519.4 432.4)">log<tspan dy="5.6" font-size="10.4">2</tspan><tspan dy="-5.6">(nT</tspan><tspan dy="-6.5" font-size="10.4">2</tspan><tspan dy="6.5">/Hz)</tspan></text>
<rect x="836.4" y="614.2" width="603" height="203.9" fill="#00008f"/>
<g clip-path="url(#cs2)">
<g filter="url(#bl)">
<path d="M845,750.2 844.3,760.2 843.5,780.2 843,799.2 843,817.2 847.4,817.2 847.4,799.2 846.9,780.2 846.1,760.2 845.4,750.2Z" fill="#0000cc"/>
<path d="M845,758.2 844.3,765.2 843.6,780.2 843.1,799.2 843.1,817.2 847.3,817.2 847.3,799.2 846.8,780.2 846.1,765.2 845.4,758.2Z" fill="#0000ff"/>
<path d="M845,765.2 844.5,769.2 843.8,780.2 843.2,799.2 843.2,817.2 847.2,817.2 847.2,799.2 846.6,780.2 845.9,769.2 845.4,765.2Z" fill="#0033ff"/>
<path d="M844.9,772.2 844.2,779.2 843.7,791.2 843.4,799.2 843.3,817.2 847.1,817.2 847,799.2 846.7,791.2 846.2,779.2 845.5,772.2Z" fill="#0066ff"/>
<path d="M844.9,779.2 844.3,785.2 843.7,798.2 843.5,817.2 846.9,817.2 846.7,798.2 846.1,785.2 845.5,779.2Z" fill="#0099ff"/>
<path d="M844.9,787.2 844.4,791.2 843.9,799.2 843.8,817.2 846.6,817.2 846.5,799.2 846,791.2 845.5,787.2Z" fill="#00ccff"/>
<path d="M845.1,795.2 844.5,799.2 844.2,817.2 846.2,817.2 845.9,799.2 845.3,795.2Z" fill="#00ffff"/>
<path d="M848.8,787.2 848.2,799.2 848,817.2 850,817.2 849.8,799.2 849.2,787.2Z" fill="#0000cc"/>
<path d="M848.8,799.2 848.3,806.2 848.2,817.2 849.8,817.2 849.7,806.2 849.2,799.2Z" fill="#0000ff"/>
<path d="M869.2,774.2 868.8,779.2 868.3,790.2 868,804.2 868,817.2 870.6,817.2 870.6,804.2 870.3,790.2 869.8,779.2 869.4,774.2Z" fill="#0000cc"/>
<path d="M869.1,785.2 868.7,790.2 868.3,801.2 868.2,817.2 870.4,817.2 870.3,801.2 869.9,790.2 869.5,785.2Z" fill="#0000ff"/>
<path d="M869.2,795.2 868.5,804.2 868.4,817.2 870.2,817.2 870.1,804.2 869.4,795.2Z" fill="#0033ff"/>
<path d="M869.2,809.2 868.8,817.2 869.8,817.2 869.4,809.2Z" fill="#0066ff"/>
<path d="M881.6,750.2 880.7,761.2 879.7,780.2 879.1,799.2 879.1,817.2 884.9,817.2 884.9,799.2 884.3,780.2 883.3,761.2 882.4,750.2Z" fill="#0000cc"/>
<path d="M881.7,757.2 880.8,764.2 879.9,780.2 879.2,799.2 879.2,817.2 884.8,817.2 884.8,799.2 884.1,780.2 883.2,764.2 882.3,757.2Z" fill="#0000ff"/>
<path d="M881.6,764.2 880.8,770.2 880.1,781.2 879.4,799.2 879.3,817.2 884.7,817.2 884.6,799.2 883.9,781.2 883.2,770.2 882.4,764.2Z" fill="#0033ff"/>
<path d="M881.6,770.2 881.2,772.2 880.7,777.2 880,789.2 879.6,799.2 879.5,817.2 884.5,817.2 884.4,799.2 884,789.2 883.3,777.2 882.8,772.2 882.4,770.2Z" fill="#0066ff"/>
<path d="M881.7,776.2 881.2,778.2 880.9,781.2 880,796.2 879.7,817.2 884.3,817.2 884,796.2 883.1,781.2 882.8,778.2 882.3,776.2Z" fill="#0099ff"/>
<path d="M881.6,783.2 880.9,788.2 880.2,799.2 880,817.2 884,817.2 883.8,799.2 883.1,788.2 882.4,783.2Z" fill="#00ccff"/>
<path d="M881.6,791.2 881.1,794.2 880.6,799.2 880.4,817.2 883.6,817.2 883.4,799.2 882.9,794.2 882.4,791.2Z" fill="#00ffff"/>
<path d="M881.6,799.2 881,817.2 883,817.2 882.4,799.2Z" fill="#33ffcc"/>
<path d="M885.1,778.2 884.6,783.2 884,795.2 883.7,806.2 883.6,817.2 887,817.2 886.9,806.2 886.6,795.2 886,783.2 885.5,778.2Z" fill="#0000cc"/>
<path d="M885.2,783.2 884.7,786.2 884.1,795.2 883.7,806.2 883.7,817.2 886.9,817.2 886.9,806.2 886.5,795.2 885.9,786.2 885.4,783.2Z" fill="#0000ff"/>
<path d="M885.1,788.2 884.6,792.2 884.1,799.2 883.9,806.2 883.8,817.2 886.8,817.2 886.7,806.2 886.5,799.2 886,792.2 885.5,788.2Z" fill="#0033ff"/>
<path d="M885,793.2 884.5,797.2 884,806.2 883.9,817.2 886.7,817.2 886.6,806.2 886.1,797.2 885.6,793.2Z" fill="#0066ff"/>
<path d="M885,798.2 884.2,806.2 884.1,817.2 886.5,817.2 886.4,806.2 885.6,798.2Z" fill="#0099ff"/>
<path d="M885,803.2 884.5,807.2 884.3,817.2 886.3,817.2 886.1,807.2 885.6,803.2Z" fill="#00ccff"/>
<path d="M885.1,810.2 884.7,817.2 885.9,817.2 885.5,810.2Z" fill="#00ffff"/>
<path d="M892.8,748.2 892.3,750.2 891.7,757.2 890.3,780.2 889.7,799.2 889.7,817.2 896.1,817.2 896.1,799.2 895.5,780.2 894.1,757.2 893.5,750.2 893,748.2Z" fill="#0000cc"/>
<path d="M892.5,755.2 891.5,763.2 890.5,780.2 889.8,799.2 889.8,817.2 896,817.2 896,799.2 895.3,780.2 894.3,763.2 893.3,755.2Z" fill="#0000ff"/>
<path d="M892.4,761.2 891.6,767.2 890.6,780.2 889.9,799.2 889.9,817.2 895.9,817.2 895.9,799.2 895.2,780.2 894.2,767.2 893.4,761.2Z" fill="#0033ff"/>
<path d="M892.5,766.2 892.1,768.2 891.6,772.2 890.7,783.2 890,799.2 890,817.2 895.8,817.2 895.8,799.2 895.1,783.2 894.2,772.2 893.7,768.2 893.3,766.2Z" fill="#0066ff"/>
<path d="M892.6,771.2 892.1,773.2 891.4,778.2 890.7,789.2 890.2,799.2 890.2,817.2 895.6,817.2 895.6,799.2 895.1,789.2 894.4,778.2 893.7,773.2 893.2,771.2Z" fill="#0099ff"/>
<path d="M892.7,776.2 892.3,777.2 891.8,780.2 890.7,794.2 890.5,799.2 890.4,817.2 895.4,817.2 895.3,799.2 895.1,794.2 894,780.2 893.5,777.2 893.1,776.2Z" fill="#00ccff"/>
<path d="M892.5,782.2 891.6,788.2 890.8,799.2 890.6,817.2 895.2,817.2 895,799.2 894.2,788.2 893.3,782.2Z" fill="#00ffff"/>
<path d="M892.8,788.2 892.4,789.2 892,791.2 891.2,799.2 891,817.2 894.8,817.2 894.6,799.2 893.8,791.2 893.4,789.2 893,788.2Z" fill="#33ffcc"/>
<path d="M892.5,795.2 891.8,799.2 891.4,817.2 894.4,817.2 894,799.2 893.3,795.2Z" fill="#66ff99"/>
<path d="M892.7,809.2 892.2,817.2 893.6,817.2 893.1,809.2Z" fill="#99ff66"/>
<path d="M896,775.2 895.6,781.2 895,793.2 894.7,805.2 894.6,817.2 898,817.2 897.9,805.2 897.6,793.2 897,781.2 896.6,775.2Z" fill="#0000cc"/>
<path d="M896,781.2 895.6,785.2 895.1,793.2 894.7,805.2 894.7,817.2 897.9,817.2 897.9,805.2 897.5,793.2 897,785.2 896.6,781.2Z" fill="#0000ff"/>
<path d="M896.1,786.2 895.6,790.2 895.1,798.2 894.9,805.2 894.8,817.2 897.8,817.2 897.7,805.2 897.5,798.2 897,790.2 896.5,786.2Z" fill="#0033ff"/>
<path d="M896,792.2 895.5,796.2 895.1,805.2 895,817.2 897.6,817.2 897.5,805.2 897.1,796.2 896.6,792.2Z" fill="#0066ff"/>
<path d="M896.1,797.2 895.7,800.2 895.3,805.2 895.1,817.2 897.5,817.2 897.3,805.2 896.9,800.2 896.5,797.2Z" fill="#0099ff"/>
<path d="M896,803.2 895.7,806.2 895.4,817.2 897.2,817.2 896.9,806.2 896.6,803.2Z" fill="#00ccff"/>
<path d="M896.2,813.2 895.9,817.2 896.7,817.2 896.4,813.2Z" fill="#00ffff"/>
<path d="M917.3,739.2 916.6,760.2 917.3,778.2 917.7,778.2 918.4,760.2 917.7,739.2Z" fill="#0000cc"/>
<path d="M917.4,752.2 916.9,760.2 917.3,767.2 917.7,767.2 918.1,760.2 917.6,752.2Z" fill="#0000ff"/>
<path d="M921.3,758.2 920.8,765.2 920.4,783.2 921.1,802.2 921.5,802.2 922.2,783.2 921.8,765.2 921.3,758.2Z" fill="#0000cc"/>
<path d="M921.1,767.2 920.5,783.2 920.8,792.2 921.2,796.2 921.4,796.2 921.8,792.2 922.1,783.2 921.5,767.2Z" fill="#0000ff"/>
<path d="M921.1,775.2 920.7,783.2 921.1,789.2 921.5,789.2 921.9,783.2 921.5,775.2Z" fill="#0033ff"/>
<path d="M923.7,723.2 923.1,735.2 923.7,744.2 924.1,744.2 924.7,735.2 924.1,723.2Z" fill="#0000cc"/>
<path d="M923.7,731.2 923.4,735.2 923.8,738.2 924,738.2 924.4,735.2 924.1,731.2Z" fill="#0000ff"/>
<path d="M953.4,755.2 953.1,758.2 952.8,768.2 953.3,778.2 953.7,778.2 954.2,768.2 953.9,758.2 953.6,755.2Z" fill="#0000cc"/>
<path d="M1133.4,787.2 1132.6,798.2 1132.3,808.2 1132.3,817.2 1134.9,817.2 1134.9,808.2 1134.6,798.2 1133.8,787.2Z" fill="#0000cc"/>
<path d="M1133.5,794.2 1133,797.2 1132.7,803.2 1132.5,817.2 1134.7,817.2 1134.5,803.2 1134.2,797.2 1133.7,794.2Z" fill="#0000ff"/>
<path d="M1133.3,802.2 1132.8,808.2 1132.7,817.2 1134.5,817.2 1134.4,808.2 1133.9,802.2Z" fill="#0033ff"/>
<path d="M1133.4,812.2 1133.2,817.2 1134,817.2 1133.8,812.2Z" fill="#0066ff"/>
<path d="M1167.6,730.2 1166.9,747.2 1166.3,771.2 1165.9,794.2 1165.9,817.2 1169.7,817.2 1169.7,794.2 1169.3,771.2 1168.7,747.2 1168,730.2Z" fill="#0000cc"/>
<path d="M1167.7,735.2 1167,747.2 1166.3,771.2 1166,794.2 1166,817.2 1169.6,817.2 1169.6,794.2 1169.3,771.2 1168.6,747.2 1167.9,735.2Z" fill="#0000ff"/>
<path d="M1167.6,741.2 1167,750.2 1166.4,771.2 1166,794.2 1166,817.2 1169.6,817.2 1169.6,794.2 1169.2,771.2 1168.6,750.2 1168,741.2Z" fill="#0033ff"/>
<path d="M1167.7,746.2 1167.1,753.2 1166.5,771.2 1166.1,794.2 1166.1,817.2 1169.5,817.2 1169.5,794.2 1169.1,771.2 1168.5,753.2 1167.9,746.2Z" fill="#0066ff"/>
<path d="M1167.7,751.2 1167.1,757.2 1166.6,771.2 1166.2,794.2 1166.2,817.2 1169.4,817.2 1169.4,794.2 1169,771.2 1168.5,757.2 1167.9,751.2Z" fill="#0099ff"/>
<path d="M1167.7,756.2 1167.2,760.2 1166.7,771.2 1166.3,794.2 1166.3,817.2 1169.3,817.2 1169.3,794.2 1168.9,771.2 1168.4,760.2 1167.9,756.2Z" fill="#00ccff"/>
<path d="M1167.6,761.2 1167.3,764.2 1166.9,771.2 1166.5,794.2 1166.4,817.2 1169.2,817.2 1169.1,794.2 1168.7,771.2 1168.3,764.2 1168,761.2Z" fill="#00ffff"/>
<path d="M1167.6,766.2 1167.1,771.2 1166.7,794.2 1166.6,817.2 1169,817.2 1168.9,794.2 1168.5,771.2 1168,766.2Z" fill="#33ffcc"/>
<path d="M1167.6,771.2 1167,794.2 1166.9,817.2 1168.7,817.2 1168.6,794.2 1168,771.2Z" fill="#66ff99"/>
<path d="M1167.7,792.2 1167.2,817.2 1168.4,817.2 1167.9,792.2Z" fill="#99ff66"/>
<path d="M1174.7,751.2 1174.2,761.2 1173.6,780.2 1173.3,799.2 1173.2,817.2 1176.6,817.2 1176.5,799.2 1176.2,780.2 1175.6,761.2 1175.1,751.2Z" fill="#0000cc"/>
<path d="M1174.7,760.2 1174.2,766.2 1173.7,780.2 1173.3,799.2 1173.3,817.2 1176.5,817.2 1176.5,799.2 1176.1,780.2 1175.6,766.2 1175.1,760.2Z" fill="#0000ff"/>
<path d="M1174.7,767.2 1174.3,772.2 1173.8,783.2 1173.4,799.2 1173.4,817.2 1176.4,817.2 1176.4,799.2 1176,783.2 1175.5,772.2 1175.1,767.2Z" fill="#0033ff"/>
<path d="M1174.8,774.2 1174.3,779.2 1173.8,790.2 1173.6,799.2 1173.6,817.2 1176.2,817.2 1176.2,799.2 1176,790.2 1175.5,779.2 1175,774.2Z" fill="#0066ff"/>
<path d="M1174.8,782.2 1174.3,787.2 1173.8,798.2 1173.7,817.2 1176.1,817.2 1176,798.2 1175.5,787.2 1175,782.2Z" fill="#0099ff"/>
<path d="M1174.8,791.2 1174.5,793.2 1174.1,799.2 1174,817.2 1175.8,817.2 1175.7,799.2 1175.3,793.2 1175,791.2Z" fill="#00ccff"/>
<path d="M1174.8,805.2 1174.5,817.2 1175.3,817.2 1175,805.2Z" fill="#00ffff"/>
<path d="M1182.9,735.2 1182.4,745.2 1181.9,769.2 1181.6,793.2 1181.6,817.2 1184.4,817.2 1184.4,793.2 1184.1,769.2 1183.6,745.2 1183.1,735.2Z" fill="#0000cc"/>
<path d="M1182.8,750.2 1182.4,758.2 1182,775.2 1181.7,793.2 1181.7,817.2 1184.3,817.2 1184.3,793.2 1184,775.2 1183.6,758.2 1183.2,750.2Z" fill="#0000ff"/>
<path d="M1183,762.2 1182.5,768.2 1182.1,782.2 1181.8,794.2 1181.8,817.2 1184.2,817.2 1184.2,794.2 1183.9,782.2 1183.5,768.2 1183,762.2Z" fill="#0033ff"/>
<path d="M1182.8,776.2 1182.4,782.2 1182.1,793.2 1182,817.2 1184,817.2 1183.9,793.2 1183.6,782.2 1183.2,776.2Z" fill="#0066ff"/>
<path d="M1183,789.2 1182.5,794.2 1182.3,817.2 1183.7,817.2 1183.5,794.2 1183,789.2Z" fill="#0099ff"/>
<path d="M1193,704.2 1192.3,721.2 1191.6,754.2 1191.2,786.2 1191.2,817.2 1195.2,817.2 1195.2,786.2 1194.8,754.2 1194.1,721.2 1193.4,704.2Z" fill="#0000cc"/>
<path d="M1193,717.2 1192.4,728.2 1191.8,754.2 1191.3,786.2 1191.3,817.2 1195.1,817.2 1195.1,786.2 1194.6,754.2 1194,728.2 1193.4,717.2Z" fill="#0000ff"/>
<path d="M1193,729.2 1192.5,737.2 1191.9,755.2 1191.4,786.2 1191.4,817.2 1195,817.2 1195,786.2 1194.5,755.2 1193.9,737.2 1193.4,729.2Z" fill="#0033ff"/>
<path d="M1193.1,740.2 1192.7,743.2 1192.4,749.2 1191.9,767.2 1191.6,786.2 1191.5,817.2 1194.9,817.2 1194.8,786.2 1194.5,767.2 1194,749.2 1193.7,743.2 1193.3,740.2Z" fill="#0066ff"/>
<path d="M1193,752.2 1192.4,762.2 1191.8,785.2 1191.7,817.2 1194.7,817.2 1194.6,785.2 1194,762.2 1193.4,752.2Z" fill="#0099ff"/>
<path d="M1193.1,765.2 1192.6,771.2 1192.1,786.2 1191.9,817.2 1194.5,817.2 1194.3,786.2 1193.8,771.2 1193.3,765.2Z" fill="#00ccff"/>
<path d="M1193,780.2 1192.5,786.2 1192.3,817.2 1194.1,817.2 1193.9,786.2 1193.4,780.2Z" fill="#00ffff"/>
<path d="M1196.8,773.2 1196.2,789.2 1195.9,817.2 1198.1,817.2 1197.8,789.2 1197.2,773.2Z" fill="#0000cc"/>
<path d="M1196.8,784.2 1196.5,789.2 1196.1,801.2 1196,817.2 1198,817.2 1197.9,801.2 1197.5,789.2 1197.2,784.2Z" fill="#0000ff"/>
<path d="M1196.9,794.2 1196.4,803.2 1196.2,817.2 1197.8,817.2 1197.6,803.2 1197.1,794.2Z" fill="#0033ff"/>
<path d="M1196.9,809.2 1196.6,817.2 1197.4,817.2 1197.1,809.2Z" fill="#0066ff"/>
<path d="M1203.2,733.2 1202.6,744.2 1202,769.2 1201.7,793.2 1201.7,817.2 1204.9,817.2 1204.9,793.2 1204.6,769.2 1204,744.2 1203.4,733.2Z" fill="#0000cc"/>
<path d="M1203.1,746.2 1202.7,753.2 1202.2,769.2 1201.8,793.2 1201.7,817.2 1204.9,817.2 1204.8,793.2 1204.4,769.2 1203.9,753.2 1203.5,746.2Z" fill="#0000ff"/>
<path d="M1203.1,757.2 1202.5,766.2 1202.1,781.2 1201.9,794.2 1201.8,817.2 1204.8,817.2 1204.7,794.2 1204.5,781.2 1204.1,766.2 1203.5,757.2Z" fill="#0033ff"/>
<path d="M1203.1,768.2 1202.6,776.2 1202.1,793.2 1202,817.2 1204.6,817.2 1204.5,793.2 1204,776.2 1203.5,768.2Z" fill="#0066ff"/>
<path d="M1203.1,780.2 1202.4,793.2 1202.2,817.2 1204.4,817.2 1204.2,793.2 1203.5,780.2Z" fill="#0099ff"/>
<path d="M1203.2,791.2 1202.9,794.2 1202.5,817.2 1204.1,817.2 1203.7,794.2 1203.4,791.2Z" fill="#00ccff"/>
<path d="M1212.9,766.2 1212.6,771.2 1212.1,785.2 1211.8,801.2 1211.8,817.2 1214.2,817.2 1214.2,801.2 1213.9,785.2 1213.4,771.2 1213.1,766.2Z" fill="#0000cc"/>
<path d="M1212.8,779.2 1212.4,785.2 1212.1,797.2 1211.9,817.2 1214.1,817.2 1213.9,797.2 1213.6,785.2 1213.2,779.2Z" fill="#0000ff"/>
<path d="M1212.9,791.2 1212.3,801.2 1212.2,817.2 1213.8,817.2 1213.7,801.2 1213.1,791.2Z" fill="#0033ff"/>
<path d="M1212.9,807.2 1212.6,817.2 1213.4,817.2 1213.1,807.2Z" fill="#0066ff"/>
<path d="M1223.4,750.2 1222.9,759.2 1222.3,779.2 1222,798.2 1221.9,817.2 1225.3,817.2 1225.2,798.2 1224.9,779.2 1224.3,759.2 1223.8,750.2Z" fill="#0000cc"/>
<path d="M1223.4,759.2 1223,765.2 1222.4,779.2 1222,798.2 1222,817.2 1225.2,817.2 1225.2,798.2 1224.8,779.2 1224.2,765.2 1223.8,759.2Z" fill="#0000ff"/>
<path d="M1223.5,767.2 1222.9,773.2 1222.5,785.2 1222.2,798.2 1222.1,817.2 1225.1,817.2 1225,798.2 1224.7,785.2 1224.3,773.2 1223.7,767.2Z" fill="#0033ff"/>
<path d="M1223.4,775.2 1223,780.2 1222.4,794.2 1222.2,817.2 1225,817.2 1224.8,794.2 1224.2,780.2 1223.8,775.2Z" fill="#0066ff"/>
<path d="M1223.5,783.2 1223,787.2 1222.5,798.2 1222.4,817.2 1224.8,817.2 1224.7,798.2 1224.2,787.2 1223.7,783.2Z" fill="#0099ff"/>
<path d="M1223.4,792.2 1222.9,798.2 1222.6,817.2 1224.6,817.2 1224.3,798.2 1223.8,792.2Z" fill="#00ccff"/>
<path d="M1223.6,803.2 1223.3,807.2 1223,817.2 1224.2,817.2 1223.9,807.2 1223.6,803.2Z" fill="#00ffff"/>
<path d="M1229.8,748.2 1229.4,756.2 1229,773.2 1228.7,795.2 1228.7,817.2 1231.3,817.2 1231.3,795.2 1231,773.2 1230.6,756.2 1230.2,748.2Z" fill="#0000cc"/>
<path d="M1229.9,764.2 1229.4,771.2 1229.1,784.2 1228.9,817.2 1231.1,817.2 1230.9,784.2 1230.6,771.2 1230.1,764.2Z" fill="#0000ff"/>
<path d="M1229.9,781.2 1229.6,785.2 1229.2,795.2 1229.1,817.2 1230.9,817.2 1230.8,795.2 1230.4,785.2 1230.1,781.2Z" fill="#0033ff"/>
<path d="M1229.9,803.2 1229.5,817.2 1230.5,817.2 1230.1,803.2Z" fill="#0066ff"/>
<path d="M1267.3,784.2 1266.7,799.2 1266.5,817.2 1268.5,817.2 1268.3,799.2 1267.7,784.2Z" fill="#0000cc"/>
<path d="M1267.4,799.2 1266.9,805.2 1266.8,817.2 1268.2,817.2 1268.1,805.2 1267.6,799.2Z" fill="#0000ff"/>
</g><g>
<linearGradient id="g2_10_1" gradientUnits="userSpaceOnUse" x1="0" x2="0" y1="614.2" y2="813.9"><stop offset="0.000" stop-color="#0000e5" stop-opacity="0.80"/><stop offset="0.053" stop-color="#0000ff" stop-opacity="0.80"/><stop offset="0.284" stop-color="#006eff" stop-opacity="0.80"/><stop offset="0.501" stop-color="#00ffff" stop-opacity="0.82"/><stop offset="0.540" stop-color="#19ffe6" stop-opacity="0.83"/><stop offset="0.795" stop-color="#08fff7" stop-opacity="0.85"/><stop offset="0.800" stop-color="#00ffff" stop-opacity="0.85"/><stop offset="0.930" stop-color="#003cff" stop-opacity="0.85"/><stop offset="0.950" stop-color="#0000ff" stop-opacity="0.85"/><stop offset="0.994" stop-color="#000080" stop-opacity="0.85"/><stop offset="1.000" stop-color="#000080" stop-opacity="0"/></linearGradient>
<path d="M932.64,614.2 932.60,671 932.52,721.9 932.48,772.9 932.48,799.9 932.48,813.9 933.92,813.9 933.92,799.9 933.92,772.9 933.88,721.9 933.80,671 933.76,614.2Z" fill="url(#g2_10_1)"/>
<linearGradient id="g2_12_0" gradientUnits="userSpaceOnUse" x1="0" x2="0" y1="614.2" y2="818.1"><stop offset="0.000" stop-color="#5effa1"/><stop offset="0.421" stop-color="#4cffb3"/><stop offset="0.764" stop-color="#30ffcf"/><stop offset="0.911" stop-color="#0afff5"/><stop offset="0.991" stop-color="#00dfff"/><stop offset="1.000" stop-color="#00daff"/></linearGradient>
<path d="M990.46,614.2 990.22,700 989.77,769.9 989.54,799.9 989.00,818.1 993.20,818.1 992.66,799.9 992.43,769.9 991.98,700 991.74,614.2Z" fill="url(#g2_12_0)" fill-opacity="0.6"/>
<linearGradient id="g2_12_1" gradientUnits="userSpaceOnUse" x1="0" x2="0" y1="614.2" y2="818.1"><stop offset="0.000" stop-color="#ff1a00" stop-opacity="0.81"/><stop offset="0.421" stop-color="#ff3b00" stop-opacity="0.93"/><stop offset="0.764" stop-color="#ff6f00"/><stop offset="0.911" stop-color="#ffb200"/><stop offset="0.991" stop-color="#ffff00"/><stop offset="1.000" stop-color="#f7ff08"/></linearGradient>
<path d="M990.46,614.2 990.22,700 989.96,769.9 989.82,799.9 989.52,818.1 992.68,818.1 992.38,799.9 992.24,769.9 991.98,700 991.74,614.2Z" fill="url(#g2_12_1)"/>
<linearGradient id="g2_13_1" gradientUnits="userSpaceOnUse" x1="0" x2="0" y1="614.2" y2="774.9"><stop offset="0.000" stop-color="#0000bb" stop-opacity="0.80"/><stop offset="0.778" stop-color="#000080" stop-opacity="0"/><stop offset="1.000" stop-color="#000080" stop-opacity="0"/></linearGradient>
<path d="M1045.34,614.2 1045.34,774.9 1046.46,774.9 1046.46,614.2Z" fill="url(#g2_13_1)"/>
<linearGradient id="g2_14_1" gradientUnits="userSpaceOnUse" x1="0" x2="0" y1="614.2" y2="799.9"><stop offset="0.000" stop-color="#0000e5" stop-opacity="0.80"/><stop offset="0.462" stop-color="#0000c3" stop-opacity="0.80"/><stop offset="0.892" stop-color="#000080" stop-opacity="0"/><stop offset="1.000" stop-color="#000080" stop-opacity="0"/></linearGradient>
<path d="M1073.94,614.2 1073.94,700 1073.94,799.9 1075.06,799.9 1075.06,700 1075.06,614.2Z" fill="url(#g2_14_1)"/>
<linearGradient id="g2_15_0" gradientUnits="userSpaceOnUse" x1="0" x2="0" y1="614.2" y2="818.1"><stop offset="0.000" stop-color="#0090ff"/><stop offset="0.095" stop-color="#00dfff"/><stop offset="0.156" stop-color="#14ffeb"/><stop offset="0.406" stop-color="#0afff5"/><stop offset="0.443" stop-color="#00dfff"/><stop offset="0.479" stop-color="#00b5ff"/><stop offset="0.617" stop-color="#007dff"/><stop offset="0.739" stop-color="#007dff"/><stop offset="0.862" stop-color="#00beff"/><stop offset="0.983" stop-color="#00dfff"/><stop offset="1.000" stop-color="#00e4ff"/></linearGradient>
<path d="M1107.18,614.2 1107.10,646 1107.02,697 1106.98,712 1106.82,739.9 1106.53,764.9 1106.22,789.9 1105.60,818.1 1109.80,818.1 1109.18,789.9 1108.87,764.9 1108.58,739.9 1108.42,712 1108.38,697 1108.30,646 1108.22,614.2Z" fill="url(#g2_15_0)" fill-opacity="0.6"/>
<linearGradient id="g2_15_1" gradientUnits="userSpaceOnUse" x1="0" x2="0" y1="614.2" y2="818.1"><stop offset="0.000" stop-color="#6eff90" stop-opacity="0.80"/><stop offset="0.095" stop-color="#ffff00" stop-opacity="0.80"/><stop offset="0.156" stop-color="#ffa200" stop-opacity="0.80"/><stop offset="0.406" stop-color="#ffb200" stop-opacity="0.83"/><stop offset="0.443" stop-color="#ffff00" stop-opacity="0.84"/><stop offset="0.479" stop-color="#b2ff4d" stop-opacity="0.85"/><stop offset="0.617" stop-color="#4dffb2" stop-opacity="0.93"/><stop offset="0.739" stop-color="#4dffb2"/><stop offset="0.862" stop-color="#c3ff3c"/><stop offset="0.983" stop-color="#ffff00"/><stop offset="1.000" stop-color="#fff700"/></linearGradient>
<path d="M1107.18,614.2 1107.10,646 1107.02,697 1106.98,712 1106.82,739.9 1106.64,764.9 1106.47,789.9 1106.12,818.1 1109.28,818.1 1108.93,789.9 1108.76,764.9 1108.58,739.9 1108.42,712 1108.38,697 1108.30,646 1108.22,614.2Z" fill="url(#g2_15_1)"/>
<linearGradient id="g2_20_1" gradientUnits="userSpaceOnUse" x1="0" x2="0" y1="614.2" y2="818.1"><stop offset="0.000" stop-color="#0000f6" stop-opacity="0.80"/><stop offset="1.000" stop-color="#0000d4" stop-opacity="0.80"/></linearGradient>
<path d="M1189.88,614.2 1189.84,818.1 1190.96,818.1 1190.92,614.2Z" fill="url(#g2_20_1)"/>
<linearGradient id="g2_24_0" gradientUnits="userSpaceOnUse" x1="0" x2="0" y1="614.2" y2="818.1"><stop offset="0.000" stop-color="#00d1ff"/><stop offset="0.421" stop-color="#0099ff"/><stop offset="0.715" stop-color="#0086ff"/><stop offset="0.886" stop-color="#00acff"/><stop offset="1.000" stop-color="#00c8ff"/></linearGradient>
<path d="M1206.04,614.2 1205.96,700 1205.72,759.9 1205.20,794.9 1204.58,818.1 1208.62,818.1 1208.00,794.9 1207.48,759.9 1207.24,700 1207.16,614.2Z" fill="url(#g2_24_0)" fill-opacity="0.6"/>
<linearGradient id="g2_24_1" gradientUnits="userSpaceOnUse" x1="0" x2="0" y1="614.2" y2="818.1"><stop offset="0.000" stop-color="#e5ff1a" stop-opacity="0.80"/><stop offset="0.421" stop-color="#80ff80" stop-opacity="0.81"/><stop offset="0.715" stop-color="#5dffa2" stop-opacity="0.93"/><stop offset="0.886" stop-color="#a2ff5e"/><stop offset="1.000" stop-color="#d5ff2a"/></linearGradient>
<path d="M1206.04,614.2 1205.96,700 1205.72,759.9 1205.41,794.9 1205.06,818.1 1208.14,818.1 1207.79,794.9 1207.48,759.9 1207.24,700 1207.16,614.2Z" fill="url(#g2_24_1)"/>
<linearGradient id="g2_26_1" gradientUnits="userSpaceOnUse" x1="0" x2="0" y1="614.2" y2="818.1"><stop offset="0.000" stop-color="#005eff" stop-opacity="0.80"/><stop offset="0.715" stop-color="#006eff" stop-opacity="0.81"/><stop offset="1.000" stop-color="#0090ff" stop-opacity="0.81"/></linearGradient>
<path d="M1223.04,614.2 1222.96,759.9 1222.96,818.1 1224.24,818.1 1224.24,759.9 1224.16,614.2Z" fill="url(#g2_26_1)"/>
<linearGradient id="g2_29_1" gradientUnits="userSpaceOnUse" x1="0" x2="0" y1="614.2" y2="818.1"><stop offset="0.000" stop-color="#0000e5" stop-opacity="0.80"/><stop offset="1.000" stop-color="#0000c3" stop-opacity="0.80"/></linearGradient>
<path d="M1241.08,614.2 1241.04,818.1 1242.16,818.1 1242.12,614.2Z" fill="url(#g2_29_1)"/>
<linearGradient id="g2_30_1" gradientUnits="userSpaceOnUse" x1="0" x2="0" y1="614.2" y2="807.9"><stop offset="0.000" stop-color="#0090ff" stop-opacity="0.80"/><stop offset="0.649" stop-color="#005eff" stop-opacity="0.80"/><stop offset="0.787" stop-color="#0000ff" stop-opacity="0.80"/><stop offset="0.975" stop-color="#000080" stop-opacity="0.80"/><stop offset="1.000" stop-color="#000080" stop-opacity="0"/></linearGradient>
<path d="M1248.68,614.2 1248.64,739.9 1248.64,807.9 1249.76,807.9 1249.76,739.9 1249.72,614.2Z" fill="url(#g2_30_1)"/>
<linearGradient id="g2_32_1" gradientUnits="userSpaceOnUse" x1="0" x2="0" y1="614.2" y2="818.1"><stop offset="0.000" stop-color="#00b2ff" stop-opacity="0.80"/><stop offset="0.617" stop-color="#00a2ff" stop-opacity="0.80"/><stop offset="1.000" stop-color="#005eff" stop-opacity="0.80"/></linearGradient>
<path d="M1305.78,614.2 1305.74,739.9 1305.74,818.1 1306.86,818.1 1306.86,739.9 1306.82,614.2Z" fill="url(#g2_32_1)"/>
</g></g>
<path d="M836.4 614.2H1439.4V818.1H836.4ZM911.8 818.1v-6.4M911.8 614.2v6.4M987.1 818.1v-6.4M987.1 614.2v6.4M1062.5 818.1v-6.4M1062.5 614.2v6.4M1137.9 818.1v-6.4M1137.9 614.2v6.4M1213.3 818.1v-6.4M1213.3 614.2v6.4M1288.7 818.1v-6.4M1288.7 614.2v6.4M1364 818.1v-6.4M1364 614.2v6.4M836.4 616h6.4M1439.4 616h-6.4M836.4 632.7h6.4M1439.4 632.7h-6.4M836.4 651.1h6.4M1439.4 651.1h-6.4M836.4 671.7h6.4M1439.4 671.7h-6.4M836.4 695.1h6.4M1439.4 695.1h-6.4M836.4 722.1h6.4M1439.4 722.1h-6.4M836.4 754h6.4M1439.4 754h-6.4M836.4 772.4h6.4M1439.4 772.4h-6.4M836.4 793h6.4M1439.4 793h-6.4M836.4 816.4h6.4M1439.4 816.4h-6.4" fill="none" stroke="#000" stroke-opacity="0.3" stroke-width="1.25"/>
<text x="836.4" y="832.9" text-anchor="middle">00:00</text>
<text x="911.8" y="832.9" text-anchor="middle">03:00</text>
<text x="987.1" y="832.9" text-anchor="middle">06:00</text>
<text x="1062.5" y="832.9" text-anchor="middle">09:00</text>
<text x="1137.9" y="832.9" text-anchor="middle">12:00</text>
<text x="1213.3" y="832.9" text-anchor="middle">15:00</text>
<text x="1288.7" y="832.9" text-anchor="middle">18:00</text>
<text x="1364" y="832.9" text-anchor="middle">21:00</text>
<text x="1439.4" y="832.9" text-anchor="middle">00:00</text>
<text x="832.5" y="619.9" text-anchor="end">22</text>
<text x="832.5" y="636.6" text-anchor="end">20</text>
<text x="832.5" y="655.1" text-anchor="end">18</text>
<text x="832.5" y="675.7" text-anchor="end">16</text>
<text x="832.5" y="699" text-anchor="end">14</text>
<text x="832.5" y="726" text-anchor="end">12</text>
<text x="832.5" y="757.9" text-anchor="end">10</text>
<text x="832.5" y="776.4" text-anchor="end">9</text>
<text x="832.5" y="797" text-anchor="end">8</text>
<text x="832.5" y="820.3" text-anchor="end">7</text>
<text x="810.2" y="716.2" text-anchor="middle" font-weight="bold" transform="rotate(-90 810.2 716.2)">freq (mHz)</text>
<g><path d="M1458.3 614.20h25.5v3.79h-25.5z" fill="#800000"/><path d="M1458.3 617.39h25.5v3.79h-25.5z" fill="#900000"/><path d="M1458.3 620.57h25.5v3.79h-25.5z" fill="#a00000"/><path d="M1458.3 623.76h25.5v3.79h-25.5z" fill="#b00000"/><path d="M1458.3 626.94h25.5v3.79h-25.5z" fill="#c00000"/><path d="M1458.3 630.13h25.5v3.79h-25.5z" fill="#d00000"/><path d="M1458.3 633.32h25.5v3.79h-25.5z" fill="#e10000"/><path d="M1458.3 636.50h25.5v3.79h-25.5z" fill="#f10000"/><path d="M1458.3 639.69h25.5v3.79h-25.5z" fill="#ff0200"/><path d="M1458.3 642.87h25.5v3.79h-25.5z" fill="#ff1200"/><path d="M1458.3 646.06h25.5v3.79h-25.5z" fill="#ff2200"/><path d="M1458.3 649.25h25.5v3.79h-25.5z" fill="#ff3300"/><path d="M1458.3 652.43h25.5v3.79h-25.5z" fill="#ff4300"/><path d="M1458.3 655.62h25.5v3.79h-25.5z" fill="#ff5300"/><path d="M1458.3 658.80h25.5v3.79h-25.5z" fill="#ff6300"/><path d="M1458.3 661.99h25.5v3.79h-25.5z" fill="#ff7300"/><path d="M1458.3 665.18h25.5v3.79h-25.5z" fill="#ff8400"/><path d="M1458.3 668.36h25.5v3.79h-25.5z" fill="#ff9400"/><path d="M1458.3 671.55h25.5v3.79h-25.5z" fill="#ffa400"/><path d="M1458.3 674.73h25.5v3.79h-25.5z" fill="#ffb400"/><path d="M1458.3 677.92h25.5v3.79h-25.5z" fill="#ffc400"/><path d="M1458.3 681.10h25.5v3.79h-25.5z" fill="#ffd500"/><path d="M1458.3 684.29h25.5v3.79h-25.5z" fill="#ffe500"/><path d="M1458.3 687.48h25.5v3.79h-25.5z" fill="#fff500"/><path d="M1458.3 690.66h25.5v3.79h-25.5z" fill="#f9ff06"/><path d="M1458.3 693.85h25.5v3.79h-25.5z" fill="#e9ff16"/><path d="M1458.3 697.03h25.5v3.79h-25.5z" fill="#d9ff26"/><path d="M1458.3 700.22h25.5v3.79h-25.5z" fill="#c8ff37"/><path d="M1458.3 703.41h25.5v3.79h-25.5z" fill="#b8ff47"/><path d="M1458.3 706.59h25.5v3.79h-25.5z" fill="#a8ff57"/><path d="M1458.3 709.78h25.5v3.79h-25.5z" fill="#98ff67"/><path d="M1458.3 712.96h25.5v3.79h-25.5z" fill="#88ff77"/><path d="M1458.3 716.15h25.5v3.79h-25.5z" fill="#77ff88"/><path d="M1458.3 719.34h25.5v3.79h-25.5z" fill="#67ff98"/><path d="M1458.3 722.52h25.5v3.79h-25.5z" fill="#57ffa8"/><path d="M1458.3 725.71h25.5v3.79h-25.5z" fill="#47ffb8"/><path d="M1458.3 728.89h25.5v3.79h-25.5z" fill="#37ffc8"/><path d="M1458.3 732.08h25.5v3.79h-25.5z" fill="#26ffd9"/><path d="M1458.3 735.27h25.5v3.79h-25.5z" fill="#16ffe9"/><path d="M1458.3 738.45h25.5v3.79h-25.5z" fill="#06fff9"/><path d="M1458.3 741.64h25.5v3.79h-25.5z" fill="#00f5ff"/><path d="M1458.3 744.82h25.5v3.79h-25.5z" fill="#00e5ff"/><path d="M1458.3 748.01h25.5v3.79h-25.5z" fill="#00d4ff"/><path d="M1458.3 751.20h25.5v3.79h-25.5z" fill="#00c4ff"/><path d="M1458.3 754.38h25.5v3.79h-25.5z" fill="#00b4ff"/><path d="M1458.3 757.57h25.5v3.79h-25.5z" fill="#00a4ff"/><path d="M1458.3 760.75h25.5v3.79h-25.5z" fill="#0094ff"/><path d="M1458.3 763.94h25.5v3.79h-25.5z" fill="#0084ff"/><path d="M1458.3 767.12h25.5v3.79h-25.5z" fill="#0073ff"/><path d="M1458.3 770.31h25.5v3.79h-25.5z" fill="#0063ff"/><path d="M1458.3 773.50h25.5v3.79h-25.5z" fill="#0053ff"/><path d="M1458.3 776.68h25.5v3.79h-25.5z" fill="#0043ff"/><path d="M1458.3 779.87h25.5v3.79h-25.5z" fill="#0033ff"/><path d="M1458.3 783.05h25.5v3.79h-25.5z" fill="#0022ff"/><path d="M1458.3 786.24h25.5v3.79h-25.5z" fill="#0012ff"/><path d="M1458.3 789.43h25.5v3.79h-25.5z" fill="#0002ff"/><path d="M1458.3 792.61h25.5v3.79h-25.5z" fill="#0000f1"/><path d="M1458.3 795.80h25.5v3.79h-25.5z" fill="#0000e1"/><path d="M1458.3 798.98h25.5v3.79h-25.5z" fill="#0000d0"/><path d="M1458.3 802.17h25.5v3.79h-25.5z" fill="#0000c0"/><path d="M1458.3 805.36h25.5v3.79h-25.5z" fill="#0000b0"/><path d="M1458.3 808.54h25.5v3.79h-25.5z" fill="#0000a0"/><path d="M1458.3 811.73h25.5v3.79h-25.5z" fill="#000090"/><path d="M1458.3 814.91h25.5v3.19h-25.5z" fill="#000080"/></g>
<path d="M1458.3 614.2H1483.8V818.1H1458.3ZM1458.3 648.2h2.5M1483.8 648.2h-2.5M1458.3 682.2h2.5M1483.8 682.2h-2.5M1458.3 716.2h2.5M1483.8 716.2h-2.5M1458.3 750.1h2.5M1483.8 750.1h-2.5M1458.3 784.1h2.5M1483.8 784.1h-2.5" fill="none" stroke="#000" stroke-opacity="0.35" stroke-width="1.1"/>
<text x="1486.8" y="618.1">4</text>
<text x="1486.8" y="652.1">3</text>
<text x="1486.8" y="686.1">2</text>
<text x="1486.8" y="720.1">1</text>
<text x="1486.8" y="754.1">0</text>
<text x="1486.8" y="788.1">-1</text>
<text x="1486.8" y="822">-2</text>
<text x="1519.4" y="716.2" text-anchor="middle" font-weight="bold" transform="rotate(-90 1519.4 716.2)">log<tspan dy="5.6" font-size="10.4">2</tspan><tspan dy="-5.6">(nT</tspan><tspan dy="-6.5" font-size="10.4">2</tspan><tspan dy="6.5">/Hz)</tspan></text>
<text x="1137.9" y="847.6" text-anchor="middle" font-weight="bold">UT (hours)</text>
</svg>
</body></html>
